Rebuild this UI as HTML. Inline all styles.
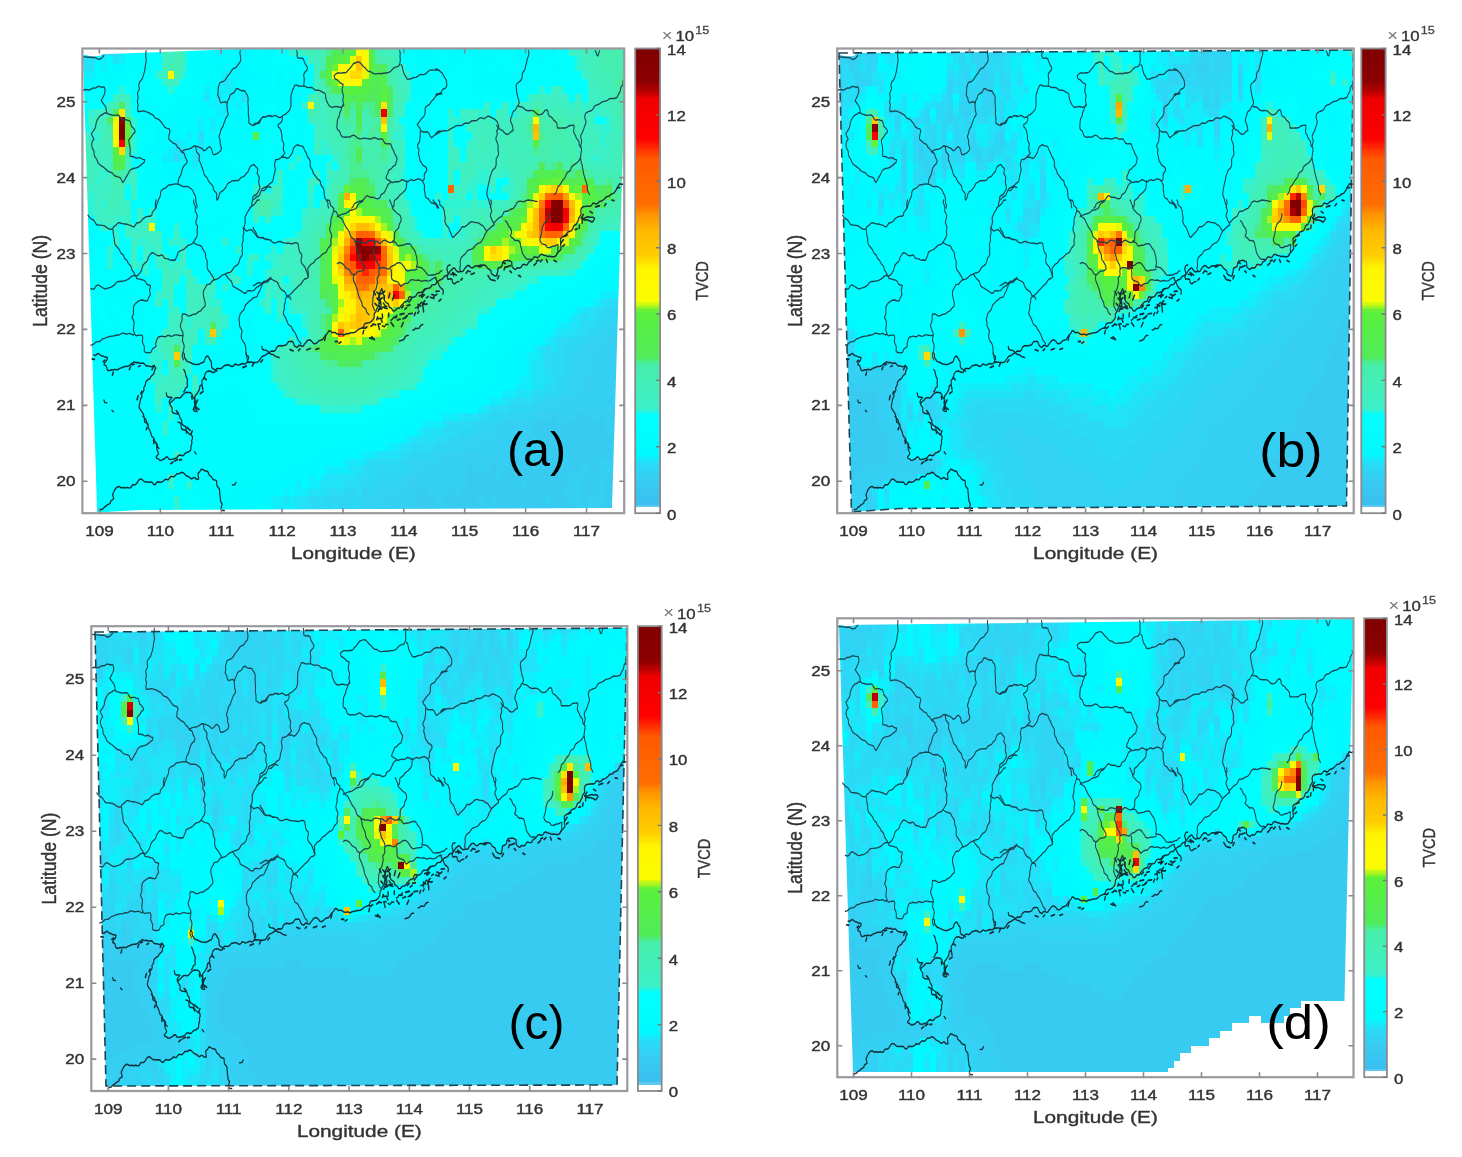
<!DOCTYPE html><html><head><meta charset="utf-8"><style>html,body{margin:0;padding:0;background:#fff;overflow:hidden}svg{display:block;filter:blur(0.5px)}text{font-family:"Liberation Sans",sans-serif}</style></head><body>
<svg width="1462" height="1157" viewBox="0 0 1462 1157">
<rect width="1462" height="1157" fill="#fff"/>
<defs>
<path id="bnd" d="M-0.3,10.3 2.7,11.0 5.9,11.1 9.0,11.5 12.2,11.4 15.3,11.9 18.5,11.9 21.6,11.9 24.6,13.6 27.7,14.2 30.7,13.4 33.0,11.4 35.4,9.4M-0.3,55.8 2.6,54.5 5.7,54.0 8.9,54.5 12.0,54.6 14.9,53.2 17.7,52.0 21.1,52.1 23.9,50.8 26.7,49.7 29.1,50.5 32.1,50.7 36.0,51.1 37.2,54.6 37.0,57.9 35.6,61.0 34.0,63.7 32.4,66.4 30.9,68.8 33.1,71.1 35.1,73.5 37.3,75.8 38.9,78.6 39.3,81.9 40.2,84.9M40.2,84.9 42.9,86.4 45.9,86.9 48.8,87.6 51.8,88.0 55.1,87.7 58.4,87.5 61.1,89.0 63.1,92.4 65.8,94.5 69.0,93.8 72.1,93.7 74.9,95.0 77.5,94.8 78.7,96.8 79.6,99.7 80.6,102.5 83.0,104.3 85.3,106.3 86.8,109.1 86.2,110.7 83.7,111.9 81.7,114.6 80.1,116.7 77.9,118.2 76.0,120.9 76.5,124.1 77.3,127.0 78.1,129.7 78.3,132.7 78.5,135.8 78.3,138.8 78.4,141.9 81.8,142.2 84.7,142.6 87.6,144.2 90.6,144.4 93.7,143.6 96.4,144.5 99.0,146.0 102.5,146.6 101.6,149.9 98.7,151.6 96.5,153.2 94.2,154.6 91.5,156.3 88.6,157.1 85.7,157.8 82.7,158.1 79.6,159.4 77.2,161.3 75.7,164.0 74.1,166.6 72.2,168.9 70.5,171.4 68.8,174.0 66.5,176.5 64.4,173.7 62.9,170.7 60.1,169.4 56.8,168.8 53.8,167.9 51.3,166.3 49.1,164.1 46.3,162.9 43.3,162.3 40.7,160.8 38.2,158.9 35.7,157.1 33.2,155.5 30.8,154.3 28.2,152.8 25.8,150.9 24.5,148.1 23.1,145.5 21.1,143.4 19.5,140.8 19.2,137.7 18.8,134.7 16.9,132.4 15.8,129.6 15.1,127.0 15.5,124.6 16.6,121.7 18.9,119.5 17.3,116.8 15.7,114.3 15.0,112.0 16.7,110.1 18.6,107.7 20.6,105.4 21.8,102.5 22.2,99.4 23.2,96.5 24.6,93.8 26.4,91.4 28.7,89.0 31.3,87.4 34.2,86.6 36.6,84.7 40.2,84.9M104.5,3.0 104.4,6.0 104.0,9.0 104.2,12.1 104.9,15.2 104.6,18.2 103.7,21.2 103.1,24.2 102.8,27.3 101.9,30.3 101.0,33.2 99.8,36.0 98.9,38.9 97.0,41.4 94.4,43.7 92.8,46.5 92.8,49.7 93.6,52.9 92.3,55.7 90.6,58.5 90.7,61.6 91.6,64.8 90.7,67.8 90.3,70.8 91.6,73.9 91.1,76.9 90.6,79.9 91.3,83.0 94.3,83.0 97.3,82.5 100.4,82.1 103.4,82.8 106.4,83.7 109.2,84.4 111.7,86.0 114.7,86.9 117.1,88.8 119.2,91.3 122.1,92.3 125.1,93.2 127.5,95.1 129.7,97.2 131.8,99.3 133.7,101.8 135.8,104.0 138.9,105.1 142.5,105.9 144.1,109.1 142.7,112.6 142.1,115.6 141.7,118.9 144.0,121.1 146.7,122.6 149.0,124.7 152.2,125.5 154.6,127.3 156.3,130.1 159.0,131.5 161.1,133.8 162.9,136.4 166.1,137.3 168.1,139.7 168.8,142.7 170.6,145.2 172.2,148.2 171.1,151.4 168.2,153.2 166.2,155.5 164.5,158.0 163.4,161.0 162.6,164.0 161.5,166.8 159.6,169.2 158.2,171.9 157.5,174.8 156.9,177.8M121.2,210.0 121.5,206.9 122.8,204.1 124.2,201.3 125.5,198.5 127.1,195.8 128.3,192.9 128.4,189.8 129.7,187.0 132.2,185.1 135.2,184.1 138.0,182.8 140.3,180.6 143.2,179.5 146.3,179.6 149.3,178.7 152.3,178.3 155.4,178.6 158.3,178.8 161.1,179.9 163.9,181.4 166.9,182.0 170.2,181.6 173.3,182.0 176.1,183.4 178.9,185.0 181.3,186.9 182.6,190.0 184.3,192.3 185.7,194.8 186.3,197.8 186.3,200.9 187.0,203.9 188.3,206.8 187.9,210.0M164.0,135.0 166.8,133.8 169.8,133.2 172.8,132.7 175.7,132.2 178.6,131.3 181.2,129.5 184.2,128.0 186.4,130.0 186.8,133.2 187.6,136.1 189.9,138.3 192.1,140.7 191.9,143.9 191.6,147.1 193.3,149.8 194.8,152.4 195.8,155.2 197.2,157.9 198.3,160.7 199.4,163.5 200.4,166.5 202.7,168.6 205.2,170.5 206.5,173.3 208.2,175.8 210.6,177.8 213.1,179.8 214.8,182.3 215.2,185.5 217.1,187.9 219.9,190.0 220.8,192.9 220.4,196.4 221.0,199.8 223.0,197.6 224.3,194.8 225.0,191.7 226.7,189.1 229.8,187.8 232.2,186.0 234.4,183.9 236.5,181.8 237.9,178.9 240.1,176.9 243.4,175.9 245.3,174.5 247.2,174.1 250.1,174.2 253.2,173.9 256.2,174.0 258.4,172.2 260.4,170.0 263.5,169.1 266.4,167.9 268.3,165.4 270.6,163.5 272.9,161.5 273.9,158.3 275.7,155.5 278.3,154.0 281.4,152.8 283.4,153.9 285.1,156.0 287.8,157.9 287.9,161.1 287.0,164.3 288.9,167.0 290.6,169.7 290.1,172.8 289.6,175.8 290.2,178.8 291.4,181.8 291.3,185.0 289.6,187.5 287.8,190.0 285.9,192.3 282.7,193.3 280.1,195.3 279.9,198.6 279.1,201.5 278.1,204.4 277.9,207.5 276.0,210.0M185.5,128.6 188.6,128.9 191.4,130.0 194.3,130.9 197.1,132.3 199.6,134.6 202.8,133.9 205.1,131.3 208.2,129.1 211.3,131.0 212.8,134.1 213.6,137.0 214.6,139.7 218.0,139.6 220.8,138.4 223.9,137.0 227.0,135.0 228.5,132.1 227.3,128.2 226.1,125.5 226.5,122.7 225.9,119.7 224.3,116.6 225.5,113.4 226.7,110.5 227.3,107.6 229.0,105.0 230.9,102.7 231.9,99.7 233.3,97.0 234.5,94.2 235.8,91.5 238.0,89.2 239.6,86.6 238.9,83.7 237.8,81.1 237.9,78.0 237.4,75.0 237.6,72.0 234.8,70.1 231.6,70.7 227.8,71.7 225.7,68.9 225.0,65.6 223.4,63.0 222.1,60.8 223.0,58.2 223.0,55.1 223.1,51.8 224.3,48.5 225.6,45.4 228.5,44.1 231.8,43.2 234.4,41.5 236.4,39.2 238.2,36.8 240.3,34.6 242.5,32.6 244.4,30.1 246.4,27.7 248.9,26.0 252.1,25.1 254.2,22.9 256.2,20.6 258.6,18.5 260.0,15.5 260.0,12.2 259.4,9.1 258.7,6.0 259.3,3.0M237.9,72.2 238.4,69.1 240.4,66.7 241.7,64.0 242.8,61.2 245.3,59.6 248.2,58.4 250.6,56.6 252.2,53.3 255.5,52.8 258.4,54.4 261.3,55.6 264.4,55.3 267.1,56.3 268.7,59.0 271.0,61.4 272.0,64.2 272.2,67.6 271.9,70.8 272.2,73.8 272.6,76.8 272.6,79.8 272.6,82.7 272.5,85.7 272.9,88.7 273.5,91.6 273.5,94.7 273.3,97.9 276.1,99.5 278.8,101.0 281.8,101.2 284.5,99.6 287.5,99.0 290.6,98.2 292.3,95.5 293.7,92.8 295.7,90.5 298.3,89.8 300.8,90.3 303.8,89.0 306.8,88.5 309.8,88.6M295.1,186.9 298.3,187.2 300.9,185.3 303.4,182.7 306.4,182.0 309.8,183.2M352.0,3.0 352.9,6.1 352.5,9.0 353.3,12.0 356.5,13.0 360.3,12.3 363.1,14.0 364.4,17.2 365.8,19.9 367.7,22.5 369.8,25.5 368.7,28.8 365.7,31.0 363.7,33.6 363.7,36.9 364.5,40.0 364.3,43.2 363.8,46.3 363.9,49.4M363.9,49.4 360.8,49.6 357.8,49.6 354.7,49.4 351.7,48.0 348.6,48.5 347.2,51.7 345.4,54.1 344.7,56.8 343.3,59.7 342.6,62.7 342.7,65.8 342.4,68.9 342.7,72.0 342.6,75.2 341.7,78.1 340.6,81.1 338.2,83.1 335.7,84.9 333.2,86.7 330.3,87.8 328.0,89.4 325.3,90.7 322.2,90.9 319.3,89.1 316.3,88.1 313.1,89.1 310.1,89.6 307.0,88.5 303.9,88.6 301.1,90.3 298.0,90.5 295.1,90.7 293.2,92.9 290.9,95.0 288.9,97.4 285.8,98.3 282.7,98.8 280.5,101.3M328.2,90.4 328.4,94.2 326.9,96.8 324.3,98.7 321.1,100.4 321.8,103.2 324.4,105.4 326.0,108.0 326.9,111.0 327.6,114.0 327.9,117.1 327.9,120.3 329.6,123.0 331.0,125.7 330.5,129.0 329.9,132.2 330.9,135.1 332.7,137.7 330.8,139.8 328.4,141.7 326.3,143.7 323.9,145.0 320.9,146.2 318.2,146.3 317.1,146.7 316.6,149.5 315.6,152.5 316.1,155.5 317.0,158.7 316.4,161.7 315.6,164.6 314.4,167.5 313.8,170.4 313.1,173.8 311.4,176.3 308.3,177.7 305.9,179.6 303.6,181.4 300.8,182.4 298.0,183.5 295.2,184.7 293.7,187.4 292.3,190.1 290.9,193.0 288.4,194.9 285.2,195.7 283.0,197.8 280.5,199.6M363.9,49.4 366.8,50.3 369.6,51.5 372.8,51.3 375.9,51.2 378.7,52.3 381.5,54.5 384.5,55.0 387.5,54.8 390.2,55.4 392.6,56.8 395.5,57.9 398.3,59.0 399.5,61.3 399.6,64.2 400.3,67.2 401.9,69.9 403.1,72.3 405.0,74.8 407.3,76.8 410.5,77.4 413.5,76.8 416.4,76.3 419.5,76.7 422.8,77.6 426.0,77.0 429.4,74.8 428.4,71.0 427.7,68.1 428.5,64.9 428.8,61.8 427.6,58.9 426.7,56.0 426.8,53.2 427.5,50.4 428.2,47.3 425.8,46.2 423.1,45.0 420.8,42.8 418.1,41.0 415.8,40.2 414.5,39.1 413.5,35.8 416.1,33.7 419.0,32.1 422.0,32.2 425.1,32.5 428.1,31.9 431.4,32.0 434.5,30.9 436.6,28.4 439.0,26.6 441.2,24.5 443.2,22.2 445.1,20.1 447.8,19.1 450.7,18.1 453.7,17.6 456.3,18.8 458.6,20.7 460.7,23.0 463.2,24.7 465.6,26.5 467.7,28.8 470.4,30.3 473.6,30.5 476.3,32.0 479.1,33.2 482.1,33.5 485.0,33.1 488.0,32.8 491.1,33.2 494.1,32.6 497.1,32.1 500.1,32.2 503.1,31.5 506.0,30.4 508.3,28.4 510.5,26.4 513.1,24.8 516.3,24.2 519.5,23.3 521.1,20.5 522.0,17.6 522.3,14.5 521.8,12.0 521.9,9.0 522.2,5.8 521.1,3.0M428.2,74.0 426.6,76.6 425.7,79.4 424.2,82.1 422.7,84.7 422.4,87.8 421.0,90.5 419.3,93.1 418.7,96.1 418.4,99.2 418.1,102.3 418.3,105.3 420.1,107.7 422.3,108.5 423.6,111.5 425.0,114.7 427.5,116.3 430.5,116.9 433.2,116.4 436.2,116.8 439.2,116.6 442.1,115.1 445.3,114.0 448.4,115.3 451.0,117.3 453.8,118.5 456.8,119.0 459.8,118.7 462.7,118.1 465.7,118.4 468.7,118.7 471.7,119.2 474.7,119.1 477.6,117.8 480.6,117.4 483.5,118.5 486.1,119.6 489.7,119.0 492.9,119.3 494.8,122.0 497.0,124.8 499.9,125.6 503.2,125.3 506.5,125.7 507.9,128.5 508.8,131.4 510.7,133.9 512.1,136.5 513.4,139.2 515.1,141.6 517.0,144.3 516.3,147.5 515.3,150.4 514.4,153.3 511.8,154.5 509.4,156.2 507.3,158.5 504.2,159.4 502.6,162.1 501.5,164.9 499.8,167.5 498.6,170.9 501.7,173.1 504.8,174.0 507.2,176.0 503.9,177.8 501.4,179.7 500.5,182.3 498.9,184.7 497.3,187.6 495.5,190.0 492.6,191.3 490.1,193.1 488.8,196.4 485.7,197.9 482.5,197.7 479.5,196.3 476.5,195.7 473.4,196.2 470.6,195.0 467.7,193.7 465.0,195.6 462.7,198.1 460.4,199.9 457.8,200.8 454.5,201.2 451.6,202.3 448.6,203.2 446.1,205.1 444.9,208.1 442.5,210.0M506.8,176.0 509.9,176.5 513.0,175.6 516.1,175.1 519.2,175.6 522.1,174.3 525.0,172.7 528.3,173.5 531.6,175.3 534.8,175.6 537.6,173.6 540.7,172.8 543.9,174.0 546.8,173.3 550.0,172.1 553.2,171.8 556.1,173.0 558.7,174.6 560.0,176.9 561.8,179.6 561.9,182.8 561.6,186.0 562.5,189.0 563.0,192.0 563.4,195.3 565.9,197.1 568.7,198.4 570.7,201.0 572.9,203.2 576.2,203.8 579.5,204.8 581.7,206.9 583.1,210.0M533.1,174.1 532.7,177.2 532.5,180.3 532.2,183.3 530.7,186.1 528.5,187.9 526.3,190.0 523.7,191.6 521.0,193.2 519.1,195.7 516.8,197.7 514.0,199.1 512.0,201.4 512.2,204.5 511.5,207.5 509.2,210.0M523.5,21.2 525.5,23.7 526.1,26.8 527.0,29.7 528.1,32.7 529.9,35.2 531.9,37.7 533.2,40.1 535.4,40.3 538.5,40.2 541.4,39.2 544.4,38.4 547.5,38.1 550.4,37.0 553.1,35.2 556.0,34.1 559.2,34.4 562.3,34.0 565.0,32.4 567.5,30.5 570.2,29.0 573.3,28.1 576.5,28.5 579.5,28.4 582.6,28.1 585.7,28.3 588.1,30.5 590.7,32.1M590.7,59.4 587.7,59.9 584.6,60.3 581.9,61.7 579.5,63.8 577.6,66.3 575.3,68.1 572.9,69.9 571.3,72.5 569.0,74.4 566.0,75.7 563.5,77.5 562.9,80.7 563.1,83.9 562.5,86.9 560.7,89.6 558.2,91.6 555.9,93.6 554.0,95.9 552.1,98.2 550.1,99.8 551.7,102.4 554.1,104.3 555.4,107.1 555.1,109.5 555.0,112.1 555.0,115.2 554.4,118.2 554.2,121.2 553.0,124.0 550.8,126.7 550.7,130.0 552.9,132.9 552.4,136.0 551.9,139.2 553.5,141.9 553.9,145.0 554.8,148.0 556.9,150.4 558.5,152.9 560.9,154.6 563.8,155.8 565.7,158.4 565.5,161.0 563.4,163.3 561.6,165.9 561.5,169.1 561.5,172.2 559.3,174.1M556.9,108.6 559.8,110.0 563.3,109.8 567.0,110.0 569.6,112.4 571.3,115.5 573.7,117.6 576.3,115.6 579.1,114.0 582.0,112.6 584.9,111.3 587.6,109.7 590.7,108.6M354.4,126.8 357.1,128.3 360.4,128.3 363.1,129.8 364.3,132.7 365.9,135.3 367.8,137.7 368.9,140.5 370.3,142.9 372.5,145.5 374.2,148.3 374.4,151.4 374.1,154.5 375.5,157.2 377.4,159.6 378.5,162.5 379.9,165.2 382.2,167.2 384.3,169.5 386.2,171.9 389.2,173.2 391.1,175.8 391.5,179.1 393.3,181.4 395.7,183.8 396.7,186.7 397.1,189.8 397.3,193.0 398.1,196.0 399.6,198.7 401.9,201.1 403.5,203.8 403.2,207.2 404.4,210.0M354.4,126.8 351.4,127.6 348.7,129.2 346.7,131.4 345.8,134.4 344.7,137.3 342.8,139.8 340.8,142.1 338.5,144.1 335.8,144.9 334.3,143.7 331.7,143.1 328.2,143.2M732.8,3.0 733.5,6.2 732.9,9.2 731.5,12.1 730.4,15.0 729.9,17.9 728.9,20.8 727.9,23.7 727.2,26.7 725.7,29.4 723.3,31.7 722.5,34.6 722.4,38.0 721.1,40.9 718.9,43.0 716.2,44.8 713.3,46.8 712.3,50.2 712.9,53.5 713.3,56.5 713.9,59.5 714.8,62.4 715.5,65.3 716.8,68.3 717.6,71.4 716.2,74.5 714.0,76.3 712.7,79.1 710.7,81.4 707.9,82.9 706.2,85.5 705.5,88.6 703.9,91.3 703.1,94.5 704.2,97.7 705.9,100.4 706.7,103.3 707.3,106.3 707.6,108.2 705.2,108.8 702.6,110.6 700.5,112.5 698.1,113.2 695.1,112.3 692.7,110.3 690.5,108.2 687.5,107.1 684.8,105.7 682.3,103.8 680.4,101.3M716.1,75.8 719.0,76.7 722.1,77.0 724.8,78.5 727.4,80.6 730.2,81.7 733.3,82.0 736.5,81.7 739.5,81.9 742.4,82.9 745.1,84.9 747.8,86.9 751.3,87.5 754.7,86.5 757.4,84.4 759.7,81.7 762.9,80.6 764.8,83.0 765.3,86.3 767.0,89.0 770.2,90.3 772.5,92.3 774.5,94.6 777.2,96.2 779.4,98.5 779.8,101.6 780.3,104.7 783.1,104.7 786.2,104.8 789.2,104.7 792.3,104.7 795.3,104.3 798.1,102.4 801.0,101.4 804.1,101.3 807.4,101.1 807.7,104.7 807.0,107.8 807.1,110.7 808.7,112.7 810.3,115.1 811.4,118.3 813.6,120.2 815.7,122.5 815.9,125.7 816.9,128.5 819.7,130.9 820.0,134.1 819.0,137.1 818.7,140.1 818.3,143.1 817.2,145.5 815.5,147.8 813.3,149.9 810.6,151.5 807.9,153.0 805.1,154.5 803.1,156.8 801.9,159.9 799.7,161.9 796.7,163.1 794.8,165.5 793.6,168.7 791.8,171.1 789.4,173.0 787.5,175.4 785.8,178.0 783.8,180.3 781.3,181.8 780.0,184.3 779.5,187.4 778.1,190.1 775.7,192.3M580.4,112.2 582.9,109.7 585.9,109.0 589.0,108.8 592.2,108.7 595.2,108.2 598.4,108.5 601.4,107.9 604.1,106.2 606.9,105.0 609.8,103.8 612.5,102.3 615.5,101.6 618.7,101.2 621.9,101.5 624.8,100.6 627.5,98.7 630.6,98.1 633.9,98.7 636.7,97.3 639.3,95.3 642.5,95.2 645.7,95.2 648.6,94.3 651.2,92.3 654.2,91.1 657.3,91.8 660.5,92.2 663.4,90.5 666.5,89.0 669.7,89.9 672.8,91.2 675.7,92.3 678.7,93.9 681.3,96.4 682.8,99.2 684.2,102.8 682.5,106.1 680.4,108.6M680.4,108.6 681.8,111.6 680.8,114.6 679.3,117.7 679.7,120.9 681.4,123.6 682.4,126.4 683.0,129.2 682.9,131.7 682.7,134.3 683.7,137.5 683.3,140.5 681.4,143.1 679.8,145.1 679.6,148.3 679.8,152.0 679.1,155.1 677.6,157.5 674.9,159.4 672.7,161.7 671.8,164.6 670.3,167.3 669.3,170.2 668.8,173.2 667.9,176.0 667.0,178.8 666.3,181.7 665.4,184.6 665.0,187.6 664.3,190.4 664.7,193.3 665.8,196.1 667.4,198.6 668.0,201.5 669.0,204.3 670.9,206.9 670.9,210.0M580.4,26.7 583.4,27.5 585.8,29.3 588.6,30.6 591.1,32.4 592.8,35.1 594.7,37.5 596.4,40.1 597.7,41.8 598.2,44.1 598.6,47.3 598.1,50.4 595.9,52.5 592.8,53.3 590.7,55.5 588.9,58.1 586.0,59.1 582.9,59.4 580.4,61.2M818.6,130.4 818.7,127.4 819.7,124.3 820.1,121.3 819.0,118.2 818.4,115.1 819.9,112.3 821.7,109.8 823.1,107.1 824.2,104.2 825.5,101.5 826.8,98.6 827.1,95.6 825.6,92.3 825.2,89.0 826.7,85.3 830.2,83.6 833.0,82.6 836.1,81.9 838.5,80.1 840.2,77.4 842.4,75.2 845.5,74.3 848.4,73.4 851.1,71.9 853.8,70.4 856.8,69.6 859.8,69.1 862.7,68.2 865.4,66.4 868.2,65.6 871.5,66.0 874.5,65.5 877.5,64.9 879.3,62.8 880.6,60.0 882.7,57.5 883.9,54.7 884.4,51.6 886.4,49.1 888.5,46.8 887.7,43.0M818.6,145.0 819.0,148.1 819.7,151.1 821.2,154.0 821.4,157.1 822.3,160.0 822.9,163.0 823.7,166.0 824.8,168.9 825.7,171.9 827.1,174.7 828.2,177.6 829.2,180.5 829.5,183.7 829.5,186.9 831.5,189.5 832.9,192.3M842.4,3.0 844.4,6.0 845.4,9.4 846.8,9.7 848.3,6.3 849.6,3.0M9.2,219.6 11.2,221.8 13.5,223.8 16.4,225.0 19.0,226.7 20.9,229.1 22.9,231.8 26.1,232.6 29.3,232.6 32.4,233.0 35.5,233.4 38.1,234.6 40.7,236.3 43.6,237.7 46.6,238.2 49.6,237.4 51.1,234.9 53.9,233.4 56.4,231.6 58.6,229.7 61.1,229.5 64.0,230.3 66.9,231.0 69.9,231.1 72.9,231.4 75.8,232.3 78.8,232.8 81.6,234.3 85.0,234.8 87.2,232.1 89.3,229.8 92.6,229.2 95.5,228.2 97.8,226.1 99.9,224.0 102.5,222.7 105.3,221.4 108.3,221.0 111.5,221.0 114.2,219.5 114.6,216.3 116.7,213.9 119.2,211.7 120.1,208.7 119.7,205.4 120.4,202.5 121.2,199.5M49.7,237.8 50.7,240.7 50.7,243.7 51.2,246.7 52.4,249.5 52.5,252.5 52.9,255.8 54.1,258.7 56.4,260.8 58.7,262.9 60.9,265.1 62.2,267.9 64.1,270.2 67.0,271.8 68.5,274.5 70.0,277.0 72.7,278.7 74.4,281.3 76.0,283.8 78.7,285.5 80.4,288.1 81.2,291.3 83.1,293.7 85.2,295.9 86.6,298.8 89.3,299.8 92.2,297.8 94.4,295.7 96.2,293.2 97.7,290.4 98.7,287.3 100.0,284.7 102.4,282.7 105.2,281.0 107.1,278.7 108.1,275.5 110.0,273.1 111.9,270.7 114.7,268.8 117.8,269.8 120.3,271.3 123.1,272.7 126.1,273.0 129.7,271.9 132.5,273.2 134.5,276.0 137.6,276.7 140.6,277.1 143.3,278.4 146.3,278.9 149.4,278.6 152.0,279.0 153.4,276.7 155.0,274.1 156.3,271.4 157.1,268.4 159.8,266.9 162.7,265.9 165.5,264.8 168.2,263.5 170.6,261.6 173.1,259.6 175.9,258.7 178.9,258.0 181.4,256.2 183.2,254.2 184.8,251.8 186.9,249.5 188.3,246.8 188.7,243.8 188.4,241.4 188.5,238.5 189.2,235.3 188.0,232.4 186.3,229.6 186.8,226.5 188.3,223.2 188.7,220.1 187.3,217.2 185.4,214.5 185.3,211.4 185.5,208.3 184.0,205.5 182.7,202.7 183.1,199.5M183.1,256.0 185.9,257.4 188.7,258.6 191.7,259.0 194.5,260.0 196.3,261.2 197.1,263.4 199.2,265.9 201.4,268.3 202.3,271.2 202.3,274.4 203.6,277.2 205.1,280.0 205.0,283.1 204.8,286.3 205.2,289.4 206.7,292.1 209.1,294.3 211.1,296.6 212.9,298.9 214.8,301.2 216.2,304.3 214.4,305.7 212.0,307.6 209.8,310.1 206.9,310.7 203.9,311.4 202.5,314.2 200.7,316.6 199.0,319.1 198.5,322.2 198.7,324.8 199.4,327.6 200.4,330.5 201.2,333.4 201.9,336.4 201.5,339.2 198.9,341.1 196.6,343.2 194.4,345.4 191.4,346.6 188.7,348.1 186.1,349.7 182.9,350.1 179.9,350.7 176.9,352.1 173.7,352.2 170.7,350.6 167.7,349.5 164.2,349.9 163.6,353.1 163.8,356.2 163.2,359.2 161.7,362.0 160.8,365.1 161.7,368.1 163.2,371.0 164.8,373.8 165.6,376.7 165.0,379.9 164.4,383.1 164.7,386.1 166.4,388.9 167.3,391.9 166.6,395.0 166.1,398.0 164.7,401.1 163.9,404.1 164.6,407.1 166.4,410.2M87.8,299.7 84.4,298.9 81.4,299.8 78.7,301.7 75.9,303.4 73.1,304.8 70.1,305.8 67.1,306.3 63.9,306.6 60.7,306.8 57.4,307.1 54.7,309.1 52.6,311.5 49.8,313.0 47.4,314.3 44.9,315.0 41.8,315.5 38.5,316.6 35.5,316.1 32.5,314.5 29.4,313.1 26.0,311.3 22.9,312.4 20.2,316.0 17.2,317.2 13.9,316.1M87.8,299.7 89.1,302.9 92.5,303.4 95.8,304.1 98.5,304.9 101.3,305.1 103.7,307.1 105.8,310.2 108.5,311.5 111.9,311.9 111.4,315.2 110.2,318.2 111.0,321.2 111.6,324.2 110.0,326.6 108.3,329.0 107.2,331.9 104.5,332.6 101.5,331.9 98.6,331.2 95.9,331.5 92.9,332.5 90.2,334.0 87.3,335.7 84.8,338.5 83.9,341.7 83.8,344.8 84.0,348.0 83.1,350.9 81.6,353.8 83.2,357.0 84.8,359.8 84.8,362.9 84.3,365.9 83.8,369.0 84.1,372.0 85.7,375.0 84.0,377.4 80.6,376.2 77.6,375.2 74.6,375.8 71.6,376.0 68.6,375.2 65.6,374.8 62.6,376.2 59.6,377.5 56.7,377.3 53.9,378.0 51.1,378.8 47.9,378.8 45.0,379.3 42.0,379.8 39.1,380.8 36.2,381.7 33.3,382.3 30.8,384.3 28.2,385.9 25.1,386.1 22.1,386.7 19.6,388.6 16.9,390.1 13.9,390.7M85.4,376.1 88.1,378.4 91.3,377.8 94.4,377.4 98.0,377.4 99.3,380.8 98.7,384.0 98.7,387.1 100.3,389.8 101.7,392.6 101.7,395.7 101.6,399.0 104.0,400.4 107.1,400.6 110.0,400.9 112.4,400.2 113.9,397.5 115.6,394.9 118.8,393.9 120.9,392.0 120.4,388.8 121.4,386.0 122.4,382.9 124.3,380.3 127.6,379.4 130.5,378.7 133.8,379.5 136.9,379.6 139.7,377.9 142.8,378.0 145.8,379.1 148.9,378.4 151.9,377.2 154.9,377.1 158.0,377.7 161.0,378.2 164.0,378.0M216.4,305.1 219.3,304.1 222.2,303.3 225.0,301.9 227.5,300.0 230.0,298.3 232.9,297.4 235.6,296.4 238.5,295.5 241.8,295.0 244.6,293.7 246.7,291.4 248.5,288.8 250.8,286.9 253.7,285.6 256.1,283.6 257.5,280.8 258.4,277.8 259.8,275.1 262.0,272.9 263.0,270.0 262.3,267.1 262.9,264.3 262.8,261.2 262.1,258.2 263.4,255.2 264.3,252.2 263.8,249.1 264.0,246.1 265.3,243.1 264.9,240.1 264.5,237.1 265.9,234.3 266.8,231.5 267.5,228.6 267.3,225.4 267.1,222.2 268.8,219.5 270.1,217.0 271.9,214.6 273.8,212.3 275.2,209.5 277.7,207.9 280.5,206.6 282.9,204.8 285.1,202.6 286.9,199.8 290.3,199.5M264.1,235.9 266.7,237.9 269.3,240.4 272.5,239.5 275.8,238.5 278.7,239.4 280.6,241.2 282.5,243.2 284.8,245.3 286.5,247.6 289.3,249.1 292.4,249.3 295.8,248.8 298.5,249.9 300.9,251.5 303.8,251.3 306.8,252.1 309.8,252.3M235.5,297.8 237.4,300.3 239.6,302.5 242.0,304.5 244.5,306.3 246.0,309.2 247.1,312.6 249.7,314.4 252.8,315.5 255.6,317.0 258.5,318.2 261.2,319.6 263.8,321.3 266.6,322.6 269.3,321.7 270.8,319.2 274.2,318.8 278.1,319.2 281.1,318.9 283.3,317.0 285.9,314.6 288.7,313.6 291.2,312.4 293.6,310.6 295.8,308.2 298.4,306.5 301.7,306.0 304.6,304.8 307.2,303.1 309.8,301.5M297.4,308.8 295.2,310.9 294.1,313.8 292.6,316.4 291.4,319.2 289.5,321.6 288.1,324.2 286.6,327.0 283.3,327.7 280.3,328.6 278.0,330.6 275.3,331.9 272.9,333.8 270.6,335.8 268.1,337.3 266.9,340.1 265.9,343.1 263.8,345.3 261.4,347.2 259.3,349.4 258.5,352.3 257.3,355.2 257.3,358.2 258.1,361.3 258.0,364.1 258.9,366.9 261.0,369.4 262.3,372.2 261.5,375.5 260.8,378.8 261.4,381.8 262.8,384.5 264.9,386.9 266.9,389.4 267.9,392.2 268.4,395.3 268.4,398.5 268.9,401.5 269.8,404.3 270.2,407.3 271.2,410.2M280.5,235.9 281.8,238.7 284.1,240.9 285.6,243.2 286.8,246.0 289.2,248.4 292.2,249.1 295.3,249.4 298.2,250.2 301.2,250.9 304.2,251.4 307.1,251.9 309.9,253.4 312.6,255.4 315.6,256.1 318.8,255.6 322.0,254.4 325.0,254.1 328.0,255.2 330.9,255.9 334.0,256.3 337.0,256.5 340.0,256.5 343.0,257.2 346.1,256.8 349.1,255.7 352.1,255.9 354.2,257.0 354.6,259.8 355.5,262.7 355.9,265.7 357.3,268.5 360.1,271.0 360.5,274.0 359.3,277.3 359.3,280.5 360.5,283.3 362.8,285.4 365.2,287.5 366.7,290.2 367.9,292.9 369.3,295.7 370.2,298.6 371.1,301.5M402.0,199.5 405.8,200.2 407.0,203.1 407.6,206.6 410.2,208.4 413.0,210.7 412.4,214.2 411.5,217.1 410.2,219.9 408.9,222.7 408.2,225.6 408.1,228.7 408.0,231.7 406.9,234.6 406.1,237.6 406.8,240.6 408.4,243.4 409.5,246.3 408.9,249.4 408.0,252.4 408.4,255.2 408.2,258.7 406.1,260.9 403.6,262.8 402.1,265.4 400.5,268.1 397.9,269.5 395.0,270.5 392.6,272.3 390.2,274.2 387.7,275.8 385.0,277.2 382.5,278.7 380.7,281.3 378.3,283.1 375.3,284.2 373.3,286.4 371.3,288.4 370.1,289.9 370.6,292.4 370.9,295.4 371.3,298.4 371.1,301.5M371.1,301.5 368.3,302.9 365.2,303.6 362.8,305.6 360.7,308.1 358.7,310.4 356.1,312.0 353.6,313.8 351.4,315.9 348.8,317.7 346.5,319.6 344.2,321.6 341.8,323.6 339.2,325.3 336.3,326.3 334.2,328.5 333.4,331.5 333.1,334.8 331.9,337.4 331.7,340.2 331.7,343.2 330.4,346.3 330.0,349.5 331.8,352.0 333.7,354.3 335.1,357.1 336.5,359.9 337.8,362.8 340.5,364.6 343.3,366.3 344.7,369.1 346.6,371.4 348.8,373.7 350.4,376.3 351.9,379.0 353.3,381.7 354.8,384.5 357.1,386.6 359.1,388.9M413.9,214.1 417.0,215.0 418.6,217.9 420.3,220.8 422.7,222.3 425.5,223.8 427.4,226.2 428.9,228.9 430.6,231.4 432.0,234.0 433.9,236.4 436.1,238.5 438.0,240.8 439.3,243.7 440.4,246.8 442.2,249.0 445.3,250.6 447.8,252.7 448.9,255.7 449.3,258.8 449.7,261.8 451.0,264.6 452.5,267.2 454.1,269.7 455.2,272.5 455.4,275.9 456.6,278.7 458.8,280.9 460.7,283.5 462.6,286.2 463.5,290.0 460.4,292.5 457.1,293.0 453.9,293.2 451.2,294.7 448.9,296.8 446.4,297.9 445.4,299.8 445.0,303.0 445.7,306.0 447.2,308.7 448.7,311.4 449.9,314.2 451.3,316.9 452.4,319.7 453.0,322.7 453.9,325.7 455.2,328.4 456.7,331.1 458.6,333.5 459.5,336.5 460.2,339.7 463.2,341.4 465.8,343.3 466.6,346.5 468.5,348.8 471.1,350.6M418.7,283.3 422.2,281.6 425.1,282.7 428.2,283.9 430.6,286.3 432.7,288.9 435.4,290.3 438.4,291.3 440.3,293.7 441.8,296.6 444.9,297.8M447.3,254.1 450.3,253.7 453.4,254.9 456.4,255.3 459.5,255.0 462.5,256.1 465.6,256.1 468.6,253.9 471.7,252.4 474.7,252.8 477.8,253.7 480.8,253.7 483.9,253.9 486.9,256.3 490.0,256.6 493.0,253.7 496.1,252.2 499.1,253.3 502.2,254.8 505.2,255.6 508.1,255.0 511.4,254.5 514.5,255.4 516.4,258.1 518.9,260.2 522.1,259.4 525.1,259.1 528.1,258.8 531.1,257.7 534.1,257.1 537.5,257.0 539.9,259.1 541.6,261.8 543.9,263.9 545.9,266.2 547.1,269.0 548.1,271.9 549.1,274.8 549.5,277.7 550.0,280.9 550.1,284.0 548.9,286.7 549.0,288.0 551.6,287.8 554.6,288.2 557.8,289.1 560.3,291.4 562.8,293.2 565.0,295.6 567.2,298.1 570.5,298.8 573.8,298.3 576.9,298.3 579.9,297.6 582.5,296.5 585.7,296.0 588.0,293.7 590.7,292.4M480.6,254.1 480.8,257.2 479.9,260.1 478.8,263.0 478.4,266.0 478.2,269.0 479.8,271.7 480.8,274.5 481.5,277.4 483.0,280.0 484.7,282.5 486.5,285.0 487.5,287.9 487.4,291.0 486.9,293.9 487.7,297.1 486.3,299.9 484.0,302.5 484.5,305.7 484.7,308.8 483.6,311.7 483.0,314.6 481.8,317.4 479.7,319.9 478.7,322.7 478.0,325.7 477.1,328.6 477.0,331.7 477.0,334.7 476.3,337.5 477.5,340.1 478.8,342.8 480.6,345.2M504.5,199.5 506.1,202.1 507.5,204.8 508.9,207.5 509.4,210.5 511.5,212.7 514.0,214.5 516.2,216.6 518.6,218.0 521.2,219.0 523.0,221.7 523.6,224.6 523.2,227.8 521.3,230.0 520.2,232.7 519.7,235.8 517.6,238.1 514.8,240.0 513.1,242.5 512.8,245.8 512.8,249.2 512.2,252.3 509.2,254.1M487.8,290.6 490.8,288.8 493.8,288.7 496.8,288.8 499.8,289.9 502.9,290.5 505.5,288.7 507.8,286.9 510.4,286.0 513.1,285.1 515.9,283.1 518.9,282.2 522.4,282.2 525.1,284.2 527.2,286.5 529.4,288.8 531.4,291.7 534.4,293.1 537.8,292.5 540.9,291.9 543.8,291.8 546.8,291.4 549.7,290.6M506.8,290.6 507.5,293.5 507.8,296.5 507.6,299.8 508.1,303.3 510.7,305.5 514.1,306.4 517.6,307.3 519.8,309.3 521.6,311.8 523.4,313.3 523.6,313.0 525.8,311.7 528.4,310.0 531.6,309.3 534.5,309.1 537.0,307.0 539.5,304.8 542.7,304.3 545.7,305.1 548.7,305.4 551.7,304.9 554.5,305.6 557.5,306.8 560.6,305.7 563.6,305.3 566.5,306.4 569.5,306.1 572.3,305.0 575.0,303.4 577.7,302.2 580.7,301.5M461.6,199.5 459.5,201.8 456.5,202.8 453.9,204.5 452.0,206.9 450.2,209.8 447.5,211.6 444.5,212.3 441.4,212.7 438.5,213.7 436.0,215.6 433.2,216.9 430.2,217.6 427.2,218.1 424.3,219.1 421.4,219.8 418.7,221.4M575.9,199.5 578.1,202.4 581.2,204.5 583.6,207.3 585.5,210.4M280.5,312.4 283.5,311.4 286.3,309.6 289.2,308.2 292.2,308.8 295.1,309.1 297.9,308.3 301.4,308.1 304.4,307.2 306.6,305.0 308.6,303.2 310.5,303.6 313.1,304.9 315.9,306.1 318.9,307.0 321.2,309.0 322.6,311.9 324.1,314.7 326.2,316.9 328.9,318.5 331.9,319.8 333.8,322.2 335.2,325.0 337.6,326.9 341.1,327.5 342.5,330.6M585.1,199.5 587.0,201.9 586.9,205.5 589.5,207.4 592.3,209.2 593.6,211.9 594.7,214.7 594.8,217.7 595.5,220.7 596.1,223.7 595.3,226.5 596.1,229.4 597.5,232.1 599.6,234.2 601.9,236.3 603.0,239.1 604.4,241.7 605.8,244.4 607.0,247.3 609.6,248.7 611.9,246.3 614.3,244.5 616.6,242.5 618.9,240.6 621.1,238.5 622.6,235.9 624.9,234.6 627.9,234.8 630.7,233.4 633.3,231.6 635.9,229.6 638.8,228.0 641.9,228.4 645.1,229.3 648.1,229.4 650.8,229.8 653.4,231.3 655.9,232.8 658.3,233.6 660.1,235.6 661.9,238.0 663.8,240.6 662.7,243.3 660.6,245.5 659.6,248.5 657.9,251.0 656.0,253.4 653.8,255.6 650.7,256.4 647.9,257.6 645.5,259.4 643.4,261.6 641.1,263.6 638.1,264.5 635.0,265.3 632.2,266.5 630.2,268.9 628.3,271.2 625.5,272.8 623.0,274.6 621.3,277.2 620.4,280.2 620.9,283.4 620.8,286.4 619.7,289.4 620.9,292.4M670.9,199.5 671.9,202.6 671.0,205.6 670.0,208.7 671.7,211.7 672.4,214.8 670.5,217.8 670.2,221.0 671.8,223.7 673.0,226.5 675.1,228.9 676.4,232.2 673.3,233.9 670.8,235.6 668.4,237.5 665.8,239.1 663.7,241.4M675.6,232.3 676.5,229.1 679.1,227.3 681.5,225.3 683.7,223.4 686.5,222.2 689.1,220.7 690.9,217.7 692.8,214.9 696.1,214.4 699.3,214.0 701.9,212.4 704.8,211.4 707.9,210.5 710.1,208.2 712.2,206.0 713.7,203.2 716.5,201.4 719.6,201.0 722.7,201.6 725.8,201.5 728.8,200.3 731.9,199.5 734.9,199.8 738.0,200.2 741.0,200.3 744.1,201.3 747.1,201.3M694.7,226.8 697.2,228.6 698.8,231.3 700.1,234.2 702.4,235.7 704.1,237.8 704.9,241.1 704.5,244.1 702.8,246.4 704.4,248.3 707.2,249.7 709.0,251.8 711.0,253.1 714.0,252.6 717.2,253.5 719.3,256.5 719.8,259.7 720.9,262.6 721.7,265.4 722.2,268.3 723.9,271.1 726.0,273.6 728.4,276.2 731.0,277.7 734.4,277.6 737.6,277.8M766.2,217.7 766.0,221.2 764.9,224.1 763.6,226.9 760.9,228.9 758.1,230.9 756.6,233.7 755.3,236.5 754.8,239.6 754.4,242.8 753.5,245.7 752.5,248.6 751.3,251.9 752.7,255.0 755.1,257.3 758.4,258.0 761.5,259.1 763.5,261.9 766.9,262.4 769.9,261.4 772.8,260.4 776.0,260.3 778.7,258.7 781.5,258.5 781.0,262.1 780.8,265.1 781.6,267.5 780.2,270.1 778.1,272.4"/>
<path id="cst" d="M18.7,403.8 21.2,404.4 23.9,402.4 26.5,401.8 28.8,403.5 31.2,404.7 33.7,405.1 36.1,406.2 38.6,406.3 41.1,407.2 40.3,410.3 38.3,412.1 36.1,413.9 35.5,416.5 37.8,417.2 39.5,418.5 40.3,421.8 41.8,424.0 44.9,424.2 47.4,423.1 50.0,423.3 52.5,422.8 55.1,422.9 57.7,423.3 59.9,422.0 62.2,420.9 64.6,420.4 67.1,419.4 69.6,418.8 72.1,418.7 74.5,418.6 76.5,417.9 78.5,416.5 80.6,415.1 82.8,413.9 84.9,412.6 87.0,413.4 89.3,413.7 92.0,413.4 94.3,414.6 96.9,414.6 99.6,414.1 101.9,415.5 103.9,417.4 106.3,418.2 108.9,418.0 111.3,418.9 113.8,419.0 116.5,417.9 118.9,418.9 120.7,421.2 118.9,422.9 118.0,425.2 117.8,427.4 116.5,429.1 114.4,430.5 112.5,432.0 111.1,434.4 108.9,435.6 106.7,436.8 105.0,438.1 103.8,440.1 103.5,442.6 102.2,444.9 100.7,446.9 101.2,449.7 100.0,451.9 97.8,453.5 97.8,456.2 97.6,458.6 95.9,460.9 95.1,463.3 94.7,465.7 93.9,468.2 93.1,471.0 93.7,473.7 95.4,475.9 97.4,478.0 99.1,479.9 100.1,481.8 100.8,484.2 102.0,486.4 101.8,489.6 102.4,492.1 105.7,493.0 107.9,494.7 108.1,497.5 108.6,500.0 110.2,502.0 111.5,504.2 112.4,506.4 113.2,508.8 114.3,511.1 116.6,512.5 118.2,514.5 118.7,517.1 120.1,519.1 121.9,521.0 122.1,523.7 122.1,525.9 122.4,528.2 123.8,530.7 125.1,533.6 123.4,535.9 121.1,537.9 121.9,539.8 124.6,540.3 127.1,542.3 129.6,542.5 132.0,541.4 134.5,540.6 137.4,538.1 140.0,538.1 142.0,540.8 144.5,541.3 147.0,541.1 149.5,540.7 151.9,540.0 154.4,539.3 156.4,537.5 158.4,535.6 161.0,535.5 163.9,536.3 166.4,535.7 168.3,533.5 170.5,532.3 172.9,531.8 175.1,530.7 177.6,529.3 178.3,526.7 178.3,523.9 179.3,521.6 179.9,519.2 179.4,516.5 180.7,514.2 180.8,511.1 179.1,509.2 176.4,508.1 174.3,506.6 172.2,505.0 170.7,503.0 170.3,500.2 169.2,497.8 166.7,496.6 164.2,495.3 163.3,492.9 163.0,490.0 161.7,487.9 160.0,486.1 159.3,483.5 157.9,481.2 155.1,480.9 152.5,480.8 150.0,480.3 147.6,478.8 147.4,475.8 147.4,473.3 145.7,471.2 143.6,468.5 145.2,465.8 147.6,464.5 149.7,463.0 151.4,461.2 153.6,459.9 156.6,459.9 159.6,460.2 161.8,459.3 163.5,457.5 165.4,455.7 167.5,454.2 169.7,453.1 171.8,452.8 174.3,453.0 176.9,453.1 179.2,454.5 180.6,456.5 181.3,458.8 183.2,460.7 184.8,462.7 186.0,465.0 186.3,467.6 185.6,470.3 186.1,472.8 187.3,475.1 188.3,478.2 184.4,477.8 182.0,475.6 183.5,472.4 185.0,470.2 184.1,467.3 184.2,464.7 185.1,462.3 184.7,459.5 185.4,457.1 187.7,455.3 189.3,453.2 190.8,451.1 192.4,448.9 192.5,446.3 193.4,444.1 195.8,443.2 196.6,440.9 196.3,437.3 198.1,435.6 200.3,434.1 200.7,431.2 201.5,428.6 203.5,426.2 206.3,424.9 208.9,424.8 212.0,425.8 214.8,426.7 217.1,426.3 219.1,423.5 221.2,421.3 223.7,421.5 226.3,421.6 228.8,421.0 230.8,419.2 233.0,417.6 235.7,417.4 238.1,416.4 240.7,416.7 243.4,418.1 246.0,418.9 248.4,417.9 250.6,415.6 253.2,416.2 255.9,417.0 258.3,416.4 260.7,415.6 263.2,414.9 265.7,415.5 268.2,415.1 270.5,413.4 273.0,412.9 275.5,413.0 278.0,413.1 280.7,413.5 283.3,413.5 285.8,413.6 288.3,412.9 290.5,411.0 292.2,408.8 293.9,406.8 295.9,405.4 298.4,404.6 300.8,403.8 302.9,402.3 305.2,401.4 307.5,400.4 309.5,398.8 312.1,398.3 315.2,398.7 317.3,397.3 318.5,394.4 320.4,392.6 322.7,391.5 325.3,391.2 328.1,391.8 330.6,391.3 333.1,390.9 335.4,389.8 337.2,387.3 339.3,385.8 341.9,385.8 344.1,385.6 345.6,386.4 346.9,388.5 348.0,390.9 349.9,392.6 352.8,393.7 355.2,391.3 357.7,390.8 360.5,392.3 363.0,391.8 364.6,389.5 366.4,387.9 368.1,386.1 370.0,384.4 373.0,383.5 375.7,384.9 377.7,386.5 379.6,388.5 382.1,389.0 384.5,387.8 386.7,386.6 388.6,384.9 391.2,384.3 393.8,383.7 395.8,381.9 397.5,380.0 398.9,377.8 401.0,376.4 402.8,374.7 404.7,371.8 407.7,372.0 409.9,374.3 412.5,374.1 415.0,373.9 417.3,375.4 419.7,376.4 422.2,376.8 424.8,376.2 427.3,376.4 429.5,377.6 431.6,376.4 434.0,375.7 436.7,375.6 438.6,375.1 440.9,374.5 443.5,374.2 446.2,373.9 448.1,373.4 449.2,373.0 450.9,371.6 452.9,370.2 455.5,369.2 458.1,368.3 460.9,367.8 462.1,365.9 463.4,362.8 465.7,361.7 468.2,361.4 470.9,361.2 473.4,360.4 475.5,358.8 477.3,357.1 478.8,355.1 479.3,352.0 479.5,349.0 480.7,348.0 482.2,346.3 482.9,343.9 484.4,341.7 486.4,339.5 487.1,337.1 487.4,334.6 488.0,332.2 488.3,329.7 487.8,327.1 487.7,324.5 488.1,322.0 490.0,319.8 490.8,317.7 491.7,316.4 493.1,318.9 492.9,321.7 494.4,323.8 495.5,326.0 495.5,328.8 496.3,331.3 497.5,333.5 499.7,335.0 502.4,336.2 503.3,338.6 504.4,341.0 507.2,341.8 508.7,343.5 510.4,345.7 513.2,345.5 515.2,343.6 517.3,342.1 520.2,342.2 522.2,340.5 523.8,338.4 525.9,337.0 527.7,335.2 529.6,333.5 532.3,333.1 534.8,332.3 535.7,329.0 537.3,326.9 540.7,327.6 543.6,327.5 546.1,326.9 548.2,325.5 549.6,323.0 551.6,321.5 554.2,321.3 556.5,321.4 558.8,320.3 560.9,317.7 563.2,316.4 565.4,316.3 567.5,315.7 570.3,315.5 572.4,314.0 573.9,311.8 576.4,311.0 579.3,310.9 581.2,309.3 582.9,307.2 585.2,306.1 587.3,304.9 589.8,304.1 592.1,303.0 593.7,300.9 595.8,299.5 598.3,298.8 600.6,297.7 602.4,295.9 603.9,293.6 605.7,291.8 607.8,290.4 610.0,288.9 612.0,289.7 613.4,291.8 615.4,293.3 617.7,294.4 619.1,294.1 621.2,293.8 624.0,293.8 626.1,292.4 627.7,290.0 629.6,288.2 632.0,286.2 635.2,285.9 637.7,288.3 640.2,289.2 642.7,287.9 644.6,286.6 646.8,286.1 649.7,286.4 652.1,285.7 654.7,285.2 656.2,285.1 658.0,285.3 661.5,285.4 663.6,286.8 665.0,288.9 667.1,290.4 669.6,291.5 671.3,293.3 671.6,295.7 673.1,297.5 675.4,298.6 677.8,299.5 680.3,299.6 681.6,298.3 680.6,297.1 682.2,294.6 682.2,292.0 682.8,289.5 685.7,288.5 688.3,287.5 689.6,285.3 690.2,282.5 691.6,280.3 693.8,279.5 696.3,279.3 698.5,278.8 700.5,279.1 703.0,280.1 705.3,281.4 705.5,284.6 705.8,287.4 707.7,289.1 710.0,290.6 711.8,291.0 713.0,289.5 715.5,288.8 718.3,289.0 720.7,288.1 722.2,285.7 724.2,284.2 727.3,284.7 730.5,285.0 732.1,282.9 733.8,280.8 736.1,279.9 738.3,278.6 740.1,276.6 741.9,274.6 744.7,274.7 747.7,275.5 749.9,274.4 751.8,272.0 754.4,270.8 757.1,272.0 759.5,272.7 762.0,273.1 764.4,273.9 766.9,273.7 769.4,274.0 772.0,274.4 774.5,274.3 777.1,273.7 778.9,271.5 780.1,269.3 782.2,267.7 784.3,266.2 786.4,264.1 786.2,261.2 785.6,258.6 786.0,256.1 785.5,253.7 785.3,251.0 787.0,249.0 789.4,247.8 791.7,246.8 793.8,245.5 795.7,243.8 797.4,241.7 799.8,241.0 802.5,240.3 804.4,238.7 805.9,236.6 806.8,233.8 808.9,232.5 811.5,231.5 812.6,229.1 814.1,227.2 815.2,225.5 815.3,223.3 817.2,221.1 819.0,218.9 819.2,216.4 818.6,213.6 819.4,210.9 821.2,209.1 823.8,208.1 826.5,208.2 828.9,207.8 831.5,207.6 834.1,207.9 836.4,206.6 838.3,203.9 840.8,203.7 843.7,204.9 846.2,204.2 848.2,202.4 850.4,201.2 852.9,200.7 855.2,199.7 857.3,198.2 859.1,196.7 860.9,195.1 863.7,194.7 866.3,194.0 868.0,192.0 870.8,191.4 873.4,190.2 875.0,188.3 876.7,186.5 878.1,184.3 879.3,182.5 880.7,180.3 882.5,178.1 885.5,178.7 887.9,178.9 890.0,177.4 892.4,176.2 894.8,175.0 897.4,175.8M521.1,385.2 523.7,384.4 526.4,383.9 528.8,382.5 530.3,379.7 532.5,378.1 535.4,378.0M542.6,370.7 545.2,370.3 547.2,368.3 550.3,368.8 553.0,368.5 554.7,365.9 556.7,364.0 559.3,363.4M492.6,365.2 496.1,366.6 498.7,363.2 502.1,363.4M506.8,357.9 509.1,356.7 510.9,354.1 513.6,354.2 516.4,354.3M525.9,356.1 528.5,355.3 531.1,354.5 533.1,352.5M547.3,341.5 550.5,340.7 552.9,338.9 554.7,336.3 556.9,334.3M556.9,327.0 558.3,324.8 559.0,322.2 560.2,319.8 562.5,318.2 564.0,316.1M294.8,392.5 295.6,396.2 298.3,397.0 301.3,397.3 303.8,398.4 306.0,400.0 308.1,401.9 310.6,402.9 313.4,403.1 315.8,404.4 318.2,405.8 320.9,406.2 323.4,407.1M821.0,223.2 823.7,223.8 826.2,222.8 828.7,221.9 831.3,221.5 833.7,222.1 836.4,222.3 839.3,222.1 841.5,224.1 840.7,225.3 839.2,227.1 837.2,228.8 834.7,227.5 832.2,226.5 829.6,225.8 827.0,225.5 824.6,226.1 822.7,225.1 821.0,223.2M604.2,285.1 601.0,285.7 599.6,287.9 598.8,290.7 599.9,293.3 600.6,295.7 600.5,298.3 599.1,301.2 600.4,304.0 605.1,303.1 607.3,304.2 607.9,307.5 609.6,309.5 611.7,309.9 613.6,308.4 615.8,307.3 618.5,306.9M580.4,301.5 581.2,304.2 582.6,306.7 584.3,308.8 585.6,311.3 587.0,313.6 589.2,315.6 592.0,317.4 593.0,320.0 592.3,323.3M166.4,422.9 168.3,425.0 168.9,427.5 169.7,430.0 170.5,432.4 172.2,434.6 172.6,437.3 172.0,440.2 172.5,442.7 172.5,445.2 171.1,446.2 169.3,447.2 168.3,450.2 166.4,452.0M166.4,401.0 167.6,403.3 167.4,406.2 168.8,408.4 170.6,410.4 172.1,412.1 174.6,412.7 177.1,413.5 179.5,414.5 182.0,415.4 184.5,415.9 187.1,416.2 189.9,416.3 192.4,415.4 194.8,414.4 197.3,413.6 199.7,412.5 200.8,409.9 201.9,407.6 203.7,405.6 205.7,405.1 207.8,407.1 209.0,409.4 211.0,411.3 212.0,413.8 211.9,416.7 212.4,419.4 213.9,421.6 216.6,422.5 218.7,424.0 221.2,424.7M268.9,401.0 269.3,403.8 272.7,405.4 272.9,408.2 270.9,411.9 273.6,413.8M28.2,608.6 30.3,607.0 33.0,606.8 34.9,605.1 36.9,603.4 39.3,602.6 41.1,600.9 43.4,600.0 45.7,598.8 46.5,596.1 48.7,594.7 51.3,593.2 50.6,590.3 49.6,587.5 50.9,585.2 52.1,582.8 53.7,580.5 55.5,578.6 57.6,577.2 60.6,576.8 63.3,578.5 65.8,578.5 68.4,578.2 70.8,578.7 73.5,578.0 75.6,578.5 78.4,578.8 80.4,577.3 81.8,574.9 84.4,574.5 87.0,574.4 89.1,572.8 90.8,570.6 92.6,568.4 95.2,566.9 98.0,567.6 100.3,569.4 102.6,570.8 105.1,570.9 107.6,570.9 110.2,571.1 112.9,570.8 115.2,571.9 117.2,574.1 119.8,574.2 121.7,571.9 123.8,570.6 126.9,571.2 129.6,571.1 131.8,570.3 133.9,569.1 136.0,567.3 138.7,567.7 141.4,567.8 143.3,565.4 145.4,563.7 148.0,563.8 150.7,564.0 152.8,562.3 155.1,560.1 157.9,559.9 160.5,559.3 163.2,558.1 165.7,558.7 168.0,560.6 170.2,562.3 172.6,563.4 175.0,564.0 177.2,565.8 179.6,566.9 182.5,565.2 184.8,565.2 187.6,567.6 190.9,567.1 190.4,563.1 189.8,560.1 191.7,558.2 193.7,556.4 194.9,554.1 197.4,554.4 199.7,555.5 202.0,556.5 204.8,556.6 206.8,558.2 207.9,561.3 209.9,562.9 212.1,564.1 213.7,566.5 215.8,568.0 218.4,568.5 220.3,569.1 220.6,571.1 220.7,573.6 221.2,576.1 223.4,578.3 225.3,580.5 225.3,583.0 225.7,585.5 226.0,587.9 226.1,590.5 226.9,592.9 226.8,595.5 227.9,597.8 229.6,599.9 228.6,602.7 227.8,606.5 229.6,608.4 233.1,608.6M35.4,462.9 36.6,466.3 40.2,466.6M48.5,476.6 50.9,478.4M184.3,531.2 186.7,533.9M246.2,574.9 250.1,574.6 252.2,571.3M137.8,453.8 138.8,457.9 141.2,459.3 144.3,459.3 147.2,459.5 145.3,461.6 143.1,463.5 142.6,466.6M156.9,492.1 160.0,492.7 161.8,494.6 162.3,497.5 162.6,500.7 164.9,502.1 168.3,502.2 170.1,503.8 171.2,506.6M116.4,515.7 118.5,517.7 121.3,519.1 123.1,521.4 123.5,524.9 125.9,526.7M99.7,484.8 101.7,486.6 103.8,488.3 105.3,490.5 105.8,493.3 106.9,495.7"/>
<path id="isl" d="M16.1,408.9 19.9,409.3M36.8,410.4 34.1,412.4M49.3,430.2 50.7,426.3M77.1,422.8 79.0,419.3M81.5,416.8 85.0,415.8M92.3,418.8 95.1,417.8M117.7,417.4 114.4,422.9M97.6,451.6 95.9,454.6M91.6,457.2 89.9,462.4M106.1,499.0 105.0,501.9M117.2,515.7 117.4,520.2M145.2,547.0 148.8,544.6M151.7,543.2 156.3,541.1M159.6,541.9 163.0,541.4M178.5,507.8 180.4,503.6M177.0,502.8 171.7,498.8M157.7,480.6 154.2,476.9M179.3,458.0 180.2,461.7M191.6,475.5 186.3,472.2M184.9,475.1 186.2,469.0M186.0,468.2 189.4,463.0M193.7,454.5 198.2,451.8M197.9,448.9 196.4,443.5M199.5,433.3 203.7,436.2M263.6,420.3 269.2,418.2M279.2,418.2 281.6,413.8M293.1,413.0 296.0,410.0M341.1,396.5 346.2,398.1M355.0,397.8 357.5,395.6M368.8,396.9 374.5,395.1M383.6,396.2 388.5,395.0M397.9,384.3 399.8,377.8M415.5,385.9 419.2,385.9M421.6,388.2 424.8,386.5M460.8,375.6 462.1,371.4M460.7,367.5 464.5,368.5M464.2,368.8 467.3,366.6M471.8,381.1 476.9,382.4M475.3,379.7 479.8,383.5M473.9,365.7 478.8,363.0M477.6,362.8 481.6,364.0M487.8,369.9 486.0,363.6M485.2,362.9 489.4,362.7M483.5,357.0 485.0,353.5M493.1,353.7 492.6,349.9M503.0,353.2 503.3,348.5M485.6,346.2 487.4,342.5M488.1,343.7 490.7,340.1M493.4,341.0 499.9,339.6M497.5,338.8 494.5,335.5M488.0,335.4 489.7,329.8M488.5,331.5 492.4,328.2M495.7,330.0 496.4,325.9M509.2,331.0 512.4,324.9M490.9,322.9 496.6,319.8M503.1,328.2 505.0,322.4M478.6,320.1 481.2,324.3M483.8,320.9 488.4,324.7M489.0,322.6 486.5,328.1M484.0,328.9 486.8,331.5M480.8,335.9 483.8,338.5M489.9,333.1 490.5,338.1M486.7,338.3 490.7,342.0M487.4,343.7 492.0,342.5M496.5,341.6 500.8,342.6M485.8,355.8 492.5,355.5M490.0,355.4 492.4,360.2M507.1,360.9 511.2,365.7M513.0,354.4 516.5,351.6M517.2,357.7 521.8,356.3M524.0,366.3 527.1,360.8M521.8,350.3 528.3,349.0M528.3,355.5 533.6,351.6M524.6,341.4 527.8,338.5M529.7,343.3 532.6,341.5M535.7,349.6 542.0,348.8M533.4,338.7 538.0,337.8M545.3,351.6 547.1,347.8M536.6,334.1 540.8,329.2M551.0,348.8 552.7,346.0M551.6,343.0 551.5,339.4M551.3,337.1 555.2,339.3M560.5,346.9 559.7,340.6M558.5,339.0 561.1,335.8M558.3,336.4 562.6,332.2M553.5,325.9 559.7,324.5M557.7,327.7 561.8,324.3M562.7,337.1 566.2,336.5M565.2,328.2 567.8,326.7M571.7,327.7 577.7,329.1M574.0,323.8 577.3,324.9M577.2,326.6 582.3,323.7M585.8,332.6 589.1,330.3M580.7,319.8 586.0,319.6M605.1,297.4 610.9,296.8M608.3,294.9 614.2,298.5M608.4,295.7 610.0,299.1M621.8,304.9 624.1,302.7M630.4,295.8 633.0,293.2M633.3,292.7 637.1,294.0M638.7,297.5 643.7,295.7M651.1,287.7 655.7,286.9M666.3,299.0 669.9,303.7M671.8,304.8 677.8,305.7M682.0,303.1 684.3,299.4M692.7,291.5 694.4,287.6M691.2,281.8 694.8,283.2M696.5,288.0 703.0,286.1M702.4,293.0 704.8,295.0M716.5,298.8 719.8,300.5M741.9,285.4 745.7,282.4M746.2,280.1 749.6,278.7M752.0,280.9 755.1,278.4M762.1,277.7 763.8,281.5M774.9,279.1 778.9,280.8M789.1,260.5 792.0,258.3M785.7,256.8 790.1,251.8M791.6,247.3 796.4,245.5M809.4,238.5 812.8,237.7M816.0,236.9 816.5,232.8M820.8,229.8 821.0,224.5M819.2,223.6 822.8,218.6M834.0,214.7 837.5,216.7M843.1,208.7 849.3,207.1M857.7,207.1 860.1,204.5M869.8,199.7 873.5,200.3M878.5,183.3 882.5,183.2M889.6,182.5 892.8,181.9"/>
</defs>
<clipPath id="clipa"><rect x="82.4" y="48.5" width="541.8" height="464.7"/></clipPath><g clip-path="url(#clipa)"><g transform="matrix(6.08764,0,0,7.59314,82.4,48.5)" shape-rendering="crispEdges" fill="none" stroke-width="1"><path stroke="#10eefc" d="M0 0.5h2M6 0.5h1M22 0.5h1M26 0.5h1M3 1.5h1M6 1.5h1M3 2.5h1M25 2.5h1M0 3.5h2M23 3.5h1M24 4.5h1M20 5.5h1M22 5.5h3M24 6.5h1M21 7.5h3M25 7.5h1M22 8.5h2M19 9.5h1M21 9.5h1M19 10.5h1M21 10.5h1M17 11.5h1M16 12.5h1M14 13.5h1M18 13.5h2M13 14.5h2M16 14.5h1M19 14.5h1M18 15.5h1M88 31.5h1M85 32.5h3M84 33.5h1M81 34.5h1M80 35.5h1M78 36.5h2M77 37.5h1M76 38.5h1M1 39.5h1M74 39.5h1M73 40.5h2M73 41.5h1M73 42.5h1M72 43.5h2M71 44.5h3M69 45.5h2M67 46.5h2M65 47.5h1M59 48.5h3M56 49.5h3M55 50.5h1M53 51.5h1M50 52.5h2M46 53.5h2M43 54.5h1M45 54.5h1M40 55.5h4M37 56.5h1M39 56.5h1M35 57.5h1M37 57.5h2M33 58.5h1M35 58.5h2M31 59.5h2M34 59.5h1M31 60.5h4M31 61.5h4"/><path stroke="#2adaf7" d="M2 0.5h1M5 0.5h1M19 11.5h1M15 14.5h1M86 33.5h3M84 34.5h2M82 35.5h1M84 35.5h1M82 36.5h2M81 37.5h2M78 38.5h3M76 39.5h1M78 39.5h1M76 40.5h3M76 41.5h3M76 42.5h3M77 43.5h1M76 44.5h2M74 45.5h2M70 46.5h4M67 47.5h3M65 48.5h2M60 49.5h4M59 50.5h3M56 51.5h1M58 51.5h2M54 52.5h4M52 53.5h2M47 54.5h5M46 55.5h2M45 56.5h3M43 57.5h3M40 58.5h3M45 58.5h1M37 59.5h3M37 60.5h3M41 60.5h1M38 61.5h2M41 61.5h2"/><path stroke="#20e2f9" d="M3 0.5h2M0 1.5h2M5 1.5h1M0 2.5h2M23 4.5h1M20 6.5h1M22 6.5h1M26 6.5h1M15 12.5h1M19 12.5h1M15 13.5h2M18 14.5h1M88 32.5h1M85 33.5h1M82 34.5h2M81 35.5h1M83 35.5h1M80 36.5h2M78 37.5h3M77 38.5h1M75 39.5h1M77 39.5h1M75 40.5h1M74 41.5h2M74 42.5h2M74 43.5h3M74 44.5h2M71 45.5h3M69 46.5h1M66 47.5h1M62 48.5h3M59 49.5h1M56 50.5h3M54 51.5h2M57 51.5h1M52 52.5h2M48 53.5h4M44 54.5h1M46 54.5h1M44 55.5h2M40 56.5h5M39 57.5h4M37 58.5h3M33 59.5h1M35 59.5h2M35 60.5h2M35 61.5h3"/><path stroke="#00fcff" d="M7 0.5h3M19 0.5h1M21 0.5h1M23 0.5h2M28 0.5h1M31 0.5h1M56 0.5h2M61 0.5h1M63 0.5h1M65 0.5h1M67 0.5h1M72 0.5h1M75 0.5h1M77 0.5h1M7 1.5h3M19 1.5h3M23 1.5h2M28 1.5h1M30 1.5h1M56 1.5h2M60 1.5h2M64 1.5h2M67 1.5h1M71 1.5h2M75 1.5h1M8 2.5h2M19 2.5h2M24 2.5h1M27 2.5h4M32 2.5h1M34 2.5h1M55 2.5h6M65 2.5h1M72 2.5h1M77 2.5h1M6 3.5h1M9 3.5h1M18 3.5h1M20 3.5h3M29 3.5h1M34 3.5h3M55 3.5h2M58 3.5h2M65 3.5h3M69 3.5h2M72 3.5h1M2 4.5h2M18 4.5h2M29 4.5h2M36 4.5h2M55 4.5h2M59 4.5h1M64 4.5h4M69 4.5h2M72 4.5h1M1 5.5h1M3 5.5h2M18 5.5h2M28 5.5h2M32 5.5h1M36 5.5h1M54 5.5h3M64 5.5h2M67 5.5h4M10 6.5h1M17 6.5h2M28 6.5h1M30 6.5h1M32 6.5h2M54 6.5h1M10 7.5h1M15 7.5h4M28 7.5h2M32 7.5h1M34 7.5h2M12 8.5h1M14 8.5h5M32 8.5h1M35 8.5h1M10 9.5h1M12 9.5h1M14 9.5h1M16 9.5h2M27 9.5h1M32 9.5h1M35 9.5h1M16 10.5h1M23 10.5h2M27 10.5h1M32 10.5h1M35 10.5h1M56 10.5h2M13 11.5h1M16 11.5h1M22 11.5h6M32 11.5h1M35 11.5h1M56 11.5h1M13 12.5h1M22 12.5h7M34 12.5h1M56 12.5h1M11 13.5h1M22 13.5h1M24 13.5h3M28 13.5h1M31 13.5h1M34 13.5h1M55 13.5h1M11 14.5h2M28 14.5h1M31 14.5h1M55 14.5h1M11 15.5h1M21 15.5h1M23 15.5h1M27 15.5h2M11 16.5h2M17 16.5h9M27 16.5h1M11 17.5h2M15 17.5h1M21 17.5h5M27 17.5h1M35 17.5h1M55 17.5h1M11 18.5h1M14 18.5h3M22 18.5h1M24 18.5h1M34 18.5h1M11 19.5h1M13 19.5h1M15 19.5h1M34 19.5h1M56 21.5h1M18 22.5h1M23 22.5h1M0 23.5h1M18 23.5h1M20 23.5h1M22 23.5h1M1 24.5h1M17 24.5h1M19 24.5h2M1 25.5h1M3 25.5h1M19 25.5h1M0 26.5h2M19 26.5h1M87 27.5h2M85 28.5h4M7 29.5h1M84 29.5h3M82 30.5h3M4 31.5h2M81 31.5h3M0 32.5h1M4 32.5h2M7 32.5h1M78 32.5h4M4 33.5h1M7 33.5h1M76 33.5h3M4 34.5h1M7 34.5h1M9 34.5h1M73 34.5h5M2 35.5h1M4 35.5h2M8 35.5h2M27 35.5h1M72 35.5h4M0 36.5h1M2 36.5h1M5 36.5h1M8 36.5h1M70 36.5h5M2 37.5h1M7 37.5h1M11 37.5h1M25 37.5h1M27 37.5h1M69 37.5h4M2 38.5h2M7 38.5h3M11 38.5h1M27 38.5h1M68 38.5h3M0 39.5h1M2 39.5h2M5 39.5h1M7 39.5h3M24 39.5h1M27 39.5h1M67 39.5h2M0 40.5h4M5 40.5h1M7 40.5h1M20 40.5h3M24 40.5h1M27 40.5h1M66 40.5h3M0 41.5h4M5 41.5h5M20 41.5h3M26 41.5h1M65 41.5h3M0 42.5h12M20 42.5h1M24 42.5h1M65 42.5h3M0 43.5h11M63 43.5h5M0 44.5h10M19 44.5h1M61 44.5h5M0 45.5h10M16 45.5h2M19 45.5h2M23 45.5h3M58 45.5h6M0 46.5h10M11 46.5h1M15 46.5h3M19 46.5h2M22 46.5h5M57 46.5h3M0 47.5h10M15 47.5h12M53 47.5h4M0 48.5h10M16 48.5h12M50 48.5h5M0 49.5h11M17 49.5h12M47 49.5h4M0 50.5h11M17 50.5h12M30 50.5h19M0 51.5h12M17 51.5h28M0 52.5h12M18 52.5h21M0 53.5h12M16 53.5h19M36 53.5h1M0 54.5h33M0 55.5h19M20 55.5h12M0 56.5h14M18 56.5h1M21 56.5h4M0 57.5h9M12 57.5h1M19 57.5h2M22 57.5h3M0 58.5h6M8 58.5h1M12 58.5h1M19 58.5h2M23 58.5h1M0 59.5h5M6 59.5h1M8 59.5h1M20 59.5h1M0 60.5h4M6 60.5h1M8 60.5h1M20 60.5h1M0 61.5h4M6 61.5h1M8 61.5h2M11 61.5h1M20 61.5h1"/><path stroke="#00fdff" d="M10 0.5h1M20 0.5h1M54 0.5h1M74 0.5h1M18 1.5h1M31 1.5h2M58 1.5h1M68 1.5h1M74 1.5h1M76 1.5h2M10 2.5h1M35 2.5h1M61 2.5h1M64 2.5h1M67 2.5h1M69 2.5h1M76 2.5h1M8 3.5h1M30 3.5h1M63 3.5h2M77 3.5h1M9 4.5h1M31 4.5h1M57 4.5h2M63 4.5h1M77 4.5h1M79 4.5h1M0 5.5h1M5 5.5h1M17 5.5h1M30 5.5h2M59 5.5h1M62 5.5h1M66 5.5h1M29 6.5h1M56 6.5h1M70 6.5h1M12 7.5h1M30 7.5h1M54 7.5h1M10 8.5h1M28 8.5h3M34 8.5h1M29 9.5h1M57 9.5h1M10 10.5h1M13 10.5h1M29 10.5h1M31 10.5h1M58 10.5h1M34 11.5h1M58 11.5h1M32 12.5h1M55 12.5h1M10 13.5h1M23 13.5h1M32 13.5h1M56 13.5h1M23 14.5h5M30 14.5h1M56 14.5h1M12 15.5h1M24 15.5h2M39 15.5h1M55 15.5h2M35 16.5h1M55 16.5h2M10 17.5h1M17 17.5h1M19 17.5h2M34 17.5h1M17 18.5h1M23 18.5h1M55 18.5h1M22 19.5h1M36 19.5h1M54 19.5h2M57 19.5h1M15 20.5h1M23 20.5h1M12 22.5h2M16 22.5h2M22 22.5h1M27 22.5h1M58 22.5h1M13 23.5h1M16 23.5h2M19 23.5h1M29 23.5h1M18 24.5h1M24 24.5h1M29 24.5h1M20 25.5h1M24 25.5h1M18 26.5h1M24 26.5h1M0 27.5h2M19 27.5h1M85 27.5h2M1 28.5h1M26 28.5h1M84 28.5h1M3 29.5h1M22 29.5h1M83 29.5h1M3 30.5h1M7 30.5h1M0 31.5h1M3 31.5h1M7 31.5h1M11 31.5h1M79 31.5h2M3 32.5h1M28 32.5h1M76 32.5h2M0 33.5h1M5 33.5h1M74 33.5h2M5 34.5h1M8 34.5h1M26 34.5h1M72 34.5h1M0 35.5h1M13 35.5h1M26 35.5h1M71 35.5h1M1 36.5h1M4 36.5h1M6 36.5h1M9 36.5h1M25 36.5h2M29 36.5h1M69 36.5h1M4 37.5h3M9 37.5h1M68 37.5h1M5 38.5h1M23 38.5h1M25 38.5h1M67 38.5h1M20 39.5h3M30 39.5h1M65 39.5h2M6 40.5h1M8 40.5h1M10 40.5h1M26 40.5h1M28 40.5h1M65 40.5h1M10 41.5h1M19 41.5h1M64 41.5h1M19 42.5h1M21 42.5h3M25 42.5h1M62 42.5h3M20 43.5h6M61 43.5h2M20 44.5h6M60 44.5h1M10 45.5h1M21 45.5h2M26 45.5h1M57 45.5h1M21 46.5h1M27 46.5h1M55 46.5h2M11 47.5h1M27 47.5h3M52 47.5h1M28 48.5h3M48 48.5h2M29 49.5h18M16 50.5h1M29 50.5h1M17 52.5h1M12 53.5h1M11 57.5h1M6 58.5h2M7 59.5h1M19 59.5h1M5 60.5h1M9 60.5h1M11 60.5h1M16 60.5h1M18 60.5h1M5 61.5h1M16 61.5h1M19 61.5h1M21 61.5h1"/><path stroke="#00feff" d="M11 0.5h2M18 0.5h1M29 0.5h1M33 0.5h1M52 0.5h2M58 0.5h2M62 0.5h1M66 0.5h1M68 0.5h3M73 0.5h1M76 0.5h1M10 1.5h1M12 1.5h1M29 1.5h1M33 1.5h3M53 1.5h2M59 1.5h1M62 1.5h2M66 1.5h1M69 1.5h2M73 1.5h1M78 1.5h3M7 2.5h1M11 2.5h1M17 2.5h2M31 2.5h1M33 2.5h1M36 2.5h1M53 2.5h2M62 2.5h2M66 2.5h1M70 2.5h2M73 2.5h3M78 2.5h3M7 3.5h1M10 3.5h2M31 3.5h1M33 3.5h1M37 3.5h1M54 3.5h1M57 3.5h1M60 3.5h3M71 3.5h1M73 3.5h4M78 3.5h3M6 4.5h3M10 4.5h2M17 4.5h1M54 4.5h1M60 4.5h3M71 4.5h1M73 4.5h4M78 4.5h1M80 4.5h2M2 5.5h1M8 5.5h6M15 5.5h2M37 5.5h1M57 5.5h2M60 5.5h2M63 5.5h1M71 5.5h3M76 5.5h1M79 5.5h3M0 6.5h5M8 6.5h2M11 6.5h6M31 6.5h1M36 6.5h1M55 6.5h1M57 6.5h9M67 6.5h3M72 6.5h1M80 6.5h1M0 7.5h3M8 7.5h1M11 7.5h1M13 7.5h2M33 7.5h1M53 7.5h1M55 7.5h5M61 7.5h1M64 7.5h2M67 7.5h1M70 7.5h1M0 8.5h1M9 8.5h1M11 8.5h1M13 8.5h1M31 8.5h1M33 8.5h1M36 8.5h1M53 8.5h5M61 8.5h1M67 8.5h1M0 9.5h1M9 9.5h1M11 9.5h1M13 9.5h1M28 9.5h1M30 9.5h2M33 9.5h2M36 9.5h1M54 9.5h3M58 9.5h1M9 10.5h1M11 10.5h1M28 10.5h1M30 10.5h1M33 10.5h2M36 10.5h1M54 10.5h2M9 11.5h3M29 11.5h3M33 11.5h1M53 11.5h3M57 11.5h1M61 11.5h1M9 12.5h3M29 12.5h1M31 12.5h1M35 12.5h2M53 12.5h2M57 12.5h2M9 13.5h1M27 13.5h1M29 13.5h2M33 13.5h1M35 13.5h2M53 13.5h2M57 13.5h3M8 14.5h3M29 14.5h1M32 14.5h3M36 14.5h4M53 14.5h2M57 14.5h3M8 15.5h1M10 15.5h1M26 15.5h1M29 15.5h5M35 15.5h3M53 15.5h1M57 15.5h3M10 16.5h1M26 16.5h1M28 16.5h4M33 16.5h2M36 16.5h1M39 16.5h1M57 16.5h3M18 17.5h1M26 17.5h1M28 17.5h3M33 17.5h1M36 17.5h1M39 17.5h1M54 17.5h1M56 17.5h4M7 18.5h1M9 18.5h2M12 18.5h1M18 18.5h4M25 18.5h3M30 18.5h1M35 18.5h2M38 18.5h2M54 18.5h1M56 18.5h3M66 18.5h1M68 18.5h1M9 19.5h2M12 19.5h1M14 19.5h1M16 19.5h6M23 19.5h4M33 19.5h1M35 19.5h1M38 19.5h2M53 19.5h1M56 19.5h1M59 19.5h1M65 19.5h2M68 19.5h1M8 20.5h1M11 20.5h3M16 20.5h7M24 20.5h4M33 20.5h4M54 20.5h4M8 21.5h1M12 21.5h16M34 21.5h2M55 21.5h1M57 21.5h2M0 22.5h2M14 22.5h1M19 22.5h3M24 22.5h3M31 22.5h1M34 22.5h2M55 22.5h3M61 22.5h1M1 23.5h1M12 23.5h1M14 23.5h1M21 23.5h1M23 23.5h5M30 23.5h2M33 23.5h1M35 23.5h1M55 23.5h4M61 23.5h1M2 24.5h2M13 24.5h1M16 24.5h1M21 24.5h3M25 24.5h4M30 24.5h3M58 24.5h1M60 24.5h1M2 25.5h1M13 25.5h1M17 25.5h2M21 25.5h2M25 25.5h7M85 25.5h4M2 26.5h2M6 26.5h2M17 26.5h1M20 26.5h4M26 26.5h1M29 26.5h2M84 26.5h5M2 27.5h2M5 27.5h3M17 27.5h2M20 27.5h7M29 27.5h1M84 27.5h1M0 28.5h1M2 28.5h2M5 28.5h3M17 28.5h3M21 28.5h3M25 28.5h1M29 28.5h2M83 28.5h1M0 29.5h3M4 29.5h1M6 29.5h1M8 29.5h1M19 29.5h1M21 29.5h1M26 29.5h1M28 29.5h2M81 29.5h2M0 30.5h3M4 30.5h3M8 30.5h5M22 30.5h1M26 30.5h1M28 30.5h2M78 30.5h4M1 31.5h2M6 31.5h1M8 31.5h3M12 31.5h1M22 31.5h1M24 31.5h1M26 31.5h3M74 31.5h5M1 32.5h2M6 32.5h1M8 32.5h4M15 32.5h1M22 32.5h1M24 32.5h4M72 32.5h4M1 33.5h3M6 33.5h1M8 33.5h2M11 33.5h1M24 33.5h5M71 33.5h3M0 34.5h4M6 34.5h1M10 34.5h2M13 34.5h1M24 34.5h2M27 34.5h2M33 34.5h1M68 34.5h4M1 35.5h1M6 35.5h2M10 35.5h3M24 35.5h2M28 35.5h2M31 35.5h1M33 35.5h3M67 35.5h4M3 36.5h1M7 36.5h1M10 36.5h4M24 36.5h1M28 36.5h1M30 36.5h4M35 36.5h1M65 36.5h4M3 37.5h1M19 37.5h1M23 37.5h2M26 37.5h1M28 37.5h3M32 37.5h3M36 37.5h1M64 37.5h4M4 38.5h1M6 38.5h1M10 38.5h1M19 38.5h1M22 38.5h1M24 38.5h1M26 38.5h1M28 38.5h3M32 38.5h2M35 38.5h1M63 38.5h4M4 39.5h1M6 39.5h1M10 39.5h2M19 39.5h1M23 39.5h1M25 39.5h2M28 39.5h1M31 39.5h1M61 39.5h4M4 40.5h1M18 40.5h2M23 40.5h1M25 40.5h1M60 40.5h5M4 41.5h1M18 41.5h1M23 41.5h3M27 41.5h4M59 41.5h5M26 42.5h5M58 42.5h4M19 43.5h1M26 43.5h5M57 43.5h4M10 44.5h1M17 44.5h1M26 44.5h5M56 44.5h4M11 45.5h1M27 45.5h5M54 45.5h3M10 46.5h1M13 46.5h1M18 46.5h1M28 46.5h5M50 46.5h5M10 47.5h1M13 47.5h1M30 47.5h6M48 47.5h4M10 48.5h2M13 48.5h1M15 48.5h1M31 48.5h17M11 49.5h2M15 49.5h2M11 50.5h2M14 50.5h2M13 51.5h4M12 52.5h3M16 52.5h1M13 53.5h1M19 55.5h1M17 56.5h1M19 56.5h1M9 57.5h2M15 57.5h2M18 57.5h1M21 57.5h1M9 58.5h3M14 58.5h1M16 58.5h1M18 58.5h1M21 58.5h1M5 59.5h1M9 59.5h4M14 59.5h1M16 59.5h3M21 59.5h2M7 60.5h1M10 60.5h1M12 60.5h3M17 60.5h1M19 60.5h1M21 60.5h2M7 61.5h1M10 61.5h1M13 61.5h2M17 61.5h2"/><path stroke="#41efb9" d="M13 0.5h1M37 0.5h1M51 1.5h1M51 2.5h1M83 2.5h1M51 3.5h1M85 3.5h1M84 4.5h2M85 5.5h1M75 7.5h1M78 8.5h1M87 8.5h1M72 9.5h1M87 9.5h1M41 10.5h1M42 11.5h1M46 11.5h1M69 11.5h2M3 12.5h1M41 12.5h1M70 12.5h1M72 12.5h1M88 12.5h1M70 13.5h1M72 13.5h2M77 13.5h1M87 13.5h2M82 14.5h1M88 14.5h1M71 15.5h1M50 16.5h1M71 16.5h1M84 16.5h1M87 16.5h1M42 17.5h1M50 17.5h1M71 17.5h1M71 19.5h1M51 20.5h1M88 21.5h1M85 22.5h1M84 23.5h1M37 26.5h1M62 26.5h1M36 28.5h1M36 29.5h1M68 29.5h1M36 30.5h1M65 30.5h1M36 31.5h2M63 31.5h1M62 32.5h1M37 33.5h1M60 33.5h1M19 34.5h1M59 34.5h1M58 35.5h1M57 36.5h1M55 37.5h2M34 38.5h1M54 38.5h1M34 39.5h1M53 39.5h1M35 41.5h1M15 42.5h2M37 43.5h1M48 43.5h1M38 44.5h2M46 44.5h2"/><path stroke="#3df0c6" d="M14 0.5h1M80 0.5h2M82 3.5h1M15 4.5h1M77 5.5h2M83 5.5h1M5 6.5h1M7 6.5h1M76 6.5h1M79 6.5h1M81 6.5h1M66 7.5h1M69 7.5h1M84 7.5h1M39 8.5h1M52 8.5h1M62 8.5h3M82 8.5h1M85 8.5h1M37 9.5h1M63 9.5h1M65 9.5h1M38 10.5h2M63 10.5h1M84 10.5h1M38 11.5h2M1 12.5h2M51 12.5h1M61 13.5h1M63 13.5h2M67 13.5h1M85 13.5h1M83 14.5h1M85 14.5h1M0 15.5h1M61 15.5h1M65 15.5h1M68 15.5h1M2 16.5h1M8 16.5h1M32 16.5h1M40 16.5h1M67 16.5h2M3 17.5h1M37 17.5h2M67 17.5h1M0 18.5h1M2 18.5h1M37 18.5h1M40 18.5h1M70 18.5h1M8 19.5h1M40 19.5h1M60 19.5h1M0 20.5h1M7 20.5h1M39 20.5h1M2 21.5h2M9 21.5h1M37 21.5h2M59 21.5h2M62 21.5h2M2 22.5h1M5 22.5h1M9 22.5h1M30 22.5h1M36 22.5h2M59 22.5h2M62 22.5h1M3 23.5h1M9 23.5h1M62 23.5h1M87 23.5h2M10 24.5h1M12 24.5h1M15 24.5h1M61 24.5h1M5 25.5h1M11 25.5h1M34 25.5h1M56 25.5h5M10 26.5h1M33 26.5h1M83 26.5h1M10 27.5h1M12 27.5h2M28 27.5h1M32 27.5h1M35 27.5h1M8 28.5h1M15 28.5h2M32 28.5h1M34 28.5h2M81 28.5h1M31 29.5h1M75 29.5h4M15 30.5h1M25 30.5h1M31 30.5h1M71 30.5h2M19 31.5h1M21 31.5h1M30 31.5h1M70 31.5h1M14 32.5h1M30 32.5h1M68 32.5h1M12 33.5h1M14 33.5h1M30 33.5h1M34 33.5h1M67 33.5h1M15 34.5h1M17 34.5h1M30 34.5h1M32 34.5h1M35 34.5h2M14 35.5h1M64 35.5h1M14 36.5h2M19 36.5h1M22 36.5h1M62 36.5h2M15 37.5h1M61 37.5h1M12 38.5h1M59 38.5h1M12 39.5h1M57 39.5h1M13 40.5h1M31 40.5h1M56 40.5h1M55 41.5h1M32 42.5h1M55 42.5h1M13 43.5h1M18 43.5h1M32 43.5h1M54 43.5h1M12 44.5h1M16 44.5h1M18 44.5h1M33 44.5h1M52 44.5h2M13 45.5h2M34 45.5h1M49 45.5h1M12 46.5h1M37 46.5h2M47 46.5h1M15 53.5h1M14 56.5h1"/><path stroke="#43efb3" d="M15 0.5h1M48 0.5h1M86 0.5h1M88 0.5h1M15 1.5h1M88 1.5h1M15 2.5h1M85 2.5h1M88 2.5h1M86 3.5h1M51 5.5h1M51 6.5h1M88 6.5h1M5 7.5h1M40 7.5h2M88 7.5h1M4 8.5h1M40 8.5h2M75 8.5h1M41 9.5h1M46 9.5h1M76 9.5h1M81 9.5h1M42 10.5h1M4 11.5h1M80 11.5h1M43 12.5h1M46 12.5h1M77 12.5h1M80 12.5h1M48 13.5h1M74 14.5h1M78 14.5h1M43 15.5h1M79 15.5h1M43 16.5h1M49 16.5h1M86 16.5h1M84 17.5h1M5 18.5h1M41 18.5h1M41 19.5h1M48 19.5h1M88 20.5h1M29 21.5h1M51 21.5h1M67 21.5h1M69 21.5h1M86 21.5h1M52 22.5h1M65 22.5h1M52 23.5h1M65 23.5h2M62 27.5h2M80 27.5h1M60 28.5h1M73 28.5h1M76 28.5h1M64 29.5h3M62 30.5h1M38 31.5h1M61 31.5h1M59 32.5h2M58 34.5h1M38 35.5h1M55 36.5h1M54 37.5h1M38 38.5h1M53 38.5h1M35 39.5h1M52 39.5h1M16 40.5h1M36 40.5h1M51 40.5h1M36 41.5h1M50 41.5h1M37 42.5h2M48 42.5h1M39 43.5h1M46 43.5h1M42 44.5h1M44 44.5h1"/><path stroke="#3ef0c1" d="M16 0.5h1M36 0.5h1M38 0.5h1M83 0.5h1M13 1.5h2M37 1.5h2M13 2.5h1M16 2.5h1M52 3.5h1M38 5.5h1M39 6.5h1M74 6.5h1M77 6.5h1M78 7.5h2M66 8.5h1M68 8.5h2M71 8.5h2M80 8.5h1M38 9.5h1M69 9.5h2M64 10.5h2M67 10.5h3M67 11.5h2M82 11.5h1M40 12.5h1M64 12.5h1M67 12.5h1M71 12.5h1M82 12.5h2M86 12.5h1M2 13.5h1M51 13.5h1M65 13.5h1M68 13.5h1M83 13.5h1M86 13.5h1M60 14.5h2M63 14.5h2M66 14.5h2M86 14.5h1M2 15.5h1M60 15.5h1M69 15.5h1M84 15.5h1M86 15.5h1M62 16.5h1M51 17.5h1M60 17.5h1M62 17.5h1M0 19.5h1M6 19.5h1M52 19.5h1M6 20.5h1M40 20.5h1M69 20.5h1M7 21.5h1M66 21.5h1M7 22.5h1M28 22.5h1M63 22.5h2M7 23.5h1M85 23.5h1M54 24.5h1M61 25.5h1M8 26.5h1M34 26.5h1M59 26.5h1M61 26.5h1M8 27.5h1M16 27.5h1M34 27.5h1M61 27.5h1M14 29.5h1M71 29.5h1M13 30.5h2M17 30.5h1M68 30.5h2M13 31.5h2M17 31.5h1M67 31.5h1M18 32.5h1M20 32.5h1M32 32.5h1M65 32.5h2M17 33.5h1M20 33.5h1M35 33.5h2M64 33.5h1M62 34.5h2M19 35.5h1M22 35.5h1M61 35.5h1M60 36.5h1M14 37.5h1M18 37.5h1M22 37.5h1M15 38.5h1M37 38.5h1M57 38.5h1M32 39.5h1M55 39.5h2M32 40.5h1M33 41.5h1M54 41.5h1M33 42.5h2M53 42.5h1M14 43.5h1M34 43.5h1M13 44.5h1M35 44.5h1M50 44.5h1M37 45.5h2M47 45.5h1M42 46.5h2M45 46.5h1"/><path stroke="#00ffff" d="M17 0.5h1M32 0.5h1M78 0.5h2M11 1.5h1M17 1.5h1M36 1.5h1M52 1.5h1M12 2.5h1M37 2.5h1M17 3.5h1M81 3.5h1M12 4.5h1M16 4.5h1M82 4.5h1M7 5.5h1M74 5.5h1M82 5.5h1M66 6.5h1M71 6.5h1M82 6.5h1M3 7.5h1M9 7.5h1M31 7.5h1M60 7.5h1M62 7.5h2M68 7.5h1M8 8.5h1M58 8.5h2M70 8.5h1M52 9.5h2M59 9.5h1M84 9.5h2M0 10.5h1M37 10.5h1M53 10.5h1M59 10.5h1M61 10.5h2M36 11.5h2M59 11.5h1M62 11.5h2M30 12.5h1M33 12.5h1M37 12.5h1M59 12.5h1M61 12.5h2M37 13.5h1M62 13.5h1M40 14.5h1M62 14.5h1M9 15.5h1M38 15.5h1M41 15.5h1M54 15.5h1M9 16.5h1M37 16.5h1M53 16.5h2M61 16.5h1M9 17.5h1M31 17.5h1M53 17.5h1M61 17.5h1M68 17.5h2M33 18.5h1M53 18.5h1M59 18.5h1M65 18.5h1M7 19.5h1M27 19.5h1M63 19.5h1M67 19.5h1M69 19.5h1M9 20.5h2M14 20.5h1M38 20.5h1M58 20.5h1M0 21.5h1M10 21.5h1M33 21.5h1M54 21.5h1M8 22.5h1M15 22.5h1M29 22.5h1M32 22.5h2M2 23.5h1M6 23.5h1M28 23.5h1M32 23.5h1M34 23.5h1M60 23.5h1M4 24.5h1M6 24.5h1M14 24.5h1M33 24.5h2M56 24.5h2M85 24.5h4M4 25.5h1M6 25.5h2M32 25.5h1M5 26.5h1M9 26.5h1M13 26.5h3M27 26.5h2M32 26.5h1M9 27.5h1M11 27.5h1M14 27.5h2M83 27.5h1M11 28.5h1M20 28.5h1M24 28.5h1M28 28.5h1M82 28.5h1M5 29.5h1M9 29.5h1M11 29.5h2M18 29.5h1M20 29.5h1M23 29.5h1M25 29.5h1M16 30.5h1M19 30.5h2M23 30.5h1M27 30.5h1M33 30.5h1M75 30.5h3M15 31.5h2M25 31.5h1M29 31.5h1M73 31.5h1M16 32.5h1M23 32.5h1M29 32.5h1M33 32.5h1M71 32.5h1M10 33.5h1M13 33.5h1M15 33.5h2M23 33.5h1M31 33.5h1M33 33.5h1M68 33.5h3M12 34.5h1M16 34.5h1M23 34.5h1M29 34.5h1M31 34.5h1M67 34.5h1M3 35.5h1M30 35.5h1M65 35.5h2M34 36.5h1M10 37.5h1M12 37.5h1M31 37.5h1M35 37.5h1M63 37.5h1M31 38.5h1M61 38.5h2M18 39.5h1M29 39.5h1M60 39.5h1M29 40.5h2M59 40.5h1M13 41.5h1M57 41.5h2M13 42.5h1M18 42.5h1M56 42.5h2M17 43.5h1M56 43.5h1M11 44.5h1M31 44.5h1M55 44.5h1M32 45.5h1M52 45.5h2M14 46.5h1M33 46.5h2M49 46.5h1M36 47.5h3M46 47.5h2M12 48.5h1M14 49.5h1M12 51.5h1M15 52.5h1M14 53.5h1M15 56.5h2M13 57.5h1M13 58.5h1M15 58.5h1M17 58.5h1M13 59.5h1M12 61.5h1M15 61.5h1M22 61.5h1"/><path stroke="#00faff" d="M25 0.5h1M27 0.5h1M55 0.5h1M2 1.5h1M4 1.5h1M22 1.5h1M25 1.5h2M5 2.5h2M26 2.5h1M5 3.5h1M25 3.5h1M27 3.5h2M1 4.5h1M4 4.5h1M22 4.5h1M25 4.5h1M27 4.5h2M34 4.5h1M25 5.5h3M35 5.5h1M21 6.5h1M23 6.5h1M25 6.5h1M35 6.5h1M19 7.5h2M24 7.5h1M26 7.5h2M19 8.5h3M24 8.5h4M15 9.5h1M20 9.5h1M22 9.5h2M25 9.5h1M12 10.5h1M15 10.5h1M17 10.5h1M20 10.5h1M22 10.5h1M25 10.5h2M12 11.5h1M15 11.5h1M18 11.5h1M20 11.5h2M12 12.5h1M14 12.5h1M17 12.5h2M20 12.5h2M12 13.5h2M17 13.5h1M20 13.5h2M17 14.5h1M21 14.5h2M13 15.5h4M20 15.5h1M22 15.5h1M13 16.5h4M13 17.5h2M16 17.5h1M13 18.5h1M88 29.5h1M86 30.5h3M84 31.5h4M83 32.5h2M81 33.5h3M79 34.5h2M77 35.5h3M76 36.5h2M0 37.5h1M74 37.5h3M1 38.5h1M73 38.5h3M71 39.5h3M71 40.5h2M69 41.5h4M69 42.5h4M69 43.5h3M68 44.5h3M66 45.5h3M62 46.5h5M60 47.5h5M56 48.5h3M53 49.5h3M51 50.5h4M48 51.5h5M44 52.5h6M39 53.5h7M37 54.5h6M34 55.5h6M33 56.5h4M38 56.5h1M29 57.5h1M31 57.5h4M36 57.5h1M26 58.5h1M28 58.5h5M34 58.5h1M26 59.5h5M26 60.5h5M4 61.5h1M26 61.5h5"/><path stroke="#00fbff" d="M30 0.5h1M60 0.5h1M64 0.5h1M71 0.5h1M27 1.5h1M55 1.5h1M2 2.5h1M4 2.5h1M21 2.5h3M68 2.5h1M2 3.5h3M19 3.5h1M24 3.5h1M26 3.5h1M32 3.5h1M68 3.5h1M0 4.5h1M5 4.5h1M20 4.5h2M26 4.5h1M32 4.5h2M35 4.5h1M68 4.5h1M21 5.5h1M33 5.5h2M19 6.5h1M27 6.5h1M34 6.5h1M18 9.5h1M24 9.5h1M26 9.5h1M14 10.5h1M18 10.5h1M14 11.5h1M20 14.5h1M17 15.5h1M19 15.5h1M0 24.5h1M0 25.5h1M87 29.5h1M85 30.5h1M82 32.5h1M79 33.5h2M78 34.5h1M76 35.5h1M27 36.5h1M75 36.5h1M1 37.5h1M8 37.5h1M73 37.5h1M0 38.5h1M71 38.5h2M69 39.5h2M9 40.5h1M69 40.5h2M68 41.5h1M68 42.5h1M68 43.5h1M66 44.5h2M64 45.5h2M60 46.5h2M57 47.5h3M55 48.5h1M51 49.5h2M49 50.5h2M45 51.5h3M39 52.5h5M35 53.5h1M37 53.5h2M33 54.5h4M32 55.5h2M20 56.5h1M25 56.5h8M25 57.5h4M30 57.5h1M22 58.5h1M24 58.5h2M27 58.5h1M23 59.5h3M4 60.5h1M23 60.5h3M23 61.5h3"/><path stroke="#30f3d3" d="M34 0.5h2M81 1.5h1M81 2.5h1M12 3.5h1M16 3.5h1M53 3.5h1M13 4.5h1M6 5.5h1M14 5.5h1M75 5.5h1M53 6.5h1M73 6.5h1M80 7.5h1M82 7.5h1M1 8.5h1M60 8.5h1M65 8.5h1M84 8.5h1M8 9.5h1M60 9.5h3M67 9.5h1M86 9.5h1M1 10.5h1M8 10.5h1M52 10.5h1M60 10.5h1M85 10.5h2M1 11.5h2M8 11.5h1M51 11.5h2M60 11.5h1M85 11.5h1M8 12.5h1M39 12.5h1M63 12.5h1M85 12.5h1M8 13.5h1M39 13.5h2M35 14.5h1M41 14.5h1M84 14.5h1M34 15.5h1M40 15.5h1M0 16.5h1M3 16.5h1M38 16.5h1M52 16.5h1M65 16.5h2M69 16.5h1M0 17.5h1M2 17.5h1M7 17.5h1M40 17.5h1M64 17.5h3M28 18.5h2M63 18.5h2M67 18.5h1M69 18.5h1M1 19.5h1M28 19.5h1M37 19.5h1M58 19.5h1M61 19.5h1M64 19.5h1M1 20.5h1M3 20.5h1M32 20.5h1M37 20.5h1M53 20.5h1M59 20.5h5M65 20.5h2M1 21.5h1M11 21.5h1M31 21.5h2M36 21.5h1M61 21.5h1M6 22.5h1M10 22.5h1M54 22.5h1M4 23.5h2M8 23.5h1M15 23.5h1M54 23.5h1M59 23.5h1M5 24.5h1M35 24.5h1M55 24.5h1M59 24.5h1M62 24.5h1M9 25.5h2M14 25.5h3M23 25.5h1M33 25.5h1M84 25.5h1M4 26.5h1M11 26.5h1M25 26.5h1M31 26.5h1M4 27.5h1M27 27.5h1M30 27.5h2M4 28.5h1M9 28.5h2M12 28.5h1M14 28.5h1M27 28.5h1M31 28.5h1M10 29.5h1M16 29.5h1M24 29.5h1M27 29.5h1M30 29.5h1M79 29.5h2M18 30.5h1M21 30.5h1M24 30.5h1M30 30.5h1M73 30.5h2M23 31.5h1M31 31.5h1M33 31.5h2M71 31.5h2M12 32.5h1M21 32.5h1M31 32.5h1M34 32.5h1M69 32.5h2M21 33.5h2M29 33.5h1M14 34.5h1M34 34.5h1M65 34.5h2M17 35.5h1M23 35.5h1M32 35.5h1M36 35.5h1M17 36.5h1M23 36.5h1M36 36.5h1M64 36.5h1M62 37.5h1M20 38.5h1M36 38.5h1M60 38.5h1M58 39.5h2M11 40.5h2M57 40.5h2M11 41.5h2M17 41.5h1M31 41.5h1M56 41.5h1M12 42.5h1M17 42.5h1M31 42.5h1M11 43.5h2M31 43.5h1M55 43.5h1M32 44.5h1M54 44.5h1M18 45.5h1M33 45.5h1M50 45.5h2M35 46.5h2M48 46.5h1M12 47.5h1M14 47.5h1M39 47.5h7M14 48.5h1M13 49.5h1M13 50.5h1M14 57.5h1M17 57.5h1M15 59.5h1M15 60.5h1"/><path stroke="#42efb6" d="M39 0.5h1M50 1.5h1M84 2.5h1M13 3.5h1M84 3.5h1M87 3.5h1M51 4.5h1M86 4.5h1M39 5.5h1M37 6.5h1M52 6.5h1M74 7.5h1M87 7.5h1M7 8.5h1M77 8.5h1M40 9.5h1M71 9.5h1M79 9.5h1M88 9.5h1M46 10.5h1M72 10.5h1M79 10.5h2M3 11.5h1M41 11.5h1M43 11.5h1M72 11.5h1M79 11.5h1M81 11.5h1M42 12.5h1M73 12.5h1M78 13.5h1M7 14.5h1M50 14.5h1M70 14.5h1M72 14.5h1M77 14.5h1M79 14.5h1M81 14.5h1M7 15.5h1M70 15.5h1M72 15.5h2M88 15.5h1M72 16.5h1M85 16.5h1M49 17.5h1M5 19.5h1M52 21.5h1M68 21.5h1M87 21.5h1M39 22.5h1M38 23.5h1M53 24.5h1M64 24.5h1M83 24.5h1M54 25.5h1M63 26.5h1M37 28.5h1M61 28.5h3M77 28.5h2M63 30.5h2M62 31.5h1M38 32.5h1M61 32.5h1M38 33.5h1M59 33.5h1M38 34.5h1M57 35.5h1M56 36.5h1M14 38.5h1M21 38.5h1M14 39.5h1M14 40.5h1M35 40.5h1M52 40.5h1M51 41.5h1M36 42.5h1M49 42.5h2M38 43.5h1M47 43.5h1M40 44.5h2M43 44.5h1M45 44.5h1"/><path stroke="#49ed92" d="M40 0.5h1M88 4.5h1M40 5.5h1M44 7.5h1M46 7.5h2M47 8.5h1M43 9.5h1M48 10.5h1M73 10.5h1M44 11.5h2M47 11.5h1M75 11.5h1M44 12.5h2M50 12.5h1M44 13.5h1M49 13.5h1M74 13.5h1M44 14.5h1M49 14.5h1M44 15.5h2M77 15.5h1M80 15.5h1M5 16.5h1M44 16.5h3M80 16.5h1M82 16.5h1M47 17.5h1M86 17.5h1M72 19.5h1M87 19.5h1M71 20.5h1M41 21.5h1M83 22.5h1M51 23.5h1M67 23.5h1M82 24.5h1M56 27.5h1M57 28.5h1M70 28.5h1M57 29.5h1M59 29.5h1M56 31.5h1M54 32.5h1M56 32.5h1M39 35.5h1M39 36.5h1M53 36.5h1M37 39.5h1M48 40.5h1M40 41.5h2"/><path stroke="#51eb58" d="M41 0.5h2M40 1.5h1M49 2.5h1M48 3.5h1M48 4.5h1M47 5.5h2M44 6.5h1M48 6.5h1M50 6.5h1M48 7.5h1M45 8.5h1M45 9.5h1M45 13.5h1M45 14.5h1M75 15.5h1M81 16.5h1M46 17.5h1M86 18.5h1M47 19.5h1M86 19.5h1M49 20.5h1M84 20.5h1M83 21.5h1M69 22.5h1M81 25.5h1M80 26.5h1M39 27.5h1M39 32.5h2M55 32.5h1M40 35.5h1M53 35.5h1M15 39.5h1M49 39.5h1M40 40.5h2M46 40.5h1"/><path stroke="#56ee48" d="M43 0.5h1M47 3.5h1M46 5.5h1M79 17.5h1M45 18.5h1M42 19.5h1M73 19.5h1M46 20.5h1M83 20.5h1M48 21.5h1M82 21.5h1M42 22.5h1M68 24.5h1M81 24.5h1M40 27.5h1M55 29.5h1M53 30.5h1M52 34.5h1M51 35.5h1M48 38.5h1"/><path stroke="#57ee46" d="M44 0.5h1M42 1.5h1M47 1.5h1M40 3.5h1M43 5.5h1M49 5.5h1M45 19.5h1M41 23.5h1M50 23.5h1M70 23.5h1M80 25.5h1M40 28.5h1M40 29.5h1"/><path stroke="#fdf800" d="M45 0.5h1M43 2.5h1M44 4.5h1M49 10.5h1M44 22.5h1M46 22.5h1M51 27.5h1M42 31.5h1M49 34.5h1M48 36.5h1M41 37.5h1"/><path stroke="#fbfb00" d="M46 0.5h1M5 12.5h1M44 21.5h1M81 21.5h1M41 27.5h1M52 29.5h1M42 32.5h1M49 35.5h1"/><path stroke="#52ec53" d="M47 0.5h1M49 3.5h1M40 4.5h1M41 5.5h1M46 6.5h1M5 8.5h1M81 17.5h1M83 17.5h1M46 18.5h1M84 19.5h2M41 22.5h1M50 22.5h1M70 22.5h1M68 23.5h1M40 24.5h1M40 25.5h1M39 26.5h1M64 26.5h1M64 27.5h1M72 27.5h2M76 27.5h1M56 28.5h1M56 29.5h1M58 29.5h1M40 31.5h1M53 34.5h1M40 36.5h1M51 37.5h1M39 38.5h1M43 40.5h1"/><path stroke="#40efbb" d="M49 0.5h1M82 0.5h1M82 1.5h3M14 4.5h1M52 4.5h1M52 5.5h1M86 5.5h1M38 6.5h1M85 6.5h1M51 7.5h2M38 8.5h1M73 8.5h1M76 8.5h1M79 8.5h1M81 8.5h1M83 8.5h1M2 9.5h1M66 9.5h1M80 9.5h1M83 9.5h1M3 10.5h1M66 10.5h1M71 10.5h1M88 10.5h1M66 11.5h1M71 11.5h1M0 12.5h1M4 12.5h1M65 12.5h2M69 12.5h1M81 12.5h1M87 12.5h1M0 13.5h1M42 13.5h1M66 13.5h1M82 13.5h1M1 14.5h1M42 14.5h1M1 15.5h1M4 15.5h1M50 15.5h1M63 15.5h1M83 15.5h1M87 15.5h1M1 16.5h1M42 16.5h1M70 16.5h1M1 17.5h1M6 17.5h1M41 17.5h1M50 18.5h1M71 18.5h1M4 19.5h1M50 19.5h1M4 20.5h2M52 20.5h1M28 21.5h1M39 21.5h1M65 21.5h1M66 22.5h1M86 22.5h1M53 23.5h1M63 23.5h1M37 25.5h1M63 25.5h1M36 26.5h1M56 26.5h1M58 26.5h1M60 26.5h1M82 26.5h1M36 27.5h2M60 27.5h1M81 27.5h1M79 28.5h1M69 29.5h1M35 30.5h1M66 30.5h1M64 31.5h1M36 32.5h1M63 32.5h1M18 33.5h2M61 33.5h1M37 34.5h1M60 34.5h2M21 35.5h1M37 35.5h1M59 35.5h1M37 36.5h1M58 36.5h1M20 37.5h1M37 37.5h1M54 39.5h1M34 40.5h1M53 40.5h1M16 41.5h1M52 41.5h1M35 42.5h1M51 42.5h1M15 43.5h1M36 43.5h1M49 43.5h2M37 44.5h1M40 45.5h6"/><path stroke="#3ef0c3" d="M50 0.5h1M52 2.5h1M82 2.5h1M38 3.5h1M38 4.5h1M53 4.5h1M83 4.5h1M53 5.5h1M78 6.5h1M83 6.5h2M4 7.5h1M7 7.5h1M36 7.5h1M39 7.5h1M71 7.5h3M76 7.5h1M85 7.5h1M2 8.5h2M86 8.5h1M1 9.5h1M39 9.5h1M51 9.5h1M64 9.5h1M82 9.5h1M2 10.5h1M51 10.5h1M82 10.5h1M0 11.5h1M64 11.5h1M86 11.5h1M38 12.5h1M52 12.5h1M60 12.5h1M38 13.5h1M60 13.5h1M84 13.5h1M3 14.5h1M65 14.5h1M68 14.5h1M3 15.5h1M52 15.5h1M62 15.5h1M64 15.5h1M66 15.5h2M41 16.5h1M51 16.5h1M60 16.5h1M64 16.5h1M4 17.5h1M8 17.5h1M32 17.5h1M52 17.5h1M63 17.5h1M70 17.5h1M1 18.5h1M3 18.5h2M8 18.5h1M31 18.5h2M52 18.5h1M61 18.5h2M2 19.5h2M30 19.5h1M32 19.5h1M62 19.5h1M70 19.5h1M2 20.5h1M64 20.5h1M68 20.5h1M6 21.5h1M53 21.5h1M64 21.5h1M3 22.5h2M11 22.5h1M10 23.5h1M36 23.5h2M86 23.5h1M7 24.5h3M11 24.5h1M84 24.5h1M8 25.5h1M12 25.5h1M35 25.5h1M55 25.5h1M62 25.5h1M12 26.5h1M16 26.5h1M35 26.5h1M33 27.5h1M82 27.5h1M33 28.5h1M15 29.5h1M17 29.5h1M32 29.5h3M72 29.5h3M32 30.5h1M34 30.5h1M70 30.5h1M18 31.5h1M20 31.5h1M32 31.5h1M68 31.5h2M13 32.5h1M17 32.5h1M67 32.5h1M32 33.5h1M65 33.5h2M64 34.5h1M15 35.5h2M18 35.5h1M20 35.5h1M62 35.5h2M18 36.5h1M20 36.5h1M61 36.5h1M13 37.5h1M17 37.5h1M59 37.5h2M18 38.5h1M58 38.5h1M17 40.5h1M55 40.5h1M14 41.5h1M32 41.5h1M14 42.5h1M54 42.5h1M33 43.5h1M52 43.5h2M14 44.5h2M34 44.5h1M51 44.5h1M12 45.5h1M15 45.5h1M35 45.5h2M48 45.5h1M39 46.5h3M44 46.5h1M46 46.5h1"/><path stroke="#3fefbe" d="M51 0.5h1M84 0.5h1M16 1.5h1M38 2.5h1M83 3.5h1M84 5.5h1M6 6.5h1M75 6.5h1M86 6.5h1M77 7.5h1M81 7.5h1M83 7.5h1M86 7.5h1M51 8.5h1M3 9.5h1M68 9.5h1M40 10.5h1M70 10.5h1M83 10.5h1M87 10.5h1M40 11.5h1M65 11.5h1M83 11.5h2M87 11.5h2M68 12.5h1M84 12.5h1M1 13.5h1M3 13.5h2M41 13.5h1M52 13.5h1M69 13.5h1M71 13.5h1M81 13.5h1M0 14.5h1M2 14.5h1M4 14.5h1M51 14.5h2M69 14.5h1M71 14.5h1M73 14.5h1M87 14.5h1M42 15.5h1M51 15.5h1M85 15.5h1M4 16.5h1M7 16.5h1M63 16.5h1M6 18.5h1M51 18.5h1M29 19.5h1M31 19.5h1M51 19.5h1M28 20.5h1M31 20.5h1M67 20.5h1M4 21.5h2M40 21.5h1M38 22.5h1M53 22.5h1M87 22.5h2M64 23.5h1M36 24.5h2M63 24.5h1M36 25.5h1M83 25.5h1M57 26.5h1M59 27.5h1M13 28.5h1M80 28.5h1M13 29.5h1M35 29.5h1M70 29.5h1M67 30.5h1M35 31.5h1M65 31.5h2M19 32.5h1M35 32.5h1M37 32.5h1M64 32.5h1M62 33.5h2M18 34.5h1M20 34.5h3M60 35.5h1M16 36.5h1M59 36.5h1M16 37.5h1M57 37.5h2M13 38.5h1M16 38.5h2M55 38.5h2M13 39.5h1M16 39.5h2M33 39.5h1M33 40.5h1M54 40.5h1M34 41.5h1M53 41.5h1M52 42.5h1M16 43.5h1M35 43.5h1M51 43.5h1M36 44.5h1M48 44.5h2M39 45.5h1M46 45.5h1"/><path stroke="#45eeae" d="M85 0.5h1M49 1.5h1M86 1.5h2M42 7.5h1M44 8.5h1M44 9.5h1M47 9.5h1M50 10.5h1M77 10.5h1M48 11.5h1M50 11.5h1M76 11.5h1M47 12.5h1M47 13.5h1M50 13.5h1M75 13.5h1M43 14.5h1M46 14.5h1M75 14.5h1M46 15.5h1M48 15.5h2M81 15.5h2M73 16.5h1M5 17.5h1M88 17.5h1M72 18.5h1M87 18.5h1M88 19.5h1M87 20.5h1M30 21.5h1M51 22.5h1M83 23.5h1M38 24.5h1M38 25.5h1M64 25.5h1M37 29.5h1M62 29.5h1M60 30.5h1M59 31.5h1M58 32.5h1M57 33.5h1M39 34.5h1M56 34.5h1M55 35.5h1M54 36.5h1M53 37.5h1M52 38.5h1M51 39.5h1M37 40.5h1M50 40.5h1M38 41.5h1M48 41.5h1M39 42.5h1"/><path stroke="#46eeab" d="M87 0.5h1M48 1.5h1M39 2.5h1M15 3.5h1M88 3.5h1M50 4.5h1M88 5.5h1M42 6.5h1M38 7.5h1M42 8.5h1M48 9.5h1M73 9.5h1M75 9.5h1M77 9.5h2M4 10.5h1M44 10.5h1M47 10.5h1M75 10.5h1M78 10.5h1M73 11.5h1M78 11.5h1M75 12.5h2M7 13.5h1M76 13.5h1M48 14.5h1M76 14.5h1M80 14.5h1M47 15.5h1M76 15.5h1M6 16.5h1M47 16.5h2M83 16.5h1M43 17.5h1M85 17.5h1M42 18.5h1M49 19.5h1M29 20.5h2M86 20.5h1M84 21.5h1M67 22.5h2M39 24.5h1M52 24.5h1M53 25.5h1M79 27.5h1M38 28.5h1M72 28.5h1M38 29.5h1M60 29.5h2M59 30.5h1M58 31.5h1M57 32.5h1M39 33.5h1M56 33.5h1M40 34.5h1M55 34.5h1M54 35.5h1M39 37.5h1M38 40.5h1M49 40.5h1M39 41.5h1M46 41.5h2M40 42.5h6"/><path stroke="#44eeb1" d="M39 1.5h1M85 1.5h1M14 2.5h1M50 2.5h1M86 2.5h2M50 3.5h1M39 4.5h1M87 4.5h1M87 5.5h1M40 6.5h2M87 6.5h1M37 8.5h1M46 8.5h1M88 8.5h1M42 9.5h1M50 9.5h1M43 10.5h1M76 10.5h1M81 10.5h1M77 11.5h1M48 12.5h1M78 12.5h2M43 13.5h1M46 13.5h1M79 13.5h2M47 14.5h1M74 15.5h1M88 16.5h1M48 17.5h1M72 17.5h1M87 17.5h1M48 18.5h2M88 18.5h1M41 20.5h1M50 20.5h1M70 20.5h1M85 21.5h1M40 22.5h1M84 22.5h1M39 23.5h1M65 24.5h1M82 25.5h1M38 26.5h1M55 26.5h1M81 26.5h1M38 27.5h1M57 27.5h2M59 28.5h1M71 28.5h1M74 28.5h2M63 29.5h1M67 29.5h1M37 30.5h2M57 30.5h1M61 30.5h1M60 31.5h1M58 33.5h1M57 34.5h1M56 35.5h1M38 36.5h1M38 37.5h1M36 39.5h1M37 41.5h1M49 41.5h1M46 42.5h2M40 43.5h6"/><path stroke="#53ed50" d="M41 1.5h1M42 5.5h1M45 6.5h1M7 12.5h1M49 12.5h1M73 18.5h1M46 19.5h1M42 21.5h1M71 21.5h1M51 24.5h1M67 24.5h1M53 26.5h1M79 26.5h1M75 27.5h1M68 28.5h1M52 35.5h1M40 39.5h2M47 39.5h1"/><path stroke="#59f03e" d="M43 1.5h1M49 6.5h1M7 11.5h1M49 11.5h1M75 17.5h2M83 18.5h1M45 20.5h1M46 21.5h1M81 23.5h1M41 24.5h1M69 24.5h1M67 25.5h2M70 25.5h1M74 26.5h1M52 27.5h1M54 27.5h1M70 27.5h1M51 34.5h1"/><path stroke="#e5fa08" d="M44 1.5h1M46 3.5h1M42 4.5h1M5 9.5h1M74 19.5h1M43 22.5h1M50 24.5h1M72 25.5h1M79 25.5h1M41 26.5h1M51 26.5h1M75 26.5h2M52 28.5h1M41 30.5h1M42 34.5h1M49 36.5h1M48 37.5h1M43 38.5h1M45 38.5h1"/><path stroke="#ffca00" d="M45 1.5h1M42 27.5h1M50 31.5h1M48 32.5h1M51 33.5h1M47 34.5h1M47 35.5h1M44 36.5h1M46 36.5h1M21 37.5h1"/><path stroke="#fcf900" d="M46 1.5h1M46 2.5h1M43 4.5h1M45 4.5h1M74 9.5h1M79 18.5h1M44 19.5h1M44 20.5h1M73 21.5h1M42 24.5h1M66 27.5h1M41 28.5h1M41 29.5h1M52 30.5h1M42 35.5h1M42 38.5h1"/><path stroke="#54ed4e" d="M40 2.5h1M47 4.5h1M7 9.5h1M5 14.5h1M75 16.5h1M77 16.5h1M74 17.5h1M82 17.5h1M44 18.5h1M47 20.5h1M72 21.5h1M82 22.5h1M69 23.5h1M66 25.5h1M55 27.5h1M66 28.5h1M55 30.5h1M41 32.5h1M51 36.5h1M49 38.5h1M42 39.5h1M46 39.5h1"/><path stroke="#65f138" d="M41 2.5h1M41 4.5h1M7 10.5h1M77 17.5h2M43 18.5h1M81 18.5h1M72 22.5h1M42 23.5h1M71 25.5h1M71 26.5h1M73 26.5h1M50 35.5h1M46 38.5h1"/><path stroke="#fcfa00" d="M42 2.5h1M41 3.5h1M75 18.5h1M72 23.5h1M80 24.5h1M66 26.5h1M41 36.5h1M47 37.5h1"/><path stroke="#fef600" d="M44 2.5h1M14 3.5h1M37 7.5h1M5 10.5h1M73 22.5h1M49 24.5h1M72 24.5h1M42 25.5h1M74 25.5h1M69 26.5h1M51 29.5h1M51 30.5h1M43 33.5h1M49 33.5h1M48 35.5h1"/><path stroke="#ffc300" d="M45 2.5h1M49 9.5h1M74 21.5h1M44 31.5h1M45 33.5h1M47 33.5h1M45 34.5h1M46 35.5h1"/><path stroke="#58ef43" d="M47 2.5h1M44 5.5h2M28 11.5h1M74 18.5h1M82 19.5h2M72 26.5h1M78 26.5h1M41 31.5h1M41 34.5h1M40 37.5h1M49 37.5h1"/><path stroke="#4feb62" d="M48 2.5h1M39 3.5h1M50 5.5h1M47 6.5h1M6 7.5h1M43 7.5h1M50 7.5h1M43 8.5h1M48 8.5h1M50 8.5h1M4 9.5h1M45 10.5h1M78 15.5h1M74 16.5h1M79 16.5h1M44 17.5h1M47 18.5h1M84 18.5h2M48 20.5h1M85 20.5h1M50 21.5h1M70 21.5h1M40 23.5h1M66 24.5h1M65 25.5h1M78 27.5h1M39 28.5h1M58 28.5h1M64 28.5h2M39 29.5h1M56 30.5h1M54 31.5h1M57 31.5h1M40 33.5h1M55 33.5h1M54 34.5h1M21 36.5h1M52 37.5h1M51 38.5h1M38 39.5h1M50 39.5h1M39 40.5h1M47 40.5h1M42 41.5h4"/><path stroke="#fdf700" d="M42 3.5h1M80 19.5h1M45 22.5h1M43 23.5h1M48 23.5h1M73 25.5h1M51 28.5h1M52 33.5h1M46 37.5h1"/><path stroke="#fff100" d="M43 3.5h1M43 20.5h1M74 20.5h1M50 30.5h1M43 32.5h1M44 33.5h1M44 34.5h1M48 34.5h1M43 35.5h1M47 36.5h1M45 37.5h1"/><path stroke="#ffd900" d="M44 3.5h2M6 13.5h1M44 23.5h1M75 25.5h1M42 26.5h1M42 29.5h1M44 32.5h1M49 32.5h1M48 33.5h1M44 35.5h1M43 36.5h1M43 37.5h1"/><path stroke="#58ef41" d="M46 4.5h1M74 12.5h1M5 13.5h1M6 14.5h1M80 18.5h1M43 21.5h1M47 21.5h1M71 23.5h1M51 25.5h1M65 26.5h1M77 26.5h1M65 27.5h1M55 28.5h1M53 29.5h1M53 31.5h1M50 36.5h1M41 38.5h1M47 38.5h1"/><path stroke="#55ee4b" d="M49 4.5h1M78 16.5h1M42 20.5h1M82 20.5h1M49 22.5h1M71 22.5h1M40 26.5h1M52 26.5h1M71 27.5h1M67 28.5h1M54 29.5h1M40 30.5h1M41 33.5h1M53 33.5h1M50 37.5h1M40 38.5h1M43 39.5h3"/><path stroke="#52ec55" d="M43 6.5h1M45 7.5h1M74 8.5h1M5 15.5h2M76 16.5h1M45 17.5h1M73 17.5h1M80 17.5h1M72 20.5h1M49 21.5h1M82 23.5h1M39 25.5h1M52 25.5h1M54 26.5h1M74 27.5h1M77 27.5h1M69 28.5h1M39 30.5h1M54 30.5h1M58 30.5h1M39 31.5h1M55 31.5h1M54 33.5h1M52 36.5h1M50 38.5h1M39 39.5h1M48 39.5h1M42 40.5h1M44 40.5h2M15 41.5h1"/><path stroke="#ffe500" d="M49 7.5h1M6 8.5h1M76 18.5h1M73 23.5h1M80 23.5h1M68 26.5h1M67 27.5h2M50 33.5h1"/><path stroke="#f00000" d="M49 8.5h1"/><path stroke="#930000" d="M6 9.5h1M45 26.5h1M48 26.5h1"/><path stroke="#800000" d="M6 10.5h1M6 11.5h1M77 21.5h2M77 22.5h1"/><path stroke="#ffb800" d="M74 10.5h1M49 25.5h1M46 32.5h1M50 32.5h1"/><path stroke="#fff600" d="M5 11.5h1M50 25.5h1M78 25.5h1M42 30.5h1M43 34.5h1M44 37.5h1"/><path stroke="#ffc600" d="M74 11.5h1M79 24.5h1M50 27.5h1M42 28.5h1M50 28.5h1M50 29.5h1M43 31.5h1M46 33.5h1M46 34.5h1M42 36.5h1"/><path stroke="#fb0000" d="M6 12.5h1M47 25.5h1M51 32.5h1"/><path stroke="#ff6500" d="M60 18.5h1M48 29.5h1"/><path stroke="#ffcd00" d="M77 18.5h2M75 19.5h1M47 23.5h1M43 24.5h1M73 24.5h1M76 25.5h2M50 26.5h1M67 26.5h1M15 40.5h1"/><path stroke="#ff6d00" d="M82 18.5h1M76 19.5h1M43 28.5h1M49 29.5h1"/><path stroke="#ffaf00" d="M43 19.5h1M80 21.5h1M43 25.5h1M43 30.5h1"/><path stroke="#ff5e00" d="M77 19.5h1M75 21.5h1"/><path stroke="#ff5a00" d="M78 19.5h1M44 28.5h1M45 29.5h1"/><path stroke="#ff9e00" d="M79 19.5h1M44 30.5h1M47 31.5h1"/><path stroke="#a5f620" d="M81 19.5h1M73 20.5h1M45 21.5h1M48 22.5h1M49 23.5h1M70 24.5h1M41 25.5h1M69 25.5h1M70 26.5h1M53 27.5h1M54 28.5h1M53 32.5h1M42 33.5h1M41 35.5h1M44 38.5h1"/><path stroke="#ff7600" d="M75 20.5h1M75 24.5h1M45 31.5h2"/><path stroke="#ff0300" d="M76 20.5h1M76 23.5h1M44 27.5h1"/><path stroke="#8b0000" d="M77 20.5h1M45 25.5h1M47 26.5h1"/><path stroke="#840000" d="M78 20.5h1M46 26.5h1"/><path stroke="#ff4b00" d="M79 20.5h1"/><path stroke="#ffbf00" d="M80 20.5h1M74 22.5h1M46 23.5h1M74 24.5h1M49 31.5h1M45 36.5h1"/><path stroke="#fafb00" d="M81 20.5h1M47 22.5h1M81 22.5h1M11 23.5h1M71 24.5h1M69 27.5h1M53 28.5h1M50 34.5h1"/><path stroke="#bb0000" d="M76 21.5h1M45 27.5h1M47 27.5h1"/><path stroke="#f90000" d="M79 21.5h1M78 23.5h1M45 28.5h1M47 28.5h1"/><path stroke="#ff5c00" d="M75 22.5h1M47 29.5h1"/><path stroke="#d70000" d="M76 22.5h1"/><path stroke="#810000" d="M78 22.5h1"/><path stroke="#fe0000" d="M79 22.5h1"/><path stroke="#ffbc00" d="M80 22.5h1M45 23.5h1M74 23.5h1M48 24.5h1M48 31.5h1M47 32.5h1M45 35.5h1"/><path stroke="#ff6300" d="M75 23.5h1M77 24.5h1"/><path stroke="#f60000" d="M77 23.5h1"/><path stroke="#ff6600" d="M79 23.5h1M49 28.5h1M44 29.5h1M45 30.5h1M52 32.5h1"/><path stroke="#ffa700" d="M44 24.5h1M49 30.5h1M52 31.5h1M45 32.5h1"/><path stroke="#ff6100" d="M45 24.5h2M49 27.5h1M46 30.5h1"/><path stroke="#ff6a00" d="M47 24.5h1M78 24.5h1M47 30.5h1"/><path stroke="#ff6800" d="M76 24.5h1M49 26.5h1M51 31.5h1"/><path stroke="#ff5f00" d="M44 25.5h1M48 25.5h1M42 37.5h1"/><path stroke="#f20000" d="M46 25.5h1M46 28.5h1"/><path stroke="#ff8600" d="M43 26.5h1M43 29.5h1"/><path stroke="#ff2700" d="M44 26.5h1M46 29.5h1"/><path stroke="#ff6b00" d="M43 27.5h1"/><path stroke="#850000" d="M46 27.5h1"/><path stroke="#f80000" d="M48 27.5h1"/><path stroke="#ff3900" d="M48 28.5h1"/><path stroke="#ff9600" d="M48 30.5h1"/><path stroke="#2ed6f6" d="M86 34.5h2M85 35.5h3M84 36.5h2M83 37.5h2M81 38.5h2M79 39.5h2M79 40.5h1M79 41.5h1M79 42.5h1M78 43.5h2M78 44.5h1M76 45.5h3M74 46.5h2M70 47.5h4M67 48.5h3M64 49.5h1M66 49.5h1M62 50.5h3M60 51.5h2M63 51.5h1M58 52.5h2M61 52.5h1M54 53.5h4M52 54.5h2M48 55.5h6M48 56.5h4M46 57.5h3M43 58.5h2M47 58.5h1M40 59.5h6M40 60.5h1M42 60.5h4M40 61.5h1M43 61.5h3"/><path stroke="#32d2f4" d="M88 34.5h1M88 35.5h1M86 36.5h3M85 37.5h2M88 37.5h1M83 38.5h3M81 39.5h2M84 39.5h1M80 40.5h4M80 41.5h4M80 42.5h4M80 43.5h2M79 44.5h3M79 45.5h3M76 46.5h3M74 47.5h3M70 48.5h4M65 49.5h1M67 49.5h2M65 50.5h3M62 51.5h1M64 51.5h1M66 51.5h2M60 52.5h1M62 52.5h3M58 53.5h2M61 53.5h1M54 54.5h5M54 55.5h2M52 56.5h2M49 57.5h4M46 58.5h1M48 58.5h4M46 59.5h3M46 60.5h4M46 61.5h4"/><path stroke="#35cff3" d="M87 37.5h1M86 38.5h3M83 39.5h1M85 39.5h4M84 40.5h5M84 41.5h5M84 42.5h4M82 43.5h6M82 44.5h6M82 45.5h7M79 46.5h7M87 46.5h2M77 47.5h10M74 48.5h3M78 48.5h3M83 48.5h2M86 48.5h1M69 49.5h5M78 49.5h1M86 49.5h1M68 50.5h6M86 50.5h1M65 51.5h1M68 51.5h5M74 51.5h1M87 51.5h1M65 52.5h10M87 52.5h1M60 53.5h1M62 53.5h8M71 53.5h4M79 53.5h1M87 53.5h1M59 54.5h4M64 54.5h3M69 54.5h1M73 54.5h2M78 54.5h2M82 54.5h1M85 54.5h2M56 55.5h7M64 55.5h3M68 55.5h1M74 55.5h1M78 55.5h1M82 55.5h1M85 55.5h2M54 56.5h9M68 56.5h1M80 56.5h2M85 56.5h1M53 57.5h10M72 57.5h1M80 57.5h2M85 57.5h1M52 58.5h3M57 58.5h3M61 58.5h1M79 58.5h3M85 58.5h1M87 58.5h1M49 59.5h6M58 59.5h1M65 59.5h1M67 59.5h1M76 59.5h1M80 59.5h2M83 59.5h3M87 59.5h2M50 60.5h5M59 60.5h1M65 60.5h1M81 60.5h1M83 60.5h2M50 61.5h5M59 61.5h1M64 61.5h3M73 61.5h2M81 61.5h1M84 61.5h1"/><path stroke="#38cbf2" d="M88 42.5h1M88 43.5h1M88 44.5h1M86 46.5h1M87 47.5h2M77 48.5h1M81 48.5h2M85 48.5h1M87 48.5h2M74 49.5h4M79 49.5h7M87 49.5h2M74 50.5h12M87 50.5h2M73 51.5h1M75 51.5h12M88 51.5h1M75 52.5h12M88 52.5h1M70 53.5h1M75 53.5h4M80 53.5h7M88 53.5h1M63 54.5h1M67 54.5h2M70 54.5h3M75 54.5h3M80 54.5h2M83 54.5h2M87 54.5h2M63 55.5h1M67 55.5h1M69 55.5h5M75 55.5h3M79 55.5h3M83 55.5h2M87 55.5h2M63 56.5h5M69 56.5h11M82 56.5h3M86 56.5h3M63 57.5h9M73 57.5h7M82 57.5h3M86 57.5h3M55 58.5h2M60 58.5h1M62 58.5h17M82 58.5h3M86 58.5h1M88 58.5h1M55 59.5h3M59 59.5h6M66 59.5h1M68 59.5h8M77 59.5h3M82 59.5h1M86 59.5h1M55 60.5h4M60 60.5h5M66 60.5h15M82 60.5h1M85 60.5h4M55 61.5h4M60 61.5h4M67 61.5h6M75 61.5h6M82 61.5h2M85 61.5h4"/></g><polygon points="75.0,40.0 83.0,40.0 83.0,55.0 97.0,509.0 97.0,520.0 75.0,520.0" fill="#fff"/><polygon points="75.0,40.0 240.0,40.0 240.0,49.0 83.0,55.0" fill="#fff"/><polygon points="624.5,100.0 630.0,100.0 630.0,520.0 612.0,520.0 612.0,508.0" fill="#fff"/><polygon points="75.0,512.5 97.0,512.5 140.0,510.0 612.0,508.0 630.0,508.0 630.0,520.0 75.0,520.0" fill="#fff"/><polygon points="80.0,46.0 103.0,46.0 102.4,52.0 101.0,55.6 95.0,56.6 88.0,55.8 82.0,53.5 80.0,53.5" fill="#fff"/><g transform="matrix(0.60876,0,0,0.75931,82.4,48.5)" fill="none" stroke="#1b4550" stroke-width="1.8" stroke-linejoin="round" stroke-linecap="round"><use href="#bnd" vector-effect="non-scaling-stroke"/><use href="#cst" vector-effect="non-scaling-stroke" stroke="#123039" stroke-width="2.0"/><use href="#isl" vector-effect="non-scaling-stroke" stroke="#123039" stroke-width="2.4"/></g></g><rect x="82.4" y="48.5" width="541.8" height="464.7" fill="none" stroke="#9a9a9e" stroke-width="2.2"/><path d="M99.4 513.2v-5M99.4 48.5v5M160.3 513.2v-5M160.3 48.5v5M221.2 513.2v-5M221.2 48.5v5M282.1 513.2v-5M282.1 48.5v5M343.0 513.2v-5M343.0 48.5v5M403.8 513.2v-5M403.8 48.5v5M464.7 513.2v-5M464.7 48.5v5M525.6 513.2v-5M525.6 48.5v5M586.5 513.2v-5M586.5 48.5v5M82.4 481.3h5M624.2 481.3h-5M82.4 405.4h5M624.2 405.4h-5M82.4 329.4h5M624.2 329.4h-5M82.4 253.5h5M624.2 253.5h-5M82.4 177.6h5M624.2 177.6h-5M82.4 101.7h5M624.2 101.7h-5" stroke="#8a8a8e" stroke-width="1.6" fill="none"/><text x="0" y="0" transform="translate(99.4,536.2) scale(1.22,1)" font-size="14" text-anchor="middle" fill="#333" stroke="#333" stroke-width="0.4">109</text><text x="0" y="0" transform="translate(160.3,536.2) scale(1.22,1)" font-size="14" text-anchor="middle" fill="#333" stroke="#333" stroke-width="0.4">110</text><text x="0" y="0" transform="translate(221.2,536.2) scale(1.22,1)" font-size="14" text-anchor="middle" fill="#333" stroke="#333" stroke-width="0.4">111</text><text x="0" y="0" transform="translate(282.1,536.2) scale(1.22,1)" font-size="14" text-anchor="middle" fill="#333" stroke="#333" stroke-width="0.4">112</text><text x="0" y="0" transform="translate(343.0,536.2) scale(1.22,1)" font-size="14" text-anchor="middle" fill="#333" stroke="#333" stroke-width="0.4">113</text><text x="0" y="0" transform="translate(403.8,536.2) scale(1.22,1)" font-size="14" text-anchor="middle" fill="#333" stroke="#333" stroke-width="0.4">114</text><text x="0" y="0" transform="translate(464.7,536.2) scale(1.22,1)" font-size="14" text-anchor="middle" fill="#333" stroke="#333" stroke-width="0.4">115</text><text x="0" y="0" transform="translate(525.6,536.2) scale(1.22,1)" font-size="14" text-anchor="middle" fill="#333" stroke="#333" stroke-width="0.4">116</text><text x="0" y="0" transform="translate(586.5,536.2) scale(1.22,1)" font-size="14" text-anchor="middle" fill="#333" stroke="#333" stroke-width="0.4">117</text><text x="0" y="0" transform="translate(75.4,486.3) scale(1.22,1)" font-size="14" text-anchor="end" fill="#333" stroke="#333" stroke-width="0.4">20</text><text x="0" y="0" transform="translate(75.4,410.4) scale(1.22,1)" font-size="14" text-anchor="end" fill="#333" stroke="#333" stroke-width="0.4">21</text><text x="0" y="0" transform="translate(75.4,334.4) scale(1.22,1)" font-size="14" text-anchor="end" fill="#333" stroke="#333" stroke-width="0.4">22</text><text x="0" y="0" transform="translate(75.4,258.5) scale(1.22,1)" font-size="14" text-anchor="end" fill="#333" stroke="#333" stroke-width="0.4">23</text><text x="0" y="0" transform="translate(75.4,182.6) scale(1.22,1)" font-size="14" text-anchor="end" fill="#333" stroke="#333" stroke-width="0.4">24</text><text x="0" y="0" transform="translate(75.4,106.7) scale(1.22,1)" font-size="14" text-anchor="end" fill="#333" stroke="#333" stroke-width="0.4">25</text><text transform="translate(353.3,559.2) scale(1.30,1)" font-size="16" text-anchor="middle" fill="#333" stroke="#333" stroke-width="0.35">Longitude (E)</text><text transform="translate(47.400000000000006,280.9) rotate(-90) scale(1.1,1.22)" font-size="16" text-anchor="middle" fill="#333" stroke="#333" stroke-width="0.35">Latitude (N)</text><g shape-rendering="crispEdges"><rect x="635.2" y="510.88" width="24.9" height="2.92" fill="#ffffff"/><rect x="635.2" y="508.55" width="24.9" height="2.92" fill="#ffffff"/><rect x="635.2" y="506.23" width="24.9" height="2.92" fill="#ffffff"/><rect x="635.2" y="503.91" width="24.9" height="2.92" fill="#5bc9f2"/><rect x="635.2" y="501.58" width="24.9" height="2.92" fill="#3abff0"/><rect x="635.2" y="499.26" width="24.9" height="2.92" fill="#3ac1f0"/><rect x="635.2" y="496.94" width="24.9" height="2.92" fill="#39c2f1"/><rect x="635.2" y="494.61" width="24.9" height="2.92" fill="#39c3f1"/><rect x="635.2" y="492.29" width="24.9" height="2.92" fill="#39c4f1"/><rect x="635.2" y="489.97" width="24.9" height="2.92" fill="#39c6f1"/><rect x="635.2" y="487.64" width="24.9" height="2.92" fill="#39c7f1"/><rect x="635.2" y="485.32" width="24.9" height="2.92" fill="#39c8f1"/><rect x="635.2" y="482.99" width="24.9" height="2.92" fill="#38caf2"/><rect x="635.2" y="480.67" width="24.9" height="2.92" fill="#38cbf2"/><rect x="635.2" y="478.35" width="24.9" height="2.92" fill="#38ccf2"/><rect x="635.2" y="476.02" width="24.9" height="2.92" fill="#35cff3"/><rect x="635.2" y="473.70" width="24.9" height="2.92" fill="#33d1f4"/><rect x="635.2" y="471.38" width="24.9" height="2.92" fill="#31d3f5"/><rect x="635.2" y="469.05" width="24.9" height="2.92" fill="#2fd5f6"/><rect x="635.2" y="466.73" width="24.9" height="2.92" fill="#2cd8f6"/><rect x="635.2" y="464.41" width="24.9" height="2.92" fill="#2adaf7"/><rect x="635.2" y="462.08" width="24.9" height="2.92" fill="#27dcf8"/><rect x="635.2" y="459.76" width="24.9" height="2.92" fill="#1ee4fa"/><rect x="635.2" y="457.44" width="24.9" height="2.92" fill="#15eafb"/><rect x="635.2" y="455.11" width="24.9" height="2.92" fill="#0bf1fd"/><rect x="635.2" y="452.79" width="24.9" height="2.92" fill="#02f8ff"/><rect x="635.2" y="450.47" width="24.9" height="2.92" fill="#00faff"/><rect x="635.2" y="448.14" width="24.9" height="2.92" fill="#00fbff"/><rect x="635.2" y="445.82" width="24.9" height="2.92" fill="#00fbff"/><rect x="635.2" y="443.50" width="24.9" height="2.92" fill="#00fbff"/><rect x="635.2" y="441.17" width="24.9" height="2.92" fill="#00fbff"/><rect x="635.2" y="438.85" width="24.9" height="2.92" fill="#00fcff"/><rect x="635.2" y="436.52" width="24.9" height="2.92" fill="#00fcff"/><rect x="635.2" y="434.20" width="24.9" height="2.92" fill="#00fcff"/><rect x="635.2" y="431.88" width="24.9" height="2.92" fill="#00fdff"/><rect x="635.2" y="429.55" width="24.9" height="2.92" fill="#00fdff"/><rect x="635.2" y="427.23" width="24.9" height="2.92" fill="#00fdff"/><rect x="635.2" y="424.91" width="24.9" height="2.92" fill="#00fdff"/><rect x="635.2" y="422.58" width="24.9" height="2.92" fill="#00feff"/><rect x="635.2" y="420.26" width="24.9" height="2.92" fill="#00feff"/><rect x="635.2" y="417.94" width="24.9" height="2.92" fill="#00feff"/><rect x="635.2" y="415.61" width="24.9" height="2.92" fill="#00ffff"/><rect x="635.2" y="413.29" width="24.9" height="2.92" fill="#00ffff"/><rect x="635.2" y="410.97" width="24.9" height="2.92" fill="#12faef"/><rect x="635.2" y="408.64" width="24.9" height="2.92" fill="#2ef3d5"/><rect x="635.2" y="406.32" width="24.9" height="2.92" fill="#3cf0c7"/><rect x="635.2" y="404.00" width="24.9" height="2.92" fill="#3df0c6"/><rect x="635.2" y="401.67" width="24.9" height="2.92" fill="#3df0c4"/><rect x="635.2" y="399.35" width="24.9" height="2.92" fill="#3ef0c3"/><rect x="635.2" y="397.03" width="24.9" height="2.92" fill="#3ef0c1"/><rect x="635.2" y="394.70" width="24.9" height="2.92" fill="#3fefbf"/><rect x="635.2" y="392.38" width="24.9" height="2.92" fill="#3fefbe"/><rect x="635.2" y="390.05" width="24.9" height="2.92" fill="#40efbc"/><rect x="635.2" y="387.73" width="24.9" height="2.92" fill="#40efbb"/><rect x="635.2" y="385.41" width="24.9" height="2.92" fill="#41efb9"/><rect x="635.2" y="383.08" width="24.9" height="2.92" fill="#41efb8"/><rect x="635.2" y="380.76" width="24.9" height="2.92" fill="#42efb6"/><rect x="635.2" y="378.44" width="24.9" height="2.92" fill="#42efb5"/><rect x="635.2" y="376.11" width="24.9" height="2.92" fill="#43efb3"/><rect x="635.2" y="373.79" width="24.9" height="2.92" fill="#44eeb1"/><rect x="635.2" y="371.47" width="24.9" height="2.92" fill="#44eeb0"/><rect x="635.2" y="369.14" width="24.9" height="2.92" fill="#45eeae"/><rect x="635.2" y="366.82" width="24.9" height="2.92" fill="#45eead"/><rect x="635.2" y="364.50" width="24.9" height="2.92" fill="#46eeab"/><rect x="635.2" y="362.17" width="24.9" height="2.92" fill="#47eea4"/><rect x="635.2" y="359.85" width="24.9" height="2.92" fill="#4aed88"/><rect x="635.2" y="357.53" width="24.9" height="2.92" fill="#4eec6c"/><rect x="635.2" y="355.20" width="24.9" height="2.92" fill="#50eb59"/><rect x="635.2" y="352.88" width="24.9" height="2.92" fill="#51eb58"/><rect x="635.2" y="350.56" width="24.9" height="2.92" fill="#51ec56"/><rect x="635.2" y="348.23" width="24.9" height="2.92" fill="#52ec55"/><rect x="635.2" y="345.91" width="24.9" height="2.92" fill="#52ec53"/><rect x="635.2" y="343.58" width="24.9" height="2.92" fill="#53ec52"/><rect x="635.2" y="341.26" width="24.9" height="2.92" fill="#53ed50"/><rect x="635.2" y="338.94" width="24.9" height="2.92" fill="#54ed4f"/><rect x="635.2" y="336.61" width="24.9" height="2.92" fill="#54ed4d"/><rect x="635.2" y="334.29" width="24.9" height="2.92" fill="#55ed4c"/><rect x="635.2" y="331.97" width="24.9" height="2.92" fill="#55ee4a"/><rect x="635.2" y="329.64" width="24.9" height="2.92" fill="#56ee49"/><rect x="635.2" y="327.32" width="24.9" height="2.92" fill="#56ee47"/><rect x="635.2" y="325.00" width="24.9" height="2.92" fill="#57ee46"/><rect x="635.2" y="322.67" width="24.9" height="2.92" fill="#57ef44"/><rect x="635.2" y="320.35" width="24.9" height="2.92" fill="#58ef43"/><rect x="635.2" y="318.03" width="24.9" height="2.92" fill="#58ef41"/><rect x="635.2" y="315.70" width="24.9" height="2.92" fill="#59ef40"/><rect x="635.2" y="313.38" width="24.9" height="2.92" fill="#59f03e"/><rect x="635.2" y="311.06" width="24.9" height="2.92" fill="#5af03d"/><rect x="635.2" y="308.73" width="24.9" height="2.92" fill="#67f137"/><rect x="635.2" y="306.41" width="24.9" height="2.92" fill="#8df429"/><rect x="635.2" y="304.09" width="24.9" height="2.92" fill="#b2f71b"/><rect x="635.2" y="301.76" width="24.9" height="2.92" fill="#d7f90d"/><rect x="635.2" y="299.44" width="24.9" height="2.92" fill="#fafc00"/><rect x="635.2" y="297.11" width="24.9" height="2.92" fill="#fafb00"/><rect x="635.2" y="294.79" width="24.9" height="2.92" fill="#fbfb00"/><rect x="635.2" y="292.47" width="24.9" height="2.92" fill="#fbfa00"/><rect x="635.2" y="290.14" width="24.9" height="2.92" fill="#fbfa00"/><rect x="635.2" y="287.82" width="24.9" height="2.92" fill="#fcfa00"/><rect x="635.2" y="285.50" width="24.9" height="2.92" fill="#fcf900"/><rect x="635.2" y="283.17" width="24.9" height="2.92" fill="#fcf900"/><rect x="635.2" y="280.85" width="24.9" height="2.92" fill="#fdf800"/><rect x="635.2" y="278.53" width="24.9" height="2.92" fill="#fdf800"/><rect x="635.2" y="276.20" width="24.9" height="2.92" fill="#fef700"/><rect x="635.2" y="273.88" width="24.9" height="2.92" fill="#fef700"/><rect x="635.2" y="271.56" width="24.9" height="2.92" fill="#fef600"/><rect x="635.2" y="269.23" width="24.9" height="2.92" fill="#fff600"/><rect x="635.2" y="266.91" width="24.9" height="2.92" fill="#fff500"/><rect x="635.2" y="264.59" width="24.9" height="2.92" fill="#fff000"/><rect x="635.2" y="262.26" width="24.9" height="2.92" fill="#ffe900"/><rect x="635.2" y="259.94" width="24.9" height="2.92" fill="#ffe200"/><rect x="635.2" y="257.62" width="24.9" height="2.92" fill="#ffda00"/><rect x="635.2" y="255.29" width="24.9" height="2.92" fill="#ffd400"/><rect x="635.2" y="252.97" width="24.9" height="2.92" fill="#ffcd00"/><rect x="635.2" y="250.64" width="24.9" height="2.92" fill="#ffcb00"/><rect x="635.2" y="248.32" width="24.9" height="2.92" fill="#ffc900"/><rect x="635.2" y="246.00" width="24.9" height="2.92" fill="#ffc700"/><rect x="635.2" y="243.67" width="24.9" height="2.92" fill="#ffc500"/><rect x="635.2" y="241.35" width="24.9" height="2.92" fill="#ffc300"/><rect x="635.2" y="239.03" width="24.9" height="2.92" fill="#ffc100"/><rect x="635.2" y="236.70" width="24.9" height="2.92" fill="#ffbf00"/><rect x="635.2" y="234.38" width="24.9" height="2.92" fill="#ffbd00"/><rect x="635.2" y="232.06" width="24.9" height="2.92" fill="#ffbb00"/><rect x="635.2" y="229.73" width="24.9" height="2.92" fill="#ffb900"/><rect x="635.2" y="227.41" width="24.9" height="2.92" fill="#ffb400"/><rect x="635.2" y="225.09" width="24.9" height="2.92" fill="#ffaf00"/><rect x="635.2" y="222.76" width="24.9" height="2.92" fill="#ffaa00"/><rect x="635.2" y="220.44" width="24.9" height="2.92" fill="#ffa500"/><rect x="635.2" y="218.12" width="24.9" height="2.92" fill="#ffa000"/><rect x="635.2" y="215.79" width="24.9" height="2.92" fill="#ff9b00"/><rect x="635.2" y="213.47" width="24.9" height="2.92" fill="#ff9600"/><rect x="635.2" y="211.14" width="24.9" height="2.92" fill="#ff8d00"/><rect x="635.2" y="208.82" width="24.9" height="2.92" fill="#ff8400"/><rect x="635.2" y="206.50" width="24.9" height="2.92" fill="#ff7b00"/><rect x="635.2" y="204.17" width="24.9" height="2.92" fill="#ff7100"/><rect x="635.2" y="201.85" width="24.9" height="2.92" fill="#ff6d00"/><rect x="635.2" y="199.53" width="24.9" height="2.92" fill="#ff6c00"/><rect x="635.2" y="197.20" width="24.9" height="2.92" fill="#ff6b00"/><rect x="635.2" y="194.88" width="24.9" height="2.92" fill="#ff6a00"/><rect x="635.2" y="192.56" width="24.9" height="2.92" fill="#ff6900"/><rect x="635.2" y="190.23" width="24.9" height="2.92" fill="#ff6800"/><rect x="635.2" y="187.91" width="24.9" height="2.92" fill="#ff6700"/><rect x="635.2" y="185.59" width="24.9" height="2.92" fill="#ff6600"/><rect x="635.2" y="183.26" width="24.9" height="2.92" fill="#ff6500"/><rect x="635.2" y="180.94" width="24.9" height="2.92" fill="#ff6400"/><rect x="635.2" y="178.62" width="24.9" height="2.92" fill="#ff6300"/><rect x="635.2" y="176.29" width="24.9" height="2.92" fill="#ff6200"/><rect x="635.2" y="173.97" width="24.9" height="2.92" fill="#ff6100"/><rect x="635.2" y="171.65" width="24.9" height="2.92" fill="#ff6000"/><rect x="635.2" y="169.32" width="24.9" height="2.92" fill="#ff5f00"/><rect x="635.2" y="167.00" width="24.9" height="2.92" fill="#ff5e00"/><rect x="635.2" y="164.68" width="24.9" height="2.92" fill="#ff5d00"/><rect x="635.2" y="162.35" width="24.9" height="2.92" fill="#ff5c00"/><rect x="635.2" y="160.03" width="24.9" height="2.92" fill="#ff5b00"/><rect x="635.2" y="157.70" width="24.9" height="2.92" fill="#ff5a00"/><rect x="635.2" y="155.38" width="24.9" height="2.92" fill="#ff5300"/><rect x="635.2" y="153.06" width="24.9" height="2.92" fill="#ff4900"/><rect x="635.2" y="150.73" width="24.9" height="2.92" fill="#ff3e00"/><rect x="635.2" y="148.41" width="24.9" height="2.92" fill="#ff3400"/><rect x="635.2" y="146.09" width="24.9" height="2.92" fill="#ff2900"/><rect x="635.2" y="143.76" width="24.9" height="2.92" fill="#ff1f00"/><rect x="635.2" y="141.44" width="24.9" height="2.92" fill="#ff1400"/><rect x="635.2" y="139.12" width="24.9" height="2.92" fill="#ff0a00"/><rect x="635.2" y="136.79" width="24.9" height="2.92" fill="#ff0000"/><rect x="635.2" y="134.47" width="24.9" height="2.92" fill="#fe0000"/><rect x="635.2" y="132.15" width="24.9" height="2.92" fill="#fd0000"/><rect x="635.2" y="129.82" width="24.9" height="2.92" fill="#fc0000"/><rect x="635.2" y="127.50" width="24.9" height="2.92" fill="#fb0000"/><rect x="635.2" y="125.18" width="24.9" height="2.92" fill="#fb0000"/><rect x="635.2" y="122.85" width="24.9" height="2.92" fill="#fa0000"/><rect x="635.2" y="120.53" width="24.9" height="2.92" fill="#f90000"/><rect x="635.2" y="118.21" width="24.9" height="2.92" fill="#f80000"/><rect x="635.2" y="115.88" width="24.9" height="2.92" fill="#f70000"/><rect x="635.2" y="113.56" width="24.9" height="2.92" fill="#f60000"/><rect x="635.2" y="111.23" width="24.9" height="2.92" fill="#f50000"/><rect x="635.2" y="108.91" width="24.9" height="2.92" fill="#f40000"/><rect x="635.2" y="106.59" width="24.9" height="2.92" fill="#f40000"/><rect x="635.2" y="104.26" width="24.9" height="2.92" fill="#f30000"/><rect x="635.2" y="101.94" width="24.9" height="2.92" fill="#f20000"/><rect x="635.2" y="99.62" width="24.9" height="2.92" fill="#f10000"/><rect x="635.2" y="97.29" width="24.9" height="2.92" fill="#f00000"/><rect x="635.2" y="94.97" width="24.9" height="2.92" fill="#e00000"/><rect x="635.2" y="92.65" width="24.9" height="2.92" fill="#ce0000"/><rect x="635.2" y="90.32" width="24.9" height="2.92" fill="#bd0000"/><rect x="635.2" y="88.00" width="24.9" height="2.92" fill="#b10000"/><rect x="635.2" y="85.68" width="24.9" height="2.92" fill="#a60000"/><rect x="635.2" y="83.35" width="24.9" height="2.92" fill="#9a0000"/><rect x="635.2" y="81.03" width="24.9" height="2.92" fill="#8f0000"/><rect x="635.2" y="78.71" width="24.9" height="2.92" fill="#8b0000"/><rect x="635.2" y="76.38" width="24.9" height="2.92" fill="#8a0000"/><rect x="635.2" y="74.06" width="24.9" height="2.92" fill="#8a0000"/><rect x="635.2" y="71.74" width="24.9" height="2.92" fill="#890000"/><rect x="635.2" y="69.41" width="24.9" height="2.92" fill="#880000"/><rect x="635.2" y="67.09" width="24.9" height="2.92" fill="#870000"/><rect x="635.2" y="64.76" width="24.9" height="2.92" fill="#860000"/><rect x="635.2" y="62.44" width="24.9" height="2.92" fill="#850000"/><rect x="635.2" y="60.12" width="24.9" height="2.92" fill="#850000"/><rect x="635.2" y="57.79" width="24.9" height="2.92" fill="#840000"/><rect x="635.2" y="55.47" width="24.9" height="2.92" fill="#830000"/><rect x="635.2" y="53.15" width="24.9" height="2.92" fill="#820000"/><rect x="635.2" y="50.82" width="24.9" height="2.92" fill="#810000"/><rect x="635.2" y="48.50" width="24.9" height="2.92" fill="#800000"/></g><rect x="635.2" y="48.5" width="24.9" height="464.7" fill="none" stroke="#8a8a8e" stroke-width="1.8"/><text transform="translate(667.1,519.5) scale(1.2,1)" font-size="14" fill="#333" stroke="#333" stroke-width="0.4">0</text><text transform="translate(667.1,453.1) scale(1.2,1)" font-size="14" fill="#333" stroke="#333" stroke-width="0.4">2</text><text transform="translate(667.1,386.7) scale(1.2,1)" font-size="14" fill="#333" stroke="#333" stroke-width="0.4">4</text><text transform="translate(667.1,320.3) scale(1.2,1)" font-size="14" fill="#333" stroke="#333" stroke-width="0.4">6</text><text transform="translate(667.1,254.0) scale(1.2,1)" font-size="14" fill="#333" stroke="#333" stroke-width="0.4">8</text><text transform="translate(667.1,187.6) scale(1.2,1)" font-size="14" fill="#333" stroke="#333" stroke-width="0.4">10</text><text transform="translate(667.1,121.2) scale(1.2,1)" font-size="14" fill="#333" stroke="#333" stroke-width="0.4">12</text><text transform="translate(667.1,54.8) scale(1.2,1)" font-size="14" fill="#333" stroke="#333" stroke-width="0.4">14</text><path d="M660.1 513.2h-4M660.1 446.8h-4M660.1 380.4h-4M660.1 314.0h-4M660.1 247.7h-4M660.1 181.3h-4M660.1 114.9h-4M660.1 48.5h-4" stroke="#777" stroke-width="1.4"/><text transform="translate(708.1,280.9) rotate(-90) scale(1,1.18)" font-size="14.5" text-anchor="middle" fill="#333" stroke="#333" stroke-width="0.35">TVCD</text><text transform="translate(667.1,40.7) scale(1.15,1)" font-size="16" text-anchor="middle" fill="#777">×</text><text transform="translate(675.4,41.2) scale(1.2,1)" font-size="14" fill="#333" stroke="#333" stroke-width="0.35">10</text><text transform="translate(695.3000000000001,34.2) scale(1.2,1)" font-size="10.5" fill="#444" stroke="#444" stroke-width="0.3">15</text>
<clipPath id="clipb"><rect x="837.2" y="48.5" width="516.5" height="464.7"/></clipPath><g clip-path="url(#clipb)"><g transform="matrix(5.80337,0,0,7.59314,837.2,48.5)" shape-rendering="crispEdges" fill="none" stroke-width="1"><path stroke="#35cff3" d="M0 0.5h1M5 0.5h1M67 0.5h1M0 1.5h1M2 1.5h1M2 2.5h1M62 2.5h2M65 2.5h1M3 3.5h1M25 3.5h1M3 4.5h1M0 6.5h1M22 8.5h1M14 13.5h1M88 25.5h1M87 26.5h2M87 27.5h2M86 28.5h3M85 29.5h4M85 30.5h4M84 31.5h5M84 32.5h4M83 33.5h5M82 34.5h6M82 35.5h5M81 36.5h6M79 37.5h7M78 38.5h8M77 39.5h8M76 40.5h9M0 41.5h3M75 41.5h9M0 42.5h3M8 42.5h2M74 42.5h10M1 43.5h9M73 43.5h10M3 44.5h7M72 44.5h10M7 45.5h2M71 45.5h10M7 46.5h2M70 46.5h11M7 47.5h2M68 47.5h12M7 48.5h2M67 48.5h12M7 49.5h3M65 49.5h14M8 50.5h2M64 50.5h14M9 51.5h2M64 51.5h13M9 52.5h3M63 52.5h14M9 53.5h2M62 53.5h14M8 54.5h4M62 54.5h13M5 55.5h10M61 55.5h13M3 56.5h5M60 56.5h14M3 57.5h2M59 57.5h14M1 58.5h3M5 58.5h1M58 58.5h14M0 59.5h4M5 59.5h1M58 59.5h13M0 60.5h2M57 60.5h14M0 61.5h2M3 61.5h1M55 61.5h15"/><path stroke="#38c9f2" d="M1 0.5h1"/><path stroke="#32d2f4" d="M2 0.5h1M6 0.5h1M21 0.5h1M23 0.5h2M27 0.5h2M63 0.5h1M1 1.5h1M24 1.5h1M62 1.5h2M65 1.5h2M25 2.5h1M66 2.5h1M60 3.5h1M62 3.5h2M69 3.5h1M0 4.5h1M5 4.5h1M19 4.5h1M25 4.5h1M58 4.5h1M63 4.5h1M69 4.5h1M19 5.5h1M25 5.5h2M22 6.5h2M26 6.5h1M63 6.5h1M65 6.5h1M21 7.5h1M26 7.5h1M19 8.5h1M19 9.5h1M22 9.5h1M65 10.5h1M28 11.5h1M23 12.5h1M28 12.5h1M11 13.5h1M18 13.5h1M21 13.5h1M11 14.5h1M14 14.5h1M18 14.5h1M21 14.5h1M24 14.5h1M26 14.5h1M11 15.5h1M15 15.5h1M18 15.5h1M11 16.5h1M16 16.5h1M88 23.5h1M87 24.5h2M87 25.5h1M86 26.5h1M85 27.5h2M84 28.5h2M83 29.5h2M83 30.5h2M82 31.5h2M81 32.5h3M80 33.5h3M79 34.5h3M77 35.5h5M76 36.5h5M75 37.5h4M74 38.5h4M72 39.5h5M71 40.5h5M8 41.5h1M70 41.5h5M3 42.5h1M5 42.5h3M10 42.5h2M68 42.5h6M10 43.5h1M66 43.5h7M10 44.5h1M64 44.5h8M9 45.5h1M63 45.5h8M10 46.5h1M15 46.5h1M62 46.5h8M15 47.5h1M61 47.5h7M9 48.5h2M61 48.5h6M60 49.5h5M10 50.5h1M28 50.5h5M59 50.5h5M11 51.5h1M29 51.5h7M58 51.5h6M30 52.5h8M57 52.5h6M11 53.5h1M31 53.5h8M55 53.5h7M12 54.5h4M32 54.5h9M54 54.5h8M15 55.5h1M32 55.5h11M53 55.5h8M8 56.5h6M32 56.5h13M52 56.5h8M5 57.5h3M33 57.5h13M50 57.5h9M4 58.5h1M34 58.5h24M4 59.5h1M34 59.5h24M2 60.5h1M5 60.5h1M35 60.5h22M2 61.5h1M4 61.5h1M35 61.5h20"/><path stroke="#2ed6f6" d="M3 0.5h2M26 0.5h1M61 0.5h1M64 0.5h3M3 1.5h1M5 1.5h2M21 1.5h1M23 1.5h1M25 1.5h1M61 1.5h1M67 1.5h1M0 2.5h1M3 2.5h1M5 2.5h1M24 2.5h1M58 2.5h4M67 2.5h1M0 3.5h1M22 3.5h1M24 3.5h1M26 3.5h1M28 3.5h1M57 3.5h3M64 3.5h3M4 4.5h1M22 4.5h1M24 4.5h1M26 4.5h1M28 4.5h2M57 4.5h1M60 4.5h3M64 4.5h2M3 5.5h1M22 5.5h3M55 5.5h1M63 5.5h1M65 5.5h1M69 5.5h1M19 6.5h1M21 6.5h1M25 6.5h1M56 6.5h1M0 7.5h1M17 7.5h1M19 7.5h1M22 7.5h2M25 7.5h1M56 7.5h1M63 7.5h3M15 8.5h1M21 8.5h1M24 8.5h2M56 8.5h1M10 9.5h1M15 9.5h1M18 9.5h1M20 9.5h1M28 9.5h1M54 9.5h1M56 9.5h1M65 9.5h1M10 10.5h1M13 10.5h1M18 10.5h1M20 10.5h1M28 10.5h1M13 11.5h1M16 11.5h1M18 11.5h1M20 11.5h1M23 11.5h1M27 11.5h1M13 12.5h2M16 12.5h1M18 12.5h1M27 12.5h1M20 13.5h1M23 13.5h2M26 13.5h2M15 14.5h1M19 14.5h1M15 16.5h1M18 16.5h1M11 17.5h1M16 17.5h1M35 17.5h1M11 18.5h1M35 18.5h1M34 21.5h1M88 21.5h1M34 22.5h1M88 22.5h1M87 23.5h1M86 24.5h1M86 25.5h1M85 26.5h1M84 27.5h1M83 28.5h1M82 29.5h1M81 30.5h2M80 31.5h2M79 32.5h2M76 33.5h4M75 34.5h4M74 35.5h3M73 36.5h3M71 37.5h4M70 38.5h4M68 39.5h4M0 40.5h3M65 40.5h6M3 41.5h1M9 41.5h1M63 41.5h7M4 42.5h1M62 42.5h6M61 43.5h5M60 44.5h4M10 45.5h1M59 45.5h4M9 46.5h1M16 46.5h1M58 46.5h4M9 47.5h2M12 47.5h1M16 47.5h1M24 47.5h2M33 47.5h1M57 47.5h4M12 48.5h1M16 48.5h1M24 48.5h12M56 48.5h5M10 49.5h1M23 49.5h15M54 49.5h6M11 50.5h1M23 50.5h5M33 50.5h8M53 50.5h6M23 51.5h6M36 51.5h8M52 51.5h6M26 52.5h4M38 52.5h7M50 52.5h7M27 53.5h4M39 53.5h8M49 53.5h6M16 54.5h1M28 54.5h4M41 54.5h13M16 55.5h1M28 55.5h4M43 55.5h10M29 56.5h3M45 56.5h7M29 57.5h4M46 57.5h4M30 58.5h4M30 59.5h4M3 60.5h1M6 60.5h1M30 60.5h5M6 61.5h1M30 61.5h5"/><path stroke="#10eefc" d="M7 0.5h1M12 0.5h1M33 0.5h1M35 0.5h1M55 0.5h2M59 0.5h2M69 0.5h2M72 0.5h1M77 0.5h1M8 1.5h1M19 1.5h1M30 1.5h2M34 1.5h1M55 1.5h2M69 1.5h2M72 1.5h1M9 2.5h1M20 2.5h1M30 2.5h2M34 2.5h1M54 2.5h1M56 2.5h1M70 2.5h1M7 3.5h2M10 3.5h1M23 3.5h1M30 3.5h1M56 3.5h1M30 4.5h1M18 5.5h1M27 5.5h1M30 5.5h2M54 5.5h1M59 5.5h1M3 6.5h2M13 6.5h1M16 6.5h2M30 6.5h2M9 7.5h2M20 7.5h1M29 7.5h1M57 7.5h1M61 7.5h2M67 7.5h1M29 8.5h2M57 8.5h1M60 8.5h3M67 8.5h1M0 9.5h1M8 9.5h2M11 9.5h2M16 9.5h1M23 9.5h1M58 9.5h1M60 9.5h3M64 9.5h1M67 9.5h1M9 10.5h1M12 10.5h1M14 10.5h1M24 10.5h2M29 10.5h1M31 10.5h1M59 10.5h2M68 10.5h1M1 11.5h2M9 11.5h1M11 11.5h2M14 11.5h1M24 11.5h2M31 11.5h1M55 11.5h1M1 12.5h1M12 12.5h1M25 12.5h1M37 12.5h1M60 12.5h1M10 13.5h1M12 13.5h1M17 13.5h1M33 13.5h1M35 13.5h1M65 13.5h1M12 14.5h1M22 14.5h1M30 14.5h1M33 14.5h2M65 14.5h1M26 15.5h1M31 15.5h1M34 15.5h1M37 15.5h1M3 16.5h1M17 16.5h1M20 16.5h1M24 16.5h2M28 16.5h2M37 16.5h1M39 16.5h1M3 17.5h1M6 17.5h1M10 17.5h1M18 17.5h1M21 17.5h1M28 17.5h2M32 17.5h2M2 18.5h1M6 18.5h3M13 18.5h1M16 18.5h1M32 18.5h1M88 18.5h1M2 19.5h1M8 19.5h1M10 19.5h1M13 19.5h1M32 19.5h1M36 19.5h1M5 20.5h1M9 20.5h1M13 20.5h1M15 20.5h1M26 20.5h1M29 20.5h1M36 20.5h1M87 20.5h1M11 21.5h1M15 21.5h1M35 21.5h1M11 22.5h1M14 22.5h2M26 22.5h1M31 22.5h1M11 23.5h1M14 23.5h2M26 23.5h1M30 23.5h1M85 23.5h1M31 24.5h1M34 24.5h1M84 24.5h1M83 25.5h1M32 26.5h1M82 26.5h1M32 27.5h1M81 27.5h1M32 28.5h1M80 28.5h1M15 29.5h1M77 29.5h2M15 30.5h1M74 30.5h3M73 31.5h2M71 32.5h2M69 33.5h3M64 34.5h6M0 35.5h1M62 35.5h6M0 36.5h2M61 36.5h2M0 37.5h1M60 37.5h2M0 38.5h1M3 38.5h1M58 38.5h3M57 39.5h3M4 40.5h1M8 40.5h1M10 40.5h1M56 40.5h2M54 41.5h3M19 42.5h1M32 42.5h2M52 42.5h4M11 43.5h1M29 43.5h4M34 43.5h4M50 43.5h4M16 44.5h1M21 44.5h9M36 44.5h8M49 44.5h3M17 45.5h1M21 45.5h1M40 45.5h7M48 45.5h3M11 46.5h1M20 46.5h1M44 46.5h6M11 47.5h1M20 47.5h1M47 47.5h1M11 48.5h1M13 48.5h1M19 48.5h1M12 49.5h3M18 49.5h1M13 50.5h1M16 50.5h2M19 50.5h1M13 51.5h1M19 51.5h1M12 52.5h1M19 52.5h1M17 53.5h4M18 54.5h1M21 54.5h3M23 55.5h2M24 56.5h1M8 57.5h1M18 57.5h1M24 57.5h1M24 58.5h1M18 59.5h1M25 59.5h1M8 60.5h1M22 60.5h1M25 60.5h1M12 61.5h1M22 61.5h1M25 61.5h1"/><path stroke="#20e2f9" d="M8 0.5h1M20 0.5h1M22 0.5h1M30 0.5h1M9 1.5h1M20 1.5h1M22 1.5h1M29 1.5h1M57 1.5h4M4 2.5h1M19 2.5h1M23 2.5h1M29 2.5h1M57 2.5h1M72 2.5h1M6 3.5h1M20 3.5h1M27 3.5h1M31 3.5h1M54 3.5h2M2 4.5h1M6 4.5h2M27 4.5h1M54 4.5h1M2 5.5h1M4 5.5h1M7 5.5h1M20 5.5h1M32 5.5h1M58 5.5h1M72 5.5h1M1 6.5h1M11 6.5h1M24 6.5h1M27 6.5h2M55 6.5h1M57 6.5h2M60 6.5h1M62 6.5h1M66 6.5h1M1 7.5h2M8 7.5h1M11 7.5h1M15 7.5h2M27 7.5h1M30 7.5h1M66 7.5h1M0 8.5h2M8 8.5h2M11 8.5h1M14 8.5h1M20 8.5h1M27 8.5h1M54 8.5h1M59 8.5h1M63 8.5h1M1 9.5h1M26 9.5h2M0 10.5h2M17 10.5h1M19 10.5h1M23 10.5h1M26 10.5h2M56 10.5h1M61 10.5h2M10 11.5h1M17 11.5h1M26 11.5h1M30 11.5h1M60 11.5h1M62 11.5h1M9 12.5h2M17 12.5h1M19 12.5h1M24 12.5h1M29 12.5h1M62 12.5h1M65 12.5h1M19 13.5h1M22 13.5h1M29 13.5h2M17 14.5h1M27 14.5h2M35 14.5h1M9 15.5h1M13 15.5h1M17 15.5h1M19 15.5h2M30 15.5h1M32 15.5h1M35 15.5h1M21 16.5h1M30 16.5h1M32 16.5h1M15 17.5h1M30 17.5h1M10 18.5h1M14 18.5h1M30 18.5h1M33 18.5h1M7 19.5h1M9 19.5h1M11 19.5h1M14 19.5h1M30 19.5h1M33 19.5h1M88 19.5h1M11 20.5h1M32 20.5h2M35 20.5h1M7 21.5h1M13 21.5h2M29 21.5h1M87 21.5h1M29 22.5h1M86 22.5h1M33 23.5h2M33 24.5h1M32 25.5h1M84 25.5h1M83 26.5h1M81 28.5h1M79 29.5h2M77 30.5h3M75 31.5h3M73 32.5h2M72 33.5h2M70 34.5h3M68 35.5h3M63 36.5h7M2 37.5h1M62 37.5h5M2 38.5h1M61 38.5h2M0 39.5h1M60 39.5h2M6 40.5h1M58 40.5h3M6 41.5h1M10 41.5h1M57 41.5h3M56 42.5h3M33 43.5h1M54 43.5h4M11 44.5h1M30 44.5h6M52 44.5h5M11 45.5h1M22 45.5h10M34 45.5h6M51 45.5h4M12 46.5h1M17 46.5h1M21 46.5h2M37 46.5h7M50 46.5h3M14 47.5h1M21 47.5h1M40 47.5h7M48 47.5h4M18 48.5h1M20 48.5h2M43 48.5h8M16 49.5h2M19 49.5h2M46 49.5h4M20 50.5h2M20 51.5h2M20 52.5h2M21 53.5h3M24 54.5h2M17 55.5h1M25 55.5h1M25 56.5h2M25 57.5h2M6 58.5h1M25 58.5h2M8 59.5h1M26 59.5h2M26 60.5h2M5 61.5h1M26 61.5h2"/><path stroke="#2adaf7" d="M9 0.5h1M19 0.5h1M25 0.5h1M29 0.5h1M31 0.5h1M57 0.5h1M62 0.5h1M4 1.5h1M26 1.5h3M64 1.5h1M1 2.5h1M6 2.5h1M21 2.5h2M26 2.5h3M64 2.5h1M69 2.5h1M1 3.5h2M4 3.5h2M19 3.5h1M21 3.5h1M29 3.5h1M61 3.5h1M67 3.5h1M72 3.5h1M1 4.5h1M20 4.5h2M23 4.5h1M31 4.5h1M55 4.5h2M59 4.5h1M66 4.5h2M72 4.5h1M1 5.5h1M21 5.5h1M28 5.5h2M56 5.5h2M60 5.5h3M64 5.5h1M66 5.5h2M2 6.5h1M18 6.5h1M29 6.5h1M61 6.5h1M64 6.5h1M67 6.5h1M69 6.5h1M18 7.5h1M24 7.5h1M28 7.5h1M58 7.5h1M60 7.5h1M10 8.5h1M17 8.5h2M23 8.5h1M26 8.5h1M28 8.5h1M58 8.5h1M64 8.5h2M13 9.5h2M17 9.5h1M21 9.5h1M24 9.5h2M59 9.5h1M15 10.5h2M21 10.5h2M54 10.5h1M15 11.5h1M21 11.5h2M65 11.5h1M11 12.5h1M15 12.5h1M20 12.5h3M26 12.5h1M30 12.5h1M9 13.5h1M13 13.5h1M15 13.5h2M25 13.5h1M28 13.5h1M9 14.5h1M13 14.5h1M16 14.5h1M20 14.5h1M23 14.5h1M25 14.5h1M29 14.5h1M32 14.5h1M14 15.5h1M16 15.5h1M21 15.5h1M24 15.5h2M29 15.5h1M13 16.5h2M35 16.5h1M13 17.5h2M35 19.5h1M7 20.5h1M14 20.5h1M34 20.5h1M88 20.5h1M32 21.5h2M32 22.5h2M87 22.5h1M31 23.5h2M86 23.5h1M32 24.5h1M85 24.5h1M85 25.5h1M84 26.5h1M82 27.5h2M82 28.5h1M81 29.5h1M80 30.5h1M78 31.5h2M75 32.5h4M74 33.5h2M73 34.5h2M71 35.5h3M70 36.5h3M1 37.5h1M67 37.5h4M1 38.5h1M63 38.5h7M1 39.5h2M62 39.5h6M61 40.5h4M60 41.5h3M59 42.5h3M58 43.5h3M57 44.5h3M16 45.5h1M32 45.5h2M55 45.5h4M23 46.5h14M53 46.5h5M17 47.5h1M22 47.5h2M26 47.5h7M34 47.5h6M52 47.5h5M14 48.5h1M17 48.5h1M22 48.5h2M36 48.5h7M51 48.5h5M11 49.5h1M21 49.5h2M38 49.5h8M50 49.5h4M22 50.5h1M41 50.5h12M22 51.5h1M44 51.5h8M22 52.5h4M45 52.5h5M16 53.5h1M24 53.5h3M47 53.5h2M17 54.5h1M26 54.5h2M26 55.5h2M27 56.5h2M27 57.5h2M8 58.5h1M27 58.5h3M6 59.5h1M28 59.5h2M4 60.5h1M28 60.5h2M28 61.5h2"/><path stroke="#00fbff" d="M10 0.5h2M36 0.5h1M51 0.5h2M76 0.5h1M79 0.5h1M81 0.5h1M32 1.5h1M37 1.5h1M73 1.5h1M75 1.5h1M78 1.5h1M73 2.5h1M76 2.5h2M11 3.5h1M13 3.5h1M32 3.5h1M35 3.5h2M73 3.5h1M11 4.5h2M75 4.5h1M16 5.5h1M14 6.5h1M33 6.5h1M71 6.5h1M4 7.5h1M80 7.5h1M31 8.5h2M36 8.5h1M53 8.5h1M84 8.5h2M3 9.5h1M31 9.5h1M83 9.5h2M33 10.5h1M35 10.5h3M40 10.5h1M53 10.5h1M84 10.5h1M3 11.5h1M33 11.5h1M36 11.5h1M40 11.5h1M57 11.5h1M85 11.5h2M3 12.5h1M32 12.5h1M34 12.5h1M39 12.5h1M57 12.5h1M0 13.5h1M3 13.5h1M8 13.5h1M31 13.5h1M34 13.5h1M39 13.5h1M55 13.5h1M57 13.5h2M60 13.5h1M62 13.5h1M1 14.5h1M3 14.5h2M8 14.5h1M42 14.5h1M53 14.5h1M56 14.5h2M59 14.5h1M63 14.5h1M1 15.5h1M5 15.5h1M36 15.5h1M42 15.5h1M56 15.5h1M59 15.5h1M66 15.5h1M1 16.5h1M6 16.5h1M8 16.5h1M36 16.5h1M1 17.5h1M5 17.5h1M12 17.5h1M22 17.5h2M38 17.5h1M65 17.5h1M5 18.5h1M63 18.5h3M1 19.5h1M16 19.5h2M27 19.5h2M65 19.5h1M86 19.5h1M4 20.5h1M17 20.5h2M24 20.5h1M27 20.5h1M39 20.5h1M65 20.5h1M4 21.5h1M12 21.5h1M21 21.5h3M85 21.5h1M3 22.5h1M5 22.5h2M9 22.5h1M24 22.5h1M27 22.5h1M6 23.5h3M13 23.5h1M18 23.5h1M25 23.5h1M27 23.5h2M35 23.5h1M2 24.5h1M6 24.5h1M16 24.5h1M18 24.5h1M35 24.5h1M37 24.5h1M83 24.5h1M2 25.5h2M5 25.5h3M14 25.5h3M18 25.5h1M21 25.5h1M23 25.5h2M2 26.5h2M5 26.5h3M11 26.5h1M15 26.5h2M18 26.5h1M22 26.5h2M25 26.5h1M31 26.5h1M33 26.5h1M36 26.5h1M80 26.5h1M2 27.5h1M5 27.5h1M7 27.5h2M17 27.5h2M25 27.5h1M31 27.5h1M78 27.5h1M2 28.5h1M7 28.5h2M22 28.5h1M24 28.5h1M31 28.5h1M69 28.5h1M73 28.5h1M2 29.5h1M7 29.5h1M17 29.5h1M30 29.5h1M32 29.5h1M69 29.5h4M3 30.5h1M10 30.5h1M14 30.5h1M17 30.5h1M28 30.5h1M30 30.5h2M63 30.5h3M69 30.5h1M1 31.5h1M10 31.5h1M12 31.5h2M16 31.5h1M28 31.5h1M62 31.5h2M66 31.5h3M4 32.5h1M8 32.5h1M12 32.5h1M14 32.5h1M16 32.5h1M24 32.5h1M26 32.5h2M60 32.5h2M0 33.5h1M4 33.5h1M8 33.5h1M59 33.5h1M0 34.5h2M6 34.5h1M8 34.5h1M13 34.5h1M30 34.5h1M58 34.5h1M8 35.5h1M11 35.5h1M25 35.5h1M33 35.5h1M57 35.5h1M11 36.5h1M55 36.5h2M5 37.5h1M7 37.5h2M26 37.5h1M30 37.5h1M54 37.5h2M4 38.5h1M11 38.5h1M31 38.5h1M33 38.5h1M52 38.5h2M9 39.5h1M32 39.5h3M50 39.5h2M5 40.5h1M9 40.5h1M21 40.5h2M30 40.5h1M35 40.5h9M48 40.5h2M12 41.5h1M26 41.5h3M43 41.5h5M18 42.5h1M20 42.5h2M18 43.5h1M13 44.5h1M15 45.5h1M15 48.5h1M15 50.5h1M14 52.5h1M16 56.5h1M21 56.5h1M12 57.5h1M17 57.5h1M21 57.5h1M10 58.5h2M13 58.5h1M15 58.5h1M20 58.5h1M22 58.5h1M10 60.5h1M13 60.5h1M16 60.5h1M19 60.5h1M21 60.5h1M20 61.5h1M23 61.5h1"/><path stroke="#00fcff" d="M13 0.5h2M18 0.5h1M39 0.5h3M50 0.5h1M53 0.5h1M74 0.5h2M78 0.5h1M80 0.5h1M13 1.5h2M16 1.5h1M18 1.5h1M38 1.5h4M52 1.5h1M76 1.5h1M80 1.5h2M83 1.5h1M12 2.5h5M18 2.5h1M32 2.5h1M37 2.5h4M52 2.5h2M80 2.5h2M83 2.5h1M12 3.5h1M14 3.5h4M38 3.5h2M53 3.5h1M77 3.5h2M80 3.5h2M13 4.5h5M33 4.5h4M38 4.5h1M41 4.5h1M53 4.5h1M77 4.5h4M83 4.5h1M14 5.5h1M33 5.5h3M37 5.5h3M53 5.5h1M73 5.5h5M79 5.5h6M5 6.5h2M34 6.5h3M38 6.5h2M53 6.5h1M73 6.5h1M77 6.5h1M79 6.5h1M81 6.5h2M84 6.5h1M7 7.5h1M34 7.5h3M38 7.5h2M53 7.5h1M71 7.5h2M81 7.5h5M3 8.5h1M34 8.5h2M38 8.5h3M46 8.5h1M51 8.5h2M71 8.5h1M80 8.5h4M86 8.5h1M2 9.5h1M32 9.5h1M34 9.5h4M39 9.5h2M43 9.5h2M46 9.5h1M51 9.5h2M71 9.5h1M80 9.5h3M86 9.5h2M32 10.5h1M38 10.5h2M42 10.5h1M44 10.5h1M46 10.5h1M52 10.5h1M71 10.5h1M82 10.5h2M86 10.5h2M32 11.5h1M38 11.5h2M43 11.5h2M46 11.5h1M50 11.5h1M52 11.5h2M67 11.5h1M69 11.5h2M84 11.5h1M87 11.5h2M4 12.5h1M36 12.5h1M40 12.5h2M43 12.5h2M46 12.5h1M53 12.5h1M56 12.5h1M67 12.5h4M84 12.5h5M2 13.5h1M4 13.5h1M7 13.5h1M36 13.5h1M40 13.5h5M46 13.5h1M53 13.5h2M56 13.5h1M64 13.5h1M67 13.5h4M84 13.5h5M0 14.5h1M2 14.5h1M5 14.5h1M7 14.5h1M36 14.5h1M41 14.5h1M43 14.5h2M48 14.5h1M51 14.5h1M54 14.5h2M58 14.5h1M60 14.5h1M62 14.5h1M64 14.5h1M67 14.5h1M69 14.5h2M84 14.5h2M88 14.5h1M0 15.5h1M2 15.5h1M7 15.5h1M41 15.5h1M43 15.5h1M51 15.5h1M53 15.5h1M55 15.5h1M60 15.5h5M84 15.5h3M88 15.5h1M0 16.5h1M2 16.5h1M40 16.5h3M53 16.5h4M59 16.5h6M66 16.5h1M87 16.5h2M0 17.5h1M19 17.5h1M36 17.5h1M40 17.5h1M54 17.5h1M56 17.5h2M61 17.5h4M66 17.5h1M87 17.5h2M0 18.5h2M19 18.5h2M22 18.5h2M25 18.5h1M38 18.5h1M40 18.5h1M54 18.5h1M66 18.5h1M0 19.5h1M19 19.5h7M38 19.5h1M40 19.5h1M54 19.5h1M63 19.5h2M66 19.5h1M0 20.5h1M6 20.5h1M16 20.5h1M19 20.5h3M23 20.5h1M38 20.5h1M54 20.5h1M57 20.5h1M63 20.5h2M85 20.5h1M0 21.5h1M6 21.5h1M17 21.5h4M27 21.5h1M38 21.5h2M57 21.5h1M60 21.5h2M63 21.5h3M84 21.5h1M0 22.5h1M4 22.5h1M12 22.5h1M17 22.5h4M22 22.5h2M36 22.5h1M38 22.5h1M57 22.5h5M63 22.5h3M84 22.5h1M0 23.5h2M3 23.5h3M9 23.5h1M12 23.5h1M17 23.5h1M19 23.5h2M22 23.5h3M36 23.5h1M38 23.5h1M57 23.5h5M63 23.5h2M83 23.5h1M0 24.5h2M3 24.5h3M7 24.5h4M12 24.5h2M17 24.5h1M19 24.5h2M22 24.5h4M27 24.5h1M57 24.5h8M82 24.5h1M0 25.5h1M8 25.5h3M12 25.5h1M19 25.5h2M22 25.5h1M25 25.5h1M27 25.5h1M30 25.5h1M35 25.5h1M37 25.5h1M58 25.5h5M64 25.5h1M80 25.5h2M0 26.5h1M8 26.5h3M12 26.5h1M14 26.5h1M19 26.5h3M27 26.5h1M35 26.5h1M37 26.5h1M59 26.5h1M61 26.5h2M64 26.5h1M78 26.5h2M0 27.5h1M3 27.5h1M6 27.5h1M10 27.5h5M19 27.5h3M23 27.5h1M29 27.5h1M33 27.5h3M37 27.5h1M59 27.5h1M62 27.5h1M64 27.5h1M75 27.5h3M0 28.5h2M3 28.5h1M5 28.5h2M10 28.5h5M17 28.5h4M23 28.5h1M25 28.5h1M29 28.5h1M33 28.5h3M60 28.5h1M62 28.5h1M64 28.5h2M70 28.5h1M0 29.5h2M4 29.5h1M6 29.5h1M8 29.5h1M12 29.5h3M18 29.5h1M20 29.5h1M22 29.5h3M29 29.5h1M33 29.5h4M60 29.5h7M68 29.5h1M1 30.5h2M4 30.5h6M12 30.5h2M18 30.5h1M21 30.5h5M29 30.5h1M32 30.5h5M58 30.5h5M66 30.5h3M0 31.5h1M2 31.5h8M17 31.5h1M21 31.5h3M25 31.5h1M29 31.5h6M58 31.5h4M0 32.5h1M2 32.5h2M5 32.5h1M7 32.5h1M9 32.5h2M15 32.5h1M17 32.5h2M22 32.5h2M25 32.5h1M28 32.5h3M32 32.5h3M57 32.5h3M3 33.5h1M7 33.5h1M9 33.5h2M12 33.5h1M14 33.5h3M23 33.5h12M56 33.5h3M3 34.5h2M7 34.5h1M14 34.5h3M23 34.5h7M31 34.5h1M33 34.5h2M55 34.5h3M3 35.5h5M9 35.5h1M12 35.5h5M24 35.5h1M26 35.5h6M34 35.5h1M53 35.5h4M4 36.5h2M7 36.5h1M12 36.5h3M16 36.5h1M24 36.5h8M34 36.5h1M37 36.5h1M52 36.5h3M4 37.5h1M6 37.5h1M10 37.5h1M12 37.5h2M17 37.5h1M19 37.5h1M24 37.5h1M27 37.5h3M31 37.5h2M34 37.5h4M40 37.5h1M49 37.5h5M5 38.5h2M10 38.5h1M12 38.5h1M17 38.5h1M19 38.5h1M23 38.5h3M27 38.5h3M32 38.5h1M34 38.5h2M39 38.5h3M44 38.5h8M5 39.5h1M11 39.5h1M17 39.5h3M22 39.5h1M24 39.5h2M27 39.5h5M35 39.5h15M11 40.5h2M17 40.5h4M24 40.5h1M27 40.5h3M44 40.5h4M13 41.5h1M17 41.5h1M20 41.5h2M24 41.5h1M13 42.5h5M13 43.5h3M17 43.5h1M14 44.5h2M17 44.5h1M14 45.5h1M15 49.5h1M14 51.5h1M15 56.5h1M20 56.5h1M13 57.5h1M20 57.5h1M14 58.5h1M17 58.5h1M10 59.5h2M14 59.5h1M17 59.5h1M11 60.5h1M14 60.5h2M11 61.5h1M13 61.5h1M15 61.5h2M18 61.5h1M21 61.5h1"/><path stroke="#00feff" d="M15 0.5h1M42 0.5h2M49 0.5h1M82 0.5h1M84 0.5h4M42 1.5h2M49 1.5h2M82 1.5h1M84 1.5h3M42 2.5h2M49 2.5h1M51 2.5h1M82 2.5h1M84 2.5h3M42 3.5h3M52 3.5h1M82 3.5h1M84 3.5h1M86 3.5h1M40 4.5h1M42 4.5h1M44 4.5h1M52 4.5h1M84 4.5h1M88 4.5h1M40 5.5h1M42 5.5h5M51 5.5h2M85 5.5h2M37 6.5h1M40 6.5h1M42 6.5h4M51 6.5h2M74 6.5h1M76 6.5h1M78 6.5h1M86 6.5h1M6 7.5h1M40 7.5h1M42 7.5h3M73 7.5h1M75 7.5h4M86 7.5h3M41 8.5h1M44 8.5h1M50 8.5h1M77 8.5h3M87 8.5h2M4 9.5h1M41 9.5h1M50 9.5h1M72 9.5h1M79 9.5h1M4 10.5h1M41 10.5h1M47 10.5h1M51 10.5h1M72 10.5h1M4 11.5h1M41 11.5h1M51 11.5h1M72 11.5h1M80 11.5h2M7 12.5h1M47 12.5h5M72 12.5h1M81 12.5h2M45 13.5h1M47 13.5h4M52 13.5h1M71 13.5h2M82 13.5h1M45 14.5h3M50 14.5h1M52 14.5h1M71 14.5h1M82 14.5h2M6 15.5h1M44 15.5h3M50 15.5h1M52 15.5h1M68 15.5h4M43 16.5h3M48 16.5h1M50 16.5h1M52 16.5h1M68 16.5h1M71 16.5h1M84 16.5h1M86 16.5h1M44 17.5h1M50 17.5h3M55 17.5h1M59 17.5h2M68 17.5h2M85 17.5h2M41 18.5h2M51 18.5h3M55 18.5h1M58 18.5h1M61 18.5h2M67 18.5h3M41 19.5h2M53 19.5h1M55 19.5h4M61 19.5h2M67 19.5h2M42 20.5h1M53 20.5h1M55 20.5h2M58 20.5h4M67 20.5h1M40 21.5h1M53 21.5h4M58 21.5h1M66 21.5h2M83 21.5h1M39 22.5h2M55 22.5h1M62 22.5h1M67 22.5h1M39 23.5h1M56 23.5h1M65 23.5h2M82 23.5h1M39 24.5h1M56 24.5h1M65 24.5h2M81 24.5h1M38 25.5h1M57 25.5h1M63 25.5h1M65 25.5h1M38 26.5h1M57 26.5h2M63 26.5h1M65 26.5h1M38 27.5h1M58 27.5h1M60 27.5h2M63 27.5h1M65 27.5h1M36 28.5h1M38 28.5h1M61 28.5h1M25 29.5h1M38 29.5h1M57 29.5h3M0 30.5h1M37 30.5h2M56 30.5h1M20 31.5h1M36 31.5h3M55 31.5h2M19 32.5h3M35 32.5h1M37 32.5h1M55 32.5h1M17 33.5h1M19 33.5h1M21 33.5h2M35 33.5h4M54 33.5h1M5 34.5h1M9 34.5h1M17 34.5h6M36 34.5h3M52 34.5h2M17 35.5h6M35 35.5h4M49 35.5h4M10 36.5h1M18 36.5h3M22 36.5h2M38 36.5h2M46 36.5h4M14 37.5h3M18 37.5h1M38 37.5h1M45 37.5h1M14 38.5h2M20 38.5h1M22 38.5h1M13 39.5h1M14 41.5h1M14 57.5h1M16 57.5h1"/><path stroke="#00fdff" d="M16 0.5h1M83 0.5h1M15 1.5h1M51 1.5h1M53 1.5h1M41 2.5h1M37 3.5h1M40 3.5h2M83 3.5h1M37 4.5h1M39 4.5h1M81 4.5h2M36 5.5h1M41 5.5h1M78 5.5h1M88 5.5h1M41 6.5h1M46 6.5h1M75 6.5h1M83 6.5h1M85 6.5h1M88 6.5h1M37 7.5h1M41 7.5h1M45 7.5h2M51 7.5h2M79 7.5h1M4 8.5h1M37 8.5h1M42 8.5h2M45 8.5h1M72 8.5h1M38 9.5h1M42 9.5h1M45 9.5h1M88 9.5h1M43 10.5h1M45 10.5h1M50 10.5h1M80 10.5h2M88 10.5h1M42 11.5h1M45 11.5h1M71 11.5h1M82 11.5h2M42 12.5h1M45 12.5h1M52 12.5h1M71 12.5h1M83 12.5h1M51 13.5h1M83 13.5h1M68 14.5h1M86 14.5h1M48 15.5h1M54 15.5h1M58 15.5h1M67 15.5h1M51 16.5h1M58 16.5h1M67 16.5h1M85 16.5h1M41 17.5h2M53 17.5h1M58 17.5h1M67 17.5h1M56 18.5h2M40 20.5h1M62 20.5h1M66 20.5h1M84 20.5h1M59 21.5h1M62 21.5h1M56 22.5h1M66 22.5h1M83 22.5h1M62 23.5h1M38 24.5h1M79 25.5h1M60 26.5h1M9 27.5h1M36 27.5h1M9 28.5h1M37 28.5h1M59 28.5h1M63 28.5h1M5 29.5h1M9 29.5h1M19 29.5h1M37 29.5h1M19 30.5h2M57 30.5h1M18 31.5h2M35 31.5h1M57 31.5h1M31 32.5h1M56 32.5h1M5 33.5h1M18 33.5h1M20 33.5h1M55 33.5h1M10 34.5h1M12 34.5h1M32 34.5h1M54 34.5h1M10 35.5h1M23 35.5h1M32 35.5h1M6 36.5h1M15 36.5h1M17 36.5h1M32 36.5h1M35 36.5h2M50 36.5h2M23 37.5h1M25 37.5h1M39 37.5h1M46 37.5h3M13 38.5h1M18 38.5h1M38 38.5h1M43 38.5h1M12 39.5h1M20 39.5h1M13 40.5h1M16 41.5h1"/><path stroke="#00faff" d="M17 0.5h1M32 0.5h1M34 0.5h1M37 0.5h2M54 0.5h1M58 0.5h1M68 0.5h1M71 0.5h1M73 0.5h1M7 1.5h1M10 1.5h3M17 1.5h1M33 1.5h1M35 1.5h2M54 1.5h1M68 1.5h1M71 1.5h1M74 1.5h1M77 1.5h1M79 1.5h1M7 2.5h2M10 2.5h2M17 2.5h1M33 2.5h1M35 2.5h2M55 2.5h1M68 2.5h1M71 2.5h1M74 2.5h2M78 2.5h2M9 3.5h1M18 3.5h1M33 3.5h2M68 3.5h1M70 3.5h2M74 3.5h3M79 3.5h1M8 4.5h3M18 4.5h1M32 4.5h1M68 4.5h1M70 4.5h2M73 4.5h2M76 4.5h1M5 5.5h2M8 5.5h6M15 5.5h1M17 5.5h1M68 5.5h1M70 5.5h2M7 6.5h4M12 6.5h1M15 6.5h1M20 6.5h1M32 6.5h1M54 6.5h1M59 6.5h1M68 6.5h1M70 6.5h1M72 6.5h1M80 6.5h1M3 7.5h1M12 7.5h3M31 7.5h3M54 7.5h2M59 7.5h1M68 7.5h3M2 8.5h1M12 8.5h2M16 8.5h1M33 8.5h1M55 8.5h1M66 8.5h1M68 8.5h3M29 9.5h2M33 9.5h1M53 9.5h1M55 9.5h1M57 9.5h1M63 9.5h1M66 9.5h1M68 9.5h3M85 9.5h1M2 10.5h2M8 10.5h1M11 10.5h1M30 10.5h1M34 10.5h1M55 10.5h1M57 10.5h2M63 10.5h2M66 10.5h2M69 10.5h2M85 10.5h1M0 11.5h1M8 11.5h1M19 11.5h1M29 11.5h1M34 11.5h2M37 11.5h1M54 11.5h1M56 11.5h1M58 11.5h2M61 11.5h1M63 11.5h2M66 11.5h1M68 11.5h1M0 12.5h1M2 12.5h1M8 12.5h1M31 12.5h1M33 12.5h1M35 12.5h1M38 12.5h1M54 12.5h2M58 12.5h2M61 12.5h1M63 12.5h2M66 12.5h1M1 13.5h1M32 13.5h1M37 13.5h2M59 13.5h1M61 13.5h1M63 13.5h1M66 13.5h1M10 14.5h1M31 14.5h1M37 14.5h4M61 14.5h1M66 14.5h1M87 14.5h1M3 15.5h2M8 15.5h1M10 15.5h1M12 15.5h1M22 15.5h2M27 15.5h2M33 15.5h1M38 15.5h3M57 15.5h1M65 15.5h1M87 15.5h1M4 16.5h2M7 16.5h1M9 16.5h2M12 16.5h1M19 16.5h1M22 16.5h2M26 16.5h2M31 16.5h1M33 16.5h2M38 16.5h1M57 16.5h1M65 16.5h1M2 17.5h1M4 17.5h1M7 17.5h3M17 17.5h1M20 17.5h1M24 17.5h4M31 17.5h1M34 17.5h1M37 17.5h1M39 17.5h1M3 18.5h2M9 18.5h1M12 18.5h1M15 18.5h1M17 18.5h2M21 18.5h1M24 18.5h1M26 18.5h4M31 18.5h1M34 18.5h1M36 18.5h2M39 18.5h1M87 18.5h1M3 19.5h4M12 19.5h1M15 19.5h1M18 19.5h1M26 19.5h1M29 19.5h1M31 19.5h1M34 19.5h1M37 19.5h1M39 19.5h1M87 19.5h1M1 20.5h3M8 20.5h1M10 20.5h1M12 20.5h1M22 20.5h1M25 20.5h1M28 20.5h1M30 20.5h2M37 20.5h1M86 20.5h1M1 21.5h3M5 21.5h1M8 21.5h3M16 21.5h1M24 21.5h3M28 21.5h1M30 21.5h2M36 21.5h2M86 21.5h1M1 22.5h2M7 22.5h2M10 22.5h1M13 22.5h1M16 22.5h1M21 22.5h1M25 22.5h1M28 22.5h1M30 22.5h1M35 22.5h1M37 22.5h1M85 22.5h1M2 23.5h1M10 23.5h1M16 23.5h1M21 23.5h1M29 23.5h1M37 23.5h1M84 23.5h1M11 24.5h1M14 24.5h2M21 24.5h1M26 24.5h1M28 24.5h3M36 24.5h1M1 25.5h1M4 25.5h1M11 25.5h1M13 25.5h1M17 25.5h1M26 25.5h1M28 25.5h2M31 25.5h1M33 25.5h2M36 25.5h1M82 25.5h1M1 26.5h1M4 26.5h1M13 26.5h1M17 26.5h1M24 26.5h1M26 26.5h1M28 26.5h3M34 26.5h1M81 26.5h1M1 27.5h1M4 27.5h1M15 27.5h2M22 27.5h1M24 27.5h1M26 27.5h3M30 27.5h1M79 27.5h2M4 28.5h1M15 28.5h2M21 28.5h1M26 28.5h3M30 28.5h1M74 28.5h6M3 29.5h1M10 29.5h2M16 29.5h1M21 29.5h1M26 29.5h3M31 29.5h1M73 29.5h4M11 30.5h1M16 30.5h1M26 30.5h2M70 30.5h4M11 31.5h1M14 31.5h2M24 31.5h1M26 31.5h2M64 31.5h2M69 31.5h4M1 32.5h1M6 32.5h1M11 32.5h1M13 32.5h1M62 32.5h9M1 33.5h2M6 33.5h1M11 33.5h1M13 33.5h1M60 33.5h9M2 34.5h1M11 34.5h1M59 34.5h5M1 35.5h2M58 35.5h4M2 36.5h2M8 36.5h2M33 36.5h1M57 36.5h4M3 37.5h1M9 37.5h1M11 37.5h1M33 37.5h1M56 37.5h4M7 38.5h3M26 38.5h1M30 38.5h1M36 38.5h2M54 38.5h4M3 39.5h2M6 39.5h3M10 39.5h1M21 39.5h1M23 39.5h1M26 39.5h1M52 39.5h5M3 40.5h1M7 40.5h1M23 40.5h1M25 40.5h2M31 40.5h4M50 40.5h6M4 41.5h2M7 41.5h1M11 41.5h1M18 41.5h2M22 41.5h2M25 41.5h1M29 41.5h14M48 41.5h6M12 42.5h1M22 42.5h10M34 42.5h18M12 43.5h1M16 43.5h1M19 43.5h10M38 43.5h12M12 44.5h1M18 44.5h3M44 44.5h5M12 45.5h2M18 45.5h3M47 45.5h1M13 46.5h2M18 46.5h2M13 47.5h1M18 47.5h2M12 50.5h1M14 50.5h1M18 50.5h1M12 51.5h1M15 51.5h4M13 52.5h1M15 52.5h4M12 53.5h4M19 54.5h2M18 55.5h5M14 56.5h1M17 56.5h3M22 56.5h2M9 57.5h3M19 57.5h1M22 57.5h2M7 58.5h1M9 58.5h1M12 58.5h1M16 58.5h1M18 58.5h2M21 58.5h1M23 58.5h1M7 59.5h1M9 59.5h1M12 59.5h2M15 59.5h2M19 59.5h6M7 60.5h1M9 60.5h1M12 60.5h1M17 60.5h2M20 60.5h1M23 60.5h2M7 61.5h4M14 61.5h1M17 61.5h1M19 61.5h1M24 61.5h1"/><path stroke="#30f3d3" d="M44 0.5h1M46 0.5h1M88 0.5h1M44 1.5h1M47 1.5h2M47 2.5h1M50 2.5h1M46 3.5h2M51 3.5h1M85 3.5h1M46 4.5h1M51 4.5h1M87 4.5h1M74 7.5h1M47 9.5h1M78 10.5h1M48 11.5h1M5 13.5h1M81 14.5h1M43 17.5h1M70 17.5h2M84 17.5h1M48 18.5h3M59 18.5h1M49 19.5h1M52 19.5h1M59 19.5h1M52 20.5h1M69 20.5h1M41 21.5h2M52 21.5h1M69 21.5h1M54 22.5h1M68 22.5h1M82 22.5h1M67 24.5h1M56 25.5h1M67 25.5h1M56 26.5h1M66 27.5h1M39 28.5h1M66 28.5h2M39 29.5h2M56 29.5h1M55 30.5h1M39 31.5h1M49 34.5h2M40 36.5h1M42 38.5h1M14 39.5h1"/><path stroke="#3ef0c3" d="M45 0.5h1M45 1.5h1M45 3.5h1M48 3.5h1M50 6.5h1M73 9.5h1M49 10.5h1M73 10.5h1M73 12.5h1M78 12.5h1M73 14.5h1M72 16.5h1M43 18.5h1M71 18.5h1M49 20.5h2M52 22.5h1M41 23.5h1M54 23.5h1M81 23.5h1M55 24.5h1M68 24.5h1M79 24.5h1M40 25.5h1M55 25.5h1M40 26.5h1M55 26.5h1M72 27.5h1M74 27.5h1M55 28.5h1M68 28.5h1M55 29.5h1M40 31.5h1M54 32.5h1M39 34.5h1M40 35.5h1M44 36.5h1M20 37.5h1M22 37.5h1M14 40.5h1"/><path stroke="#3df0c6" d="M47 0.5h1M48 2.5h1M49 3.5h1M45 4.5h1M85 4.5h1M75 8.5h1M73 11.5h1M78 11.5h2M80 12.5h1M74 14.5h1M72 15.5h2M81 15.5h1M49 16.5h1M82 16.5h2M46 17.5h2M49 17.5h1M44 18.5h1M70 18.5h1M85 18.5h1M50 19.5h1M68 21.5h1M70 21.5h1M41 22.5h1M53 22.5h1M69 22.5h1M55 23.5h1M68 23.5h1M40 24.5h1M68 25.5h1M68 26.5h1M39 27.5h2M55 27.5h2M68 27.5h1M40 28.5h1M56 28.5h1M71 28.5h2M40 30.5h1M39 33.5h1M48 34.5h1M41 36.5h1M16 40.5h1"/><path stroke="#00ffff" d="M48 0.5h1M46 1.5h1M87 1.5h2M44 2.5h1M46 2.5h1M87 2.5h2M87 3.5h2M43 4.5h1M86 4.5h1M87 5.5h1M87 6.5h1M5 7.5h1M50 7.5h1M7 8.5h1M73 8.5h1M76 8.5h1M78 9.5h1M79 10.5h1M47 11.5h1M49 11.5h1M81 13.5h1M6 14.5h1M49 14.5h1M72 14.5h1M47 15.5h1M49 15.5h1M82 15.5h2M46 16.5h2M69 16.5h2M45 17.5h1M48 17.5h1M86 18.5h1M51 19.5h1M60 19.5h1M69 19.5h2M41 20.5h1M68 20.5h1M70 20.5h1M40 23.5h1M67 23.5h1M80 24.5h1M39 25.5h1M66 25.5h1M39 26.5h1M66 26.5h2M57 27.5h1M67 27.5h1M57 28.5h2M67 29.5h1M39 30.5h1M36 32.5h1M38 32.5h2M53 33.5h1M35 34.5h1M51 34.5h1M39 35.5h1M48 35.5h1M45 36.5h1M44 37.5h1M16 38.5h1M16 39.5h1"/><path stroke="#3ef0c1" d="M45 2.5h1M47 4.5h1M50 5.5h1M47 8.5h1M76 9.5h2M48 10.5h1M73 13.5h2M78 13.5h1M80 14.5h1M74 15.5h1M73 16.5h1M48 19.5h1M85 19.5h1M43 20.5h1M51 20.5h1M43 21.5h1M82 21.5h1M42 22.5h1M53 23.5h1M53 25.5h1M71 27.5h1M49 33.5h1M45 35.5h1M43 36.5h1"/><path stroke="#3fefbe" d="M50 3.5h1M47 5.5h1M77 10.5h1M75 12.5h1M79 12.5h1M75 13.5h2M80 13.5h1M75 14.5h2M80 15.5h1M81 16.5h1M72 17.5h1M82 17.5h1M47 18.5h1M43 19.5h1M50 21.5h2M69 23.5h1M53 24.5h2M53 26.5h1M69 26.5h1M69 27.5h1M41 29.5h1M40 32.5h1M41 35.5h1M43 35.5h1M41 37.5h1"/><path stroke="#40efbb" d="M48 4.5h1M50 4.5h1M47 6.5h1M47 7.5h1M5 8.5h1M49 9.5h1M76 10.5h1M77 11.5h1M77 13.5h1M79 13.5h1M77 14.5h2M75 15.5h3M74 16.5h1M73 17.5h1M83 17.5h1M84 18.5h1M71 19.5h1M84 19.5h1M51 22.5h1M70 22.5h1M41 24.5h1M54 25.5h1M71 26.5h1M74 26.5h1M77 26.5h1M41 27.5h1M73 27.5h1M41 28.5h1M40 33.5h1M40 34.5h1M42 35.5h1M21 38.5h1M15 41.5h1"/><path stroke="#41efb9" d="M49 4.5h1M49 5.5h1M7 9.5h1M75 11.5h2M76 12.5h2M6 13.5h1M79 14.5h1M79 15.5h1M75 16.5h1M72 18.5h1M71 20.5h1M71 21.5h1M71 22.5h1M52 23.5h1M41 25.5h1M69 25.5h1M54 26.5h1M70 26.5h1M72 26.5h1M53 27.5h2M70 27.5h1M54 28.5h1M41 30.5h1M54 31.5h1M43 34.5h1M45 34.5h1M44 35.5h1M46 35.5h2M43 37.5h1"/><path stroke="#38cbf2" d="M0 5.5h1M88 32.5h1M88 33.5h1M88 34.5h1M87 35.5h2M87 36.5h2M86 37.5h3M86 38.5h3M85 39.5h4M85 40.5h4M84 41.5h5M84 42.5h5M0 43.5h1M83 43.5h6M0 44.5h3M82 44.5h7M0 45.5h7M81 45.5h8M0 46.5h7M81 46.5h8M0 47.5h7M80 47.5h9M0 48.5h7M79 48.5h10M0 49.5h7M79 49.5h10M0 50.5h8M78 50.5h11M0 51.5h9M77 51.5h12M0 52.5h9M77 52.5h12M0 53.5h9M76 53.5h13M0 54.5h8M75 54.5h14M0 55.5h5M74 55.5h15M0 56.5h3M74 56.5h15M0 57.5h3M73 57.5h16M0 58.5h1M72 58.5h17M71 59.5h18M71 60.5h18M70 61.5h19"/><path stroke="#43efb3" d="M48 5.5h1M6 8.5h1M74 8.5h1M75 10.5h1M74 12.5h1M76 16.5h1M79 16.5h2M82 18.5h1M48 20.5h1M72 20.5h1M42 23.5h1M70 23.5h2M71 25.5h1M42 26.5h1M73 26.5h1M75 26.5h2M42 27.5h1M42 28.5h1M53 28.5h1M42 32.5h1M42 33.5h1M52 33.5h1M41 34.5h1M15 39.5h1"/><path stroke="#58ef43" d="M48 6.5h1M74 23.5h1M50 24.5h1M77 24.5h2M51 28.5h1M49 31.5h1"/><path stroke="#42efb6" d="M49 6.5h1M75 9.5h1M7 11.5h1M5 12.5h1M78 15.5h1M73 18.5h1M72 19.5h1M44 20.5h1M47 20.5h1M49 21.5h1M43 22.5h1M69 24.5h1M70 25.5h1M41 26.5h1M54 29.5h1M54 30.5h1M41 31.5h1M41 32.5h1M41 33.5h1M43 33.5h1M21 36.5h1M42 36.5h1"/><path stroke="#ffa700" d="M48 7.5h1"/><path stroke="#44eeb1" d="M49 7.5h1M49 8.5h1M77 16.5h1M46 18.5h1M47 19.5h1M73 19.5h1M83 20.5h1M44 21.5h1M72 21.5h1M51 23.5h1M42 24.5h1M52 24.5h1M70 24.5h2M42 25.5h1M72 25.5h1M42 29.5h1M42 31.5h1M43 32.5h1M53 32.5h1M44 33.5h1M42 34.5h1M44 34.5h1"/><path stroke="#ffb800" d="M48 8.5h1M45 19.5h1M46 27.5h1M51 30.5h1M42 37.5h1"/><path stroke="#49ed92" d="M5 9.5h1M44 19.5h1M45 21.5h1M47 21.5h1M43 23.5h1M72 23.5h1M52 25.5h1M43 31.5h1"/><path stroke="#ffc600" d="M6 9.5h1M49 25.5h1M48 27.5h1"/><path stroke="#53ed50" d="M48 9.5h1M45 20.5h1M48 22.5h1M74 24.5h1M43 28.5h1M47 31.5h1"/><path stroke="#fcf900" d="M74 9.5h1M80 18.5h1M46 19.5h1M49 24.5h1M45 28.5h1"/><path stroke="#52ec53" d="M5 10.5h1M80 17.5h1M76 18.5h1M81 18.5h1M50 23.5h1M43 24.5h1M51 25.5h1M51 26.5h1M52 28.5h1M45 31.5h1M47 32.5h2"/><path stroke="#8b0000" d="M6 10.5h1"/><path stroke="#46eeab" d="M7 10.5h1M78 16.5h1M76 17.5h1M45 18.5h1M82 19.5h1M48 21.5h1M72 22.5h1M42 30.5h1M44 32.5h1M51 33.5h1M46 34.5h1"/><path stroke="#ffaf00" d="M74 10.5h1M60 18.5h1M76 22.5h1"/><path stroke="#51eb58" d="M5 11.5h1M74 19.5h1M82 20.5h1M75 25.5h1M52 27.5h1M43 29.5h1M44 31.5h1M45 32.5h1M46 33.5h1M48 33.5h1"/><path stroke="#fe0000" d="M6 11.5h1"/><path stroke="#e5fa08" d="M74 11.5h1M81 20.5h1M81 21.5h1M48 23.5h1M44 24.5h1"/><path stroke="#65f138" d="M6 12.5h1M49 29.5h1M52 32.5h1"/><path stroke="#45eeae" d="M74 17.5h2M81 17.5h1M73 20.5h1M50 22.5h1M73 25.5h2M77 25.5h1M45 33.5h1M47 34.5h1"/><path stroke="#4feb62" d="M77 17.5h1M74 18.5h2M83 19.5h1M46 20.5h1M46 21.5h1M73 21.5h1M51 24.5h1M72 24.5h2M76 25.5h1M78 25.5h1M52 26.5h1M53 29.5h1M43 30.5h1M47 33.5h1"/><path stroke="#54ed4e" d="M78 17.5h2M45 22.5h1M43 25.5h1M51 27.5h1M44 29.5h1M44 30.5h2M48 31.5h1M46 32.5h1"/><path stroke="#59f03e" d="M77 18.5h1M74 21.5h1M75 24.5h1M44 27.5h1M51 29.5h1M46 30.5h1M50 32.5h1"/><path stroke="#ffe500" d="M78 18.5h1M77 19.5h1"/><path stroke="#ffc300" d="M79 18.5h1"/><path stroke="#ffd900" d="M83 18.5h1M75 21.5h1M80 22.5h1M46 24.5h1M49 26.5h1M52 30.5h1M15 40.5h1"/><path stroke="#56ee48" d="M75 19.5h1M44 23.5h1M47 30.5h1"/><path stroke="#a5f620" d="M76 19.5h1M74 22.5h1M50 25.5h1"/><path stroke="#ff2700" d="M78 19.5h1M45 25.5h1"/><path stroke="#bb0000" d="M79 19.5h1"/><path stroke="#ff8600" d="M80 19.5h1M46 26.5h1M52 31.5h1"/><path stroke="#58ef41" d="M81 19.5h1M49 23.5h1M76 24.5h1M45 29.5h1M48 30.5h2"/><path stroke="#55ee4b" d="M74 20.5h1M47 22.5h1M53 30.5h1M53 31.5h1M49 32.5h1"/><path stroke="#fbfb00" d="M75 20.5h1M79 23.5h1M44 26.5h1M50 26.5h1M46 29.5h1"/><path stroke="#ffca00" d="M76 20.5h1M75 22.5h1M45 24.5h1"/><path stroke="#ff6d00" d="M77 20.5h1"/><path stroke="#850000" d="M78 20.5h1"/><path stroke="#800000" d="M79 20.5h1M79 21.5h1M48 25.5h1M50 28.5h1M51 31.5h1"/><path stroke="#ff4b00" d="M80 20.5h1"/><path stroke="#ff9e00" d="M76 21.5h1"/><path stroke="#ff6600" d="M77 21.5h1M47 26.5h1"/><path stroke="#a70000" d="M78 21.5h1"/><path stroke="#ff6500" d="M80 21.5h1M78 22.5h1"/><path stroke="#52ec55" d="M44 22.5h1M49 22.5h1M73 22.5h1M73 23.5h1M50 33.5h1M15 57.5h1"/><path stroke="#57ee46" d="M46 22.5h1M81 22.5h1M80 23.5h1M43 26.5h1M43 27.5h1M44 28.5h1M52 29.5h1M46 31.5h1"/><path stroke="#ff9600" d="M77 22.5h1M47 27.5h1M21 37.5h1"/><path stroke="#ff6100" d="M79 22.5h1M47 25.5h1"/><path stroke="#fafb00" d="M45 23.5h2M47 29.5h2"/><path stroke="#fcfa00" d="M47 23.5h1M50 29.5h1"/><path stroke="#fdf700" d="M75 23.5h1M50 30.5h1M51 32.5h1"/><path stroke="#fff600" d="M76 23.5h3M44 25.5h1M48 28.5h1M50 31.5h1"/><path stroke="#ffbc00" d="M47 24.5h1M45 26.5h1"/><path stroke="#ff7600" d="M48 24.5h1"/><path stroke="#ff6b00" d="M46 25.5h1"/><path stroke="#ff6300" d="M48 26.5h1"/><path stroke="#fff100" d="M45 27.5h1M49 27.5h1M46 28.5h1"/><path stroke="#fdf800" d="M50 27.5h1"/><path stroke="#ffcd00" d="M47 28.5h1"/><path stroke="#fef600" d="M49 28.5h1"/></g><polygon points="830.0,40.0 839.0,40.0 839.0,53.0 851.5,505.0 851.5,520.0 830.0,520.0" fill="#fff"/><polygon points="830.0,40.0 1360.0,40.0 1360.0,50.0 830.0,53.0" fill="#fff"/><polygon points="1353.5,40.0 1360.0,40.0 1360.0,520.0 1346.5,520.0 1346.5,506.0" fill="#fff"/><polygon points="851.5,512.0 900.0,508.5 1346.5,506.0 1360.0,506.0 1360.0,520.0 830.0,520.0" fill="#fff"/><polygon points="834.9,46.0 856.8,46.0 856.3,52.0 854.9,55.6 849.2,56.6 842.5,55.8 836.8,53.5 834.9,53.5" fill="#fff"/><polygon points="839.0,53.0 1353.5,50.0 1346.5,506.0 900.0,508.5 851.5,512.0" fill="none" stroke="#1d4550" stroke-width="1.6" stroke-dasharray="9 5"/><g transform="matrix(0.58034,0,0,0.75931,837.2,48.5)" fill="none" stroke="#1b4550" stroke-width="1.8" stroke-linejoin="round" stroke-linecap="round"><use href="#bnd" vector-effect="non-scaling-stroke"/><use href="#cst" vector-effect="non-scaling-stroke" stroke="#123039" stroke-width="2.0"/><use href="#isl" vector-effect="non-scaling-stroke" stroke="#123039" stroke-width="2.4"/></g></g><rect x="837.2" y="48.5" width="516.5" height="464.7" fill="none" stroke="#9a9a9e" stroke-width="2.2"/><path d="M853.4 513.2v-5M853.4 48.5v5M911.5 513.2v-5M911.5 48.5v5M969.5 513.2v-5M969.5 48.5v5M1027.6 513.2v-5M1027.6 48.5v5M1085.6 513.2v-5M1085.6 48.5v5M1143.6 513.2v-5M1143.6 48.5v5M1201.7 513.2v-5M1201.7 48.5v5M1259.7 513.2v-5M1259.7 48.5v5M1317.7 513.2v-5M1317.7 48.5v5M837.2 481.3h5M1353.7 481.3h-5M837.2 405.4h5M1353.7 405.4h-5M837.2 329.4h5M1353.7 329.4h-5M837.2 253.5h5M1353.7 253.5h-5M837.2 177.6h5M1353.7 177.6h-5M837.2 101.7h5M1353.7 101.7h-5" stroke="#8a8a8e" stroke-width="1.6" fill="none"/><text x="0" y="0" transform="translate(853.4,536.2) scale(1.22,1)" font-size="14" text-anchor="middle" fill="#333" stroke="#333" stroke-width="0.4">109</text><text x="0" y="0" transform="translate(911.5,536.2) scale(1.22,1)" font-size="14" text-anchor="middle" fill="#333" stroke="#333" stroke-width="0.4">110</text><text x="0" y="0" transform="translate(969.5,536.2) scale(1.22,1)" font-size="14" text-anchor="middle" fill="#333" stroke="#333" stroke-width="0.4">111</text><text x="0" y="0" transform="translate(1027.6,536.2) scale(1.22,1)" font-size="14" text-anchor="middle" fill="#333" stroke="#333" stroke-width="0.4">112</text><text x="0" y="0" transform="translate(1085.6,536.2) scale(1.22,1)" font-size="14" text-anchor="middle" fill="#333" stroke="#333" stroke-width="0.4">113</text><text x="0" y="0" transform="translate(1143.6,536.2) scale(1.22,1)" font-size="14" text-anchor="middle" fill="#333" stroke="#333" stroke-width="0.4">114</text><text x="0" y="0" transform="translate(1201.7,536.2) scale(1.22,1)" font-size="14" text-anchor="middle" fill="#333" stroke="#333" stroke-width="0.4">115</text><text x="0" y="0" transform="translate(1259.7,536.2) scale(1.22,1)" font-size="14" text-anchor="middle" fill="#333" stroke="#333" stroke-width="0.4">116</text><text x="0" y="0" transform="translate(1317.7,536.2) scale(1.22,1)" font-size="14" text-anchor="middle" fill="#333" stroke="#333" stroke-width="0.4">117</text><text x="0" y="0" transform="translate(830.2,486.3) scale(1.22,1)" font-size="14" text-anchor="end" fill="#333" stroke="#333" stroke-width="0.4">20</text><text x="0" y="0" transform="translate(830.2,410.4) scale(1.22,1)" font-size="14" text-anchor="end" fill="#333" stroke="#333" stroke-width="0.4">21</text><text x="0" y="0" transform="translate(830.2,334.4) scale(1.22,1)" font-size="14" text-anchor="end" fill="#333" stroke="#333" stroke-width="0.4">22</text><text x="0" y="0" transform="translate(830.2,258.5) scale(1.22,1)" font-size="14" text-anchor="end" fill="#333" stroke="#333" stroke-width="0.4">23</text><text x="0" y="0" transform="translate(830.2,182.6) scale(1.22,1)" font-size="14" text-anchor="end" fill="#333" stroke="#333" stroke-width="0.4">24</text><text x="0" y="0" transform="translate(830.2,106.7) scale(1.22,1)" font-size="14" text-anchor="end" fill="#333" stroke="#333" stroke-width="0.4">25</text><text transform="translate(1095.5,559.2) scale(1.30,1)" font-size="16" text-anchor="middle" fill="#333" stroke="#333" stroke-width="0.35">Longitude (E)</text><text transform="translate(802.2,280.9) rotate(-90) scale(1.1,1.22)" font-size="16" text-anchor="middle" fill="#333" stroke="#333" stroke-width="0.35">Latitude (N)</text><g shape-rendering="crispEdges"><rect x="1361.3" y="510.88" width="24.3" height="2.92" fill="#ffffff"/><rect x="1361.3" y="508.55" width="24.3" height="2.92" fill="#ffffff"/><rect x="1361.3" y="506.23" width="24.3" height="2.92" fill="#ffffff"/><rect x="1361.3" y="503.91" width="24.3" height="2.92" fill="#5bc9f2"/><rect x="1361.3" y="501.58" width="24.3" height="2.92" fill="#3abff0"/><rect x="1361.3" y="499.26" width="24.3" height="2.92" fill="#3ac1f0"/><rect x="1361.3" y="496.94" width="24.3" height="2.92" fill="#39c2f1"/><rect x="1361.3" y="494.61" width="24.3" height="2.92" fill="#39c3f1"/><rect x="1361.3" y="492.29" width="24.3" height="2.92" fill="#39c4f1"/><rect x="1361.3" y="489.97" width="24.3" height="2.92" fill="#39c6f1"/><rect x="1361.3" y="487.64" width="24.3" height="2.92" fill="#39c7f1"/><rect x="1361.3" y="485.32" width="24.3" height="2.92" fill="#39c8f1"/><rect x="1361.3" y="482.99" width="24.3" height="2.92" fill="#38caf2"/><rect x="1361.3" y="480.67" width="24.3" height="2.92" fill="#38cbf2"/><rect x="1361.3" y="478.35" width="24.3" height="2.92" fill="#38ccf2"/><rect x="1361.3" y="476.02" width="24.3" height="2.92" fill="#35cff3"/><rect x="1361.3" y="473.70" width="24.3" height="2.92" fill="#33d1f4"/><rect x="1361.3" y="471.38" width="24.3" height="2.92" fill="#31d3f5"/><rect x="1361.3" y="469.05" width="24.3" height="2.92" fill="#2fd5f6"/><rect x="1361.3" y="466.73" width="24.3" height="2.92" fill="#2cd8f6"/><rect x="1361.3" y="464.41" width="24.3" height="2.92" fill="#2adaf7"/><rect x="1361.3" y="462.08" width="24.3" height="2.92" fill="#27dcf8"/><rect x="1361.3" y="459.76" width="24.3" height="2.92" fill="#1ee4fa"/><rect x="1361.3" y="457.44" width="24.3" height="2.92" fill="#15eafb"/><rect x="1361.3" y="455.11" width="24.3" height="2.92" fill="#0bf1fd"/><rect x="1361.3" y="452.79" width="24.3" height="2.92" fill="#02f8ff"/><rect x="1361.3" y="450.47" width="24.3" height="2.92" fill="#00faff"/><rect x="1361.3" y="448.14" width="24.3" height="2.92" fill="#00fbff"/><rect x="1361.3" y="445.82" width="24.3" height="2.92" fill="#00fbff"/><rect x="1361.3" y="443.50" width="24.3" height="2.92" fill="#00fbff"/><rect x="1361.3" y="441.17" width="24.3" height="2.92" fill="#00fbff"/><rect x="1361.3" y="438.85" width="24.3" height="2.92" fill="#00fcff"/><rect x="1361.3" y="436.52" width="24.3" height="2.92" fill="#00fcff"/><rect x="1361.3" y="434.20" width="24.3" height="2.92" fill="#00fcff"/><rect x="1361.3" y="431.88" width="24.3" height="2.92" fill="#00fdff"/><rect x="1361.3" y="429.55" width="24.3" height="2.92" fill="#00fdff"/><rect x="1361.3" y="427.23" width="24.3" height="2.92" fill="#00fdff"/><rect x="1361.3" y="424.91" width="24.3" height="2.92" fill="#00fdff"/><rect x="1361.3" y="422.58" width="24.3" height="2.92" fill="#00feff"/><rect x="1361.3" y="420.26" width="24.3" height="2.92" fill="#00feff"/><rect x="1361.3" y="417.94" width="24.3" height="2.92" fill="#00feff"/><rect x="1361.3" y="415.61" width="24.3" height="2.92" fill="#00ffff"/><rect x="1361.3" y="413.29" width="24.3" height="2.92" fill="#00ffff"/><rect x="1361.3" y="410.97" width="24.3" height="2.92" fill="#12faef"/><rect x="1361.3" y="408.64" width="24.3" height="2.92" fill="#2ef3d5"/><rect x="1361.3" y="406.32" width="24.3" height="2.92" fill="#3cf0c7"/><rect x="1361.3" y="404.00" width="24.3" height="2.92" fill="#3df0c6"/><rect x="1361.3" y="401.67" width="24.3" height="2.92" fill="#3df0c4"/><rect x="1361.3" y="399.35" width="24.3" height="2.92" fill="#3ef0c3"/><rect x="1361.3" y="397.03" width="24.3" height="2.92" fill="#3ef0c1"/><rect x="1361.3" y="394.70" width="24.3" height="2.92" fill="#3fefbf"/><rect x="1361.3" y="392.38" width="24.3" height="2.92" fill="#3fefbe"/><rect x="1361.3" y="390.05" width="24.3" height="2.92" fill="#40efbc"/><rect x="1361.3" y="387.73" width="24.3" height="2.92" fill="#40efbb"/><rect x="1361.3" y="385.41" width="24.3" height="2.92" fill="#41efb9"/><rect x="1361.3" y="383.08" width="24.3" height="2.92" fill="#41efb8"/><rect x="1361.3" y="380.76" width="24.3" height="2.92" fill="#42efb6"/><rect x="1361.3" y="378.44" width="24.3" height="2.92" fill="#42efb5"/><rect x="1361.3" y="376.11" width="24.3" height="2.92" fill="#43efb3"/><rect x="1361.3" y="373.79" width="24.3" height="2.92" fill="#44eeb1"/><rect x="1361.3" y="371.47" width="24.3" height="2.92" fill="#44eeb0"/><rect x="1361.3" y="369.14" width="24.3" height="2.92" fill="#45eeae"/><rect x="1361.3" y="366.82" width="24.3" height="2.92" fill="#45eead"/><rect x="1361.3" y="364.50" width="24.3" height="2.92" fill="#46eeab"/><rect x="1361.3" y="362.17" width="24.3" height="2.92" fill="#47eea4"/><rect x="1361.3" y="359.85" width="24.3" height="2.92" fill="#4aed88"/><rect x="1361.3" y="357.53" width="24.3" height="2.92" fill="#4eec6c"/><rect x="1361.3" y="355.20" width="24.3" height="2.92" fill="#50eb59"/><rect x="1361.3" y="352.88" width="24.3" height="2.92" fill="#51eb58"/><rect x="1361.3" y="350.56" width="24.3" height="2.92" fill="#51ec56"/><rect x="1361.3" y="348.23" width="24.3" height="2.92" fill="#52ec55"/><rect x="1361.3" y="345.91" width="24.3" height="2.92" fill="#52ec53"/><rect x="1361.3" y="343.58" width="24.3" height="2.92" fill="#53ec52"/><rect x="1361.3" y="341.26" width="24.3" height="2.92" fill="#53ed50"/><rect x="1361.3" y="338.94" width="24.3" height="2.92" fill="#54ed4f"/><rect x="1361.3" y="336.61" width="24.3" height="2.92" fill="#54ed4d"/><rect x="1361.3" y="334.29" width="24.3" height="2.92" fill="#55ed4c"/><rect x="1361.3" y="331.97" width="24.3" height="2.92" fill="#55ee4a"/><rect x="1361.3" y="329.64" width="24.3" height="2.92" fill="#56ee49"/><rect x="1361.3" y="327.32" width="24.3" height="2.92" fill="#56ee47"/><rect x="1361.3" y="325.00" width="24.3" height="2.92" fill="#57ee46"/><rect x="1361.3" y="322.67" width="24.3" height="2.92" fill="#57ef44"/><rect x="1361.3" y="320.35" width="24.3" height="2.92" fill="#58ef43"/><rect x="1361.3" y="318.03" width="24.3" height="2.92" fill="#58ef41"/><rect x="1361.3" y="315.70" width="24.3" height="2.92" fill="#59ef40"/><rect x="1361.3" y="313.38" width="24.3" height="2.92" fill="#59f03e"/><rect x="1361.3" y="311.06" width="24.3" height="2.92" fill="#5af03d"/><rect x="1361.3" y="308.73" width="24.3" height="2.92" fill="#67f137"/><rect x="1361.3" y="306.41" width="24.3" height="2.92" fill="#8df429"/><rect x="1361.3" y="304.09" width="24.3" height="2.92" fill="#b2f71b"/><rect x="1361.3" y="301.76" width="24.3" height="2.92" fill="#d7f90d"/><rect x="1361.3" y="299.44" width="24.3" height="2.92" fill="#fafc00"/><rect x="1361.3" y="297.11" width="24.3" height="2.92" fill="#fafb00"/><rect x="1361.3" y="294.79" width="24.3" height="2.92" fill="#fbfb00"/><rect x="1361.3" y="292.47" width="24.3" height="2.92" fill="#fbfa00"/><rect x="1361.3" y="290.14" width="24.3" height="2.92" fill="#fbfa00"/><rect x="1361.3" y="287.82" width="24.3" height="2.92" fill="#fcfa00"/><rect x="1361.3" y="285.50" width="24.3" height="2.92" fill="#fcf900"/><rect x="1361.3" y="283.17" width="24.3" height="2.92" fill="#fcf900"/><rect x="1361.3" y="280.85" width="24.3" height="2.92" fill="#fdf800"/><rect x="1361.3" y="278.53" width="24.3" height="2.92" fill="#fdf800"/><rect x="1361.3" y="276.20" width="24.3" height="2.92" fill="#fef700"/><rect x="1361.3" y="273.88" width="24.3" height="2.92" fill="#fef700"/><rect x="1361.3" y="271.56" width="24.3" height="2.92" fill="#fef600"/><rect x="1361.3" y="269.23" width="24.3" height="2.92" fill="#fff600"/><rect x="1361.3" y="266.91" width="24.3" height="2.92" fill="#fff500"/><rect x="1361.3" y="264.59" width="24.3" height="2.92" fill="#fff000"/><rect x="1361.3" y="262.26" width="24.3" height="2.92" fill="#ffe900"/><rect x="1361.3" y="259.94" width="24.3" height="2.92" fill="#ffe200"/><rect x="1361.3" y="257.62" width="24.3" height="2.92" fill="#ffda00"/><rect x="1361.3" y="255.29" width="24.3" height="2.92" fill="#ffd400"/><rect x="1361.3" y="252.97" width="24.3" height="2.92" fill="#ffcd00"/><rect x="1361.3" y="250.64" width="24.3" height="2.92" fill="#ffcb00"/><rect x="1361.3" y="248.32" width="24.3" height="2.92" fill="#ffc900"/><rect x="1361.3" y="246.00" width="24.3" height="2.92" fill="#ffc700"/><rect x="1361.3" y="243.67" width="24.3" height="2.92" fill="#ffc500"/><rect x="1361.3" y="241.35" width="24.3" height="2.92" fill="#ffc300"/><rect x="1361.3" y="239.03" width="24.3" height="2.92" fill="#ffc100"/><rect x="1361.3" y="236.70" width="24.3" height="2.92" fill="#ffbf00"/><rect x="1361.3" y="234.38" width="24.3" height="2.92" fill="#ffbd00"/><rect x="1361.3" y="232.06" width="24.3" height="2.92" fill="#ffbb00"/><rect x="1361.3" y="229.73" width="24.3" height="2.92" fill="#ffb900"/><rect x="1361.3" y="227.41" width="24.3" height="2.92" fill="#ffb400"/><rect x="1361.3" y="225.09" width="24.3" height="2.92" fill="#ffaf00"/><rect x="1361.3" y="222.76" width="24.3" height="2.92" fill="#ffaa00"/><rect x="1361.3" y="220.44" width="24.3" height="2.92" fill="#ffa500"/><rect x="1361.3" y="218.12" width="24.3" height="2.92" fill="#ffa000"/><rect x="1361.3" y="215.79" width="24.3" height="2.92" fill="#ff9b00"/><rect x="1361.3" y="213.47" width="24.3" height="2.92" fill="#ff9600"/><rect x="1361.3" y="211.14" width="24.3" height="2.92" fill="#ff8d00"/><rect x="1361.3" y="208.82" width="24.3" height="2.92" fill="#ff8400"/><rect x="1361.3" y="206.50" width="24.3" height="2.92" fill="#ff7b00"/><rect x="1361.3" y="204.17" width="24.3" height="2.92" fill="#ff7100"/><rect x="1361.3" y="201.85" width="24.3" height="2.92" fill="#ff6d00"/><rect x="1361.3" y="199.53" width="24.3" height="2.92" fill="#ff6c00"/><rect x="1361.3" y="197.20" width="24.3" height="2.92" fill="#ff6b00"/><rect x="1361.3" y="194.88" width="24.3" height="2.92" fill="#ff6a00"/><rect x="1361.3" y="192.56" width="24.3" height="2.92" fill="#ff6900"/><rect x="1361.3" y="190.23" width="24.3" height="2.92" fill="#ff6800"/><rect x="1361.3" y="187.91" width="24.3" height="2.92" fill="#ff6700"/><rect x="1361.3" y="185.59" width="24.3" height="2.92" fill="#ff6600"/><rect x="1361.3" y="183.26" width="24.3" height="2.92" fill="#ff6500"/><rect x="1361.3" y="180.94" width="24.3" height="2.92" fill="#ff6400"/><rect x="1361.3" y="178.62" width="24.3" height="2.92" fill="#ff6300"/><rect x="1361.3" y="176.29" width="24.3" height="2.92" fill="#ff6200"/><rect x="1361.3" y="173.97" width="24.3" height="2.92" fill="#ff6100"/><rect x="1361.3" y="171.65" width="24.3" height="2.92" fill="#ff6000"/><rect x="1361.3" y="169.32" width="24.3" height="2.92" fill="#ff5f00"/><rect x="1361.3" y="167.00" width="24.3" height="2.92" fill="#ff5e00"/><rect x="1361.3" y="164.68" width="24.3" height="2.92" fill="#ff5d00"/><rect x="1361.3" y="162.35" width="24.3" height="2.92" fill="#ff5c00"/><rect x="1361.3" y="160.03" width="24.3" height="2.92" fill="#ff5b00"/><rect x="1361.3" y="157.70" width="24.3" height="2.92" fill="#ff5a00"/><rect x="1361.3" y="155.38" width="24.3" height="2.92" fill="#ff5300"/><rect x="1361.3" y="153.06" width="24.3" height="2.92" fill="#ff4900"/><rect x="1361.3" y="150.73" width="24.3" height="2.92" fill="#ff3e00"/><rect x="1361.3" y="148.41" width="24.3" height="2.92" fill="#ff3400"/><rect x="1361.3" y="146.09" width="24.3" height="2.92" fill="#ff2900"/><rect x="1361.3" y="143.76" width="24.3" height="2.92" fill="#ff1f00"/><rect x="1361.3" y="141.44" width="24.3" height="2.92" fill="#ff1400"/><rect x="1361.3" y="139.12" width="24.3" height="2.92" fill="#ff0a00"/><rect x="1361.3" y="136.79" width="24.3" height="2.92" fill="#ff0000"/><rect x="1361.3" y="134.47" width="24.3" height="2.92" fill="#fe0000"/><rect x="1361.3" y="132.15" width="24.3" height="2.92" fill="#fd0000"/><rect x="1361.3" y="129.82" width="24.3" height="2.92" fill="#fc0000"/><rect x="1361.3" y="127.50" width="24.3" height="2.92" fill="#fb0000"/><rect x="1361.3" y="125.18" width="24.3" height="2.92" fill="#fb0000"/><rect x="1361.3" y="122.85" width="24.3" height="2.92" fill="#fa0000"/><rect x="1361.3" y="120.53" width="24.3" height="2.92" fill="#f90000"/><rect x="1361.3" y="118.21" width="24.3" height="2.92" fill="#f80000"/><rect x="1361.3" y="115.88" width="24.3" height="2.92" fill="#f70000"/><rect x="1361.3" y="113.56" width="24.3" height="2.92" fill="#f60000"/><rect x="1361.3" y="111.23" width="24.3" height="2.92" fill="#f50000"/><rect x="1361.3" y="108.91" width="24.3" height="2.92" fill="#f40000"/><rect x="1361.3" y="106.59" width="24.3" height="2.92" fill="#f40000"/><rect x="1361.3" y="104.26" width="24.3" height="2.92" fill="#f30000"/><rect x="1361.3" y="101.94" width="24.3" height="2.92" fill="#f20000"/><rect x="1361.3" y="99.62" width="24.3" height="2.92" fill="#f10000"/><rect x="1361.3" y="97.29" width="24.3" height="2.92" fill="#f00000"/><rect x="1361.3" y="94.97" width="24.3" height="2.92" fill="#e00000"/><rect x="1361.3" y="92.65" width="24.3" height="2.92" fill="#ce0000"/><rect x="1361.3" y="90.32" width="24.3" height="2.92" fill="#bd0000"/><rect x="1361.3" y="88.00" width="24.3" height="2.92" fill="#b10000"/><rect x="1361.3" y="85.68" width="24.3" height="2.92" fill="#a60000"/><rect x="1361.3" y="83.35" width="24.3" height="2.92" fill="#9a0000"/><rect x="1361.3" y="81.03" width="24.3" height="2.92" fill="#8f0000"/><rect x="1361.3" y="78.71" width="24.3" height="2.92" fill="#8b0000"/><rect x="1361.3" y="76.38" width="24.3" height="2.92" fill="#8a0000"/><rect x="1361.3" y="74.06" width="24.3" height="2.92" fill="#8a0000"/><rect x="1361.3" y="71.74" width="24.3" height="2.92" fill="#890000"/><rect x="1361.3" y="69.41" width="24.3" height="2.92" fill="#880000"/><rect x="1361.3" y="67.09" width="24.3" height="2.92" fill="#870000"/><rect x="1361.3" y="64.76" width="24.3" height="2.92" fill="#860000"/><rect x="1361.3" y="62.44" width="24.3" height="2.92" fill="#850000"/><rect x="1361.3" y="60.12" width="24.3" height="2.92" fill="#850000"/><rect x="1361.3" y="57.79" width="24.3" height="2.92" fill="#840000"/><rect x="1361.3" y="55.47" width="24.3" height="2.92" fill="#830000"/><rect x="1361.3" y="53.15" width="24.3" height="2.92" fill="#820000"/><rect x="1361.3" y="50.82" width="24.3" height="2.92" fill="#810000"/><rect x="1361.3" y="48.50" width="24.3" height="2.92" fill="#800000"/></g><rect x="1361.3" y="48.5" width="24.3" height="464.7" fill="none" stroke="#8a8a8e" stroke-width="1.8"/><text transform="translate(1392.6,519.5) scale(1.2,1)" font-size="14" fill="#333" stroke="#333" stroke-width="0.4">0</text><text transform="translate(1392.6,453.1) scale(1.2,1)" font-size="14" fill="#333" stroke="#333" stroke-width="0.4">2</text><text transform="translate(1392.6,386.7) scale(1.2,1)" font-size="14" fill="#333" stroke="#333" stroke-width="0.4">4</text><text transform="translate(1392.6,320.3) scale(1.2,1)" font-size="14" fill="#333" stroke="#333" stroke-width="0.4">6</text><text transform="translate(1392.6,254.0) scale(1.2,1)" font-size="14" fill="#333" stroke="#333" stroke-width="0.4">8</text><text transform="translate(1392.6,187.6) scale(1.2,1)" font-size="14" fill="#333" stroke="#333" stroke-width="0.4">10</text><text transform="translate(1392.6,121.2) scale(1.2,1)" font-size="14" fill="#333" stroke="#333" stroke-width="0.4">12</text><text transform="translate(1392.6,54.8) scale(1.2,1)" font-size="14" fill="#333" stroke="#333" stroke-width="0.4">14</text><path d="M1385.6 513.2h-4M1385.6 446.8h-4M1385.6 380.4h-4M1385.6 314.0h-4M1385.6 247.7h-4M1385.6 181.3h-4M1385.6 114.9h-4M1385.6 48.5h-4" stroke="#777" stroke-width="1.4"/><text transform="translate(1433.6,280.9) rotate(-90) scale(1,1.18)" font-size="14.5" text-anchor="middle" fill="#333" stroke="#333" stroke-width="0.35">TVCD</text><text transform="translate(1392.6,40.7) scale(1.15,1)" font-size="16" text-anchor="middle" fill="#777">×</text><text transform="translate(1400.8999999999999,41.2) scale(1.2,1)" font-size="14" fill="#333" stroke="#333" stroke-width="0.35">10</text><text transform="translate(1420.8,34.2) scale(1.2,1)" font-size="10.5" fill="#444" stroke="#444" stroke-width="0.3">15</text>
<clipPath id="clipc"><rect x="91.3" y="626.2" width="536.0" height="464.8"/></clipPath><g clip-path="url(#clipc)"><g transform="matrix(6.02247,0,0,7.59477,91.3,626.2)" shape-rendering="crispEdges" fill="none" stroke-width="1"><path stroke="#2adaf7" d="M0 0.5h2M9 0.5h1M22 0.5h1M29 0.5h2M34 0.5h1M61 0.5h1M63 0.5h1M75 0.5h1M78 0.5h1M0 1.5h1M3 1.5h2M6 1.5h2M9 1.5h2M29 1.5h1M33 1.5h3M54 1.5h1M59 1.5h1M61 1.5h1M63 1.5h1M65 1.5h1M67 1.5h1M70 1.5h1M3 2.5h4M9 2.5h1M21 2.5h1M33 2.5h1M56 2.5h1M59 2.5h1M61 2.5h2M65 2.5h1M70 2.5h1M0 3.5h1M3 3.5h2M21 3.5h2M30 3.5h1M33 3.5h2M59 3.5h1M65 3.5h1M68 3.5h1M3 4.5h1M20 4.5h2M30 4.5h1M32 4.5h1M34 4.5h1M56 4.5h1M59 4.5h1M66 4.5h1M69 4.5h1M6 5.5h1M8 5.5h1M11 5.5h1M17 5.5h1M24 5.5h2M28 5.5h1M30 5.5h1M32 5.5h2M55 5.5h2M58 5.5h1M60 5.5h2M64 5.5h1M66 5.5h2M69 5.5h1M8 6.5h1M11 6.5h1M17 6.5h1M19 6.5h2M22 6.5h1M24 6.5h2M30 6.5h2M33 6.5h2M55 6.5h1M57 6.5h1M59 6.5h1M63 6.5h1M66 6.5h2M69 6.5h1M0 7.5h1M9 7.5h4M17 7.5h2M22 7.5h2M30 7.5h2M34 7.5h1M55 7.5h1M57 7.5h1M60 7.5h1M62 7.5h1M66 7.5h3M0 8.5h1M9 8.5h1M15 8.5h1M22 8.5h2M27 8.5h2M30 8.5h1M34 8.5h1M36 8.5h1M55 8.5h2M59 8.5h3M65 8.5h2M0 9.5h1M10 9.5h2M17 9.5h1M21 9.5h3M25 9.5h1M29 9.5h1M54 9.5h3M60 9.5h2M63 9.5h1M66 9.5h1M69 9.5h1M10 10.5h1M14 10.5h1M17 10.5h1M21 10.5h1M27 10.5h3M31 10.5h1M59 10.5h1M63 10.5h1M67 10.5h1M10 11.5h1M12 11.5h3M24 11.5h1M27 11.5h1M33 11.5h2M37 11.5h1M9 12.5h2M18 12.5h1M25 12.5h1M27 12.5h1M31 12.5h2M36 12.5h2M55 12.5h1M16 13.5h1M18 13.5h2M21 13.5h1M23 13.5h1M27 13.5h1M31 13.5h1M37 13.5h1M54 13.5h1M56 13.5h1M18 14.5h2M21 14.5h2M25 14.5h3M33 14.5h5M56 14.5h2M9 15.5h1M11 15.5h1M13 15.5h1M18 15.5h1M21 15.5h1M23 15.5h1M29 15.5h1M31 15.5h1M35 15.5h4M40 15.5h1M55 15.5h2M58 15.5h1M7 16.5h1M15 16.5h1M20 16.5h2M24 16.5h1M31 16.5h1M34 16.5h2M66 16.5h1M7 17.5h2M14 17.5h2M22 17.5h2M25 17.5h1M34 17.5h2M37 17.5h1M40 17.5h1M8 18.5h1M13 18.5h1M15 18.5h1M24 18.5h2M32 18.5h1M34 18.5h1M36 18.5h1M40 18.5h1M8 19.5h2M13 19.5h1M15 19.5h3M19 19.5h1M23 19.5h1M25 19.5h1M32 19.5h1M34 19.5h3M38 19.5h1M65 19.5h1M7 20.5h2M15 20.5h1M18 20.5h1M23 20.5h1M34 20.5h1M37 20.5h3M65 20.5h1M8 21.5h1M15 21.5h1M18 21.5h1M26 21.5h1M38 21.5h1M65 21.5h1M84 21.5h1M0 22.5h1M7 22.5h1M18 22.5h1M20 22.5h1M25 22.5h1M65 22.5h1M84 22.5h1M4 23.5h1M7 23.5h1M21 23.5h1M25 23.5h1M21 24.5h1M25 24.5h1M83 24.5h1M25 25.5h1M82 25.5h1M3 26.5h1M20 26.5h1M26 26.5h1M80 26.5h1M3 27.5h1M5 27.5h1M24 27.5h1M76 27.5h3M1 28.5h1M3 28.5h2M24 28.5h1M26 28.5h1M65 28.5h1M1 29.5h1M62 29.5h1M0 30.5h1M2 30.5h1M6 30.5h1M60 30.5h1M0 31.5h2M27 31.5h2M30 31.5h1M59 31.5h1M3 32.5h1M6 32.5h1M10 32.5h1M25 32.5h2M29 32.5h2M58 32.5h1M6 33.5h1M8 33.5h1M10 33.5h1M25 33.5h1M27 33.5h1M30 33.5h1M57 33.5h1M4 34.5h1M7 34.5h1M10 34.5h1M29 34.5h1M2 35.5h1M4 35.5h1M6 35.5h2M10 35.5h1M25 35.5h1M34 35.5h1M54 35.5h1M0 36.5h2M9 36.5h1M25 36.5h1M27 36.5h1M29 36.5h2M34 36.5h1M53 36.5h1M5 37.5h1M7 37.5h3M25 37.5h3M29 37.5h1M32 37.5h1M34 37.5h1M39 37.5h1M50 37.5h2M0 38.5h1M4 38.5h1M8 38.5h1M27 38.5h1M32 38.5h1M34 38.5h2M37 38.5h1M39 38.5h2M46 38.5h3M4 39.5h1M8 39.5h2M19 39.5h2M24 39.5h1M27 39.5h1M35 39.5h2M7 40.5h1M9 40.5h1M21 40.5h1M24 40.5h1M27 40.5h2M10 41.5h1M21 41.5h1M25 41.5h1M20 42.5h1M10 44.5h1M15 46.5h1M10 47.5h1M15 47.5h1M10 48.5h1M12 48.5h1M18 48.5h1M11 49.5h2M18 49.5h1M12 50.5h1M18 53.5h1M18 54.5h1M18 55.5h1M20 56.5h1M20 57.5h1M18 58.5h1M9 59.5h1M12 59.5h1M19 59.5h1M9 60.5h1M20 60.5h1M16 61.5h1"/><path stroke="#32d2f4" d="M2 0.5h1M8 0.5h1M10 0.5h1M23 0.5h1M27 0.5h2M64 0.5h1M66 0.5h1M8 1.5h1M23 1.5h1M25 1.5h1M28 1.5h1M60 1.5h1M66 1.5h1M69 1.5h1M23 2.5h1M27 2.5h2M30 2.5h1M60 2.5h1M66 2.5h1M69 2.5h1M6 3.5h1M23 3.5h1M25 3.5h2M28 3.5h1M60 3.5h1M63 3.5h2M66 3.5h2M1 4.5h1M6 4.5h1M26 4.5h1M28 4.5h1M26 5.5h1M63 5.5h1M65 5.5h1M68 5.5h1M21 6.5h1M65 6.5h1M19 7.5h1M21 7.5h1M29 7.5h1M58 7.5h1M19 8.5h1M24 8.5h1M12 9.5h1M19 9.5h1M24 9.5h1M26 9.5h1M19 10.5h2M19 11.5h1M22 11.5h1M14 12.5h1M22 12.5h1M14 13.5h1M17 13.5h1M20 13.5h1M11 14.5h1M15 14.5h1M17 14.5h1M20 14.5h1M29 14.5h1M32 14.5h1M14 15.5h1M16 15.5h2M32 15.5h1M16 16.5h1M22 16.5h1M36 16.5h1M19 17.5h1M87 18.5h1M86 20.5h1M85 22.5h1M85 23.5h1M20 24.5h1M84 24.5h1M83 25.5h2M82 26.5h2M80 27.5h2M73 28.5h7M69 29.5h4M63 30.5h3M69 30.5h3M61 31.5h3M66 31.5h3M60 32.5h2M59 33.5h1M0 34.5h1M8 34.5h1M58 34.5h2M0 35.5h1M56 35.5h3M55 36.5h2M2 37.5h2M6 37.5h1M54 37.5h2M6 38.5h1M51 38.5h3M0 39.5h1M3 39.5h1M6 39.5h1M48 39.5h4M3 40.5h1M6 40.5h1M31 40.5h18M6 41.5h1M8 41.5h2M26 41.5h1M29 41.5h2M45 41.5h2M11 42.5h1M23 42.5h6M10 43.5h1M20 43.5h1M9 45.5h1M9 46.5h1M19 46.5h1M9 47.5h1M19 47.5h1M19 48.5h1M10 49.5h1M19 49.5h1M19 50.5h1M11 51.5h1M19 51.5h1M19 52.5h1M19 53.5h1M13 54.5h2M19 54.5h1M14 55.5h1M20 55.5h2M9 56.5h1M13 56.5h1M19 56.5h1M22 56.5h1M8 57.5h3M19 57.5h1M6 58.5h1M10 58.5h1M5 59.5h2M22 59.5h2M5 60.5h1M8 60.5h1M10 60.5h1M18 60.5h1M22 60.5h2M11 61.5h1M22 61.5h1"/><path stroke="#2ed6f6" d="M3 0.5h1M6 0.5h2M24 0.5h3M31 0.5h1M35 0.5h1M60 0.5h1M62 0.5h1M65 0.5h1M67 0.5h1M69 0.5h1M1 1.5h2M22 1.5h1M24 1.5h1M26 1.5h2M30 1.5h2M62 1.5h1M1 2.5h2M8 2.5h1M22 2.5h1M24 2.5h1M26 2.5h1M29 2.5h1M31 2.5h1M34 2.5h1M63 2.5h1M67 2.5h1M1 3.5h2M5 3.5h1M8 3.5h1M24 3.5h1M27 3.5h1M29 3.5h1M31 3.5h1M56 3.5h1M62 3.5h1M69 3.5h1M0 4.5h1M2 4.5h1M5 4.5h1M8 4.5h1M23 4.5h3M27 4.5h1M29 4.5h1M31 4.5h1M60 4.5h1M62 4.5h1M64 4.5h2M67 4.5h2M0 5.5h1M20 5.5h2M23 5.5h1M27 5.5h1M29 5.5h1M31 5.5h1M59 5.5h1M62 5.5h1M0 6.5h2M13 6.5h1M23 6.5h1M26 6.5h2M29 6.5h1M58 6.5h1M61 6.5h2M68 6.5h1M13 7.5h1M20 7.5h1M24 7.5h1M26 7.5h2M61 7.5h1M65 7.5h1M69 7.5h1M10 8.5h3M16 8.5h1M18 8.5h1M20 8.5h2M26 8.5h1M29 8.5h1M58 8.5h1M69 8.5h1M15 9.5h2M18 9.5h1M20 9.5h1M28 9.5h1M59 9.5h1M12 10.5h1M15 10.5h2M18 10.5h1M22 10.5h5M15 11.5h4M21 11.5h1M23 11.5h1M25 11.5h2M29 11.5h1M31 11.5h1M11 12.5h3M15 12.5h3M19 12.5h1M21 12.5h1M23 12.5h2M26 12.5h1M29 12.5h1M33 12.5h2M9 13.5h1M12 13.5h2M15 13.5h1M22 13.5h1M24 13.5h1M26 13.5h1M29 13.5h1M32 13.5h3M55 13.5h1M9 14.5h1M12 14.5h2M16 14.5h1M23 14.5h2M31 14.5h1M38 14.5h1M55 14.5h1M10 15.5h1M15 15.5h1M19 15.5h2M22 15.5h1M24 15.5h3M10 16.5h1M14 16.5h1M17 16.5h1M19 16.5h1M25 16.5h2M32 16.5h1M40 16.5h1M16 17.5h2M24 17.5h1M26 17.5h1M32 17.5h1M36 17.5h1M16 18.5h2M19 18.5h1M23 18.5h1M37 18.5h1M37 19.5h1M86 19.5h1M9 20.5h1M85 20.5h1M7 21.5h1M85 21.5h1M0 23.5h1M20 23.5h1M84 23.5h1M0 24.5h1M4 24.5h1M4 25.5h1M20 25.5h1M4 26.5h1M81 26.5h1M4 27.5h1M26 27.5h1M75 27.5h1M79 27.5h1M69 28.5h2M63 29.5h4M68 29.5h1M1 30.5h1M61 30.5h2M66 30.5h3M6 31.5h1M60 31.5h1M0 32.5h1M27 32.5h1M59 32.5h1M0 33.5h1M3 33.5h1M29 33.5h1M58 33.5h1M3 34.5h1M25 34.5h1M56 34.5h2M3 35.5h1M8 35.5h1M55 35.5h1M2 36.5h2M6 36.5h3M10 36.5h1M54 36.5h1M1 37.5h1M10 37.5h1M30 37.5h1M37 37.5h1M52 37.5h2M1 38.5h3M5 38.5h1M7 38.5h1M9 38.5h2M25 38.5h2M28 38.5h1M30 38.5h1M49 38.5h2M1 39.5h2M7 39.5h1M10 39.5h1M25 39.5h2M28 39.5h1M30 39.5h1M32 39.5h3M37 39.5h11M4 40.5h1M8 40.5h1M20 40.5h1M25 40.5h2M30 40.5h1M4 41.5h1M24 41.5h1M27 41.5h2M21 42.5h2M19 44.5h1M10 45.5h1M19 45.5h1M10 46.5h1M11 50.5h1M15 54.5h1M15 55.5h1M19 55.5h1M21 56.5h1M21 57.5h2M7 58.5h3M11 58.5h1M19 58.5h1M21 58.5h2M8 59.5h1M11 59.5h1M18 59.5h1M21 59.5h1M6 60.5h1M11 60.5h2M21 60.5h1M6 61.5h2M9 61.5h1M12 61.5h1M18 61.5h1M20 61.5h1M23 61.5h1"/><path stroke="#20e2f9" d="M4 0.5h2M11 0.5h1M18 0.5h1M20 0.5h2M33 0.5h1M39 0.5h1M53 0.5h3M58 0.5h2M70 0.5h1M73 0.5h1M76 0.5h1M79 0.5h1M5 1.5h1M11 1.5h1M17 1.5h1M21 1.5h1M32 1.5h1M36 1.5h1M56 1.5h3M68 1.5h1M75 1.5h1M78 1.5h1M0 2.5h1M7 2.5h1M10 2.5h2M17 2.5h2M32 2.5h1M35 2.5h2M54 2.5h1M57 2.5h2M68 2.5h1M78 2.5h1M9 3.5h3M13 3.5h1M18 3.5h1M32 3.5h1M36 3.5h2M57 3.5h2M61 3.5h1M70 3.5h1M73 3.5h1M4 4.5h1M10 4.5h2M22 4.5h1M33 4.5h1M35 4.5h3M55 4.5h1M58 4.5h1M61 4.5h1M70 4.5h4M2 5.5h1M4 5.5h2M7 5.5h1M10 5.5h1M13 5.5h3M19 5.5h1M22 5.5h1M34 5.5h2M37 5.5h1M57 5.5h1M71 5.5h3M7 6.5h1M9 6.5h2M15 6.5h1M18 6.5h1M28 6.5h1M32 6.5h1M35 6.5h2M56 6.5h1M60 6.5h1M64 6.5h1M1 7.5h1M7 7.5h2M15 7.5h2M25 7.5h1M28 7.5h1M33 7.5h1M35 7.5h2M54 7.5h1M56 7.5h1M59 7.5h1M63 7.5h2M2 8.5h1M8 8.5h1M13 8.5h2M17 8.5h1M25 8.5h1M31 8.5h1M54 8.5h1M62 8.5h2M68 8.5h1M73 8.5h1M2 9.5h1M9 9.5h1M13 9.5h2M27 9.5h1M30 9.5h4M36 9.5h1M58 9.5h1M65 9.5h1M68 9.5h1M0 10.5h1M2 10.5h1M9 10.5h1M11 10.5h1M13 10.5h1M30 10.5h1M32 10.5h2M36 10.5h2M54 10.5h3M60 10.5h2M66 10.5h1M69 10.5h1M0 11.5h1M2 11.5h1M11 11.5h1M28 11.5h1M30 11.5h1M35 11.5h2M54 11.5h2M57 11.5h3M61 11.5h1M63 11.5h1M67 11.5h1M69 11.5h1M0 12.5h1M28 12.5h1M30 12.5h1M35 12.5h1M38 12.5h1M52 12.5h1M54 12.5h1M56 12.5h3M63 12.5h1M66 12.5h2M69 12.5h1M10 13.5h1M25 13.5h1M28 13.5h1M36 13.5h1M38 13.5h2M52 13.5h1M57 13.5h2M63 13.5h1M66 13.5h1M69 13.5h1M10 14.5h1M28 14.5h1M39 14.5h1M41 14.5h2M52 14.5h1M54 14.5h1M58 14.5h1M66 14.5h2M12 15.5h1M27 15.5h2M30 15.5h1M33 15.5h2M39 15.5h1M54 15.5h1M57 15.5h1M66 15.5h2M4 16.5h1M6 16.5h1M8 16.5h2M11 16.5h3M18 16.5h1M23 16.5h1M27 16.5h4M37 16.5h2M53 16.5h1M55 16.5h2M64 16.5h1M4 17.5h3M9 17.5h5M20 17.5h2M27 17.5h2M30 17.5h2M38 17.5h1M54 17.5h3M64 17.5h1M66 17.5h1M4 18.5h1M6 18.5h2M9 18.5h4M14 18.5h1M20 18.5h2M26 18.5h2M31 18.5h1M33 18.5h1M35 18.5h1M38 18.5h1M41 18.5h1M55 18.5h1M64 18.5h3M1 19.5h1M4 19.5h4M10 19.5h3M14 19.5h1M18 19.5h1M20 19.5h2M24 19.5h1M27 19.5h1M33 19.5h1M39 19.5h2M55 19.5h1M1 20.5h1M10 20.5h4M17 20.5h1M19 20.5h4M25 20.5h3M32 20.5h1M35 20.5h2M84 20.5h1M1 21.5h1M5 21.5h2M9 21.5h1M13 21.5h1M20 21.5h1M22 21.5h4M32 21.5h1M36 21.5h2M39 21.5h1M1 22.5h1M5 22.5h2M8 22.5h1M15 22.5h1M21 22.5h4M26 22.5h1M38 22.5h1M55 22.5h1M1 23.5h1M3 23.5h1M5 23.5h2M18 23.5h2M23 23.5h2M26 23.5h1M28 23.5h1M65 23.5h2M83 23.5h1M3 24.5h1M6 24.5h2M19 24.5h1M22 24.5h3M26 24.5h3M60 24.5h1M0 25.5h1M3 25.5h1M5 25.5h2M14 25.5h1M16 25.5h1M21 25.5h1M24 25.5h1M26 25.5h3M81 25.5h1M0 26.5h1M5 26.5h1M9 26.5h1M21 26.5h2M24 26.5h2M79 26.5h1M0 27.5h2M20 27.5h1M23 27.5h1M30 27.5h1M0 28.5h1M5 28.5h1M8 28.5h1M23 28.5h1M29 28.5h1M31 28.5h1M2 29.5h2M6 29.5h1M12 29.5h1M24 29.5h1M29 29.5h1M60 29.5h2M5 30.5h1M28 30.5h3M58 30.5h2M2 31.5h2M10 31.5h1M26 31.5h1M29 31.5h1M58 31.5h1M1 32.5h1M4 32.5h2M7 32.5h3M11 32.5h2M28 32.5h1M32 32.5h1M36 32.5h1M57 32.5h1M1 33.5h1M4 33.5h2M7 33.5h1M9 33.5h1M11 33.5h4M26 33.5h1M28 33.5h1M32 33.5h2M36 33.5h1M56 33.5h1M1 34.5h2M5 34.5h2M11 34.5h4M26 34.5h3M30 34.5h1M33 34.5h1M35 34.5h1M55 34.5h1M1 35.5h1M5 35.5h1M9 35.5h1M13 35.5h1M26 35.5h1M28 35.5h4M33 35.5h1M35 35.5h1M38 35.5h1M4 36.5h2M12 36.5h1M24 36.5h1M26 36.5h1M31 36.5h3M35 36.5h1M37 36.5h2M52 36.5h1M0 37.5h1M4 37.5h1M23 37.5h2M28 37.5h1M31 37.5h1M33 37.5h1M35 37.5h2M38 37.5h1M40 37.5h1M48 37.5h2M19 38.5h1M23 38.5h2M29 38.5h1M33 38.5h1M36 38.5h1M38 38.5h1M41 38.5h1M44 38.5h2M22 39.5h2M31 39.5h1M10 40.5h1M19 40.5h1M29 40.5h1M7 41.5h1M19 41.5h2M23 41.5h1M13 42.5h1M19 42.5h1M12 43.5h2M18 43.5h2M12 44.5h2M12 45.5h1M12 46.5h1M12 47.5h1M18 47.5h1M18 50.5h1M12 51.5h1M18 51.5h1M12 52.5h2M18 52.5h1M13 53.5h1M16 54.5h1M16 55.5h1M17 56.5h2M11 57.5h1M18 57.5h1M20 58.5h1M16 59.5h2M20 59.5h1M16 60.5h2M19 60.5h1M19 61.5h1"/><path stroke="#00faff" d="M12 0.5h2M37 0.5h1M41 0.5h3M46 0.5h4M51 0.5h2M72 0.5h1M81 0.5h1M87 0.5h1M12 1.5h2M16 1.5h1M37 1.5h1M43 1.5h1M49 1.5h4M71 1.5h2M77 1.5h1M82 1.5h2M87 1.5h1M15 2.5h2M20 2.5h1M39 2.5h2M43 2.5h1M46 2.5h1M52 2.5h2M71 2.5h2M74 2.5h1M76 2.5h2M79 2.5h2M82 2.5h4M87 2.5h1M14 3.5h4M39 3.5h6M53 3.5h1M74 3.5h4M79 3.5h2M82 3.5h4M15 4.5h2M19 4.5h1M38 4.5h1M40 4.5h5M53 4.5h2M74 4.5h1M76 4.5h5M83 4.5h3M16 5.5h1M18 5.5h1M40 5.5h1M42 5.5h2M53 5.5h2M75 5.5h7M84 5.5h2M88 5.5h1M3 6.5h1M16 6.5h1M42 6.5h2M52 6.5h3M74 6.5h7M83 6.5h6M3 7.5h3M42 7.5h3M52 7.5h2M71 7.5h2M74 7.5h3M80 7.5h2M83 7.5h6M1 8.5h1M3 8.5h1M37 8.5h2M40 8.5h1M42 8.5h4M51 8.5h3M71 8.5h1M75 8.5h2M79 8.5h3M83 8.5h4M88 8.5h1M1 9.5h1M38 9.5h1M40 9.5h1M42 9.5h1M46 9.5h1M51 9.5h1M53 9.5h1M57 9.5h1M72 9.5h2M79 9.5h2M82 9.5h3M88 9.5h1M1 10.5h1M39 10.5h6M46 10.5h1M51 10.5h3M71 10.5h2M77 10.5h2M80 10.5h1M82 10.5h3M86 10.5h1M88 10.5h1M1 11.5h1M3 11.5h1M8 11.5h1M39 11.5h5M46 11.5h1M52 11.5h2M60 11.5h1M65 11.5h1M71 11.5h1M76 11.5h1M78 11.5h3M83 11.5h2M86 11.5h1M88 11.5h1M1 12.5h1M3 12.5h1M40 12.5h4M46 12.5h2M50 12.5h1M53 12.5h1M60 12.5h1M64 12.5h2M70 12.5h2M73 12.5h1M76 12.5h1M78 12.5h2M83 12.5h4M88 12.5h1M0 13.5h2M8 13.5h1M40 13.5h1M43 13.5h1M45 13.5h1M47 13.5h1M50 13.5h2M53 13.5h1M61 13.5h2M64 13.5h1M70 13.5h2M73 13.5h1M81 13.5h1M83 13.5h1M85 13.5h1M87 13.5h1M0 14.5h2M4 14.5h1M7 14.5h2M43 14.5h7M59 14.5h1M61 14.5h2M68 14.5h1M70 14.5h4M85 14.5h1M0 15.5h4M5 15.5h1M43 15.5h2M46 15.5h2M49 15.5h3M59 15.5h2M63 15.5h1M68 15.5h1M70 15.5h3M84 15.5h1M87 15.5h1M0 16.5h2M3 16.5h1M43 16.5h1M49 16.5h4M57 16.5h1M59 16.5h2M65 16.5h1M68 16.5h1M70 16.5h3M84 16.5h1M87 16.5h1M0 17.5h4M42 17.5h3M50 17.5h3M57 17.5h1M61 17.5h3M67 17.5h1M69 17.5h4M88 17.5h1M0 18.5h1M3 18.5h1M52 18.5h2M57 18.5h2M62 18.5h2M67 18.5h1M69 18.5h1M71 18.5h1M0 19.5h1M2 19.5h1M30 19.5h2M52 19.5h1M54 19.5h1M57 19.5h3M61 19.5h1M63 19.5h1M68 19.5h2M0 20.5h1M28 20.5h1M30 20.5h2M40 20.5h2M58 20.5h3M62 20.5h2M66 20.5h1M68 20.5h3M16 21.5h1M28 21.5h4M56 21.5h5M62 21.5h1M66 21.5h2M69 21.5h2M83 21.5h1M12 22.5h1M14 22.5h1M29 22.5h2M32 22.5h1M56 22.5h3M60 22.5h3M67 22.5h1M70 22.5h1M2 23.5h1M9 23.5h2M12 23.5h1M14 23.5h1M27 23.5h1M29 23.5h2M32 23.5h1M34 23.5h1M36 23.5h2M39 23.5h1M55 23.5h2M58 23.5h1M61 23.5h1M63 23.5h1M67 23.5h1M70 23.5h1M82 23.5h1M2 24.5h1M8 24.5h1M10 24.5h1M13 24.5h1M29 24.5h2M32 24.5h2M35 24.5h2M38 24.5h2M57 24.5h3M63 24.5h1M70 24.5h1M81 24.5h1M2 25.5h1M8 25.5h1M10 25.5h2M13 25.5h1M18 25.5h2M23 25.5h1M29 25.5h2M33 25.5h1M35 25.5h1M37 25.5h1M58 25.5h4M65 25.5h2M68 25.5h1M70 25.5h1M79 25.5h2M2 26.5h1M8 26.5h1M10 26.5h1M13 26.5h1M17 26.5h1M19 26.5h1M33 26.5h3M37 26.5h1M58 26.5h4M64 26.5h1M66 26.5h1M68 26.5h1M70 26.5h1M2 27.5h1M10 27.5h1M13 27.5h1M16 27.5h4M22 27.5h1M27 27.5h1M32 27.5h4M57 27.5h1M60 27.5h2M63 27.5h1M66 27.5h1M68 27.5h3M73 27.5h2M9 28.5h3M13 28.5h1M15 28.5h1M17 28.5h1M19 28.5h2M22 28.5h1M28 28.5h1M33 28.5h2M36 28.5h1M58 28.5h1M60 28.5h1M63 28.5h1M66 28.5h2M72 28.5h1M10 29.5h2M13 29.5h1M15 29.5h3M19 29.5h2M22 29.5h1M32 29.5h2M38 29.5h1M58 29.5h2M67 29.5h1M9 30.5h1M11 30.5h1M13 30.5h4M18 30.5h2M21 30.5h3M32 30.5h3M36 30.5h1M38 30.5h1M7 31.5h1M13 31.5h2M16 31.5h2M19 31.5h5M32 31.5h1M34 31.5h2M37 31.5h1M39 31.5h1M57 31.5h1M16 32.5h2M19 32.5h1M22 32.5h3M37 32.5h3M56 32.5h1M15 33.5h3M23 33.5h2M37 33.5h3M15 34.5h3M23 34.5h2M37 34.5h1M39 34.5h1M15 35.5h1M17 35.5h1M23 35.5h1M40 35.5h1M52 35.5h1M11 36.5h1M14 36.5h2M17 36.5h1M23 36.5h1M39 36.5h2M48 36.5h2M11 37.5h1M14 37.5h3M18 37.5h2M45 37.5h1M11 38.5h1M13 38.5h3M18 38.5h1M13 39.5h2M17 39.5h2M11 40.5h4M18 40.5h1M12 41.5h3M17 41.5h1M12 42.5h1M14 42.5h1M17 42.5h1M14 43.5h1M11 44.5h1M14 44.5h2M17 44.5h1M14 45.5h5M13 46.5h2M17 46.5h2M11 47.5h1M13 47.5h1M17 47.5h1M13 48.5h1M17 48.5h1M14 49.5h4M14 50.5h4M14 51.5h3M15 52.5h2M15 53.5h3M16 56.5h1M14 57.5h1M16 57.5h1M14 58.5h1M14 59.5h1M13 60.5h1"/><path stroke="#00fbff" d="M14 0.5h2M44 0.5h2M83 0.5h4M15 1.5h1M42 1.5h1M44 1.5h4M81 1.5h1M84 1.5h3M88 1.5h1M42 2.5h1M44 2.5h2M49 2.5h3M86 2.5h1M88 2.5h1M45 3.5h2M52 3.5h1M81 3.5h1M87 3.5h2M39 4.5h1M81 4.5h1M88 4.5h1M39 5.5h1M41 5.5h1M44 5.5h2M52 5.5h1M83 5.5h1M87 5.5h1M41 6.5h1M44 6.5h3M81 6.5h1M6 7.5h1M45 7.5h2M51 7.5h1M4 8.5h1M41 8.5h1M46 8.5h1M3 9.5h1M39 9.5h1M41 9.5h1M43 9.5h1M52 9.5h1M76 9.5h1M85 9.5h2M3 10.5h1M76 10.5h1M79 10.5h1M85 10.5h1M50 11.5h2M72 11.5h1M77 11.5h1M82 11.5h1M85 11.5h1M51 12.5h1M72 12.5h1M80 12.5h1M87 12.5h1M49 13.5h1M60 13.5h1M72 13.5h1M76 13.5h2M79 13.5h1M84 13.5h1M88 13.5h1M5 14.5h1M60 14.5h1M74 14.5h1M81 14.5h1M83 14.5h2M48 15.5h1M62 15.5h1M73 15.5h2M83 15.5h1M85 15.5h1M44 16.5h4M62 16.5h1M85 16.5h1M88 16.5h1M46 17.5h1M50 18.5h2M59 18.5h1M72 18.5h1M86 18.5h1M53 19.5h1M71 19.5h1M52 20.5h1M54 20.5h1M57 20.5h1M61 20.5h1M40 21.5h1M54 21.5h1M61 21.5h1M68 21.5h1M40 22.5h1M54 22.5h1M69 22.5h1M69 23.5h1M71 23.5h1M34 24.5h1M37 24.5h1M56 24.5h1M67 24.5h2M34 25.5h1M36 25.5h1M38 25.5h1M56 25.5h2M71 25.5h1M11 26.5h1M36 26.5h1M56 26.5h2M65 26.5h1M69 26.5h1M77 26.5h1M11 27.5h1M36 27.5h2M58 27.5h2M64 27.5h2M67 27.5h1M72 27.5h1M18 28.5h1M21 28.5h1M35 28.5h1M38 28.5h1M57 28.5h1M59 28.5h1M64 28.5h1M71 28.5h1M9 29.5h1M18 29.5h1M21 29.5h1M34 29.5h1M36 29.5h1M17 30.5h1M20 30.5h1M35 30.5h1M37 30.5h1M15 31.5h1M18 31.5h1M38 31.5h1M15 32.5h1M20 32.5h2M55 32.5h1M19 33.5h2M22 33.5h1M40 34.5h1M16 35.5h1M18 35.5h1M39 35.5h1M41 35.5h1M50 35.5h2M16 36.5h1M18 36.5h2M41 36.5h1M46 36.5h2M15 39.5h1M17 40.5h1M15 42.5h2M15 43.5h2M15 48.5h1"/><path stroke="#10eefc" d="M16 0.5h2M19 0.5h1M32 0.5h1M36 0.5h1M38 0.5h1M40 0.5h1M50 0.5h1M56 0.5h2M68 0.5h1M71 0.5h1M74 0.5h1M77 0.5h1M80 0.5h1M82 0.5h1M18 1.5h3M38 1.5h4M53 1.5h1M55 1.5h1M73 1.5h2M76 1.5h1M79 1.5h2M12 2.5h2M19 2.5h1M37 2.5h2M41 2.5h1M55 2.5h1M73 2.5h1M75 2.5h1M7 3.5h1M12 3.5h1M19 3.5h2M35 3.5h1M38 3.5h1M54 3.5h2M71 3.5h2M78 3.5h1M7 4.5h1M9 4.5h1M12 4.5h3M17 4.5h2M57 4.5h1M75 4.5h1M82 4.5h1M3 5.5h1M9 5.5h1M12 5.5h1M36 5.5h1M38 5.5h1M70 5.5h1M74 5.5h1M82 5.5h1M2 6.5h1M4 6.5h3M12 6.5h1M14 6.5h1M37 6.5h2M40 6.5h1M70 6.5h4M82 6.5h1M2 7.5h1M14 7.5h1M32 7.5h1M37 7.5h2M40 7.5h1M70 7.5h1M73 7.5h1M77 7.5h3M82 7.5h1M7 8.5h1M32 8.5h2M35 8.5h1M57 8.5h1M64 8.5h1M67 8.5h1M70 8.5h1M72 8.5h1M77 8.5h2M82 8.5h1M8 9.5h1M34 9.5h2M37 9.5h1M44 9.5h2M62 9.5h1M64 9.5h1M67 9.5h1M70 9.5h2M77 9.5h2M81 9.5h1M8 10.5h1M34 10.5h2M38 10.5h1M45 10.5h1M57 10.5h2M62 10.5h1M64 10.5h2M68 10.5h1M70 10.5h1M81 10.5h1M9 11.5h1M32 11.5h1M38 11.5h1M44 11.5h2M56 11.5h1M62 11.5h1M64 11.5h1M66 11.5h1M68 11.5h1M70 11.5h1M81 11.5h1M2 12.5h1M8 12.5h1M39 12.5h1M44 12.5h2M59 12.5h1M61 12.5h2M68 12.5h1M81 12.5h1M2 13.5h2M30 13.5h1M35 13.5h1M41 13.5h2M44 13.5h1M46 13.5h1M59 13.5h1M65 13.5h1M67 13.5h2M2 14.5h2M30 14.5h1M40 14.5h1M50 14.5h2M53 14.5h1M63 14.5h3M69 14.5h1M87 14.5h1M4 15.5h1M6 15.5h3M41 15.5h2M52 15.5h2M61 15.5h1M64 15.5h2M69 15.5h1M2 16.5h1M5 16.5h1M33 16.5h1M39 16.5h1M41 16.5h2M54 16.5h1M58 16.5h1M61 16.5h1M63 16.5h1M67 16.5h1M69 16.5h1M18 17.5h1M29 17.5h1M33 17.5h1M39 17.5h1M41 17.5h1M53 17.5h1M58 17.5h2M65 17.5h1M68 17.5h1M1 18.5h2M5 18.5h1M18 18.5h1M22 18.5h1M28 18.5h3M39 18.5h1M54 18.5h1M56 18.5h1M68 18.5h1M70 18.5h1M3 19.5h1M22 19.5h1M26 19.5h1M28 19.5h2M41 19.5h1M56 19.5h1M62 19.5h1M64 19.5h1M66 19.5h2M70 19.5h1M2 20.5h5M14 20.5h1M16 20.5h1M24 20.5h1M29 20.5h1M33 20.5h1M55 20.5h2M64 20.5h1M67 20.5h1M0 21.5h1M2 21.5h3M10 21.5h3M14 21.5h1M17 21.5h1M19 21.5h1M21 21.5h1M27 21.5h1M33 21.5h3M55 21.5h1M63 21.5h2M2 22.5h3M9 22.5h3M13 22.5h1M16 22.5h2M19 22.5h1M27 22.5h2M31 22.5h1M33 22.5h5M39 22.5h1M59 22.5h1M63 22.5h2M66 22.5h1M83 22.5h1M8 23.5h1M11 23.5h1M13 23.5h1M15 23.5h3M22 23.5h1M31 23.5h1M33 23.5h1M35 23.5h1M38 23.5h1M57 23.5h1M59 23.5h2M62 23.5h1M64 23.5h1M1 24.5h1M5 24.5h1M9 24.5h1M11 24.5h2M14 24.5h5M31 24.5h1M61 24.5h2M64 24.5h3M82 24.5h1M1 25.5h1M7 25.5h1M9 25.5h1M12 25.5h1M15 25.5h1M17 25.5h1M22 25.5h1M31 25.5h2M62 25.5h3M1 26.5h1M6 26.5h2M12 26.5h1M14 26.5h3M18 26.5h1M23 26.5h1M27 26.5h6M62 26.5h2M78 26.5h1M6 27.5h4M12 27.5h1M14 27.5h2M21 27.5h1M25 27.5h1M28 27.5h2M31 27.5h1M62 27.5h1M2 28.5h1M6 28.5h2M12 28.5h1M14 28.5h1M16 28.5h1M25 28.5h1M27 28.5h1M30 28.5h1M32 28.5h1M61 28.5h2M0 29.5h1M4 29.5h2M7 29.5h2M14 29.5h1M23 29.5h1M25 29.5h4M30 29.5h2M3 30.5h2M7 30.5h2M10 30.5h1M12 30.5h1M24 30.5h4M31 30.5h1M4 31.5h2M8 31.5h2M11 31.5h2M24 31.5h2M31 31.5h1M33 31.5h1M36 31.5h1M2 32.5h1M13 32.5h2M31 32.5h1M33 32.5h3M2 33.5h1M31 33.5h1M34 33.5h2M55 33.5h1M9 34.5h1M31 34.5h2M34 34.5h1M36 34.5h1M38 34.5h1M54 34.5h1M11 35.5h2M14 35.5h1M24 35.5h1M27 35.5h1M32 35.5h1M36 35.5h2M53 35.5h1M13 36.5h1M28 36.5h1M36 36.5h1M50 36.5h2M12 37.5h2M17 37.5h1M46 37.5h2M12 38.5h1M16 38.5h2M20 38.5h1M22 38.5h1M31 38.5h1M43 38.5h1M11 39.5h2M21 39.5h1M29 39.5h1M22 40.5h2M11 41.5h1M18 41.5h1M22 41.5h1M18 42.5h1M11 43.5h1M17 43.5h1M18 44.5h1M11 45.5h1M13 45.5h1M11 46.5h1M16 46.5h1M14 47.5h1M16 47.5h1M11 48.5h1M14 48.5h1M16 48.5h1M13 49.5h1M13 50.5h1M13 51.5h1M17 51.5h1M14 52.5h1M17 52.5h1M12 53.5h1M14 53.5h1M17 54.5h1M17 55.5h1M14 56.5h2M12 57.5h2M15 57.5h1M17 57.5h1M12 58.5h2M15 58.5h3M13 59.5h1M15 59.5h1M14 60.5h2M13 61.5h3M17 61.5h1"/><path stroke="#00fcff" d="M88 0.5h1M14 1.5h1M48 1.5h1M14 2.5h1M47 2.5h2M81 2.5h1M47 3.5h5M86 3.5h1M45 4.5h3M51 4.5h2M86 4.5h2M46 5.5h2M50 5.5h2M86 5.5h1M39 6.5h1M47 6.5h1M50 6.5h2M39 7.5h1M41 7.5h1M50 7.5h1M5 8.5h1M39 8.5h1M50 8.5h1M74 8.5h1M87 8.5h1M4 9.5h1M7 9.5h1M47 9.5h1M50 9.5h1M75 9.5h1M87 9.5h1M4 10.5h1M47 10.5h1M49 10.5h2M73 10.5h1M75 10.5h1M87 10.5h1M4 11.5h1M47 11.5h1M49 11.5h1M73 11.5h1M75 11.5h1M87 11.5h1M4 12.5h1M48 12.5h2M75 12.5h1M77 12.5h1M82 12.5h1M4 13.5h1M7 13.5h1M48 13.5h1M74 13.5h2M78 13.5h1M80 13.5h1M82 13.5h1M86 13.5h1M6 14.5h1M75 14.5h6M82 14.5h1M86 14.5h1M88 14.5h1M45 15.5h1M75 15.5h2M78 15.5h2M81 15.5h2M86 15.5h1M88 15.5h1M48 16.5h1M73 16.5h2M83 16.5h1M86 16.5h1M45 17.5h1M47 17.5h3M60 17.5h1M73 17.5h2M83 17.5h5M42 18.5h1M44 18.5h4M49 18.5h1M61 18.5h1M73 18.5h1M84 18.5h2M50 19.5h2M60 19.5h1M72 19.5h2M85 19.5h1M51 20.5h1M53 20.5h1M71 20.5h1M41 21.5h1M51 21.5h3M71 21.5h1M82 21.5h1M41 22.5h1M53 22.5h1M68 22.5h1M71 22.5h2M82 22.5h1M40 23.5h1M53 23.5h2M68 23.5h1M72 23.5h2M81 23.5h1M40 24.5h1M54 24.5h2M69 24.5h1M71 24.5h3M80 24.5h1M39 25.5h2M55 25.5h1M67 25.5h1M69 25.5h1M72 25.5h3M38 26.5h3M67 26.5h1M71 26.5h6M38 27.5h2M56 27.5h1M71 27.5h1M37 28.5h1M39 28.5h1M56 28.5h1M68 28.5h1M35 29.5h1M37 29.5h1M39 29.5h1M56 29.5h2M39 30.5h2M56 30.5h2M40 31.5h1M55 31.5h2M18 32.5h1M40 32.5h1M18 33.5h1M21 33.5h1M40 33.5h3M54 33.5h1M18 34.5h5M41 34.5h3M52 34.5h2M19 35.5h2M22 35.5h1M42 35.5h2M48 35.5h2M43 36.5h1M22 37.5h1M44 37.5h1M42 38.5h1M15 40.5h1M15 41.5h1M16 44.5h1"/><path stroke="#35cff3" d="M64 1.5h1M25 2.5h1M64 2.5h1M63 4.5h1M1 5.5h1M20 11.5h1M20 12.5h1M11 13.5h1M14 14.5h1M88 18.5h1M87 19.5h2M87 20.5h2M86 21.5h3M86 22.5h2M86 23.5h2M85 24.5h3M85 25.5h2M84 26.5h2M82 27.5h4M80 28.5h4M73 29.5h10M72 30.5h9M64 31.5h2M69 31.5h6M62 32.5h12M60 33.5h12M60 34.5h10M59 35.5h8M57 36.5h6M56 37.5h6M54 38.5h7M5 39.5h1M52 39.5h7M0 40.5h3M5 40.5h1M49 40.5h9M0 41.5h4M5 41.5h1M31 41.5h14M47 41.5h10M2 42.5h9M29 42.5h26M3 43.5h7M21 43.5h32M8 44.5h2M20 44.5h12M35 44.5h16M7 45.5h2M20 45.5h3M43 45.5h7M7 46.5h2M20 46.5h2M7 47.5h2M20 47.5h2M8 48.5h2M20 48.5h1M8 49.5h2M20 49.5h1M9 50.5h2M20 50.5h1M9 51.5h2M20 51.5h1M10 52.5h2M20 52.5h1M10 53.5h2M20 53.5h3M10 54.5h3M20 54.5h5M7 55.5h7M22 55.5h3M4 56.5h5M10 56.5h3M23 56.5h3M3 57.5h5M23 57.5h3M3 58.5h3M23 58.5h3M2 59.5h3M7 59.5h1M10 59.5h1M24 59.5h3M1 60.5h4M7 60.5h1M24 60.5h3M1 61.5h3M5 61.5h1M8 61.5h1M10 61.5h1M21 61.5h1M24 61.5h3"/><path stroke="#00feff" d="M48 4.5h1M49 5.5h1M49 6.5h1M49 7.5h1M6 8.5h1M49 8.5h1M74 9.5h1M48 11.5h1M7 12.5h1M74 12.5h1M5 13.5h1M77 16.5h2M81 16.5h1M75 17.5h1M74 18.5h2M83 18.5h1M42 19.5h1M45 19.5h5M74 19.5h1M83 19.5h2M42 20.5h1M49 20.5h2M42 21.5h1M50 21.5h1M73 21.5h1M42 22.5h1M51 22.5h1M74 22.5h1M41 23.5h1M52 23.5h1M74 23.5h1M41 24.5h1M52 24.5h1M74 24.5h3M79 24.5h1M53 25.5h1M77 25.5h2M54 26.5h1M54 27.5h2M54 28.5h1M41 29.5h1M41 30.5h1M41 31.5h2M41 32.5h3M44 33.5h1M45 34.5h1M48 34.5h1M50 34.5h1M44 35.5h1M46 35.5h2M20 36.5h1M45 36.5h1M41 37.5h1M43 37.5h1M21 38.5h1"/><path stroke="#00fdff" d="M49 4.5h2M47 7.5h1M47 8.5h1M49 9.5h1M77 15.5h1M80 15.5h1M75 16.5h2M82 16.5h1M48 18.5h1M72 20.5h2M72 21.5h1M52 22.5h1M73 22.5h1M53 24.5h1M54 25.5h1M75 25.5h2M55 26.5h1M40 27.5h1M40 28.5h1M55 28.5h1M40 29.5h1M55 29.5h1M55 30.5h1M43 33.5h1M44 34.5h1M49 34.5h1M51 34.5h1M45 35.5h1M22 36.5h1M20 37.5h1"/><path stroke="#30f3d3" d="M48 5.5h1M48 10.5h1M44 19.5h1M45 20.5h3M49 21.5h1M50 22.5h1M75 23.5h1M41 28.5h1M49 33.5h1M46 34.5h2M16 39.5h1"/><path stroke="#52ec53" d="M48 6.5h1M5 10.5h1M47 24.5h1M50 29.5h1"/><path stroke="#ffbc00" d="M48 7.5h1"/><path stroke="#fbfb00" d="M48 8.5h1M80 20.5h1M47 25.5h1M47 26.5h1"/><path stroke="#3ef0c3" d="M5 9.5h1M74 10.5h1M74 11.5h1M44 20.5h1M75 20.5h1M82 20.5h1M43 21.5h1M48 21.5h1M43 22.5h1M49 22.5h1M75 22.5h1M50 23.5h1M76 23.5h1M51 24.5h1M41 25.5h1M52 25.5h1M41 26.5h1M53 28.5h1M42 29.5h1M53 29.5h1M43 30.5h1"/><path stroke="#55ee4b" d="M6 9.5h1M46 25.5h1M46 29.5h1M51 30.5h1"/><path stroke="#40efbb" d="M48 9.5h1M78 17.5h1M48 22.5h1M78 24.5h1M52 27.5h1M45 32.5h1"/><path stroke="#d70000" d="M6 10.5h1"/><path stroke="#3fefbe" d="M7 10.5h1M6 13.5h1M82 17.5h1M43 18.5h1M45 21.5h1M47 21.5h1M44 22.5h1M43 23.5h1M42 28.5h1M43 29.5h1M44 31.5h1M51 33.5h1"/><path stroke="#54ed4e" d="M5 11.5h1M78 18.5h1M77 22.5h1M79 23.5h1M45 25.5h1M50 27.5h1M52 32.5h1"/><path stroke="#880000" d="M6 11.5h1"/><path stroke="#41efb9" d="M7 11.5h1M5 12.5h1M81 18.5h1M44 23.5h1M49 23.5h1M50 24.5h1M43 28.5h1M52 28.5h1M46 32.5h1M48 33.5h1M50 33.5h1"/><path stroke="#fcfa00" d="M6 12.5h1"/><path stroke="#00ffff" d="M79 16.5h2M76 17.5h1M75 19.5h1M48 20.5h1M74 20.5h1M83 20.5h1M74 21.5h1M51 23.5h1M53 26.5h1M54 29.5h1M42 30.5h1M54 30.5h1M43 31.5h1M54 31.5h1M54 32.5h1M21 35.5h1M42 36.5h1"/><path stroke="#3ef0c1" d="M77 17.5h1M80 17.5h1M76 18.5h1M44 21.5h1M46 21.5h1M75 21.5h1M81 22.5h1M77 24.5h1M52 26.5h1M53 30.5h1M46 33.5h2"/><path stroke="#46eeab" d="M79 17.5h1M76 20.5h1M76 21.5h1M46 23.5h1M43 25.5h1M51 27.5h1M51 29.5h1M53 33.5h1"/><path stroke="#3df0c6" d="M81 17.5h1M42 23.5h1M53 27.5h1M44 32.5h1M45 33.5h1M52 33.5h1M16 41.5h1"/><path stroke="#fdf800" d="M60 18.5h1M52 31.5h1M16 40.5h1"/><path stroke="#44eeb1" d="M77 18.5h1M81 19.5h2M81 20.5h1M48 23.5h1M77 23.5h1M44 24.5h1M51 26.5h1M46 31.5h1"/><path stroke="#ffe500" d="M79 18.5h1M78 19.5h1"/><path stroke="#49ed92" d="M80 18.5h1M47 23.5h1M44 28.5h1M51 28.5h1M47 31.5h1M49 31.5h1M53 31.5h1"/><path stroke="#ffbf00" d="M82 18.5h1M48 27.5h1"/><path stroke="#e5fa08" d="M43 19.5h1M47 27.5h1"/><path stroke="#42efb6" d="M76 19.5h1M81 21.5h1M45 22.5h1M80 23.5h1M43 24.5h1M42 27.5h1M52 29.5h1M44 30.5h1M47 32.5h1"/><path stroke="#53ed50" d="M77 19.5h1M80 22.5h1M51 25.5h1M42 26.5h1M45 28.5h1M47 30.5h2M50 31.5h1"/><path stroke="#800000" d="M79 19.5h1M79 20.5h1M79 21.5h1M48 26.5h1M51 31.5h1"/><path stroke="#59f03e" d="M80 19.5h1M77 20.5h1M77 21.5h1M41 27.5h1M47 28.5h1M48 29.5h1M44 36.5h1"/><path stroke="#52ec55" d="M43 20.5h1M46 24.5h1M44 26.5h1M50 26.5h1M49 30.5h2"/><path stroke="#ffaf00" d="M78 20.5h1"/><path stroke="#ffc300" d="M78 21.5h1"/><path stroke="#a5f620" d="M80 21.5h1M53 32.5h1M21 37.5h1"/><path stroke="#43efb3" d="M46 22.5h2M76 22.5h1M43 27.5h1M45 31.5h1"/><path stroke="#fafb00" d="M78 22.5h1M21 36.5h1"/><path stroke="#ff9600" d="M79 22.5h1M48 25.5h1"/><path stroke="#38cbf2" d="M88 22.5h1M88 23.5h1M88 24.5h1M87 25.5h2M86 26.5h3M86 27.5h3M84 28.5h5M83 29.5h6M81 30.5h8M75 31.5h14M74 32.5h15M72 33.5h17M70 34.5h19M67 35.5h22M63 36.5h26M62 37.5h27M61 38.5h28M59 39.5h30M58 40.5h31M57 41.5h32M0 42.5h2M55 42.5h34M0 43.5h3M53 43.5h36M0 44.5h8M32 44.5h3M51 44.5h38M0 45.5h7M23 45.5h20M50 45.5h39M0 46.5h7M22 46.5h67M0 47.5h7M22 47.5h67M0 48.5h8M21 48.5h68M0 49.5h8M21 49.5h68M0 50.5h9M21 50.5h68M0 51.5h9M21 51.5h68M0 52.5h10M21 52.5h68M0 53.5h10M23 53.5h66M0 54.5h10M25 54.5h64M0 55.5h7M25 55.5h64M0 56.5h4M26 56.5h63M0 57.5h3M26 57.5h63M0 58.5h3M26 58.5h63M0 59.5h2M27 59.5h62M0 60.5h1M27 60.5h62M0 61.5h1M4 61.5h1M27 61.5h62"/><path stroke="#45eeae" d="M45 23.5h1M49 24.5h1M43 26.5h1M44 29.5h1M45 30.5h1M48 32.5h3"/><path stroke="#51eb58" d="M78 23.5h1M45 24.5h1M48 24.5h1M44 27.5h1M46 30.5h1M52 30.5h1"/><path stroke="#4feb62" d="M42 24.5h1M44 25.5h1M45 29.5h1M48 31.5h1"/><path stroke="#fcf900" d="M42 25.5h1M49 26.5h1M49 28.5h1"/><path stroke="#ff6800" d="M49 25.5h1"/><path stroke="#ffca00" d="M50 25.5h1"/><path stroke="#56ee48" d="M45 26.5h2M45 27.5h1"/><path stroke="#57ee46" d="M46 27.5h1M46 28.5h1M47 29.5h1M49 29.5h1"/><path stroke="#fef600" d="M49 27.5h1"/><path stroke="#fff600" d="M48 28.5h1"/><path stroke="#ff8600" d="M50 28.5h1"/><path stroke="#58ef43" d="M51 32.5h1"/><path stroke="#ffc600" d="M42 37.5h1"/></g><polygon points="85.0,620.0 95.0,620.0 95.0,632.0 106.0,1086.0 106.0,1095.0 85.0,1095.0" fill="#fff"/><polygon points="85.0,620.0 630.0,620.0 630.0,628.0 85.0,632.0" fill="#fff"/><polygon points="627.5,620.0 630.0,620.0 630.0,1095.0 617.0,1095.0 617.0,1086.0" fill="#fff"/><polygon points="85.0,1086.0 630.0,1085.0 630.0,1095.0 85.0,1095.0" fill="#fff"/><polygon points="88.9,623.7 111.7,623.7 111.1,629.7 109.7,633.3 103.8,634.3 96.8,633.5 90.9,631.2 88.9,631.2" fill="#fff"/><polygon points="95.0,632.0 627.0,628.0 617.0,1085.0 106.0,1086.0" fill="none" stroke="#1d4550" stroke-width="1.6" stroke-dasharray="9 5"/><g transform="matrix(0.60225,0,0,0.75948,91.3,626.2)" fill="none" stroke="#1b4550" stroke-width="1.8" stroke-linejoin="round" stroke-linecap="round"><use href="#bnd" vector-effect="non-scaling-stroke"/><use href="#cst" vector-effect="non-scaling-stroke" stroke="#123039" stroke-width="2.0"/><use href="#isl" vector-effect="non-scaling-stroke" stroke="#123039" stroke-width="2.4"/></g></g><rect x="91.3" y="626.2" width="536.0" height="464.8" fill="none" stroke="#9a9a9e" stroke-width="2.2"/><path d="M108.2 1091.0v-5M108.2 626.2v5M168.4 1091.0v-5M168.4 626.2v5M228.6 1091.0v-5M228.6 626.2v5M288.8 1091.0v-5M288.8 626.2v5M349.1 1091.0v-5M349.1 626.2v5M409.3 1091.0v-5M409.3 626.2v5M469.5 1091.0v-5M469.5 626.2v5M529.7 1091.0v-5M529.7 626.2v5M590.0 1091.0v-5M590.0 626.2v5M91.3 1059.1h5M627.3 1059.1h-5M91.3 983.2h5M627.3 983.2h-5M91.3 907.2h5M627.3 907.2h-5M91.3 831.3h5M627.3 831.3h-5M91.3 755.3h5M627.3 755.3h-5M91.3 679.4h5M627.3 679.4h-5" stroke="#8a8a8e" stroke-width="1.6" fill="none"/><text x="0" y="0" transform="translate(108.2,1114.0) scale(1.22,1)" font-size="14" text-anchor="middle" fill="#333" stroke="#333" stroke-width="0.4">109</text><text x="0" y="0" transform="translate(168.4,1114.0) scale(1.22,1)" font-size="14" text-anchor="middle" fill="#333" stroke="#333" stroke-width="0.4">110</text><text x="0" y="0" transform="translate(228.6,1114.0) scale(1.22,1)" font-size="14" text-anchor="middle" fill="#333" stroke="#333" stroke-width="0.4">111</text><text x="0" y="0" transform="translate(288.8,1114.0) scale(1.22,1)" font-size="14" text-anchor="middle" fill="#333" stroke="#333" stroke-width="0.4">112</text><text x="0" y="0" transform="translate(349.1,1114.0) scale(1.22,1)" font-size="14" text-anchor="middle" fill="#333" stroke="#333" stroke-width="0.4">113</text><text x="0" y="0" transform="translate(409.3,1114.0) scale(1.22,1)" font-size="14" text-anchor="middle" fill="#333" stroke="#333" stroke-width="0.4">114</text><text x="0" y="0" transform="translate(469.5,1114.0) scale(1.22,1)" font-size="14" text-anchor="middle" fill="#333" stroke="#333" stroke-width="0.4">115</text><text x="0" y="0" transform="translate(529.7,1114.0) scale(1.22,1)" font-size="14" text-anchor="middle" fill="#333" stroke="#333" stroke-width="0.4">116</text><text x="0" y="0" transform="translate(590.0,1114.0) scale(1.22,1)" font-size="14" text-anchor="middle" fill="#333" stroke="#333" stroke-width="0.4">117</text><text x="0" y="0" transform="translate(84.3,1064.1) scale(1.22,1)" font-size="14" text-anchor="end" fill="#333" stroke="#333" stroke-width="0.4">20</text><text x="0" y="0" transform="translate(84.3,988.2) scale(1.22,1)" font-size="14" text-anchor="end" fill="#333" stroke="#333" stroke-width="0.4">21</text><text x="0" y="0" transform="translate(84.3,912.2) scale(1.22,1)" font-size="14" text-anchor="end" fill="#333" stroke="#333" stroke-width="0.4">22</text><text x="0" y="0" transform="translate(84.3,836.3) scale(1.22,1)" font-size="14" text-anchor="end" fill="#333" stroke="#333" stroke-width="0.4">23</text><text x="0" y="0" transform="translate(84.3,760.3) scale(1.22,1)" font-size="14" text-anchor="end" fill="#333" stroke="#333" stroke-width="0.4">24</text><text x="0" y="0" transform="translate(84.3,684.4) scale(1.22,1)" font-size="14" text-anchor="end" fill="#333" stroke="#333" stroke-width="0.4">25</text><text transform="translate(359.3,1137.0) scale(1.30,1)" font-size="16" text-anchor="middle" fill="#333" stroke="#333" stroke-width="0.35">Longitude (E)</text><text transform="translate(56.3,858.6) rotate(-90) scale(1.1,1.22)" font-size="16" text-anchor="middle" fill="#333" stroke="#333" stroke-width="0.35">Latitude (N)</text><g shape-rendering="crispEdges"><rect x="637.9" y="1088.68" width="23.8" height="2.92" fill="#ffffff"/><rect x="637.9" y="1086.35" width="23.8" height="2.92" fill="#ffffff"/><rect x="637.9" y="1084.03" width="23.8" height="2.92" fill="#ffffff"/><rect x="637.9" y="1081.70" width="23.8" height="2.92" fill="#5bc9f2"/><rect x="637.9" y="1079.38" width="23.8" height="2.92" fill="#3abff0"/><rect x="637.9" y="1077.06" width="23.8" height="2.92" fill="#3ac1f0"/><rect x="637.9" y="1074.73" width="23.8" height="2.92" fill="#39c2f1"/><rect x="637.9" y="1072.41" width="23.8" height="2.92" fill="#39c3f1"/><rect x="637.9" y="1070.08" width="23.8" height="2.92" fill="#39c4f1"/><rect x="637.9" y="1067.76" width="23.8" height="2.92" fill="#39c6f1"/><rect x="637.9" y="1065.44" width="23.8" height="2.92" fill="#39c7f1"/><rect x="637.9" y="1063.11" width="23.8" height="2.92" fill="#39c8f1"/><rect x="637.9" y="1060.79" width="23.8" height="2.92" fill="#38caf2"/><rect x="637.9" y="1058.46" width="23.8" height="2.92" fill="#38cbf2"/><rect x="637.9" y="1056.14" width="23.8" height="2.92" fill="#38ccf2"/><rect x="637.9" y="1053.82" width="23.8" height="2.92" fill="#35cff3"/><rect x="637.9" y="1051.49" width="23.8" height="2.92" fill="#33d1f4"/><rect x="637.9" y="1049.17" width="23.8" height="2.92" fill="#31d3f5"/><rect x="637.9" y="1046.84" width="23.8" height="2.92" fill="#2fd5f6"/><rect x="637.9" y="1044.52" width="23.8" height="2.92" fill="#2cd8f6"/><rect x="637.9" y="1042.20" width="23.8" height="2.92" fill="#2adaf7"/><rect x="637.9" y="1039.87" width="23.8" height="2.92" fill="#27dcf8"/><rect x="637.9" y="1037.55" width="23.8" height="2.92" fill="#1ee4fa"/><rect x="637.9" y="1035.22" width="23.8" height="2.92" fill="#15eafb"/><rect x="637.9" y="1032.90" width="23.8" height="2.92" fill="#0bf1fd"/><rect x="637.9" y="1030.58" width="23.8" height="2.92" fill="#02f8ff"/><rect x="637.9" y="1028.25" width="23.8" height="2.92" fill="#00faff"/><rect x="637.9" y="1025.93" width="23.8" height="2.92" fill="#00fbff"/><rect x="637.9" y="1023.60" width="23.8" height="2.92" fill="#00fbff"/><rect x="637.9" y="1021.28" width="23.8" height="2.92" fill="#00fbff"/><rect x="637.9" y="1018.96" width="23.8" height="2.92" fill="#00fbff"/><rect x="637.9" y="1016.63" width="23.8" height="2.92" fill="#00fcff"/><rect x="637.9" y="1014.31" width="23.8" height="2.92" fill="#00fcff"/><rect x="637.9" y="1011.98" width="23.8" height="2.92" fill="#00fcff"/><rect x="637.9" y="1009.66" width="23.8" height="2.92" fill="#00fdff"/><rect x="637.9" y="1007.34" width="23.8" height="2.92" fill="#00fdff"/><rect x="637.9" y="1005.01" width="23.8" height="2.92" fill="#00fdff"/><rect x="637.9" y="1002.69" width="23.8" height="2.92" fill="#00fdff"/><rect x="637.9" y="1000.36" width="23.8" height="2.92" fill="#00feff"/><rect x="637.9" y="998.04" width="23.8" height="2.92" fill="#00feff"/><rect x="637.9" y="995.72" width="23.8" height="2.92" fill="#00feff"/><rect x="637.9" y="993.39" width="23.8" height="2.92" fill="#00ffff"/><rect x="637.9" y="991.07" width="23.8" height="2.92" fill="#00ffff"/><rect x="637.9" y="988.74" width="23.8" height="2.92" fill="#12faef"/><rect x="637.9" y="986.42" width="23.8" height="2.92" fill="#2ef3d5"/><rect x="637.9" y="984.10" width="23.8" height="2.92" fill="#3cf0c7"/><rect x="637.9" y="981.77" width="23.8" height="2.92" fill="#3df0c6"/><rect x="637.9" y="979.45" width="23.8" height="2.92" fill="#3df0c4"/><rect x="637.9" y="977.12" width="23.8" height="2.92" fill="#3ef0c3"/><rect x="637.9" y="974.80" width="23.8" height="2.92" fill="#3ef0c1"/><rect x="637.9" y="972.48" width="23.8" height="2.92" fill="#3fefbf"/><rect x="637.9" y="970.15" width="23.8" height="2.92" fill="#3fefbe"/><rect x="637.9" y="967.83" width="23.8" height="2.92" fill="#40efbc"/><rect x="637.9" y="965.50" width="23.8" height="2.92" fill="#40efbb"/><rect x="637.9" y="963.18" width="23.8" height="2.92" fill="#41efb9"/><rect x="637.9" y="960.86" width="23.8" height="2.92" fill="#41efb8"/><rect x="637.9" y="958.53" width="23.8" height="2.92" fill="#42efb6"/><rect x="637.9" y="956.21" width="23.8" height="2.92" fill="#42efb5"/><rect x="637.9" y="953.88" width="23.8" height="2.92" fill="#43efb3"/><rect x="637.9" y="951.56" width="23.8" height="2.92" fill="#44eeb1"/><rect x="637.9" y="949.24" width="23.8" height="2.92" fill="#44eeb0"/><rect x="637.9" y="946.91" width="23.8" height="2.92" fill="#45eeae"/><rect x="637.9" y="944.59" width="23.8" height="2.92" fill="#45eead"/><rect x="637.9" y="942.26" width="23.8" height="2.92" fill="#46eeab"/><rect x="637.9" y="939.94" width="23.8" height="2.92" fill="#47eea4"/><rect x="637.9" y="937.62" width="23.8" height="2.92" fill="#4aed88"/><rect x="637.9" y="935.29" width="23.8" height="2.92" fill="#4eec6c"/><rect x="637.9" y="932.97" width="23.8" height="2.92" fill="#50eb59"/><rect x="637.9" y="930.64" width="23.8" height="2.92" fill="#51eb58"/><rect x="637.9" y="928.32" width="23.8" height="2.92" fill="#51ec56"/><rect x="637.9" y="926.00" width="23.8" height="2.92" fill="#52ec55"/><rect x="637.9" y="923.67" width="23.8" height="2.92" fill="#52ec53"/><rect x="637.9" y="921.35" width="23.8" height="2.92" fill="#53ec52"/><rect x="637.9" y="919.02" width="23.8" height="2.92" fill="#53ed50"/><rect x="637.9" y="916.70" width="23.8" height="2.92" fill="#54ed4f"/><rect x="637.9" y="914.38" width="23.8" height="2.92" fill="#54ed4d"/><rect x="637.9" y="912.05" width="23.8" height="2.92" fill="#55ed4c"/><rect x="637.9" y="909.73" width="23.8" height="2.92" fill="#55ee4a"/><rect x="637.9" y="907.40" width="23.8" height="2.92" fill="#56ee49"/><rect x="637.9" y="905.08" width="23.8" height="2.92" fill="#56ee47"/><rect x="637.9" y="902.76" width="23.8" height="2.92" fill="#57ee46"/><rect x="637.9" y="900.43" width="23.8" height="2.92" fill="#57ef44"/><rect x="637.9" y="898.11" width="23.8" height="2.92" fill="#58ef43"/><rect x="637.9" y="895.78" width="23.8" height="2.92" fill="#58ef41"/><rect x="637.9" y="893.46" width="23.8" height="2.92" fill="#59ef40"/><rect x="637.9" y="891.14" width="23.8" height="2.92" fill="#59f03e"/><rect x="637.9" y="888.81" width="23.8" height="2.92" fill="#5af03d"/><rect x="637.9" y="886.49" width="23.8" height="2.92" fill="#67f137"/><rect x="637.9" y="884.16" width="23.8" height="2.92" fill="#8df429"/><rect x="637.9" y="881.84" width="23.8" height="2.92" fill="#b2f71b"/><rect x="637.9" y="879.52" width="23.8" height="2.92" fill="#d7f90d"/><rect x="637.9" y="877.19" width="23.8" height="2.92" fill="#fafc00"/><rect x="637.9" y="874.87" width="23.8" height="2.92" fill="#fafb00"/><rect x="637.9" y="872.54" width="23.8" height="2.92" fill="#fbfb00"/><rect x="637.9" y="870.22" width="23.8" height="2.92" fill="#fbfa00"/><rect x="637.9" y="867.90" width="23.8" height="2.92" fill="#fbfa00"/><rect x="637.9" y="865.57" width="23.8" height="2.92" fill="#fcfa00"/><rect x="637.9" y="863.25" width="23.8" height="2.92" fill="#fcf900"/><rect x="637.9" y="860.92" width="23.8" height="2.92" fill="#fcf900"/><rect x="637.9" y="858.60" width="23.8" height="2.92" fill="#fdf800"/><rect x="637.9" y="856.28" width="23.8" height="2.92" fill="#fdf800"/><rect x="637.9" y="853.95" width="23.8" height="2.92" fill="#fef700"/><rect x="637.9" y="851.63" width="23.8" height="2.92" fill="#fef700"/><rect x="637.9" y="849.30" width="23.8" height="2.92" fill="#fef600"/><rect x="637.9" y="846.98" width="23.8" height="2.92" fill="#fff600"/><rect x="637.9" y="844.66" width="23.8" height="2.92" fill="#fff500"/><rect x="637.9" y="842.33" width="23.8" height="2.92" fill="#fff000"/><rect x="637.9" y="840.01" width="23.8" height="2.92" fill="#ffe900"/><rect x="637.9" y="837.68" width="23.8" height="2.92" fill="#ffe200"/><rect x="637.9" y="835.36" width="23.8" height="2.92" fill="#ffda00"/><rect x="637.9" y="833.04" width="23.8" height="2.92" fill="#ffd400"/><rect x="637.9" y="830.71" width="23.8" height="2.92" fill="#ffcd00"/><rect x="637.9" y="828.39" width="23.8" height="2.92" fill="#ffcb00"/><rect x="637.9" y="826.06" width="23.8" height="2.92" fill="#ffc900"/><rect x="637.9" y="823.74" width="23.8" height="2.92" fill="#ffc700"/><rect x="637.9" y="821.42" width="23.8" height="2.92" fill="#ffc500"/><rect x="637.9" y="819.09" width="23.8" height="2.92" fill="#ffc300"/><rect x="637.9" y="816.77" width="23.8" height="2.92" fill="#ffc100"/><rect x="637.9" y="814.44" width="23.8" height="2.92" fill="#ffbf00"/><rect x="637.9" y="812.12" width="23.8" height="2.92" fill="#ffbd00"/><rect x="637.9" y="809.80" width="23.8" height="2.92" fill="#ffbb00"/><rect x="637.9" y="807.47" width="23.8" height="2.92" fill="#ffb900"/><rect x="637.9" y="805.15" width="23.8" height="2.92" fill="#ffb400"/><rect x="637.9" y="802.82" width="23.8" height="2.92" fill="#ffaf00"/><rect x="637.9" y="800.50" width="23.8" height="2.92" fill="#ffaa00"/><rect x="637.9" y="798.18" width="23.8" height="2.92" fill="#ffa500"/><rect x="637.9" y="795.85" width="23.8" height="2.92" fill="#ffa000"/><rect x="637.9" y="793.53" width="23.8" height="2.92" fill="#ff9b00"/><rect x="637.9" y="791.20" width="23.8" height="2.92" fill="#ff9600"/><rect x="637.9" y="788.88" width="23.8" height="2.92" fill="#ff8d00"/><rect x="637.9" y="786.56" width="23.8" height="2.92" fill="#ff8400"/><rect x="637.9" y="784.23" width="23.8" height="2.92" fill="#ff7b00"/><rect x="637.9" y="781.91" width="23.8" height="2.92" fill="#ff7100"/><rect x="637.9" y="779.58" width="23.8" height="2.92" fill="#ff6d00"/><rect x="637.9" y="777.26" width="23.8" height="2.92" fill="#ff6c00"/><rect x="637.9" y="774.94" width="23.8" height="2.92" fill="#ff6b00"/><rect x="637.9" y="772.61" width="23.8" height="2.92" fill="#ff6a00"/><rect x="637.9" y="770.29" width="23.8" height="2.92" fill="#ff6900"/><rect x="637.9" y="767.96" width="23.8" height="2.92" fill="#ff6800"/><rect x="637.9" y="765.64" width="23.8" height="2.92" fill="#ff6700"/><rect x="637.9" y="763.32" width="23.8" height="2.92" fill="#ff6600"/><rect x="637.9" y="760.99" width="23.8" height="2.92" fill="#ff6500"/><rect x="637.9" y="758.67" width="23.8" height="2.92" fill="#ff6400"/><rect x="637.9" y="756.34" width="23.8" height="2.92" fill="#ff6300"/><rect x="637.9" y="754.02" width="23.8" height="2.92" fill="#ff6200"/><rect x="637.9" y="751.70" width="23.8" height="2.92" fill="#ff6100"/><rect x="637.9" y="749.37" width="23.8" height="2.92" fill="#ff6000"/><rect x="637.9" y="747.05" width="23.8" height="2.92" fill="#ff5f00"/><rect x="637.9" y="744.72" width="23.8" height="2.92" fill="#ff5e00"/><rect x="637.9" y="742.40" width="23.8" height="2.92" fill="#ff5d00"/><rect x="637.9" y="740.08" width="23.8" height="2.92" fill="#ff5c00"/><rect x="637.9" y="737.75" width="23.8" height="2.92" fill="#ff5b00"/><rect x="637.9" y="735.43" width="23.8" height="2.92" fill="#ff5a00"/><rect x="637.9" y="733.10" width="23.8" height="2.92" fill="#ff5300"/><rect x="637.9" y="730.78" width="23.8" height="2.92" fill="#ff4900"/><rect x="637.9" y="728.46" width="23.8" height="2.92" fill="#ff3e00"/><rect x="637.9" y="726.13" width="23.8" height="2.92" fill="#ff3400"/><rect x="637.9" y="723.81" width="23.8" height="2.92" fill="#ff2900"/><rect x="637.9" y="721.48" width="23.8" height="2.92" fill="#ff1f00"/><rect x="637.9" y="719.16" width="23.8" height="2.92" fill="#ff1400"/><rect x="637.9" y="716.84" width="23.8" height="2.92" fill="#ff0a00"/><rect x="637.9" y="714.51" width="23.8" height="2.92" fill="#ff0000"/><rect x="637.9" y="712.19" width="23.8" height="2.92" fill="#fe0000"/><rect x="637.9" y="709.86" width="23.8" height="2.92" fill="#fd0000"/><rect x="637.9" y="707.54" width="23.8" height="2.92" fill="#fc0000"/><rect x="637.9" y="705.22" width="23.8" height="2.92" fill="#fb0000"/><rect x="637.9" y="702.89" width="23.8" height="2.92" fill="#fb0000"/><rect x="637.9" y="700.57" width="23.8" height="2.92" fill="#fa0000"/><rect x="637.9" y="698.24" width="23.8" height="2.92" fill="#f90000"/><rect x="637.9" y="695.92" width="23.8" height="2.92" fill="#f80000"/><rect x="637.9" y="693.60" width="23.8" height="2.92" fill="#f70000"/><rect x="637.9" y="691.27" width="23.8" height="2.92" fill="#f60000"/><rect x="637.9" y="688.95" width="23.8" height="2.92" fill="#f50000"/><rect x="637.9" y="686.62" width="23.8" height="2.92" fill="#f40000"/><rect x="637.9" y="684.30" width="23.8" height="2.92" fill="#f40000"/><rect x="637.9" y="681.98" width="23.8" height="2.92" fill="#f30000"/><rect x="637.9" y="679.65" width="23.8" height="2.92" fill="#f20000"/><rect x="637.9" y="677.33" width="23.8" height="2.92" fill="#f10000"/><rect x="637.9" y="675.00" width="23.8" height="2.92" fill="#f00000"/><rect x="637.9" y="672.68" width="23.8" height="2.92" fill="#e00000"/><rect x="637.9" y="670.36" width="23.8" height="2.92" fill="#ce0000"/><rect x="637.9" y="668.03" width="23.8" height="2.92" fill="#bd0000"/><rect x="637.9" y="665.71" width="23.8" height="2.92" fill="#b10000"/><rect x="637.9" y="663.38" width="23.8" height="2.92" fill="#a60000"/><rect x="637.9" y="661.06" width="23.8" height="2.92" fill="#9a0000"/><rect x="637.9" y="658.74" width="23.8" height="2.92" fill="#8f0000"/><rect x="637.9" y="656.41" width="23.8" height="2.92" fill="#8b0000"/><rect x="637.9" y="654.09" width="23.8" height="2.92" fill="#8a0000"/><rect x="637.9" y="651.76" width="23.8" height="2.92" fill="#8a0000"/><rect x="637.9" y="649.44" width="23.8" height="2.92" fill="#890000"/><rect x="637.9" y="647.12" width="23.8" height="2.92" fill="#880000"/><rect x="637.9" y="644.79" width="23.8" height="2.92" fill="#870000"/><rect x="637.9" y="642.47" width="23.8" height="2.92" fill="#860000"/><rect x="637.9" y="640.14" width="23.8" height="2.92" fill="#850000"/><rect x="637.9" y="637.82" width="23.8" height="2.92" fill="#850000"/><rect x="637.9" y="635.50" width="23.8" height="2.92" fill="#840000"/><rect x="637.9" y="633.17" width="23.8" height="2.92" fill="#830000"/><rect x="637.9" y="630.85" width="23.8" height="2.92" fill="#820000"/><rect x="637.9" y="628.52" width="23.8" height="2.92" fill="#810000"/><rect x="637.9" y="626.20" width="23.8" height="2.92" fill="#800000"/></g><rect x="637.9" y="626.2" width="23.8" height="464.8" fill="none" stroke="#8a8a8e" stroke-width="1.8"/><text transform="translate(668.7,1097.3) scale(1.2,1)" font-size="14" fill="#333" stroke="#333" stroke-width="0.4">0</text><text transform="translate(668.7,1030.9) scale(1.2,1)" font-size="14" fill="#333" stroke="#333" stroke-width="0.4">2</text><text transform="translate(668.7,964.5) scale(1.2,1)" font-size="14" fill="#333" stroke="#333" stroke-width="0.4">4</text><text transform="translate(668.7,898.1) scale(1.2,1)" font-size="14" fill="#333" stroke="#333" stroke-width="0.4">6</text><text transform="translate(668.7,831.7) scale(1.2,1)" font-size="14" fill="#333" stroke="#333" stroke-width="0.4">8</text><text transform="translate(668.7,765.3) scale(1.2,1)" font-size="14" fill="#333" stroke="#333" stroke-width="0.4">10</text><text transform="translate(668.7,698.9) scale(1.2,1)" font-size="14" fill="#333" stroke="#333" stroke-width="0.4">12</text><text transform="translate(668.7,632.5) scale(1.2,1)" font-size="14" fill="#333" stroke="#333" stroke-width="0.4">14</text><path d="M661.7 1091.0h-4M661.7 1024.6h-4M661.7 958.2h-4M661.7 891.8h-4M661.7 825.4h-4M661.7 759.0h-4M661.7 692.6h-4M661.7 626.2h-4" stroke="#777" stroke-width="1.4"/><text transform="translate(709.7,858.6) rotate(-90) scale(1,1.18)" font-size="14.5" text-anchor="middle" fill="#333" stroke="#333" stroke-width="0.35">TVCD</text><text transform="translate(668.7,618.4000000000001) scale(1.15,1)" font-size="16" text-anchor="middle" fill="#777">×</text><text transform="translate(677.0,618.9000000000001) scale(1.2,1)" font-size="14" fill="#333" stroke="#333" stroke-width="0.35">10</text><text transform="translate(696.9000000000001,611.9000000000001) scale(1.2,1)" font-size="10.5" fill="#444" stroke="#444" stroke-width="0.3">15</text>
<clipPath id="clipd"><rect x="837.3" y="618.3" width="516.2" height="458.9"/></clipPath><g clip-path="url(#clipd)"><g transform="matrix(5.80000,0,0,7.49837,837.3,618.3)" shape-rendering="crispEdges" fill="none" stroke-width="1"><path stroke="#20e2f9" d="M0 0.5h1M9 0.5h1M16 0.5h2M20 0.5h1M22 0.5h2M35 0.5h1M38 0.5h2M53 0.5h1M58 0.5h1M60 0.5h1M64 0.5h1M68 0.5h1M9 1.5h1M11 1.5h1M17 1.5h2M34 1.5h2M38 1.5h2M56 1.5h1M70 1.5h1M73 1.5h1M8 2.5h2M34 2.5h1M36 2.5h1M38 2.5h2M54 2.5h1M70 2.5h1M79 2.5h1M8 3.5h2M37 3.5h1M54 3.5h1M56 3.5h1M68 3.5h1M70 3.5h1M75 3.5h1M5 4.5h1M8 4.5h1M14 4.5h1M21 4.5h3M35 4.5h1M56 4.5h1M69 4.5h3M74 4.5h2M78 4.5h1M0 5.5h1M3 5.5h1M10 5.5h3M14 5.5h1M18 5.5h1M20 5.5h2M27 5.5h1M31 5.5h1M34 5.5h2M37 5.5h1M69 5.5h5M0 6.5h1M3 6.5h1M12 6.5h6M19 6.5h1M27 6.5h1M34 6.5h4M55 6.5h1M65 6.5h1M70 6.5h2M81 6.5h1M0 7.5h1M4 7.5h2M14 7.5h1M17 7.5h1M26 7.5h1M32 7.5h2M35 7.5h1M54 7.5h2M65 7.5h1M70 7.5h1M9 8.5h1M21 8.5h1M23 8.5h1M33 8.5h1M37 8.5h1M41 8.5h1M68 8.5h3M2 9.5h1M9 9.5h1M14 9.5h1M21 9.5h1M23 9.5h1M31 9.5h1M37 9.5h1M55 9.5h1M61 9.5h1M69 9.5h2M83 9.5h1M2 10.5h1M8 10.5h1M22 10.5h3M28 10.5h1M30 10.5h2M36 10.5h1M38 10.5h2M55 10.5h1M62 10.5h2M65 10.5h1M70 10.5h1M83 10.5h1M1 11.5h1M21 11.5h1M23 11.5h2M30 11.5h4M41 11.5h1M55 11.5h1M57 11.5h1M67 11.5h1M70 11.5h1M1 12.5h1M30 12.5h1M34 12.5h1M37 12.5h1M39 12.5h3M43 12.5h1M53 12.5h3M57 12.5h1M62 12.5h1M68 12.5h1M70 12.5h1M1 13.5h4M29 13.5h1M38 13.5h3M55 13.5h2M60 13.5h1M64 13.5h1M68 13.5h1M70 13.5h1M0 14.5h3M4 14.5h1M6 14.5h2M29 14.5h1M31 14.5h1M37 14.5h1M39 14.5h2M42 14.5h3M53 14.5h1M56 14.5h1M60 14.5h1M0 15.5h1M3 15.5h1M7 15.5h1M52 15.5h1M56 15.5h2M59 15.5h2M63 15.5h1M65 15.5h1M0 16.5h1M4 16.5h2M11 16.5h1M21 16.5h1M30 16.5h2M51 16.5h2M56 16.5h1M61 16.5h3M66 16.5h1M69 16.5h1M0 17.5h1M3 17.5h2M18 17.5h1M27 17.5h2M33 17.5h1M39 17.5h2M52 17.5h1M54 17.5h3M62 17.5h1M64 17.5h1M8 18.5h1M24 18.5h2M29 18.5h1M32 18.5h2M40 18.5h1M54 18.5h4M61 18.5h2M64 18.5h1M66 18.5h1M68 18.5h1M0 19.5h2M3 19.5h1M15 19.5h1M19 19.5h1M24 19.5h2M27 19.5h1M33 19.5h1M53 19.5h2M65 19.5h1M67 19.5h2M1 20.5h1M6 20.5h2M9 20.5h2M13 20.5h3M19 20.5h1M24 20.5h1M26 20.5h2M30 20.5h3M37 20.5h1M54 20.5h2M58 20.5h1M63 20.5h1M67 20.5h1M7 21.5h2M13 21.5h2M19 21.5h1M26 21.5h1M30 21.5h3M37 21.5h1M39 21.5h1M55 21.5h1M63 21.5h1M84 21.5h1M3 22.5h3M7 22.5h1M11 22.5h1M13 22.5h1M16 22.5h2M19 22.5h2M23 22.5h1M25 22.5h1M27 22.5h1M30 22.5h1M53 22.5h1M56 22.5h2M61 22.5h1M64 22.5h1M84 22.5h1M2 23.5h2M5 23.5h1M11 23.5h1M13 23.5h2M17 23.5h1M19 23.5h3M23 23.5h1M27 23.5h1M30 23.5h1M34 23.5h1M36 23.5h1M38 23.5h1M55 23.5h2M2 24.5h1M4 24.5h4M11 24.5h1M15 24.5h1M21 24.5h1M23 24.5h1M31 24.5h1M57 24.5h1M83 24.5h1M7 25.5h3M11 25.5h1M15 25.5h1M23 25.5h3M30 25.5h4M36 25.5h1M59 25.5h1M82 25.5h1M0 26.5h1M2 26.5h1M9 26.5h1M17 26.5h2M24 26.5h1M28 26.5h1M32 26.5h1M35 26.5h1M59 26.5h1M80 26.5h1M0 27.5h1M12 27.5h2M18 27.5h5M24 27.5h1M27 27.5h1M32 27.5h1M75 27.5h2M78 27.5h1M7 28.5h1M18 28.5h4M24 28.5h2M27 28.5h2M30 28.5h1M32 28.5h1M65 28.5h1M1 29.5h1M3 29.5h1M13 29.5h1M17 29.5h1M19 29.5h1M22 29.5h2M25 29.5h2M28 29.5h1M63 29.5h1M66 29.5h1M1 30.5h1M4 30.5h1M7 30.5h1M20 30.5h1M25 30.5h5M60 30.5h2M6 31.5h1M25 31.5h1M28 31.5h1M31 31.5h1M59 31.5h1M4 32.5h1M8 32.5h1M24 32.5h1M26 32.5h1M31 32.5h1M34 32.5h1M7 33.5h1M10 33.5h3M25 33.5h2M29 33.5h5M6 34.5h1M8 34.5h1M10 34.5h1M25 34.5h2M29 34.5h6M56 34.5h1M8 35.5h1M10 35.5h2M24 35.5h3M31 35.5h1M33 35.5h4M55 35.5h1M13 36.5h1M23 36.5h3M31 36.5h1M35 36.5h1M54 36.5h1M7 37.5h1M12 37.5h3M23 37.5h3M27 37.5h2M31 37.5h1M35 37.5h1M37 37.5h1M51 37.5h2M7 38.5h1M23 38.5h1M25 38.5h6M34 38.5h1M38 38.5h1M40 38.5h1M48 38.5h2M9 39.5h1M23 39.5h1M25 39.5h3M29 39.5h2M35 39.5h2M38 39.5h1M43 39.5h4M9 40.5h2M19 40.5h1M21 40.5h3M26 40.5h1M21 41.5h3M11 44.5h1M11 45.5h2M16 45.5h2M11 46.5h1M17 49.5h1M12 53.5h1M16 53.5h2M16 56.5h1M9 57.5h1M12 57.5h1M10 58.5h1M17 58.5h2M9 59.5h1M15 59.5h1M18 59.5h1M22 59.5h1M12 60.5h1M18 60.5h1M22 60.5h1M12 61.5h1M17 61.5h4M22 61.5h1"/><path stroke="#2ed6f6" d="M1 0.5h1M3 0.5h1M8 0.5h1M30 0.5h1M34 0.5h1M36 0.5h1M57 0.5h1M59 0.5h1M67 0.5h1M1 1.5h1M4 1.5h1M7 1.5h1M22 1.5h1M24 1.5h2M28 1.5h1M30 1.5h1M32 1.5h2M37 1.5h1M58 1.5h2M67 1.5h1M69 1.5h1M5 2.5h3M21 2.5h1M23 2.5h4M28 2.5h1M30 2.5h2M60 2.5h3M66 2.5h1M69 2.5h1M0 3.5h1M2 3.5h1M21 3.5h1M25 3.5h1M27 3.5h1M31 3.5h1M55 3.5h1M59 3.5h5M65 3.5h2M2 4.5h3M6 4.5h1M28 4.5h1M32 4.5h1M57 4.5h1M59 4.5h1M61 4.5h1M63 4.5h1M65 4.5h1M4 5.5h1M6 5.5h1M22 5.5h1M24 5.5h1M26 5.5h1M28 5.5h1M57 5.5h1M59 5.5h2M62 5.5h4M1 6.5h1M4 6.5h1M7 6.5h1M24 6.5h1M28 6.5h2M56 6.5h1M59 6.5h1M63 6.5h2M66 6.5h1M1 7.5h1M7 7.5h1M10 7.5h2M18 7.5h1M20 7.5h1M24 7.5h1M56 7.5h2M60 7.5h2M64 7.5h1M66 7.5h2M13 8.5h1M15 8.5h2M18 8.5h1M20 8.5h1M22 8.5h1M25 8.5h1M27 8.5h1M30 8.5h1M34 8.5h1M57 8.5h1M60 8.5h1M62 8.5h1M64 8.5h1M66 8.5h2M0 9.5h2M11 9.5h2M16 9.5h1M20 9.5h1M25 9.5h1M27 9.5h1M35 9.5h1M63 9.5h2M66 9.5h2M0 10.5h1M11 10.5h2M15 10.5h3M19 10.5h1M26 10.5h1M29 10.5h1M35 10.5h1M57 10.5h1M59 10.5h1M0 11.5h1M12 11.5h1M16 11.5h5M26 11.5h1M29 11.5h1M35 11.5h1M0 12.5h1M8 12.5h1M10 12.5h1M12 12.5h1M14 12.5h1M16 12.5h1M18 12.5h2M22 12.5h1M26 12.5h1M28 12.5h1M0 13.5h1M8 13.5h1M10 13.5h1M14 13.5h1M16 13.5h1M21 13.5h1M23 13.5h2M26 13.5h3M30 13.5h1M32 13.5h2M36 13.5h1M58 13.5h1M9 14.5h2M14 14.5h3M19 14.5h1M21 14.5h1M25 14.5h2M28 14.5h1M32 14.5h2M35 14.5h1M58 14.5h1M62 14.5h1M2 15.5h1M8 15.5h2M11 15.5h1M13 15.5h2M18 15.5h2M22 15.5h1M24 15.5h3M28 15.5h1M32 15.5h1M35 15.5h1M38 15.5h2M2 16.5h1M8 16.5h3M22 16.5h2M25 16.5h1M29 16.5h1M32 16.5h1M34 16.5h2M37 16.5h1M10 17.5h1M12 17.5h1M14 17.5h1M17 17.5h1M19 17.5h1M22 17.5h1M26 17.5h1M29 17.5h1M32 17.5h1M34 17.5h1M66 17.5h1M10 18.5h5M20 18.5h1M26 18.5h1M35 18.5h1M38 18.5h1M87 18.5h1M4 19.5h1M10 19.5h2M23 19.5h1M35 19.5h3M86 19.5h1M0 20.5h1M2 20.5h1M16 20.5h2M20 20.5h1M23 20.5h1M25 20.5h1M34 20.5h3M38 20.5h1M56 20.5h1M17 21.5h2M25 21.5h1M34 21.5h1M85 21.5h1M15 22.5h1M18 22.5h1M22 22.5h1M33 22.5h1M85 22.5h1M0 23.5h1M33 23.5h1M35 23.5h1M0 24.5h1M20 24.5h1M84 24.5h1M1 25.5h1M20 25.5h1M34 25.5h1M83 25.5h1M1 26.5h1M34 26.5h1M82 26.5h1M1 27.5h1M23 27.5h1M26 27.5h1M80 27.5h1M2 28.5h1M73 28.5h6M2 29.5h1M32 29.5h1M70 29.5h2M30 30.5h1M32 30.5h1M63 30.5h4M1 31.5h1M3 31.5h1M5 31.5h1M30 31.5h1M61 31.5h2M0 32.5h1M2 32.5h1M60 32.5h2M2 33.5h1M59 33.5h1M0 34.5h3M4 34.5h1M28 34.5h1M58 34.5h1M0 35.5h2M4 35.5h1M6 35.5h2M57 35.5h1M0 36.5h2M7 36.5h1M32 36.5h1M56 36.5h1M3 37.5h1M5 37.5h1M8 37.5h1M33 37.5h2M54 37.5h2M0 38.5h1M4 38.5h2M8 38.5h1M24 38.5h1M33 38.5h1M52 38.5h2M5 39.5h1M33 39.5h1M49 39.5h3M4 40.5h2M28 40.5h2M31 40.5h2M34 40.5h11M47 40.5h2M7 41.5h1M26 41.5h1M28 41.5h2M43 41.5h5M21 42.5h2M19 44.5h1M19 45.5h1M15 46.5h1M11 47.5h1M15 47.5h1M18 47.5h1M10 48.5h2M18 48.5h1M18 49.5h1M11 50.5h1M18 50.5h1M18 53.5h1M16 54.5h1M18 54.5h1M16 55.5h1M18 55.5h1M19 56.5h1M21 56.5h1M8 57.5h1M19 57.5h1M22 57.5h1M8 58.5h1M22 58.5h1M8 59.5h1M7 60.5h2M19 60.5h1M23 60.5h1M8 61.5h1M11 61.5h1M21 61.5h1M23 61.5h1"/><path stroke="#2adaf7" d="M2 0.5h1M4 0.5h1M6 0.5h1M11 0.5h1M18 0.5h1M26 0.5h1M28 0.5h1M31 0.5h2M37 0.5h1M55 0.5h1M63 0.5h1M65 0.5h2M69 0.5h1M74 0.5h1M0 1.5h1M6 1.5h1M8 1.5h1M21 1.5h1M23 1.5h1M26 1.5h1M31 1.5h1M36 1.5h1M55 1.5h1M60 1.5h1M63 1.5h2M66 1.5h1M22 2.5h1M33 2.5h1M35 2.5h1M37 2.5h1M55 2.5h2M59 2.5h1M63 2.5h2M67 2.5h1M73 2.5h1M5 3.5h3M22 3.5h3M33 3.5h3M64 3.5h1M67 3.5h1M69 3.5h1M73 3.5h1M0 4.5h1M7 4.5h1M24 4.5h1M27 4.5h1M31 4.5h1M33 4.5h2M55 4.5h1M60 4.5h1M62 4.5h1M64 4.5h1M66 4.5h3M73 4.5h1M2 5.5h1M5 5.5h1M7 5.5h1M23 5.5h1M30 5.5h1M32 5.5h2M55 5.5h2M61 5.5h1M66 5.5h3M2 6.5h1M5 6.5h2M10 6.5h2M18 6.5h1M20 6.5h2M23 6.5h1M26 6.5h1M30 6.5h1M32 6.5h2M57 6.5h1M60 6.5h2M67 6.5h3M2 7.5h2M12 7.5h2M15 7.5h2M19 7.5h1M21 7.5h1M23 7.5h1M27 7.5h1M29 7.5h2M34 7.5h1M41 7.5h1M58 7.5h1M69 7.5h1M0 8.5h1M2 8.5h2M11 8.5h2M14 8.5h1M17 8.5h1M24 8.5h1M26 8.5h1M29 8.5h1M35 8.5h1M55 8.5h2M58 8.5h1M61 8.5h1M65 8.5h1M3 9.5h1M13 9.5h1M17 9.5h2M22 9.5h1M24 9.5h1M26 9.5h1M28 9.5h3M33 9.5h2M56 9.5h1M58 9.5h1M62 9.5h1M65 9.5h1M68 9.5h1M1 10.5h1M3 10.5h1M9 10.5h1M13 10.5h2M18 10.5h1M20 10.5h2M27 10.5h1M33 10.5h1M37 10.5h1M56 10.5h1M58 10.5h1M64 10.5h1M66 10.5h3M3 11.5h1M8 11.5h2M11 11.5h1M13 11.5h3M22 11.5h1M27 11.5h2M36 11.5h4M56 11.5h1M58 11.5h2M64 11.5h1M68 11.5h1M3 12.5h1M9 12.5h1M11 12.5h1M13 12.5h1M15 12.5h1M20 12.5h2M23 12.5h2M27 12.5h1M29 12.5h1M32 12.5h2M36 12.5h1M58 12.5h3M63 12.5h2M9 13.5h1M13 13.5h1M15 13.5h1M19 13.5h2M34 13.5h1M37 13.5h1M53 13.5h1M57 13.5h1M59 13.5h1M62 13.5h2M65 13.5h1M13 14.5h1M20 14.5h1M34 14.5h1M38 14.5h1M54 14.5h2M57 14.5h1M59 14.5h1M63 14.5h1M65 14.5h1M4 15.5h1M6 15.5h1M20 15.5h2M27 15.5h1M29 15.5h3M33 15.5h2M37 15.5h1M40 15.5h1M54 15.5h2M58 15.5h1M62 15.5h1M3 16.5h1M6 16.5h2M14 16.5h1M18 16.5h1M20 16.5h1M26 16.5h3M33 16.5h1M38 16.5h3M54 16.5h2M58 16.5h1M1 17.5h2M5 17.5h5M11 17.5h1M20 17.5h2M23 17.5h3M38 17.5h1M58 17.5h1M61 17.5h1M1 18.5h2M4 18.5h4M9 18.5h1M15 18.5h1M17 18.5h1M19 18.5h1M21 18.5h1M23 18.5h1M34 18.5h1M41 18.5h1M2 19.5h1M5 19.5h5M12 19.5h3M17 19.5h1M20 19.5h3M26 19.5h1M34 19.5h1M39 19.5h3M56 19.5h3M3 20.5h3M8 20.5h1M11 20.5h2M18 20.5h1M21 20.5h2M33 20.5h1M39 20.5h2M53 20.5h1M57 20.5h1M85 20.5h1M0 21.5h6M11 21.5h1M15 21.5h2M20 21.5h5M27 21.5h1M33 21.5h1M36 21.5h1M38 21.5h1M53 21.5h1M56 21.5h2M0 22.5h3M21 22.5h1M24 22.5h1M34 22.5h1M36 22.5h3M55 22.5h1M59 22.5h1M1 23.5h1M15 23.5h1M18 23.5h1M22 23.5h1M24 23.5h1M37 23.5h1M57 23.5h1M59 23.5h1M84 23.5h1M1 24.5h1M3 24.5h1M17 24.5h3M24 24.5h1M30 24.5h1M33 24.5h4M56 24.5h1M59 24.5h1M0 25.5h1M3 25.5h2M17 25.5h1M19 25.5h1M35 25.5h1M56 25.5h1M4 26.5h1M15 26.5h1M19 26.5h2M23 26.5h1M25 26.5h2M81 26.5h1M2 27.5h1M4 27.5h1M15 27.5h1M17 27.5h1M25 27.5h1M28 27.5h1M34 27.5h1M79 27.5h1M0 28.5h2M4 28.5h2M13 28.5h1M17 28.5h1M22 28.5h2M26 28.5h1M69 28.5h1M0 29.5h1M4 29.5h2M7 29.5h1M20 29.5h1M27 29.5h1M30 29.5h1M64 29.5h2M68 29.5h1M0 30.5h1M2 30.5h2M5 30.5h1M62 30.5h1M67 30.5h2M0 31.5h1M2 31.5h1M29 31.5h1M32 31.5h1M60 31.5h1M3 32.5h1M28 32.5h3M32 32.5h1M59 32.5h1M3 33.5h2M28 33.5h1M34 33.5h1M58 33.5h1M3 34.5h1M7 34.5h1M57 34.5h1M3 35.5h1M28 35.5h3M32 35.5h1M56 35.5h1M2 36.5h2M8 36.5h2M26 36.5h1M28 36.5h3M33 36.5h2M36 36.5h1M55 36.5h1M2 37.5h1M9 37.5h1M26 37.5h1M29 37.5h2M32 37.5h1M36 37.5h1M39 37.5h1M53 37.5h1M9 38.5h1M31 38.5h2M35 38.5h3M50 38.5h2M6 39.5h3M19 39.5h1M22 39.5h1M28 39.5h1M32 39.5h1M34 39.5h1M37 39.5h1M39 39.5h4M47 39.5h2M6 40.5h3M27 40.5h1M30 40.5h1M45 40.5h2M10 41.5h1M27 41.5h1M11 43.5h1M10 44.5h1M16 46.5h2M10 47.5h1M16 47.5h2M16 48.5h2M11 49.5h1M18 51.5h1M18 52.5h1M17 54.5h1M17 55.5h1M19 55.5h1M18 56.5h1M11 57.5h1M18 57.5h1M21 57.5h1M7 58.5h1M9 58.5h1M11 58.5h2M20 58.5h2M7 59.5h1M10 59.5h3M17 59.5h1M20 59.5h1M9 60.5h3M17 60.5h1M20 60.5h1M7 61.5h1M10 61.5h1"/><path stroke="#35cff3" d="M5 0.5h1M24 0.5h1M27 0.5h1M3 2.5h1M29 3.5h1M58 3.5h1M1 4.5h1M29 4.5h1M58 4.5h1M25 6.5h1M25 11.5h1M17 12.5h1M25 12.5h1M35 12.5h1M17 13.5h2M35 13.5h1M11 14.5h2M17 14.5h1M12 15.5h1M17 15.5h1M12 16.5h1M15 16.5h2M16 17.5h1M16 18.5h1M88 18.5h1M88 19.5h1M87 20.5h2M87 21.5h2M87 22.5h2M86 23.5h3M86 24.5h3M85 25.5h3M84 26.5h4M83 27.5h4M81 28.5h5M75 29.5h9M73 30.5h9M70 31.5h9M64 32.5h1M68 32.5h6M63 33.5h10M5 34.5h1M61 34.5h10M5 35.5h1M60 35.5h10M59 36.5h9M58 37.5h6M3 38.5h1M57 38.5h6M0 39.5h1M2 39.5h2M55 39.5h7M0 40.5h4M53 40.5h8M0 41.5h4M51 41.5h9M2 42.5h9M31 42.5h4M50 42.5h9M3 43.5h7M23 43.5h22M48 43.5h10M8 44.5h2M21 44.5h36M7 45.5h2M20 45.5h35M7 46.5h2M20 46.5h3M28 46.5h4M35 46.5h18M7 47.5h2M20 47.5h2M37 47.5h15M8 48.5h2M19 48.5h3M40 48.5h11M8 49.5h2M19 49.5h2M44 49.5h6M9 50.5h2M20 50.5h2M46 50.5h3M9 51.5h2M20 51.5h2M10 52.5h2M20 52.5h2M10 53.5h2M19 53.5h6M10 54.5h3M20 54.5h6M7 55.5h8M22 55.5h5M4 56.5h5M10 56.5h3M23 56.5h4M3 57.5h5M24 57.5h3M3 58.5h4M24 58.5h4M2 59.5h3M6 59.5h1M24 59.5h4M1 60.5h4M25 60.5h4M1 61.5h2M4 61.5h2M25 61.5h4"/><path stroke="#32d2f4" d="M7 0.5h1M25 0.5h1M29 0.5h1M33 0.5h1M61 0.5h2M2 1.5h2M5 1.5h1M27 1.5h1M29 1.5h1M57 1.5h1M61 1.5h2M65 1.5h1M0 2.5h3M4 2.5h1M27 2.5h1M29 2.5h1M32 2.5h1M57 2.5h2M65 2.5h1M1 3.5h1M3 3.5h2M26 3.5h1M28 3.5h1M30 3.5h1M32 3.5h1M57 3.5h1M25 4.5h2M30 4.5h1M1 5.5h1M25 5.5h1M29 5.5h1M58 5.5h1M22 6.5h1M58 6.5h1M62 6.5h1M22 7.5h1M25 7.5h1M28 7.5h1M59 7.5h1M62 7.5h2M1 8.5h1M10 8.5h1M19 8.5h1M28 8.5h1M59 8.5h1M63 8.5h1M10 9.5h1M15 9.5h1M19 9.5h1M57 9.5h1M59 9.5h2M10 10.5h1M25 10.5h1M60 10.5h1M10 11.5h1M60 11.5h1M11 13.5h2M22 13.5h1M25 13.5h1M8 14.5h1M18 14.5h1M22 14.5h3M27 14.5h1M30 14.5h1M36 14.5h1M10 15.5h1M15 15.5h2M23 15.5h1M36 15.5h1M13 16.5h1M17 16.5h1M19 16.5h1M24 16.5h1M36 16.5h1M13 17.5h1M15 17.5h1M35 17.5h3M22 18.5h1M36 18.5h2M16 19.5h1M38 19.5h1M87 19.5h1M86 20.5h1M35 21.5h1M86 21.5h1M35 22.5h1M86 22.5h1M85 23.5h1M85 24.5h1M84 25.5h1M83 26.5h1M81 27.5h2M79 28.5h2M69 29.5h1M72 29.5h3M69 30.5h4M63 31.5h7M1 32.5h1M5 32.5h1M62 32.5h2M65 32.5h3M0 33.5h2M5 33.5h1M60 33.5h3M59 34.5h2M2 35.5h1M58 35.5h2M4 36.5h3M57 36.5h2M0 37.5h2M4 37.5h1M6 37.5h1M56 37.5h2M1 38.5h2M6 38.5h1M54 38.5h3M1 39.5h1M4 39.5h1M24 39.5h1M31 39.5h1M52 39.5h3M24 40.5h1M33 40.5h1M49 40.5h4M4 41.5h3M8 41.5h2M24 41.5h1M30 41.5h13M48 41.5h3M11 42.5h1M23 42.5h8M35 42.5h15M10 43.5h1M20 43.5h3M45 43.5h3M20 44.5h1M9 45.5h1M9 46.5h1M19 46.5h1M9 47.5h1M19 47.5h1M10 49.5h1M19 50.5h1M11 51.5h1M19 51.5h1M19 52.5h1M13 54.5h3M19 54.5h1M15 55.5h1M20 55.5h2M9 56.5h1M13 56.5h1M20 56.5h1M22 56.5h1M20 57.5h1M23 57.5h1M19 58.5h1M23 58.5h1M5 59.5h1M19 59.5h1M21 59.5h1M23 59.5h1M5 60.5h2M21 60.5h1M24 60.5h1M3 61.5h1M6 61.5h1M9 61.5h1M24 61.5h1"/><path stroke="#10eefc" d="M10 0.5h1M14 0.5h1M21 0.5h1M40 0.5h1M54 0.5h1M56 0.5h1M70 0.5h1M72 0.5h2M76 0.5h1M80 0.5h1M10 1.5h1M13 1.5h1M16 1.5h1M20 1.5h1M53 1.5h2M68 1.5h1M74 1.5h1M79 1.5h2M11 2.5h1M13 2.5h1M16 2.5h3M68 2.5h1M72 2.5h1M11 3.5h1M13 3.5h2M16 3.5h3M38 3.5h2M71 3.5h2M79 3.5h1M9 4.5h3M13 4.5h1M17 4.5h2M20 4.5h1M36 4.5h2M54 4.5h1M72 4.5h1M81 4.5h1M8 5.5h1M13 5.5h1M17 5.5h1M19 5.5h1M36 5.5h1M42 5.5h1M54 5.5h1M74 5.5h1M78 5.5h1M81 5.5h1M31 6.5h1M39 6.5h1M41 6.5h2M54 6.5h1M72 6.5h2M77 6.5h1M8 7.5h2M31 7.5h1M36 7.5h5M68 7.5h1M73 7.5h1M77 7.5h1M81 7.5h1M4 8.5h1M7 8.5h2M31 8.5h2M36 8.5h1M38 8.5h1M40 8.5h1M54 8.5h1M71 8.5h1M83 8.5h1M8 9.5h1M36 9.5h1M38 9.5h2M41 9.5h1M45 9.5h1M54 9.5h1M71 9.5h1M85 9.5h1M32 10.5h1M34 10.5h1M41 10.5h1M54 10.5h1M61 10.5h1M69 10.5h1M71 10.5h1M84 10.5h2M2 11.5h1M34 11.5h1M40 11.5h1M43 11.5h1M54 11.5h1M61 11.5h3M65 11.5h2M69 11.5h1M83 11.5h1M2 12.5h1M4 12.5h1M31 12.5h1M38 12.5h1M51 12.5h1M56 12.5h1M61 12.5h1M65 12.5h1M31 13.5h1M41 13.5h4M51 13.5h1M54 13.5h1M61 13.5h1M3 14.5h1M41 14.5h1M45 14.5h1M51 14.5h2M61 14.5h1M68 14.5h1M5 15.5h1M44 15.5h1M51 15.5h1M53 15.5h1M61 15.5h1M66 15.5h2M69 15.5h1M1 16.5h1M53 16.5h1M57 16.5h1M59 16.5h2M64 16.5h2M67 16.5h1M31 17.5h1M41 17.5h1M49 17.5h1M51 17.5h1M53 17.5h1M57 17.5h1M63 17.5h1M65 17.5h1M67 17.5h3M0 18.5h1M3 18.5h1M18 18.5h1M27 18.5h2M31 18.5h1M39 18.5h1M51 18.5h3M58 18.5h1M63 18.5h1M65 18.5h1M67 18.5h1M69 18.5h1M18 19.5h1M29 19.5h1M31 19.5h2M50 19.5h1M55 19.5h1M62 19.5h3M66 19.5h1M69 19.5h1M29 20.5h1M41 20.5h1M50 20.5h2M59 20.5h1M64 20.5h2M84 20.5h1M6 21.5h1M10 21.5h1M12 21.5h1M28 21.5h2M40 21.5h1M50 21.5h1M54 21.5h1M58 21.5h2M61 21.5h1M64 21.5h2M6 22.5h1M8 22.5h1M14 22.5h1M26 22.5h1M28 22.5h1M31 22.5h2M54 22.5h1M58 22.5h1M63 22.5h1M4 23.5h1M6 23.5h3M16 23.5h1M26 23.5h1M28 23.5h1M31 23.5h2M40 23.5h1M53 23.5h1M61 23.5h5M83 23.5h1M8 24.5h2M13 24.5h2M16 24.5h1M22 24.5h1M25 24.5h1M27 24.5h1M32 24.5h1M37 24.5h2M55 24.5h1M58 24.5h1M61 24.5h4M2 25.5h1M5 25.5h2M10 25.5h1M12 25.5h1M16 25.5h1M18 25.5h1M21 25.5h2M26 25.5h4M38 25.5h1M57 25.5h2M61 25.5h1M63 25.5h1M81 25.5h1M3 26.5h1M6 26.5h3M10 26.5h4M16 26.5h1M21 26.5h2M27 26.5h1M29 26.5h3M36 26.5h1M56 26.5h1M3 27.5h1M5 27.5h4M11 27.5h1M14 27.5h1M16 27.5h1M29 27.5h3M35 27.5h2M59 27.5h1M77 27.5h1M3 28.5h1M6 28.5h1M15 28.5h1M29 28.5h1M31 28.5h1M34 28.5h3M6 29.5h1M10 29.5h2M14 29.5h1M16 29.5h1M18 29.5h1M21 29.5h1M29 29.5h1M31 29.5h1M33 29.5h1M61 29.5h2M6 30.5h1M13 30.5h2M16 30.5h4M22 30.5h3M31 30.5h1M33 30.5h1M4 31.5h1M7 31.5h2M10 31.5h2M14 31.5h1M17 31.5h2M20 31.5h1M23 31.5h2M26 31.5h2M33 31.5h1M6 32.5h2M10 32.5h3M15 32.5h1M18 32.5h1M20 32.5h1M25 32.5h1M27 32.5h1M33 32.5h1M35 32.5h1M37 32.5h1M58 32.5h1M6 33.5h1M8 33.5h1M24 33.5h1M27 33.5h1M35 33.5h1M37 33.5h1M57 33.5h1M11 34.5h3M24 34.5h1M27 34.5h1M35 34.5h2M9 35.5h1M12 35.5h2M23 35.5h1M27 35.5h1M54 35.5h1M10 36.5h3M14 36.5h2M27 36.5h1M53 36.5h1M10 37.5h2M15 37.5h1M38 37.5h1M49 37.5h2M10 38.5h1M12 38.5h3M19 38.5h1M39 38.5h1M41 38.5h1M46 38.5h2M10 39.5h2M20 39.5h2M11 40.5h1M25 40.5h1M11 41.5h1M18 41.5h1M25 41.5h1M13 42.5h1M18 42.5h1M20 42.5h1M12 43.5h2M19 43.5h1M12 44.5h2M10 45.5h1M13 45.5h1M10 46.5h1M12 46.5h1M12 47.5h1M12 48.5h1M12 49.5h1M12 50.5h1M17 50.5h1M12 51.5h1M15 51.5h1M12 52.5h1M15 52.5h2M14 53.5h1M14 56.5h1M17 56.5h1M10 57.5h1M16 57.5h2M15 58.5h1M15 60.5h1M13 61.5h1M15 61.5h2"/><path stroke="#00faff" d="M12 0.5h2M15 0.5h1M19 0.5h1M41 0.5h1M43 0.5h1M51 0.5h2M71 0.5h1M75 0.5h1M77 0.5h3M81 0.5h1M12 1.5h1M14 1.5h2M19 1.5h1M40 1.5h2M71 1.5h2M75 1.5h4M81 1.5h1M10 2.5h1M12 2.5h1M14 2.5h2M19 2.5h2M40 2.5h2M53 2.5h1M71 2.5h1M74 2.5h5M80 2.5h2M10 3.5h1M12 3.5h1M15 3.5h1M19 3.5h2M36 3.5h1M40 3.5h2M43 3.5h2M53 3.5h1M74 3.5h1M76 3.5h3M80 3.5h3M12 4.5h1M15 4.5h2M19 4.5h1M38 4.5h8M76 4.5h2M79 4.5h2M82 4.5h1M9 5.5h1M15 5.5h2M38 5.5h4M43 5.5h3M75 5.5h3M80 5.5h1M82 5.5h1M86 5.5h1M8 6.5h2M38 6.5h1M40 6.5h1M45 6.5h1M74 6.5h3M78 6.5h1M80 6.5h1M82 6.5h1M86 6.5h1M6 7.5h1M42 7.5h1M44 7.5h2M53 7.5h1M71 7.5h2M74 7.5h3M80 7.5h1M82 7.5h2M86 7.5h1M88 7.5h1M39 8.5h1M42 8.5h4M53 8.5h1M73 8.5h1M77 8.5h1M79 8.5h4M84 8.5h3M88 8.5h1M4 9.5h1M32 9.5h1M40 9.5h1M42 9.5h3M53 9.5h1M79 9.5h4M84 9.5h1M86 9.5h1M88 9.5h1M4 10.5h1M40 10.5h1M42 10.5h4M47 10.5h1M53 10.5h1M79 10.5h4M86 10.5h3M4 11.5h1M42 11.5h1M44 11.5h2M47 11.5h1M51 11.5h1M53 11.5h1M71 11.5h2M79 11.5h4M84 11.5h5M42 12.5h1M44 12.5h2M47 12.5h1M50 12.5h1M52 12.5h1M66 12.5h2M69 12.5h1M71 12.5h2M78 12.5h7M86 12.5h1M88 12.5h1M7 13.5h1M45 13.5h6M52 13.5h1M66 13.5h2M69 13.5h1M71 13.5h2M76 13.5h1M78 13.5h1M80 13.5h9M5 14.5h1M46 14.5h5M64 14.5h1M66 14.5h2M69 14.5h4M81 14.5h1M83 14.5h1M86 14.5h3M1 15.5h1M41 15.5h3M45 15.5h6M64 15.5h1M68 15.5h1M70 15.5h2M81 15.5h1M86 15.5h2M41 16.5h4M46 16.5h1M49 16.5h2M68 16.5h1M70 16.5h2M86 16.5h2M30 17.5h1M42 17.5h3M46 17.5h1M50 17.5h1M59 17.5h2M70 17.5h2M86 17.5h1M88 17.5h1M30 18.5h1M42 18.5h1M49 18.5h2M70 18.5h1M28 19.5h1M30 19.5h1M49 19.5h1M51 19.5h2M59 19.5h3M28 20.5h1M52 20.5h1M60 20.5h3M66 20.5h1M68 20.5h2M9 21.5h1M41 21.5h1M51 21.5h2M60 21.5h1M62 21.5h1M66 21.5h4M83 21.5h1M9 22.5h2M12 22.5h1M29 22.5h1M39 22.5h3M50 22.5h3M60 22.5h1M62 22.5h1M65 22.5h4M83 22.5h1M9 23.5h2M12 23.5h1M25 23.5h1M29 23.5h1M39 23.5h1M52 23.5h1M54 23.5h1M58 23.5h1M60 23.5h1M66 23.5h1M10 24.5h1M12 24.5h1M26 24.5h1M28 24.5h2M39 24.5h2M53 24.5h2M60 24.5h1M65 24.5h1M82 24.5h1M13 25.5h2M37 25.5h1M39 25.5h1M60 25.5h1M62 25.5h1M64 25.5h1M80 25.5h1M5 26.5h1M14 26.5h1M33 26.5h1M37 26.5h3M57 26.5h2M60 26.5h5M78 26.5h2M9 27.5h2M33 27.5h1M37 27.5h1M56 27.5h2M60 27.5h3M8 28.5h5M14 28.5h1M16 28.5h1M33 28.5h1M59 28.5h4M70 28.5h1M8 29.5h2M12 29.5h1M15 29.5h1M24 29.5h1M34 29.5h3M59 29.5h2M8 30.5h5M15 30.5h1M21 30.5h1M34 30.5h3M59 30.5h1M9 31.5h1M12 31.5h2M15 31.5h2M19 31.5h1M22 31.5h1M34 31.5h4M58 31.5h1M9 32.5h1M13 32.5h2M17 32.5h1M22 32.5h2M57 32.5h1M9 33.5h1M13 33.5h6M20 33.5h1M22 33.5h2M36 33.5h1M39 33.5h1M56 33.5h1M9 34.5h1M14 34.5h4M20 34.5h1M23 34.5h1M37 34.5h1M40 34.5h1M55 34.5h1M14 35.5h4M20 35.5h1M22 35.5h1M37 35.5h2M40 35.5h1M53 35.5h1M17 36.5h3M37 36.5h4M51 36.5h2M17 37.5h3M40 37.5h1M44 37.5h1M47 37.5h2M11 38.5h1M15 38.5h1M17 38.5h2M22 38.5h1M43 38.5h3M12 39.5h3M17 39.5h2M12 40.5h2M18 40.5h1M20 40.5h1M12 41.5h2M19 41.5h2M12 42.5h1M14 42.5h3M19 42.5h1M14 43.5h3M18 43.5h1M14 44.5h5M14 45.5h1M18 45.5h1M13 46.5h2M18 46.5h1M14 47.5h1M13 48.5h1M15 48.5h1M13 49.5h1M15 49.5h2M13 50.5h4M13 51.5h2M16 51.5h2M13 52.5h2M17 52.5h1M13 53.5h1M15 53.5h1M13 57.5h3M13 58.5h2M16 58.5h1M13 59.5h2M16 59.5h1M13 60.5h2M16 60.5h1M14 61.5h1"/><path stroke="#00fcff" d="M42 0.5h1M44 0.5h1M46 0.5h1M49 0.5h2M82 0.5h2M86 0.5h3M44 1.5h2M47 1.5h4M52 1.5h1M82 1.5h3M86 1.5h3M45 2.5h4M50 2.5h3M83 2.5h6M46 3.5h2M50 3.5h1M52 3.5h1M83 3.5h6M52 4.5h1M83 4.5h1M85 4.5h1M87 4.5h2M51 5.5h2M83 5.5h3M87 5.5h2M46 6.5h2M51 6.5h2M79 6.5h1M83 6.5h2M87 6.5h1M46 7.5h2M51 7.5h2M85 7.5h1M87 7.5h1M5 8.5h1M46 8.5h2M51 8.5h1M72 8.5h1M74 8.5h3M78 8.5h1M87 8.5h1M7 9.5h1M46 9.5h2M50 9.5h2M72 9.5h2M75 9.5h2M78 9.5h1M46 10.5h1M49 10.5h2M52 10.5h1M73 10.5h1M76 10.5h1M78 10.5h1M48 11.5h2M73 11.5h1M75 11.5h2M7 12.5h1M73 12.5h1M75 12.5h1M77 12.5h1M5 13.5h2M75 13.5h1M77 13.5h1M75 14.5h1M77 14.5h3M73 15.5h1M75 15.5h6M82 15.5h2M85 15.5h1M72 16.5h4M81 16.5h5M45 17.5h1M48 17.5h1M72 17.5h2M84 17.5h1M44 18.5h3M48 18.5h1M72 18.5h2M84 18.5h1M42 19.5h1M45 19.5h1M48 19.5h1M72 19.5h1M84 19.5h1M42 20.5h1M45 20.5h1M47 20.5h3M70 20.5h2M42 21.5h1M44 21.5h1M47 21.5h3M71 21.5h1M82 21.5h1M42 22.5h1M48 22.5h2M69 22.5h1M82 22.5h1M49 23.5h1M68 23.5h3M50 24.5h3M68 24.5h1M81 24.5h1M40 25.5h1M53 25.5h1M66 25.5h3M79 25.5h1M40 26.5h1M53 26.5h2M66 26.5h3M73 26.5h1M77 26.5h1M55 27.5h1M65 27.5h4M73 27.5h2M38 28.5h2M55 28.5h2M63 28.5h2M66 28.5h3M72 28.5h1M37 29.5h3M55 29.5h2M39 30.5h2M55 30.5h2M39 31.5h2M55 31.5h2M21 32.5h1M40 32.5h1M55 32.5h2M21 33.5h1M41 33.5h1M54 33.5h1M19 34.5h1M21 34.5h1M41 34.5h1M53 34.5h1M41 35.5h3M51 35.5h2M20 36.5h1M43 36.5h1M46 36.5h3M22 37.5h1M41 37.5h1M42 38.5h1M16 39.5h1M14 41.5h1"/><path stroke="#00fdff" d="M45 0.5h1M84 0.5h1M46 1.5h1M85 1.5h1M49 2.5h1M48 3.5h1M51 3.5h1M47 4.5h1M84 4.5h1M49 5.5h1M49 6.5h1M50 7.5h1M50 8.5h1M49 9.5h1M75 10.5h1M74 13.5h1M74 17.5h1M83 17.5h1M46 19.5h1M46 20.5h1M46 21.5h1M70 21.5h1M43 22.5h1M46 22.5h2M70 22.5h1M81 23.5h1M41 24.5h1M69 24.5h1M80 24.5h1M76 26.5h1M40 27.5h1M72 27.5h1M71 28.5h1M67 29.5h1M49 35.5h2M45 36.5h1M43 37.5h1"/><path stroke="#00fbff" d="M47 0.5h2M42 1.5h2M51 1.5h1M42 2.5h3M82 2.5h1M42 3.5h1M45 3.5h1M46 4.5h1M53 4.5h1M86 4.5h1M46 5.5h1M53 5.5h1M79 5.5h1M43 6.5h2M53 6.5h1M85 6.5h1M88 6.5h1M43 7.5h1M78 7.5h2M84 7.5h1M52 8.5h1M52 9.5h1M77 9.5h1M87 9.5h1M51 10.5h1M72 10.5h1M77 10.5h1M46 11.5h1M50 11.5h1M52 11.5h1M77 11.5h2M46 12.5h1M48 12.5h2M76 12.5h1M85 12.5h1M87 12.5h1M73 13.5h1M79 13.5h1M73 14.5h2M76 14.5h1M80 14.5h1M82 14.5h1M84 14.5h2M72 15.5h1M74 15.5h1M84 15.5h1M88 15.5h1M45 16.5h1M47 16.5h2M88 16.5h1M47 17.5h1M85 17.5h1M87 17.5h1M47 18.5h1M60 18.5h1M71 18.5h1M85 18.5h2M47 19.5h1M70 19.5h2M85 19.5h1M41 23.5h1M50 23.5h2M67 23.5h1M82 23.5h1M66 24.5h2M54 25.5h2M65 25.5h1M55 26.5h1M65 26.5h1M38 27.5h2M58 27.5h1M63 27.5h2M37 28.5h1M57 28.5h2M57 29.5h2M37 30.5h2M57 30.5h2M21 31.5h1M38 31.5h1M57 31.5h1M16 32.5h1M19 32.5h1M36 32.5h1M38 32.5h2M19 33.5h1M38 33.5h1M40 33.5h1M55 33.5h1M18 34.5h1M22 34.5h1M38 34.5h2M54 34.5h1M18 35.5h2M21 35.5h1M39 35.5h1M16 36.5h1M22 36.5h1M41 36.5h1M49 36.5h2M16 37.5h1M45 37.5h2M16 38.5h1M20 38.5h1M17 40.5h1M16 41.5h2M17 42.5h1M17 43.5h1M15 45.5h1M13 47.5h1M14 48.5h1M14 49.5h1M15 56.5h1"/><path stroke="#00feff" d="M85 0.5h1M49 3.5h1M48 4.5h4M47 5.5h2M50 5.5h1M48 6.5h1M50 6.5h1M49 7.5h1M6 8.5h1M49 8.5h1M48 10.5h1M5 12.5h1M76 16.5h5M75 17.5h1M81 17.5h1M43 18.5h1M74 18.5h1M83 18.5h1M44 19.5h1M73 19.5h1M44 20.5h1M72 20.5h1M45 21.5h1M72 21.5h1M44 22.5h2M71 22.5h1M42 23.5h3M46 23.5h3M71 23.5h2M49 24.5h1M70 24.5h3M41 25.5h1M50 25.5h3M69 25.5h5M41 26.5h1M52 26.5h1M69 26.5h1M71 26.5h2M74 26.5h2M41 27.5h1M53 27.5h2M40 28.5h2M54 28.5h1M40 29.5h2M54 29.5h1M54 30.5h1M54 31.5h1M41 32.5h1M54 32.5h1M42 33.5h1M53 33.5h1M42 34.5h2M52 34.5h1M44 35.5h3M48 35.5h1M42 36.5h1M20 37.5h1M14 40.5h1M16 40.5h1"/><path stroke="#46eeab" d="M48 7.5h1M45 26.5h1M44 28.5h1M44 30.5h1M45 32.5h1"/><path stroke="#fff600" d="M48 8.5h1M15 40.5h1"/><path stroke="#3df0c6" d="M5 9.5h1M74 19.5h1M82 20.5h1M73 21.5h1M73 22.5h1M73 23.5h1M45 24.5h3M79 24.5h1M69 27.5h1M53 29.5h1M53 30.5h1M44 34.5h1M46 34.5h1M48 34.5h1M50 34.5h1M15 39.5h1M15 41.5h1"/><path stroke="#56ee48" d="M6 9.5h1M43 20.5h1M42 24.5h1"/><path stroke="#52ec55" d="M48 9.5h1M75 22.5h1M46 26.5h1M51 30.5h1M49 31.5h1"/><path stroke="#00ffff" d="M74 9.5h1M76 17.5h2M82 17.5h1M83 19.5h1M83 20.5h1M43 21.5h1M72 22.5h1M45 23.5h1M76 25.5h3M70 26.5h1M41 30.5h1M41 31.5h1M53 32.5h1M49 34.5h1"/><path stroke="#4feb62" d="M5 10.5h1M76 19.5h1M80 19.5h1M75 20.5h1M80 22.5h1M49 27.5h1M50 30.5h1M47 32.5h1"/><path stroke="#bb0000" d="M6 10.5h1M79 20.5h1"/><path stroke="#3ef0c1" d="M7 10.5h1M81 22.5h1M74 24.5h2M49 25.5h1M43 26.5h1M51 27.5h1M52 28.5h1M42 29.5h1M42 30.5h1"/><path stroke="#42efb6" d="M74 10.5h1M77 18.5h1M74 21.5h1M74 22.5h1M46 25.5h1M51 29.5h1M43 30.5h1M44 32.5h1M52 33.5h1"/><path stroke="#44eeb1" d="M5 11.5h1M48 24.5h1M47 25.5h1M44 27.5h1M50 28.5h1M46 32.5h1"/><path stroke="#ff6100" d="M6 11.5h1"/><path stroke="#30f3d3" d="M7 11.5h1M80 17.5h1M75 18.5h1M73 20.5h1M43 24.5h2M73 24.5h1M74 25.5h2M51 26.5h1M52 27.5h1M53 28.5h1M53 31.5h1M42 32.5h1M43 33.5h1M47 35.5h1"/><path stroke="#49ed92" d="M74 11.5h1M44 29.5h1M48 32.5h2M52 32.5h1"/><path stroke="#45eeae" d="M6 12.5h1M78 18.5h1M50 29.5h1M52 31.5h1"/><path stroke="#3fefbe" d="M74 12.5h1M79 17.5h1M76 18.5h1M81 18.5h1M82 19.5h1M74 20.5h1M44 25.5h1M43 27.5h1M47 34.5h1M51 34.5h1M21 36.5h1M21 38.5h1"/><path stroke="#3ef0c3" d="M78 17.5h1M43 25.5h1M50 26.5h1M71 27.5h1M42 28.5h1M42 31.5h1M43 32.5h1M45 34.5h1"/><path stroke="#fcfa00" d="M59 18.5h1M21 37.5h1"/><path stroke="#57ee46" d="M79 18.5h1"/><path stroke="#41efb9" d="M80 18.5h1M75 19.5h1M81 21.5h1M77 24.5h1M44 26.5h1M49 26.5h1M42 27.5h1M50 27.5h1M43 28.5h1M51 28.5h1M52 29.5h1M45 33.5h1"/><path stroke="#52ec53" d="M82 18.5h1M78 23.5h1M45 27.5h1M45 30.5h1M47 31.5h2"/><path stroke="#55ee4b" d="M43 19.5h1M45 28.5h1M50 32.5h1"/><path stroke="#58ef43" d="M77 19.5h1M46 29.5h2"/><path stroke="#fafb00" d="M78 19.5h1M46 28.5h2"/><path stroke="#ff7600" d="M79 19.5h1"/><path stroke="#40efbb" d="M81 19.5h1M81 20.5h1M74 23.5h1M80 23.5h1M76 24.5h1M78 24.5h1M43 31.5h1M44 33.5h1M46 33.5h1M49 33.5h1"/><path stroke="#fbfb00" d="M76 20.5h1M76 22.5h1M42 25.5h1"/><path stroke="#ffaf00" d="M77 20.5h1"/><path stroke="#ff8600" d="M78 20.5h1"/><path stroke="#53ed50" d="M80 20.5h1M80 21.5h1M77 23.5h1M47 26.5h1M49 30.5h1M50 31.5h1M44 36.5h1"/><path stroke="#54ed4e" d="M75 21.5h1M70 27.5h1M45 29.5h1M49 29.5h1M46 30.5h2"/><path stroke="#ffcd00" d="M76 21.5h1M77 22.5h1"/><path stroke="#ff6600" d="M77 21.5h2"/><path stroke="#880000" d="M79 21.5h1"/><path stroke="#ffd900" d="M78 22.5h1M48 29.5h1M51 33.5h1"/><path stroke="#810000" d="M79 22.5h1"/><path stroke="#43efb3" d="M75 23.5h1M43 29.5h1M52 30.5h1M44 31.5h1M47 33.5h2"/><path stroke="#51eb58" d="M76 23.5h1M45 31.5h2M50 33.5h1"/><path stroke="#e5fa08" d="M79 23.5h1"/><path stroke="#59f03e" d="M45 25.5h1"/><path stroke="#930000" d="M48 25.5h1"/><path stroke="#38cbf2" d="M88 25.5h1M88 26.5h1M87 27.5h2M86 28.5h3M84 29.5h5M82 30.5h7M79 31.5h10M74 32.5h15M73 33.5h16M71 34.5h18M70 35.5h19M68 36.5h21M64 37.5h25M63 38.5h26M62 39.5h27M61 40.5h28M60 41.5h29M0 42.5h2M59 42.5h30M0 43.5h3M58 43.5h31M0 44.5h8M57 44.5h32M0 45.5h7M55 45.5h34M0 46.5h7M23 46.5h5M32 46.5h3M53 46.5h36M0 47.5h7M22 47.5h15M52 47.5h37M0 48.5h8M22 48.5h18M51 48.5h38M0 49.5h8M21 49.5h23M50 49.5h39M0 50.5h9M22 50.5h24M49 50.5h40M0 51.5h9M22 51.5h58M0 52.5h10M22 52.5h56M0 53.5h10M25 53.5h46M73 53.5h4M0 54.5h10M26 54.5h42M0 55.5h7M27 55.5h39M0 56.5h4M27 56.5h37M0 57.5h3M27 57.5h34M0 58.5h3M28 58.5h31M0 59.5h2M28 59.5h30M0 60.5h1M29 60.5h28M0 61.5h1M29 61.5h27"/><path stroke="#65f138" d="M42 26.5h1M46 27.5h1"/><path stroke="#ff6d00" d="M48 26.5h1"/><path stroke="#a5f620" d="M47 27.5h1"/><path stroke="#ff3900" d="M48 27.5h1"/><path stroke="#ff5f00" d="M48 28.5h1"/><path stroke="#ff9e00" d="M49 28.5h1"/><path stroke="#58ef41" d="M48 30.5h1M42 37.5h1"/><path stroke="#ffbf00" d="M51 31.5h1"/><path stroke="#f80000" d="M51 32.5h1"/><path stroke="#ffffff" d="M80 51.5h9M78 52.5h11M71 53.5h2M77 53.5h12M68 54.5h21M66 55.5h23M64 56.5h25M61 57.5h28M59 58.5h30M58 59.5h31M57 60.5h32M56 61.5h33"/></g><polygon points="830.0,612.0 839.0,612.0 839.0,625.0 853.0,1072.0 853.0,1085.0 830.0,1085.0" fill="#fff"/><polygon points="830.0,612.0 1360.0,612.0 1360.0,619.0 839.0,625.0" fill="#fff"/><polygon points="1353.5,612.0 1360.0,612.0 1360.0,1085.0 1343.0,1085.0 1344.5,1000.0" fill="#fff"/><polygon points="830.0,1072.0 1360.0,1072.0 1360.0,1085.0 830.0,1085.0" fill="#fff"/><polygon points="835.0,615.8 856.9,615.8 856.4,621.8 855.0,625.3 849.3,626.3 842.6,625.5 836.9,623.2 835.0,623.2" fill="#fff"/><g transform="matrix(0.58000,0,0,0.74984,837.3,618.3)" fill="none" stroke="#1b4550" stroke-width="1.8" stroke-linejoin="round" stroke-linecap="round"><use href="#bnd" vector-effect="non-scaling-stroke"/><use href="#cst" vector-effect="non-scaling-stroke" stroke="#123039" stroke-width="2.0"/><use href="#isl" vector-effect="non-scaling-stroke" stroke="#123039" stroke-width="2.4"/></g></g><rect x="837.3" y="618.3" width="516.2" height="458.9" fill="none" stroke="#9a9a9e" stroke-width="2.2"/><path d="M853.5 1077.2v-5M853.5 618.3v5M911.5 1077.2v-5M911.5 618.3v5M969.5 1077.2v-5M969.5 618.3v5M1027.5 1077.2v-5M1027.5 618.3v5M1085.5 1077.2v-5M1085.5 618.3v5M1143.5 1077.2v-5M1143.5 618.3v5M1201.5 1077.2v-5M1201.5 618.3v5M1259.5 1077.2v-5M1259.5 618.3v5M1317.5 1077.2v-5M1317.5 618.3v5M837.3 1045.7h5M1353.5 1045.7h-5M837.3 970.7h5M1353.5 970.7h-5M837.3 895.7h5M1353.5 895.7h-5M837.3 820.8h5M1353.5 820.8h-5M837.3 745.8h5M1353.5 745.8h-5M837.3 670.8h5M1353.5 670.8h-5" stroke="#8a8a8e" stroke-width="1.6" fill="none"/><text x="0" y="0" transform="translate(853.5,1100.2) scale(1.22,1)" font-size="14" text-anchor="middle" fill="#333" stroke="#333" stroke-width="0.4">109</text><text x="0" y="0" transform="translate(911.5,1100.2) scale(1.22,1)" font-size="14" text-anchor="middle" fill="#333" stroke="#333" stroke-width="0.4">110</text><text x="0" y="0" transform="translate(969.5,1100.2) scale(1.22,1)" font-size="14" text-anchor="middle" fill="#333" stroke="#333" stroke-width="0.4">111</text><text x="0" y="0" transform="translate(1027.5,1100.2) scale(1.22,1)" font-size="14" text-anchor="middle" fill="#333" stroke="#333" stroke-width="0.4">112</text><text x="0" y="0" transform="translate(1085.5,1100.2) scale(1.22,1)" font-size="14" text-anchor="middle" fill="#333" stroke="#333" stroke-width="0.4">113</text><text x="0" y="0" transform="translate(1143.5,1100.2) scale(1.22,1)" font-size="14" text-anchor="middle" fill="#333" stroke="#333" stroke-width="0.4">114</text><text x="0" y="0" transform="translate(1201.5,1100.2) scale(1.22,1)" font-size="14" text-anchor="middle" fill="#333" stroke="#333" stroke-width="0.4">115</text><text x="0" y="0" transform="translate(1259.5,1100.2) scale(1.22,1)" font-size="14" text-anchor="middle" fill="#333" stroke="#333" stroke-width="0.4">116</text><text x="0" y="0" transform="translate(1317.5,1100.2) scale(1.22,1)" font-size="14" text-anchor="middle" fill="#333" stroke="#333" stroke-width="0.4">117</text><text x="0" y="0" transform="translate(830.3,1050.7) scale(1.22,1)" font-size="14" text-anchor="end" fill="#333" stroke="#333" stroke-width="0.4">20</text><text x="0" y="0" transform="translate(830.3,975.7) scale(1.22,1)" font-size="14" text-anchor="end" fill="#333" stroke="#333" stroke-width="0.4">21</text><text x="0" y="0" transform="translate(830.3,900.7) scale(1.22,1)" font-size="14" text-anchor="end" fill="#333" stroke="#333" stroke-width="0.4">22</text><text x="0" y="0" transform="translate(830.3,825.8) scale(1.22,1)" font-size="14" text-anchor="end" fill="#333" stroke="#333" stroke-width="0.4">23</text><text x="0" y="0" transform="translate(830.3,750.8) scale(1.22,1)" font-size="14" text-anchor="end" fill="#333" stroke="#333" stroke-width="0.4">24</text><text x="0" y="0" transform="translate(830.3,675.8) scale(1.22,1)" font-size="14" text-anchor="end" fill="#333" stroke="#333" stroke-width="0.4">25</text><text transform="translate(1095.4,1123.2) scale(1.30,1)" font-size="16" text-anchor="middle" fill="#333" stroke="#333" stroke-width="0.35">Longitude (E)</text><text transform="translate(802.3,847.8) rotate(-90) scale(1.1,1.22)" font-size="16" text-anchor="middle" fill="#333" stroke="#333" stroke-width="0.35">Latitude (N)</text><g shape-rendering="crispEdges"><rect x="1364.2" y="1074.91" width="22.7" height="2.89" fill="#ffffff"/><rect x="1364.2" y="1072.61" width="22.7" height="2.89" fill="#ffffff"/><rect x="1364.2" y="1070.32" width="22.7" height="2.89" fill="#ffffff"/><rect x="1364.2" y="1068.02" width="22.7" height="2.89" fill="#5bc9f2"/><rect x="1364.2" y="1065.73" width="22.7" height="2.89" fill="#3abff0"/><rect x="1364.2" y="1063.43" width="22.7" height="2.89" fill="#3ac1f0"/><rect x="1364.2" y="1061.14" width="22.7" height="2.89" fill="#39c2f1"/><rect x="1364.2" y="1058.84" width="22.7" height="2.89" fill="#39c3f1"/><rect x="1364.2" y="1056.55" width="22.7" height="2.89" fill="#39c4f1"/><rect x="1364.2" y="1054.26" width="22.7" height="2.89" fill="#39c6f1"/><rect x="1364.2" y="1051.96" width="22.7" height="2.89" fill="#39c7f1"/><rect x="1364.2" y="1049.67" width="22.7" height="2.89" fill="#39c8f1"/><rect x="1364.2" y="1047.37" width="22.7" height="2.89" fill="#38caf2"/><rect x="1364.2" y="1045.08" width="22.7" height="2.89" fill="#38cbf2"/><rect x="1364.2" y="1042.78" width="22.7" height="2.89" fill="#38ccf2"/><rect x="1364.2" y="1040.49" width="22.7" height="2.89" fill="#35cff3"/><rect x="1364.2" y="1038.19" width="22.7" height="2.89" fill="#33d1f4"/><rect x="1364.2" y="1035.90" width="22.7" height="2.89" fill="#31d3f5"/><rect x="1364.2" y="1033.60" width="22.7" height="2.89" fill="#2fd5f6"/><rect x="1364.2" y="1031.31" width="22.7" height="2.89" fill="#2cd8f6"/><rect x="1364.2" y="1029.02" width="22.7" height="2.89" fill="#2adaf7"/><rect x="1364.2" y="1026.72" width="22.7" height="2.89" fill="#27dcf8"/><rect x="1364.2" y="1024.43" width="22.7" height="2.89" fill="#1ee4fa"/><rect x="1364.2" y="1022.13" width="22.7" height="2.89" fill="#15eafb"/><rect x="1364.2" y="1019.84" width="22.7" height="2.89" fill="#0bf1fd"/><rect x="1364.2" y="1017.54" width="22.7" height="2.89" fill="#02f8ff"/><rect x="1364.2" y="1015.25" width="22.7" height="2.89" fill="#00faff"/><rect x="1364.2" y="1012.95" width="22.7" height="2.89" fill="#00fbff"/><rect x="1364.2" y="1010.66" width="22.7" height="2.89" fill="#00fbff"/><rect x="1364.2" y="1008.37" width="22.7" height="2.89" fill="#00fbff"/><rect x="1364.2" y="1006.07" width="22.7" height="2.89" fill="#00fbff"/><rect x="1364.2" y="1003.78" width="22.7" height="2.89" fill="#00fcff"/><rect x="1364.2" y="1001.48" width="22.7" height="2.89" fill="#00fcff"/><rect x="1364.2" y="999.19" width="22.7" height="2.89" fill="#00fcff"/><rect x="1364.2" y="996.89" width="22.7" height="2.89" fill="#00fdff"/><rect x="1364.2" y="994.60" width="22.7" height="2.89" fill="#00fdff"/><rect x="1364.2" y="992.30" width="22.7" height="2.89" fill="#00fdff"/><rect x="1364.2" y="990.01" width="22.7" height="2.89" fill="#00fdff"/><rect x="1364.2" y="987.71" width="22.7" height="2.89" fill="#00feff"/><rect x="1364.2" y="985.42" width="22.7" height="2.89" fill="#00feff"/><rect x="1364.2" y="983.13" width="22.7" height="2.89" fill="#00feff"/><rect x="1364.2" y="980.83" width="22.7" height="2.89" fill="#00ffff"/><rect x="1364.2" y="978.54" width="22.7" height="2.89" fill="#00ffff"/><rect x="1364.2" y="976.24" width="22.7" height="2.89" fill="#12faef"/><rect x="1364.2" y="973.95" width="22.7" height="2.89" fill="#2ef3d5"/><rect x="1364.2" y="971.65" width="22.7" height="2.89" fill="#3cf0c7"/><rect x="1364.2" y="969.36" width="22.7" height="2.89" fill="#3df0c6"/><rect x="1364.2" y="967.06" width="22.7" height="2.89" fill="#3df0c4"/><rect x="1364.2" y="964.77" width="22.7" height="2.89" fill="#3ef0c3"/><rect x="1364.2" y="962.48" width="22.7" height="2.89" fill="#3ef0c1"/><rect x="1364.2" y="960.18" width="22.7" height="2.89" fill="#3fefbf"/><rect x="1364.2" y="957.89" width="22.7" height="2.89" fill="#3fefbe"/><rect x="1364.2" y="955.59" width="22.7" height="2.89" fill="#40efbc"/><rect x="1364.2" y="953.30" width="22.7" height="2.89" fill="#40efbb"/><rect x="1364.2" y="951.00" width="22.7" height="2.89" fill="#41efb9"/><rect x="1364.2" y="948.71" width="22.7" height="2.89" fill="#41efb8"/><rect x="1364.2" y="946.41" width="22.7" height="2.89" fill="#42efb6"/><rect x="1364.2" y="944.12" width="22.7" height="2.89" fill="#42efb5"/><rect x="1364.2" y="941.82" width="22.7" height="2.89" fill="#43efb3"/><rect x="1364.2" y="939.53" width="22.7" height="2.89" fill="#44eeb1"/><rect x="1364.2" y="937.24" width="22.7" height="2.89" fill="#44eeb0"/><rect x="1364.2" y="934.94" width="22.7" height="2.89" fill="#45eeae"/><rect x="1364.2" y="932.65" width="22.7" height="2.89" fill="#45eead"/><rect x="1364.2" y="930.35" width="22.7" height="2.89" fill="#46eeab"/><rect x="1364.2" y="928.06" width="22.7" height="2.89" fill="#47eea4"/><rect x="1364.2" y="925.76" width="22.7" height="2.89" fill="#4aed88"/><rect x="1364.2" y="923.47" width="22.7" height="2.89" fill="#4eec6c"/><rect x="1364.2" y="921.17" width="22.7" height="2.89" fill="#50eb59"/><rect x="1364.2" y="918.88" width="22.7" height="2.89" fill="#51eb58"/><rect x="1364.2" y="916.59" width="22.7" height="2.89" fill="#51ec56"/><rect x="1364.2" y="914.29" width="22.7" height="2.89" fill="#52ec55"/><rect x="1364.2" y="912.00" width="22.7" height="2.89" fill="#52ec53"/><rect x="1364.2" y="909.70" width="22.7" height="2.89" fill="#53ec52"/><rect x="1364.2" y="907.41" width="22.7" height="2.89" fill="#53ed50"/><rect x="1364.2" y="905.11" width="22.7" height="2.89" fill="#54ed4f"/><rect x="1364.2" y="902.82" width="22.7" height="2.89" fill="#54ed4d"/><rect x="1364.2" y="900.52" width="22.7" height="2.89" fill="#55ed4c"/><rect x="1364.2" y="898.23" width="22.7" height="2.89" fill="#55ee4a"/><rect x="1364.2" y="895.93" width="22.7" height="2.89" fill="#56ee49"/><rect x="1364.2" y="893.64" width="22.7" height="2.89" fill="#56ee47"/><rect x="1364.2" y="891.35" width="22.7" height="2.89" fill="#57ee46"/><rect x="1364.2" y="889.05" width="22.7" height="2.89" fill="#57ef44"/><rect x="1364.2" y="886.76" width="22.7" height="2.89" fill="#58ef43"/><rect x="1364.2" y="884.46" width="22.7" height="2.89" fill="#58ef41"/><rect x="1364.2" y="882.17" width="22.7" height="2.89" fill="#59ef40"/><rect x="1364.2" y="879.87" width="22.7" height="2.89" fill="#59f03e"/><rect x="1364.2" y="877.58" width="22.7" height="2.89" fill="#5af03d"/><rect x="1364.2" y="875.28" width="22.7" height="2.89" fill="#67f137"/><rect x="1364.2" y="872.99" width="22.7" height="2.89" fill="#8df429"/><rect x="1364.2" y="870.69" width="22.7" height="2.89" fill="#b2f71b"/><rect x="1364.2" y="868.40" width="22.7" height="2.89" fill="#d7f90d"/><rect x="1364.2" y="866.11" width="22.7" height="2.89" fill="#fafc00"/><rect x="1364.2" y="863.81" width="22.7" height="2.89" fill="#fafb00"/><rect x="1364.2" y="861.52" width="22.7" height="2.89" fill="#fbfb00"/><rect x="1364.2" y="859.22" width="22.7" height="2.89" fill="#fbfa00"/><rect x="1364.2" y="856.93" width="22.7" height="2.89" fill="#fbfa00"/><rect x="1364.2" y="854.63" width="22.7" height="2.89" fill="#fcfa00"/><rect x="1364.2" y="852.34" width="22.7" height="2.89" fill="#fcf900"/><rect x="1364.2" y="850.04" width="22.7" height="2.89" fill="#fcf900"/><rect x="1364.2" y="847.75" width="22.7" height="2.89" fill="#fdf800"/><rect x="1364.2" y="845.46" width="22.7" height="2.89" fill="#fdf800"/><rect x="1364.2" y="843.16" width="22.7" height="2.89" fill="#fef700"/><rect x="1364.2" y="840.87" width="22.7" height="2.89" fill="#fef700"/><rect x="1364.2" y="838.57" width="22.7" height="2.89" fill="#fef600"/><rect x="1364.2" y="836.28" width="22.7" height="2.89" fill="#fff600"/><rect x="1364.2" y="833.98" width="22.7" height="2.89" fill="#fff500"/><rect x="1364.2" y="831.69" width="22.7" height="2.89" fill="#fff000"/><rect x="1364.2" y="829.39" width="22.7" height="2.89" fill="#ffe900"/><rect x="1364.2" y="827.10" width="22.7" height="2.89" fill="#ffe200"/><rect x="1364.2" y="824.80" width="22.7" height="2.89" fill="#ffda00"/><rect x="1364.2" y="822.51" width="22.7" height="2.89" fill="#ffd400"/><rect x="1364.2" y="820.22" width="22.7" height="2.89" fill="#ffcd00"/><rect x="1364.2" y="817.92" width="22.7" height="2.89" fill="#ffcb00"/><rect x="1364.2" y="815.63" width="22.7" height="2.89" fill="#ffc900"/><rect x="1364.2" y="813.33" width="22.7" height="2.89" fill="#ffc700"/><rect x="1364.2" y="811.04" width="22.7" height="2.89" fill="#ffc500"/><rect x="1364.2" y="808.74" width="22.7" height="2.89" fill="#ffc300"/><rect x="1364.2" y="806.45" width="22.7" height="2.89" fill="#ffc100"/><rect x="1364.2" y="804.15" width="22.7" height="2.89" fill="#ffbf00"/><rect x="1364.2" y="801.86" width="22.7" height="2.89" fill="#ffbd00"/><rect x="1364.2" y="799.57" width="22.7" height="2.89" fill="#ffbb00"/><rect x="1364.2" y="797.27" width="22.7" height="2.89" fill="#ffb900"/><rect x="1364.2" y="794.98" width="22.7" height="2.89" fill="#ffb400"/><rect x="1364.2" y="792.68" width="22.7" height="2.89" fill="#ffaf00"/><rect x="1364.2" y="790.39" width="22.7" height="2.89" fill="#ffaa00"/><rect x="1364.2" y="788.09" width="22.7" height="2.89" fill="#ffa500"/><rect x="1364.2" y="785.80" width="22.7" height="2.89" fill="#ffa000"/><rect x="1364.2" y="783.50" width="22.7" height="2.89" fill="#ff9b00"/><rect x="1364.2" y="781.21" width="22.7" height="2.89" fill="#ff9600"/><rect x="1364.2" y="778.91" width="22.7" height="2.89" fill="#ff8d00"/><rect x="1364.2" y="776.62" width="22.7" height="2.89" fill="#ff8400"/><rect x="1364.2" y="774.33" width="22.7" height="2.89" fill="#ff7b00"/><rect x="1364.2" y="772.03" width="22.7" height="2.89" fill="#ff7100"/><rect x="1364.2" y="769.74" width="22.7" height="2.89" fill="#ff6d00"/><rect x="1364.2" y="767.44" width="22.7" height="2.89" fill="#ff6c00"/><rect x="1364.2" y="765.15" width="22.7" height="2.89" fill="#ff6b00"/><rect x="1364.2" y="762.85" width="22.7" height="2.89" fill="#ff6a00"/><rect x="1364.2" y="760.56" width="22.7" height="2.89" fill="#ff6900"/><rect x="1364.2" y="758.26" width="22.7" height="2.89" fill="#ff6800"/><rect x="1364.2" y="755.97" width="22.7" height="2.89" fill="#ff6700"/><rect x="1364.2" y="753.68" width="22.7" height="2.89" fill="#ff6600"/><rect x="1364.2" y="751.38" width="22.7" height="2.89" fill="#ff6500"/><rect x="1364.2" y="749.09" width="22.7" height="2.89" fill="#ff6400"/><rect x="1364.2" y="746.79" width="22.7" height="2.89" fill="#ff6300"/><rect x="1364.2" y="744.50" width="22.7" height="2.89" fill="#ff6200"/><rect x="1364.2" y="742.20" width="22.7" height="2.89" fill="#ff6100"/><rect x="1364.2" y="739.91" width="22.7" height="2.89" fill="#ff6000"/><rect x="1364.2" y="737.61" width="22.7" height="2.89" fill="#ff5f00"/><rect x="1364.2" y="735.32" width="22.7" height="2.89" fill="#ff5e00"/><rect x="1364.2" y="733.02" width="22.7" height="2.89" fill="#ff5d00"/><rect x="1364.2" y="730.73" width="22.7" height="2.89" fill="#ff5c00"/><rect x="1364.2" y="728.44" width="22.7" height="2.89" fill="#ff5b00"/><rect x="1364.2" y="726.14" width="22.7" height="2.89" fill="#ff5a00"/><rect x="1364.2" y="723.85" width="22.7" height="2.89" fill="#ff5300"/><rect x="1364.2" y="721.55" width="22.7" height="2.89" fill="#ff4900"/><rect x="1364.2" y="719.26" width="22.7" height="2.89" fill="#ff3e00"/><rect x="1364.2" y="716.96" width="22.7" height="2.89" fill="#ff3400"/><rect x="1364.2" y="714.67" width="22.7" height="2.89" fill="#ff2900"/><rect x="1364.2" y="712.37" width="22.7" height="2.89" fill="#ff1f00"/><rect x="1364.2" y="710.08" width="22.7" height="2.89" fill="#ff1400"/><rect x="1364.2" y="707.79" width="22.7" height="2.89" fill="#ff0a00"/><rect x="1364.2" y="705.49" width="22.7" height="2.89" fill="#ff0000"/><rect x="1364.2" y="703.20" width="22.7" height="2.89" fill="#fe0000"/><rect x="1364.2" y="700.90" width="22.7" height="2.89" fill="#fd0000"/><rect x="1364.2" y="698.61" width="22.7" height="2.89" fill="#fc0000"/><rect x="1364.2" y="696.31" width="22.7" height="2.89" fill="#fb0000"/><rect x="1364.2" y="694.02" width="22.7" height="2.89" fill="#fb0000"/><rect x="1364.2" y="691.72" width="22.7" height="2.89" fill="#fa0000"/><rect x="1364.2" y="689.43" width="22.7" height="2.89" fill="#f90000"/><rect x="1364.2" y="687.13" width="22.7" height="2.89" fill="#f80000"/><rect x="1364.2" y="684.84" width="22.7" height="2.89" fill="#f70000"/><rect x="1364.2" y="682.55" width="22.7" height="2.89" fill="#f60000"/><rect x="1364.2" y="680.25" width="22.7" height="2.89" fill="#f50000"/><rect x="1364.2" y="677.96" width="22.7" height="2.89" fill="#f40000"/><rect x="1364.2" y="675.66" width="22.7" height="2.89" fill="#f40000"/><rect x="1364.2" y="673.37" width="22.7" height="2.89" fill="#f30000"/><rect x="1364.2" y="671.07" width="22.7" height="2.89" fill="#f20000"/><rect x="1364.2" y="668.78" width="22.7" height="2.89" fill="#f10000"/><rect x="1364.2" y="666.48" width="22.7" height="2.89" fill="#f00000"/><rect x="1364.2" y="664.19" width="22.7" height="2.89" fill="#e00000"/><rect x="1364.2" y="661.90" width="22.7" height="2.89" fill="#ce0000"/><rect x="1364.2" y="659.60" width="22.7" height="2.89" fill="#bd0000"/><rect x="1364.2" y="657.31" width="22.7" height="2.89" fill="#b10000"/><rect x="1364.2" y="655.01" width="22.7" height="2.89" fill="#a60000"/><rect x="1364.2" y="652.72" width="22.7" height="2.89" fill="#9a0000"/><rect x="1364.2" y="650.42" width="22.7" height="2.89" fill="#8f0000"/><rect x="1364.2" y="648.13" width="22.7" height="2.89" fill="#8b0000"/><rect x="1364.2" y="645.83" width="22.7" height="2.89" fill="#8a0000"/><rect x="1364.2" y="643.54" width="22.7" height="2.89" fill="#8a0000"/><rect x="1364.2" y="641.25" width="22.7" height="2.89" fill="#890000"/><rect x="1364.2" y="638.95" width="22.7" height="2.89" fill="#880000"/><rect x="1364.2" y="636.66" width="22.7" height="2.89" fill="#870000"/><rect x="1364.2" y="634.36" width="22.7" height="2.89" fill="#860000"/><rect x="1364.2" y="632.07" width="22.7" height="2.89" fill="#850000"/><rect x="1364.2" y="629.77" width="22.7" height="2.89" fill="#850000"/><rect x="1364.2" y="627.48" width="22.7" height="2.89" fill="#840000"/><rect x="1364.2" y="625.18" width="22.7" height="2.89" fill="#830000"/><rect x="1364.2" y="622.89" width="22.7" height="2.89" fill="#820000"/><rect x="1364.2" y="620.59" width="22.7" height="2.89" fill="#810000"/><rect x="1364.2" y="618.30" width="22.7" height="2.89" fill="#800000"/></g><rect x="1364.2" y="618.3" width="22.7" height="458.9" fill="none" stroke="#8a8a8e" stroke-width="1.8"/><text transform="translate(1393.9,1083.5) scale(1.2,1)" font-size="14" fill="#333" stroke="#333" stroke-width="0.4">0</text><text transform="translate(1393.9,1017.9) scale(1.2,1)" font-size="14" fill="#333" stroke="#333" stroke-width="0.4">2</text><text transform="translate(1393.9,952.4) scale(1.2,1)" font-size="14" fill="#333" stroke="#333" stroke-width="0.4">4</text><text transform="translate(1393.9,886.8) scale(1.2,1)" font-size="14" fill="#333" stroke="#333" stroke-width="0.4">6</text><text transform="translate(1393.9,821.3) scale(1.2,1)" font-size="14" fill="#333" stroke="#333" stroke-width="0.4">8</text><text transform="translate(1393.9,755.7) scale(1.2,1)" font-size="14" fill="#333" stroke="#333" stroke-width="0.4">10</text><text transform="translate(1393.9,690.2) scale(1.2,1)" font-size="14" fill="#333" stroke="#333" stroke-width="0.4">12</text><text transform="translate(1393.9,624.6) scale(1.2,1)" font-size="14" fill="#333" stroke="#333" stroke-width="0.4">14</text><path d="M1386.9 1077.2h-4M1386.9 1011.6h-4M1386.9 946.1h-4M1386.9 880.5h-4M1386.9 815.0h-4M1386.9 749.4h-4M1386.9 683.9h-4M1386.9 618.3h-4" stroke="#777" stroke-width="1.4"/><text transform="translate(1434.9,847.8) rotate(-90) scale(1,1.18)" font-size="14.5" text-anchor="middle" fill="#333" stroke="#333" stroke-width="0.35">TVCD</text><text transform="translate(1393.9,610.5) scale(1.15,1)" font-size="16" text-anchor="middle" fill="#777">×</text><text transform="translate(1402.2,611.0) scale(1.2,1)" font-size="14" fill="#333" stroke="#333" stroke-width="0.35">10</text><text transform="translate(1422.1000000000001,604.0) scale(1.2,1)" font-size="10.5" fill="#444" stroke="#444" stroke-width="0.3">15</text>
<text transform="translate(536.5,465.5) scale(1.010,1)" font-size="48" text-anchor="middle" fill="#000">(a)</text>
<text transform="translate(1290.8,466.5) scale(1.080,1)" font-size="48" text-anchor="middle" fill="#000">(b)</text>
<text transform="translate(536.5,1039) scale(1.000,1)" font-size="48" text-anchor="middle" fill="#000">(c)</text>
<text transform="translate(1298.5,1039) scale(1.100,1)" font-size="48" text-anchor="middle" fill="#000">(d)</text>
</svg></body></html>
